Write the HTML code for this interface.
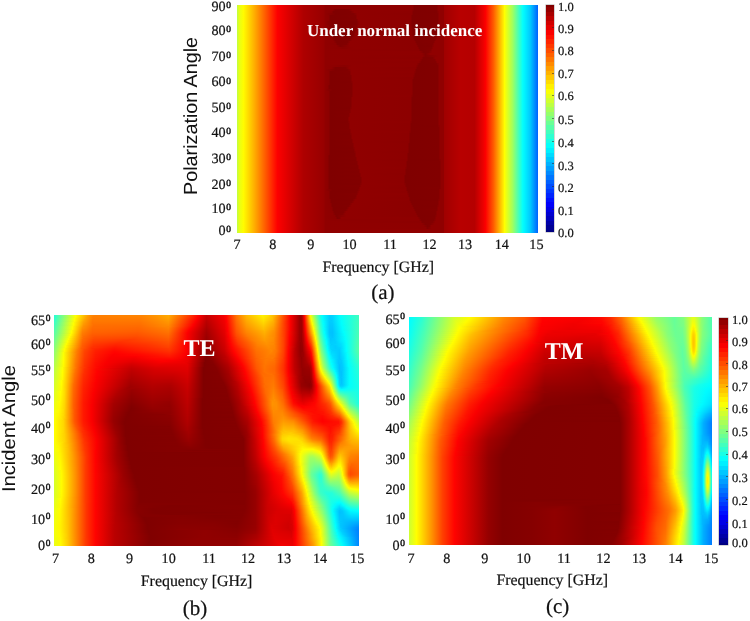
<!DOCTYPE html>
<html><head><meta charset="utf-8"><title>Absorption maps</title>
<style>
html,body{margin:0;padding:0;background:#fff;}
#wrap{position:relative;width:750px;height:621px;overflow:hidden;background:#fff;}
.hm{position:absolute;}
.hm i{position:absolute;left:0;width:100%;display:block;}
.cb{position:absolute;box-shadow:0 0 0 0.5px rgba(90,90,90,.5);}
.tk{position:absolute;width:2px;height:1px;background:rgba(40,40,40,.55);}
.ov{position:absolute;left:0;top:0;text-rendering:geometricPrecision;}
.ov .k{stroke:#111;stroke-width:0.2;}
.ov .s{stroke-width:0.45;}
</style></head><body>
<div id="wrap">
<div class="hm" style="left:237px;top:5px;width:301px;height:228px">
<i style="top:0px;height:2px;background:linear-gradient(90deg,#c8ff37 0.5px,#e9ff16 2.5px,#fffc00 6.5px,#ffad00 17.5px,#ff1500 37.5px,#fd0000 40.5px,#ae0000 66.5px,#980000 86.5px,#900000 88.5px,#8d0000 175.5px,#800000 177.5px,#820000 199.5px,#900000 201.5px,#900000 206.5px,#a00000 207.5px,#b80000 223.5px,#b50000 237.5px,#e00 246.5px,#fd0000 248.5px,#ff5c00 256.5px,#ffed00 266.5px,#ff0 267.5px,#a2ff5d 275.5px,#08fff7 285.5px,#00f4ff 287.5px,#00c7ff 293.5px,#0068ff 300.5px)"></i>
<i style="top:2px;height:2px;background:linear-gradient(90deg,#c8ff37 0.5px,#e9ff16 2.5px,#fffc00 6.5px,#ffad00 17.5px,#ff1500 37.5px,#fd0000 40.5px,#ae0000 66.5px,#980000 86.5px,#900000 88.5px,#8d0000 175.5px,#800000 177.5px,#820000 199.5px,#900000 201.5px,#900000 206.5px,#a00000 207.5px,#b80000 223.5px,#b50000 237.5px,#e00 246.5px,#fd0000 248.5px,#ff5c00 256.5px,#ffed00 266.5px,#ff0 267.5px,#a2ff5d 275.5px,#08fff7 285.5px,#00f4ff 287.5px,#00c7ff 293.5px,#0068ff 300.5px)"></i>
<i style="top:4px;height:2px;background:linear-gradient(90deg,#c8ff37 0.5px,#e9ff16 2.5px,#fffc00 6.5px,#ffad00 17.5px,#ff1500 37.5px,#fd0000 40.5px,#ae0000 66.5px,#980000 86.5px,#900000 88.5px,#8e0000 95.5px,#810000 98.5px,#820000 111.5px,#900000 115.5px,#8e0000 174.5px,#800000 177.5px,#820000 199.5px,#900000 201.5px,#900000 206.5px,#a00000 207.5px,#b80000 223.5px,#b50000 237.5px,#e00 246.5px,#fd0000 248.5px,#ff5c00 256.5px,#ffed00 266.5px,#ff0 267.5px,#a2ff5d 275.5px,#08fff7 285.5px,#00f4ff 287.5px,#00c7ff 293.5px,#0068ff 300.5px)"></i>
<i style="top:6px;height:2px;background:linear-gradient(90deg,#c8ff37 0.5px,#e9ff16 2.5px,#fffc00 6.5px,#ffad00 17.5px,#ff1500 37.5px,#fd0000 40.5px,#ae0000 66.5px,#980000 86.5px,#900000 88.5px,#8c0000 94.5px,#800000 96.5px,#820000 113.5px,#900000 117.5px,#8d0000 174.5px,#800000 176.5px,#810000 199.5px,#900000 202.5px,#900000 206.5px,#a00000 207.5px,#b80000 223.5px,#b50000 237.5px,#e00 246.5px,#fd0000 248.5px,#ff5c00 256.5px,#ffed00 266.5px,#ff0 267.5px,#a2ff5d 275.5px,#08fff7 285.5px,#00f4ff 287.5px,#00c7ff 293.5px,#0068ff 300.5px)"></i>
<i style="top:8px;height:2px;background:linear-gradient(90deg,#c8ff37 0.5px,#e9ff16 2.5px,#fffc00 6.5px,#ffad00 17.5px,#ff1500 37.5px,#fd0000 40.5px,#ae0000 66.5px,#980000 86.5px,#900000 88.5px,#800 93.5px,#800000 98.5px,#820000 116.5px,#900000 120.5px,#8c0000 174.5px,#800000 176.5px,#820000 200.5px,#900000 202.5px,#900000 206.5px,#a00000 207.5px,#b80000 223.5px,#b50000 237.5px,#e00 246.5px,#fd0000 248.5px,#ff5c00 256.5px,#ffed00 266.5px,#ff0 267.5px,#a2ff5d 275.5px,#08fff7 285.5px,#00f4ff 287.5px,#00c7ff 293.5px,#0068ff 300.5px)"></i>
<i style="top:10px;height:2px;background:linear-gradient(90deg,#c8ff37 0.5px,#e9ff16 2.5px,#fffc00 6.5px,#ffad00 17.5px,#ff1500 37.5px,#fd0000 40.5px,#ae0000 66.5px,#980000 86.5px,#900000 88.5px,#8d0000 91.5px,#800000 93.5px,#830000 118.5px,#900000 120.5px,#8d0000 173.5px,#800000 175.5px,#820000 200.5px,#900000 202.5px,#900000 206.5px,#a00000 207.5px,#b80000 223.5px,#b50000 237.5px,#e00 246.5px,#fd0000 248.5px,#ff5c00 256.5px,#ffed00 266.5px,#ff0 267.5px,#a2ff5d 275.5px,#08fff7 285.5px,#00f4ff 287.5px,#00c7ff 293.5px,#0068ff 300.5px)"></i>
<i style="top:12px;height:2px;background:linear-gradient(90deg,#c8ff37 0.5px,#e9ff16 2.5px,#fffc00 6.5px,#ffad00 17.5px,#ff1500 37.5px,#fd0000 40.5px,#ae0000 66.5px,#980000 86.5px,#900000 88.5px,#8d0000 91.5px,#800000 93.5px,#820000 118.5px,#900000 120.5px,#8d0000 173.5px,#800000 175.5px,#820000 200.5px,#900000 202.5px,#900000 206.5px,#a00000 207.5px,#b80000 223.5px,#b50000 237.5px,#e00 246.5px,#fd0000 248.5px,#ff5c00 256.5px,#ffed00 266.5px,#ff0 267.5px,#a2ff5d 275.5px,#08fff7 285.5px,#00f4ff 287.5px,#00c7ff 293.5px,#0068ff 300.5px)"></i>
<i style="top:14px;height:2px;background:linear-gradient(90deg,#c8ff37 0.5px,#e9ff16 2.5px,#fffc00 6.5px,#ffad00 17.5px,#ff1500 37.5px,#fd0000 40.5px,#ae0000 66.5px,#980000 86.5px,#900000 88.5px,#8d0000 91.5px,#800000 93.5px,#830000 119.5px,#900000 121.5px,#8d0000 173.5px,#800000 175.5px,#820000 200.5px,#900000 202.5px,#900000 206.5px,#a00000 207.5px,#b80000 223.5px,#b50000 237.5px,#e00 246.5px,#fd0000 248.5px,#ff5c00 256.5px,#ffed00 266.5px,#ff0 267.5px,#a2ff5d 275.5px,#08fff7 285.5px,#00f4ff 287.5px,#00c7ff 293.5px,#0068ff 300.5px)"></i>
<i style="top:16px;height:2px;background:linear-gradient(90deg,#c8ff37 0.5px,#e9ff16 2.5px,#fffc00 6.5px,#ffad00 17.5px,#ff1500 37.5px,#fd0000 40.5px,#ae0000 66.5px,#980000 86.5px,#900000 88.5px,#800 91.5px,#800000 95.5px,#810000 119.5px,#900000 122.5px,#8d0000 173.5px,#800000 175.5px,#820000 200.5px,#900000 202.5px,#900000 206.5px,#a00000 207.5px,#b80000 223.5px,#b50000 237.5px,#e00 246.5px,#fd0000 248.5px,#ff5c00 256.5px,#ffed00 266.5px,#ff0 267.5px,#a2ff5d 275.5px,#08fff7 285.5px,#00f4ff 287.5px,#00c7ff 293.5px,#0068ff 300.5px)"></i>
<i style="top:18px;height:2px;background:linear-gradient(90deg,#c8ff37 0.5px,#e9ff16 2.5px,#fffc00 6.5px,#ffad00 17.5px,#ff1500 37.5px,#fd0000 40.5px,#ae0000 66.5px,#980000 86.5px,#900000 88.5px,#800 91.5px,#800000 95.5px,#810000 119.5px,#900000 122.5px,#8d0000 173.5px,#800000 175.5px,#830000 200.5px,#900000 202.5px,#900000 206.5px,#a00000 207.5px,#b80000 223.5px,#b50000 237.5px,#e00 246.5px,#fd0000 248.5px,#ff5c00 256.5px,#ffed00 266.5px,#ff0 267.5px,#a2ff5d 275.5px,#08fff7 285.5px,#00f4ff 287.5px,#00c7ff 293.5px,#0068ff 300.5px)"></i>
<i style="top:20px;height:2px;background:linear-gradient(90deg,#c8ff37 0.5px,#e9ff16 2.5px,#fffc00 6.5px,#ffad00 17.5px,#ff1500 37.5px,#fd0000 40.5px,#ae0000 66.5px,#980000 86.5px,#900000 88.5px,#8d0000 91.5px,#800000 93.5px,#830000 119.5px,#900000 121.5px,#8d0000 173.5px,#800000 175.5px,#820000 199.5px,#900000 201.5px,#900000 206.5px,#a00000 207.5px,#b80000 223.5px,#b50000 237.5px,#e00 246.5px,#fd0000 248.5px,#ff5c00 256.5px,#ffed00 266.5px,#ff0 267.5px,#a2ff5d 275.5px,#08fff7 285.5px,#00f4ff 287.5px,#00c7ff 293.5px,#0068ff 300.5px)"></i>
<i style="top:22px;height:2px;background:linear-gradient(90deg,#c8ff37 0.5px,#e9ff16 2.5px,#fffc00 6.5px,#ffad00 17.5px,#ff1500 37.5px,#fd0000 40.5px,#ae0000 66.5px,#980000 86.5px,#900000 88.5px,#800 92.5px,#800000 96.5px,#820000 118.5px,#900000 120.5px,#8e0000 173.5px,#800000 176.5px,#820000 199.5px,#900000 201.5px,#900000 206.5px,#a00000 207.5px,#b80000 223.5px,#b50000 237.5px,#e00 246.5px,#fd0000 248.5px,#ff5c00 256.5px,#ffed00 266.5px,#ff0 267.5px,#a2ff5d 275.5px,#08fff7 285.5px,#00f4ff 287.5px,#00c7ff 293.5px,#0068ff 300.5px)"></i>
<i style="top:24px;height:2px;background:linear-gradient(90deg,#c8ff37 0.5px,#e9ff16 2.5px,#fffc00 6.5px,#ffad00 17.5px,#ff1500 37.5px,#fd0000 40.5px,#ae0000 66.5px,#980000 86.5px,#900000 88.5px,#8d0000 92.5px,#800000 94.5px,#810000 117.5px,#900000 120.5px,#8d0000 174.5px,#800000 176.5px,#820000 199.5px,#900000 201.5px,#900000 206.5px,#a00000 207.5px,#b80000 223.5px,#b50000 237.5px,#e00 246.5px,#fd0000 248.5px,#ff5c00 256.5px,#ffed00 266.5px,#ff0 267.5px,#a2ff5d 275.5px,#08fff7 285.5px,#00f4ff 287.5px,#00c7ff 293.5px,#0068ff 300.5px)"></i>
<i style="top:26px;height:2px;background:linear-gradient(90deg,#c8ff37 0.5px,#e9ff16 2.5px,#fffc00 6.5px,#ffad00 17.5px,#ff1500 37.5px,#fd0000 40.5px,#ae0000 66.5px,#980000 86.5px,#900000 88.5px,#8d0000 92.5px,#800000 94.5px,#830000 117.5px,#900000 119.5px,#8d0000 174.5px,#800000 176.5px,#820000 199.5px,#900000 201.5px,#900000 206.5px,#a00000 207.5px,#b80000 223.5px,#b50000 237.5px,#e00 246.5px,#fd0000 248.5px,#ff5c00 256.5px,#ffed00 266.5px,#ff0 267.5px,#a2ff5d 275.5px,#08fff7 285.5px,#00f4ff 287.5px,#00c7ff 293.5px,#0068ff 300.5px)"></i>
<i style="top:28px;height:2px;background:linear-gradient(90deg,#c8ff37 0.5px,#e9ff16 2.5px,#fffc00 6.5px,#ffad00 17.5px,#ff1500 37.5px,#fd0000 40.5px,#ae0000 66.5px,#980000 86.5px,#900000 88.5px,#8c0000 93.5px,#800000 95.5px,#820000 116.5px,#900000 118.5px,#8d0000 174.5px,#800000 176.5px,#830000 199.5px,#900000 201.5px,#900000 206.5px,#a00000 207.5px,#b80000 223.5px,#b50000 237.5px,#e00 246.5px,#fd0000 248.5px,#ff5c00 256.5px,#ffed00 266.5px,#ff0 267.5px,#a2ff5d 275.5px,#08fff7 285.5px,#00f4ff 287.5px,#00c7ff 293.5px,#0068ff 300.5px)"></i>
<i style="top:30px;height:2px;background:linear-gradient(90deg,#c8ff37 0.5px,#e9ff16 2.5px,#fffc00 6.5px,#ffad00 17.5px,#ff1500 37.5px,#fd0000 40.5px,#ae0000 66.5px,#980000 86.5px,#900000 88.5px,#8e0000 93.5px,#800000 96.5px,#820000 115.5px,#900000 118.5px,#8e0000 174.5px,#800000 177.5px,#820000 198.5px,#900000 200.5px,#900000 206.5px,#a00000 207.5px,#b80000 223.5px,#b50000 237.5px,#e00 246.5px,#fd0000 248.5px,#ff5c00 256.5px,#ffed00 266.5px,#ff0 267.5px,#a2ff5d 275.5px,#08fff7 285.5px,#00f4ff 287.5px,#00c7ff 293.5px,#0068ff 300.5px)"></i>
<i style="top:32px;height:2px;background:linear-gradient(90deg,#c8ff37 0.5px,#e9ff16 2.5px,#fffc00 6.5px,#ffad00 17.5px,#ff1500 37.5px,#fd0000 40.5px,#ae0000 66.5px,#980000 86.5px,#900000 88.5px,#8e0000 94.5px,#800000 97.5px,#810000 113.5px,#900000 116.5px,#8d0000 175.5px,#800000 177.5px,#810000 197.5px,#900000 200.5px,#900000 206.5px,#a00000 207.5px,#b80000 223.5px,#b50000 237.5px,#e00 246.5px,#fd0000 248.5px,#ff5c00 256.5px,#ffed00 266.5px,#ff0 267.5px,#a2ff5d 275.5px,#08fff7 285.5px,#00f4ff 287.5px,#00c7ff 293.5px,#0068ff 300.5px)"></i>
<i style="top:34px;height:2px;background:linear-gradient(90deg,#c8ff37 0.5px,#e9ff16 2.5px,#fffc00 6.5px,#ffad00 17.5px,#ff1500 37.5px,#fd0000 40.5px,#ae0000 66.5px,#980000 86.5px,#900000 88.5px,#8e0000 95.5px,#800000 98.5px,#820000 112.5px,#900000 115.5px,#8c0000 176.5px,#800000 178.5px,#830000 197.5px,#900000 199.5px,#900000 206.5px,#a00000 207.5px,#b80000 223.5px,#b50000 237.5px,#e00 246.5px,#fd0000 248.5px,#ff5c00 256.5px,#ffed00 266.5px,#ff0 267.5px,#a2ff5d 275.5px,#08fff7 285.5px,#00f4ff 287.5px,#00c7ff 293.5px,#0068ff 300.5px)"></i>
<i style="top:36px;height:2px;background:linear-gradient(90deg,#c8ff37 0.5px,#e9ff16 2.5px,#fffc00 6.5px,#ffad00 17.5px,#ff1500 37.5px,#fd0000 40.5px,#ae0000 66.5px,#980000 86.5px,#900000 88.5px,#8e0000 96.5px,#800000 99.5px,#810000 110.5px,#900000 113.5px,#8c0000 177.5px,#800000 179.5px,#830000 196.5px,#900000 198.5px,#900000 206.5px,#a00000 207.5px,#b80000 223.5px,#b50000 237.5px,#e00 246.5px,#fd0000 248.5px,#ff5c00 256.5px,#ffed00 266.5px,#ff0 267.5px,#a2ff5d 275.5px,#08fff7 285.5px,#00f4ff 287.5px,#00c7ff 293.5px,#0068ff 300.5px)"></i>
<i style="top:38px;height:2px;background:linear-gradient(90deg,#c8ff37 0.5px,#e9ff16 2.5px,#fffc00 6.5px,#ffad00 17.5px,#ff1500 37.5px,#fd0000 40.5px,#ae0000 66.5px,#980000 86.5px,#900000 88.5px,#8c0000 98.5px,#800000 100.5px,#820000 109.5px,#900000 112.5px,#8c0000 178.5px,#800000 180.5px,#820000 195.5px,#900000 197.5px,#900000 206.5px,#a00000 207.5px,#b80000 223.5px,#b50000 237.5px,#e00 246.5px,#fd0000 248.5px,#ff5c00 256.5px,#ffed00 266.5px,#ff0 267.5px,#a2ff5d 275.5px,#08fff7 285.5px,#00f4ff 287.5px,#00c7ff 293.5px,#0068ff 300.5px)"></i>
<i style="top:40px;height:2px;background:linear-gradient(90deg,#c8ff37 0.5px,#e9ff16 2.5px,#fffc00 6.5px,#ffad00 17.5px,#ff1500 37.5px,#fd0000 40.5px,#ae0000 66.5px,#980000 86.5px,#900000 88.5px,#8e0000 99.5px,#800000 103.5px,#800 108.5px,#900000 113.5px,#8c0000 179.5px,#800000 181.5px,#810000 194.5px,#900000 197.5px,#900000 206.5px,#a00000 207.5px,#b80000 223.5px,#b50000 237.5px,#e00 246.5px,#fd0000 248.5px,#ff5c00 256.5px,#ffed00 266.5px,#ff0 267.5px,#a2ff5d 275.5px,#08fff7 285.5px,#00f4ff 287.5px,#00c7ff 293.5px,#0068ff 300.5px)"></i>
<i style="top:42px;height:2px;background:linear-gradient(90deg,#c8ff37 0.5px,#e9ff16 2.5px,#fffc00 6.5px,#ffad00 17.5px,#ff1500 37.5px,#fd0000 40.5px,#ae0000 66.5px,#980000 86.5px,#900000 88.5px,#8d0000 102.5px,#890000 105.5px,#900000 116.5px,#8c0000 180.5px,#800000 182.5px,#830000 194.5px,#900000 196.5px,#900000 206.5px,#a00000 207.5px,#b80000 223.5px,#b50000 237.5px,#e00 246.5px,#fd0000 248.5px,#ff5c00 256.5px,#ffed00 266.5px,#ff0 267.5px,#a2ff5d 275.5px,#08fff7 285.5px,#00f4ff 287.5px,#00c7ff 293.5px,#0068ff 300.5px)"></i>
<i style="top:44px;height:2px;background:linear-gradient(90deg,#c8ff37 0.5px,#e9ff16 2.5px,#fffc00 6.5px,#ffad00 17.5px,#ff1500 37.5px,#fd0000 40.5px,#ae0000 66.5px,#980000 86.5px,#900000 88.5px,#8c0000 181.5px,#800000 183.5px,#830000 193.5px,#900000 195.5px,#900000 206.5px,#a00000 207.5px,#b80000 223.5px,#b50000 237.5px,#e00 246.5px,#fd0000 248.5px,#ff5c00 256.5px,#ffed00 266.5px,#ff0 267.5px,#a2ff5d 275.5px,#08fff7 285.5px,#00f4ff 287.5px,#00c7ff 293.5px,#0068ff 300.5px)"></i>
<i style="top:46px;height:2px;background:linear-gradient(90deg,#c8ff37 0.5px,#e9ff16 2.5px,#fffc00 6.5px,#ffad00 17.5px,#ff1500 37.5px,#fd0000 40.5px,#ae0000 66.5px,#980000 86.5px,#900000 88.5px,#8e0000 182.5px,#800000 186.5px,#820000 191.5px,#900000 195.5px,#900000 206.5px,#a00000 207.5px,#b80000 223.5px,#b50000 237.5px,#e00 246.5px,#fd0000 248.5px,#ff5c00 256.5px,#ffed00 266.5px,#ff0 267.5px,#a2ff5d 275.5px,#08fff7 285.5px,#00f4ff 287.5px,#00c7ff 293.5px,#0068ff 300.5px)"></i>
<i style="top:48px;height:2px;background:linear-gradient(90deg,#c8ff37 0.5px,#e9ff16 2.5px,#fffc00 6.5px,#ffad00 17.5px,#ff1500 37.5px,#fd0000 40.5px,#ae0000 66.5px,#980000 86.5px,#900000 88.5px,#8e0000 184.5px,#800000 188.5px,#900000 193.5px,#900000 206.5px,#a00000 207.5px,#b80000 223.5px,#b50000 237.5px,#e00 246.5px,#fd0000 248.5px,#ff5c00 256.5px,#ffed00 266.5px,#ff0 267.5px,#a2ff5d 275.5px,#08fff7 285.5px,#00f4ff 287.5px,#00c7ff 293.5px,#0068ff 300.5px)"></i>
<i style="top:50px;height:2px;background:linear-gradient(90deg,#c8ff37 0.5px,#e9ff16 2.5px,#fffc00 6.5px,#ffad00 17.5px,#ff1500 37.5px,#fd0000 40.5px,#ae0000 66.5px,#980000 86.5px,#900000 88.5px,#8d0000 185.5px,#810000 188.5px,#900000 201.5px,#900000 206.5px,#a00000 207.5px,#b80000 223.5px,#b50000 237.5px,#e00 246.5px,#fd0000 248.5px,#ff5c00 256.5px,#ffed00 266.5px,#ff0 267.5px,#a2ff5d 275.5px,#08fff7 285.5px,#00f4ff 287.5px,#00c7ff 293.5px,#0068ff 300.5px)"></i>
<i style="top:52px;height:2px;background:linear-gradient(90deg,#c8ff37 0.5px,#e9ff16 2.5px,#fffc00 6.5px,#ffad00 17.5px,#ff1500 37.5px,#fd0000 40.5px,#ae0000 66.5px,#980000 86.5px,#900000 88.5px,#8c0000 184.5px,#800000 186.5px,#810000 195.5px,#900000 198.5px,#900000 206.5px,#a00000 207.5px,#b80000 223.5px,#b50000 237.5px,#e00 246.5px,#fd0000 248.5px,#ff5c00 256.5px,#ffed00 266.5px,#ff0 267.5px,#a2ff5d 275.5px,#08fff7 285.5px,#00f4ff 287.5px,#00c7ff 293.5px,#0068ff 300.5px)"></i>
<i style="top:54px;height:2px;background:linear-gradient(90deg,#c8ff37 0.5px,#e9ff16 2.5px,#fffc00 6.5px,#ffad00 17.5px,#ff1500 37.5px,#fd0000 40.5px,#ae0000 66.5px,#980000 86.5px,#900000 88.5px,#8e0000 182.5px,#800000 185.5px,#830000 197.5px,#900000 199.5px,#900000 206.5px,#a00000 207.5px,#b80000 223.5px,#b50000 237.5px,#e00 246.5px,#fd0000 248.5px,#ff5c00 256.5px,#ffed00 266.5px,#ff0 267.5px,#a2ff5d 275.5px,#08fff7 285.5px,#00f4ff 287.5px,#00c7ff 293.5px,#0068ff 300.5px)"></i>
<i style="top:56px;height:2px;background:linear-gradient(90deg,#c8ff37 0.5px,#e9ff16 2.5px,#fffc00 6.5px,#ffad00 17.5px,#ff1500 37.5px,#fd0000 40.5px,#ae0000 66.5px,#980000 86.5px,#900000 88.5px,#8d0000 181.5px,#800000 184.5px,#830000 198.5px,#900000 200.5px,#900000 206.5px,#a00000 207.5px,#b80000 223.5px,#b50000 237.5px,#e00 246.5px,#fd0000 248.5px,#ff5c00 256.5px,#ffed00 266.5px,#ff0 267.5px,#a2ff5d 275.5px,#08fff7 285.5px,#00f4ff 287.5px,#00c7ff 293.5px,#0068ff 300.5px)"></i>
<i style="top:58px;height:2px;background:linear-gradient(90deg,#c8ff37 0.5px,#e9ff16 2.5px,#fffc00 6.5px,#ffad00 17.5px,#ff1500 37.5px,#fd0000 40.5px,#ae0000 66.5px,#980000 86.5px,#900000 88.5px,#8e0000 179.5px,#800000 182.5px,#820000 199.5px,#900000 202.5px,#900000 206.5px,#a00000 207.5px,#b80000 223.5px,#b50000 237.5px,#e00 246.5px,#fd0000 248.5px,#ff5c00 256.5px,#ffed00 266.5px,#ff0 267.5px,#a2ff5d 275.5px,#08fff7 285.5px,#00f4ff 287.5px,#00c7ff 293.5px,#0068ff 300.5px)"></i>
<i style="top:60px;height:2px;background:linear-gradient(90deg,#c8ff37 0.5px,#e9ff16 2.5px,#fffc00 6.5px,#ffad00 17.5px,#ff1500 37.5px,#fd0000 40.5px,#ae0000 66.5px,#980000 86.5px,#900000 88.5px,#8e0000 96.5px,#890000 107.5px,#900000 115.5px,#8e0000 178.5px,#800000 181.5px,#820000 200.5px,#900000 202.5px,#900000 206.5px,#a00000 207.5px,#b80000 223.5px,#b50000 237.5px,#e00 246.5px,#fd0000 248.5px,#ff5c00 256.5px,#ffed00 266.5px,#ff0 267.5px,#a2ff5d 275.5px,#08fff7 285.5px,#00f4ff 287.5px,#00c7ff 293.5px,#0068ff 300.5px)"></i>
<i style="top:62px;height:2px;background:linear-gradient(90deg,#c8ff37 0.5px,#e9ff16 2.5px,#fffc00 6.5px,#ffad00 17.5px,#ff1500 37.5px,#fd0000 40.5px,#ae0000 66.5px,#980000 86.5px,#900000 88.5px,#8e0000 94.5px,#800000 98.5px,#820000 108.5px,#900000 112.5px,#8c0000 178.5px,#800000 180.5px,#820000 200.5px,#900000 202.5px,#900000 206.5px,#a00000 207.5px,#b80000 223.5px,#b50000 237.5px,#e00 246.5px,#fd0000 248.5px,#ff5c00 256.5px,#ffed00 266.5px,#ff0 267.5px,#a2ff5d 275.5px,#08fff7 285.5px,#00f4ff 287.5px,#00c7ff 293.5px,#0068ff 300.5px)"></i>
<i style="top:64px;height:2px;background:linear-gradient(90deg,#c8ff37 0.5px,#e9ff16 2.5px,#fffc00 6.5px,#ffad00 17.5px,#ff1500 37.5px,#fd0000 40.5px,#ae0000 66.5px,#980000 86.5px,#900000 88.5px,#800 93.5px,#800000 98.5px,#820000 110.5px,#900000 114.5px,#8d0000 177.5px,#800000 179.5px,#820000 200.5px,#900000 202.5px,#900000 206.5px,#a00000 207.5px,#b80000 223.5px,#b50000 237.5px,#e00 246.5px,#fd0000 248.5px,#ff5c00 256.5px,#ffed00 266.5px,#ff0 267.5px,#a2ff5d 275.5px,#08fff7 285.5px,#00f4ff 287.5px,#00c7ff 293.5px,#0068ff 300.5px)"></i>
<i style="top:66px;height:2px;background:linear-gradient(90deg,#c8ff37 0.5px,#e9ff16 2.5px,#fffc00 6.5px,#ffad00 17.5px,#ff1500 37.5px,#fd0000 40.5px,#ae0000 66.5px,#980000 86.5px,#900000 88.5px,#8d0000 91.5px,#800000 93.5px,#830000 112.5px,#900000 114.5px,#8e0000 176.5px,#800000 179.5px,#820000 200.5px,#900000 202.5px,#900000 206.5px,#a00000 207.5px,#b80000 223.5px,#b50000 237.5px,#e00 246.5px,#fd0000 248.5px,#ff5c00 256.5px,#ffed00 266.5px,#ff0 267.5px,#a2ff5d 275.5px,#08fff7 285.5px,#00f4ff 287.5px,#00c7ff 293.5px,#0068ff 300.5px)"></i>
<i style="top:68px;height:2px;background:linear-gradient(90deg,#c8ff37 0.5px,#e9ff16 2.5px,#fffc00 6.5px,#ffad00 17.5px,#ff1500 37.5px,#fd0000 40.5px,#ae0000 66.5px,#980000 86.5px,#900000 88.5px,#8d0000 91.5px,#800000 93.5px,#820000 112.5px,#900000 114.5px,#8d0000 176.5px,#800000 178.5px,#820000 200.5px,#900000 202.5px,#900000 206.5px,#a00000 207.5px,#b80000 223.5px,#b50000 237.5px,#e00 246.5px,#fd0000 248.5px,#ff5c00 256.5px,#ffed00 266.5px,#ff0 267.5px,#a2ff5d 275.5px,#08fff7 285.5px,#00f4ff 287.5px,#00c7ff 293.5px,#0068ff 300.5px)"></i>
<i style="top:70px;height:2px;background:linear-gradient(90deg,#c8ff37 0.5px,#e9ff16 2.5px,#fffc00 6.5px,#ffad00 17.5px,#ff1500 37.5px,#fd0000 40.5px,#ae0000 66.5px,#980000 86.5px,#900000 88.5px,#8d0000 91.5px,#800000 93.5px,#830000 113.5px,#900000 115.5px,#8e0000 175.5px,#800000 178.5px,#820000 200.5px,#900000 202.5px,#900000 206.5px,#a00000 207.5px,#b80000 223.5px,#b50000 237.5px,#e00 246.5px,#fd0000 248.5px,#ff5c00 256.5px,#ffed00 266.5px,#ff0 267.5px,#a2ff5d 275.5px,#08fff7 285.5px,#00f4ff 287.5px,#00c7ff 293.5px,#0068ff 300.5px)"></i>
<i style="top:72px;height:2px;background:linear-gradient(90deg,#c8ff37 0.5px,#e9ff16 2.5px,#fffc00 6.5px,#ffad00 17.5px,#ff1500 37.5px,#fd0000 40.5px,#ae0000 66.5px,#980000 86.5px,#900000 88.5px,#8d0000 91.5px,#800000 93.5px,#820000 113.5px,#900000 115.5px,#8c0000 175.5px,#800000 177.5px,#820000 200.5px,#900000 202.5px,#900000 206.5px,#a00000 207.5px,#b80000 223.5px,#b50000 237.5px,#e00 246.5px,#fd0000 248.5px,#ff5c00 256.5px,#ffed00 266.5px,#ff0 267.5px,#a2ff5d 275.5px,#08fff7 285.5px,#00f4ff 287.5px,#00c7ff 293.5px,#0068ff 300.5px)"></i>
<i style="top:74px;height:2px;background:linear-gradient(90deg,#c8ff37 0.5px,#e9ff16 2.5px,#fffc00 6.5px,#ffad00 17.5px,#ff1500 37.5px,#fd0000 40.5px,#ae0000 66.5px,#980000 86.5px,#900000 88.5px,#8d0000 91.5px,#800000 93.5px,#820000 113.5px,#900000 115.5px,#8d0000 174.5px,#800000 176.5px,#820000 200.5px,#900000 202.5px,#900000 206.5px,#a00000 207.5px,#b80000 223.5px,#b50000 237.5px,#e00 246.5px,#fd0000 248.5px,#ff5c00 256.5px,#ffed00 266.5px,#ff0 267.5px,#a2ff5d 275.5px,#08fff7 285.5px,#00f4ff 287.5px,#00c7ff 293.5px,#0068ff 300.5px)"></i>
<i style="top:76px;height:2px;background:linear-gradient(90deg,#c8ff37 0.5px,#e9ff16 2.5px,#fffc00 6.5px,#ffad00 17.5px,#ff1500 37.5px,#fd0000 40.5px,#ae0000 66.5px,#980000 86.5px,#900000 88.5px,#8d0000 91.5px,#800000 93.5px,#810000 113.5px,#900000 116.5px,#8d0000 174.5px,#800000 176.5px,#820000 200.5px,#900000 202.5px,#900000 206.5px,#a00000 207.5px,#b80000 223.5px,#b50000 237.5px,#e00 246.5px,#fd0000 248.5px,#ff5c00 256.5px,#ffed00 266.5px,#ff0 267.5px,#a2ff5d 275.5px,#08fff7 285.5px,#00f4ff 287.5px,#00c7ff 293.5px,#0068ff 300.5px)"></i>
<i style="top:78px;height:2px;background:linear-gradient(90deg,#c8ff37 0.5px,#e9ff16 2.5px,#fffc00 6.5px,#ffad00 17.5px,#ff1500 37.5px,#fd0000 40.5px,#ae0000 66.5px,#980000 86.5px,#900000 88.5px,#8c0000 91.5px,#800000 93.5px,#820000 114.5px,#900000 116.5px,#8d0000 174.5px,#800000 176.5px,#820000 200.5px,#900000 202.5px,#900000 206.5px,#a00000 207.5px,#b80000 223.5px,#b50000 237.5px,#e00 246.5px,#fd0000 248.5px,#ff5c00 256.5px,#ffed00 266.5px,#ff0 267.5px,#a2ff5d 275.5px,#08fff7 285.5px,#00f4ff 287.5px,#00c7ff 293.5px,#0068ff 300.5px)"></i>
<i style="top:80px;height:2px;background:linear-gradient(90deg,#c8ff37 0.5px,#e9ff16 2.5px,#fffc00 6.5px,#ffad00 17.5px,#ff1500 37.5px,#fd0000 40.5px,#ae0000 66.5px,#980000 86.5px,#900000 88.5px,#8d0000 90.5px,#800000 92.5px,#820000 114.5px,#900000 116.5px,#8d0000 174.5px,#800000 176.5px,#820000 200.5px,#900000 202.5px,#900000 206.5px,#a00000 207.5px,#b80000 223.5px,#b50000 237.5px,#e00 246.5px,#fd0000 248.5px,#ff5c00 256.5px,#ffed00 266.5px,#ff0 267.5px,#a2ff5d 275.5px,#08fff7 285.5px,#00f4ff 287.5px,#00c7ff 293.5px,#0068ff 300.5px)"></i>
<i style="top:82px;height:2px;background:linear-gradient(90deg,#c8ff37 0.5px,#e9ff16 2.5px,#fffc00 6.5px,#ffad00 17.5px,#ff1500 37.5px,#fd0000 40.5px,#ae0000 66.5px,#980000 86.5px,#900000 88.5px,#8d0000 90.5px,#800000 92.5px,#820000 114.5px,#900000 116.5px,#8d0000 174.5px,#800000 176.5px,#820000 200.5px,#900000 202.5px,#900000 206.5px,#a00000 207.5px,#b80000 223.5px,#b50000 237.5px,#e00 246.5px,#fd0000 248.5px,#ff5c00 256.5px,#ffed00 266.5px,#ff0 267.5px,#a2ff5d 275.5px,#08fff7 285.5px,#00f4ff 287.5px,#00c7ff 293.5px,#0068ff 300.5px)"></i>
<i style="top:84px;height:2px;background:linear-gradient(90deg,#c8ff37 0.5px,#e9ff16 2.5px,#fffc00 6.5px,#ffad00 17.5px,#ff1500 37.5px,#fd0000 40.5px,#ae0000 66.5px,#980000 86.5px,#900000 88.5px,#800 91.5px,#800000 95.5px,#820000 114.5px,#900000 116.5px,#8d0000 174.5px,#800000 176.5px,#820000 200.5px,#900000 202.5px,#900000 206.5px,#a00000 207.5px,#b80000 223.5px,#b50000 237.5px,#e00 246.5px,#fd0000 248.5px,#ff5c00 256.5px,#ffed00 266.5px,#ff0 267.5px,#a2ff5d 275.5px,#08fff7 285.5px,#00f4ff 287.5px,#00c7ff 293.5px,#0068ff 300.5px)"></i>
<i style="top:86px;height:2px;background:linear-gradient(90deg,#c8ff37 0.5px,#e9ff16 2.5px,#fffc00 6.5px,#ffad00 17.5px,#ff1500 37.5px,#fd0000 40.5px,#ae0000 66.5px,#980000 86.5px,#900000 88.5px,#8d0000 91.5px,#800000 93.5px,#820000 114.5px,#900000 116.5px,#8d0000 174.5px,#800000 176.5px,#820000 200.5px,#900000 202.5px,#900000 206.5px,#a00000 207.5px,#b80000 223.5px,#b50000 237.5px,#e00 246.5px,#fd0000 248.5px,#ff5c00 256.5px,#ffed00 266.5px,#ff0 267.5px,#a2ff5d 275.5px,#08fff7 285.5px,#00f4ff 287.5px,#00c7ff 293.5px,#0068ff 300.5px)"></i>
<i style="top:88px;height:2px;background:linear-gradient(90deg,#c8ff37 0.5px,#e9ff16 2.5px,#fffc00 6.5px,#ffad00 17.5px,#ff1500 37.5px,#fd0000 40.5px,#ae0000 66.5px,#980000 86.5px,#900000 88.5px,#8d0000 91.5px,#800000 93.5px,#820000 114.5px,#900000 116.5px,#8d0000 174.5px,#800000 176.5px,#820000 200.5px,#900000 202.5px,#900000 206.5px,#a00000 207.5px,#b80000 223.5px,#b50000 237.5px,#e00 246.5px,#fd0000 248.5px,#ff5c00 256.5px,#ffed00 266.5px,#ff0 267.5px,#a2ff5d 275.5px,#08fff7 285.5px,#00f4ff 287.5px,#00c7ff 293.5px,#0068ff 300.5px)"></i>
<i style="top:90px;height:2px;background:linear-gradient(90deg,#c8ff37 0.5px,#e9ff16 2.5px,#fffc00 6.5px,#ffad00 17.5px,#ff1500 37.5px,#fd0000 40.5px,#ae0000 66.5px,#980000 86.5px,#900000 88.5px,#8d0000 91.5px,#800000 93.5px,#830000 114.5px,#900000 116.5px,#8e0000 173.5px,#800000 176.5px,#820000 200.5px,#900000 202.5px,#900000 206.5px,#a00000 207.5px,#b80000 223.5px,#b50000 237.5px,#e00 246.5px,#fd0000 248.5px,#ff5c00 256.5px,#ffed00 266.5px,#ff0 267.5px,#a2ff5d 275.5px,#08fff7 285.5px,#00f4ff 287.5px,#00c7ff 293.5px,#0068ff 300.5px)"></i>
<i style="top:92px;height:2px;background:linear-gradient(90deg,#c8ff37 0.5px,#e9ff16 2.5px,#fffc00 6.5px,#ffad00 17.5px,#ff1500 37.5px,#fd0000 40.5px,#ae0000 66.5px,#980000 86.5px,#900000 88.5px,#8d0000 91.5px,#800000 93.5px,#820000 113.5px,#900000 115.5px,#8d0000 173.5px,#800000 175.5px,#820000 200.5px,#900000 202.5px,#900000 206.5px,#a00000 207.5px,#b80000 223.5px,#b50000 237.5px,#e00 246.5px,#fd0000 248.5px,#ff5c00 256.5px,#ffed00 266.5px,#ff0 267.5px,#a2ff5d 275.5px,#08fff7 285.5px,#00f4ff 287.5px,#00c7ff 293.5px,#0068ff 300.5px)"></i>
<i style="top:94px;height:2px;background:linear-gradient(90deg,#c8ff37 0.5px,#e9ff16 2.5px,#fffc00 6.5px,#ffad00 17.5px,#ff1500 37.5px,#fd0000 40.5px,#ae0000 66.5px,#980000 86.5px,#900000 88.5px,#8d0000 91.5px,#800000 93.5px,#820000 113.5px,#900000 115.5px,#8d0000 173.5px,#800000 175.5px,#820000 200.5px,#900000 202.5px,#900000 206.5px,#a00000 207.5px,#b80000 223.5px,#b50000 237.5px,#e00 246.5px,#fd0000 248.5px,#ff5c00 256.5px,#ffed00 266.5px,#ff0 267.5px,#a2ff5d 275.5px,#08fff7 285.5px,#00f4ff 287.5px,#00c7ff 293.5px,#0068ff 300.5px)"></i>
<i style="top:96px;height:2px;background:linear-gradient(90deg,#c8ff37 0.5px,#e9ff16 2.5px,#fffc00 6.5px,#ffad00 17.5px,#ff1500 37.5px,#fd0000 40.5px,#ae0000 66.5px,#980000 86.5px,#900000 88.5px,#8d0000 91.5px,#800000 93.5px,#820000 113.5px,#900000 115.5px,#8d0000 173.5px,#800000 175.5px,#820000 200.5px,#900000 202.5px,#900000 206.5px,#a00000 207.5px,#b80000 223.5px,#b50000 237.5px,#e00 246.5px,#fd0000 248.5px,#ff5c00 256.5px,#ffed00 266.5px,#ff0 267.5px,#a2ff5d 275.5px,#08fff7 285.5px,#00f4ff 287.5px,#00c7ff 293.5px,#0068ff 300.5px)"></i>
<i style="top:98px;height:2px;background:linear-gradient(90deg,#c8ff37 0.5px,#e9ff16 2.5px,#fffc00 6.5px,#ffad00 17.5px,#ff1500 37.5px,#fd0000 40.5px,#ae0000 66.5px,#980000 86.5px,#900000 88.5px,#8d0000 91.5px,#800000 93.5px,#820000 113.5px,#900000 115.5px,#8d0000 173.5px,#800000 175.5px,#820000 200.5px,#900000 202.5px,#900000 206.5px,#a00000 207.5px,#b80000 223.5px,#b50000 237.5px,#e00 246.5px,#fd0000 248.5px,#ff5c00 256.5px,#ffed00 266.5px,#ff0 267.5px,#a2ff5d 275.5px,#08fff7 285.5px,#00f4ff 287.5px,#00c7ff 293.5px,#0068ff 300.5px)"></i>
<i style="top:100px;height:2px;background:linear-gradient(90deg,#c8ff37 0.5px,#e9ff16 2.5px,#fffc00 6.5px,#ffad00 17.5px,#ff1500 37.5px,#fd0000 40.5px,#ae0000 66.5px,#980000 86.5px,#900000 88.5px,#8d0000 91.5px,#800000 93.5px,#820000 113.5px,#900000 115.5px,#8d0000 173.5px,#800000 175.5px,#820000 200.5px,#900000 202.5px,#900000 206.5px,#a00000 207.5px,#b80000 223.5px,#b50000 237.5px,#e00 246.5px,#fd0000 248.5px,#ff5c00 256.5px,#ffed00 266.5px,#ff0 267.5px,#a2ff5d 275.5px,#08fff7 285.5px,#00f4ff 287.5px,#00c7ff 293.5px,#0068ff 300.5px)"></i>
<i style="top:102px;height:2px;background:linear-gradient(90deg,#c8ff37 0.5px,#e9ff16 2.5px,#fffc00 6.5px,#ffad00 17.5px,#ff1500 37.5px,#fd0000 40.5px,#ae0000 66.5px,#980000 86.5px,#900000 88.5px,#8d0000 91.5px,#800000 93.5px,#810000 112.5px,#900000 115.5px,#8d0000 173.5px,#800000 175.5px,#820000 200.5px,#900000 202.5px,#900000 206.5px,#a00000 207.5px,#b80000 223.5px,#b50000 237.5px,#e00 246.5px,#fd0000 248.5px,#ff5c00 256.5px,#ffed00 266.5px,#ff0 267.5px,#a2ff5d 275.5px,#08fff7 285.5px,#00f4ff 287.5px,#00c7ff 293.5px,#0068ff 300.5px)"></i>
<i style="top:104px;height:2px;background:linear-gradient(90deg,#c8ff37 0.5px,#e9ff16 2.5px,#fffc00 6.5px,#ffad00 17.5px,#ff1500 37.5px,#fd0000 40.5px,#ae0000 66.5px,#980000 86.5px,#900000 88.5px,#8d0000 91.5px,#800000 93.5px,#820000 112.5px,#900000 114.5px,#8d0000 173.5px,#800000 175.5px,#820000 200.5px,#900000 202.5px,#900000 206.5px,#a00000 207.5px,#b80000 223.5px,#b50000 237.5px,#e00 246.5px,#fd0000 248.5px,#ff5c00 256.5px,#ffed00 266.5px,#ff0 267.5px,#a2ff5d 275.5px,#08fff7 285.5px,#00f4ff 287.5px,#00c7ff 293.5px,#0068ff 300.5px)"></i>
<i style="top:106px;height:2px;background:linear-gradient(90deg,#c8ff37 0.5px,#e9ff16 2.5px,#fffc00 6.5px,#ffad00 17.5px,#ff1500 37.5px,#fd0000 40.5px,#ae0000 66.5px,#980000 86.5px,#900000 88.5px,#8d0000 91.5px,#800000 93.5px,#830000 112.5px,#900000 114.5px,#8d0000 173.5px,#800000 175.5px,#820000 200.5px,#900000 202.5px,#900000 206.5px,#a00000 207.5px,#b80000 223.5px,#b50000 237.5px,#e00 246.5px,#fd0000 248.5px,#ff5c00 256.5px,#ffed00 266.5px,#ff0 267.5px,#a2ff5d 275.5px,#08fff7 285.5px,#00f4ff 287.5px,#00c7ff 293.5px,#0068ff 300.5px)"></i>
<i style="top:108px;height:2px;background:linear-gradient(90deg,#c8ff37 0.5px,#e9ff16 2.5px,#fffc00 6.5px,#ffad00 17.5px,#ff1500 37.5px,#fd0000 40.5px,#ae0000 66.5px,#980000 86.5px,#900000 88.5px,#8d0000 91.5px,#800000 93.5px,#820000 111.5px,#900000 113.5px,#8d0000 173.5px,#800000 175.5px,#820000 200.5px,#900000 202.5px,#900000 206.5px,#a00000 207.5px,#b80000 223.5px,#b50000 237.5px,#e00 246.5px,#fd0000 248.5px,#ff5c00 256.5px,#ffed00 266.5px,#ff0 267.5px,#a2ff5d 275.5px,#08fff7 285.5px,#00f4ff 287.5px,#00c7ff 293.5px,#0068ff 300.5px)"></i>
<i style="top:110px;height:2px;background:linear-gradient(90deg,#c8ff37 0.5px,#e9ff16 2.5px,#fffc00 6.5px,#ffad00 17.5px,#ff1500 37.5px,#fd0000 40.5px,#ae0000 66.5px,#980000 86.5px,#900000 88.5px,#8d0000 91.5px,#800000 93.5px,#830000 111.5px,#900000 113.5px,#8d0000 173.5px,#800000 175.5px,#820000 200.5px,#900000 202.5px,#900000 206.5px,#a00000 207.5px,#b80000 223.5px,#b50000 237.5px,#e00 246.5px,#fd0000 248.5px,#ff5c00 256.5px,#ffed00 266.5px,#ff0 267.5px,#a2ff5d 275.5px,#08fff7 285.5px,#00f4ff 287.5px,#00c7ff 293.5px,#0068ff 300.5px)"></i>
<i style="top:112px;height:2px;background:linear-gradient(90deg,#c8ff37 0.5px,#e9ff16 2.5px,#fffc00 6.5px,#ffad00 17.5px,#ff1500 37.5px,#fd0000 40.5px,#ae0000 66.5px,#980000 86.5px,#900000 88.5px,#8d0000 91.5px,#800000 93.5px,#820000 110.5px,#900000 112.5px,#8d0000 173.5px,#800000 175.5px,#820000 200.5px,#900000 202.5px,#900000 206.5px,#a00000 207.5px,#b80000 223.5px,#b50000 237.5px,#e00 246.5px,#fd0000 248.5px,#ff5c00 256.5px,#ffed00 266.5px,#ff0 267.5px,#a2ff5d 275.5px,#08fff7 285.5px,#00f4ff 287.5px,#00c7ff 293.5px,#0068ff 300.5px)"></i>
<i style="top:114px;height:2px;background:linear-gradient(90deg,#c8ff37 0.5px,#e9ff16 2.5px,#fffc00 6.5px,#ffad00 17.5px,#ff1500 37.5px,#fd0000 40.5px,#ae0000 66.5px,#980000 86.5px,#900000 88.5px,#8d0000 91.5px,#800000 93.5px,#820000 110.5px,#900000 112.5px,#8d0000 173.5px,#800000 175.5px,#820000 200.5px,#900000 202.5px,#900000 206.5px,#a00000 207.5px,#b80000 223.5px,#b50000 237.5px,#e00 246.5px,#fd0000 248.5px,#ff5c00 256.5px,#ffed00 266.5px,#ff0 267.5px,#a2ff5d 275.5px,#08fff7 285.5px,#00f4ff 287.5px,#00c7ff 293.5px,#0068ff 300.5px)"></i>
<i style="top:116px;height:2px;background:linear-gradient(90deg,#c8ff37 0.5px,#e9ff16 2.5px,#fffc00 6.5px,#ffad00 17.5px,#ff1500 37.5px,#fd0000 40.5px,#ae0000 66.5px,#980000 86.5px,#900000 88.5px,#8d0000 91.5px,#800000 93.5px,#810000 110.5px,#900000 113.5px,#8e0000 172.5px,#800000 175.5px,#820000 200.5px,#900000 202.5px,#900000 206.5px,#a00000 207.5px,#b80000 223.5px,#b50000 237.5px,#e00 246.5px,#fd0000 248.5px,#ff5c00 256.5px,#ffed00 266.5px,#ff0 267.5px,#a2ff5d 275.5px,#08fff7 285.5px,#00f4ff 287.5px,#00c7ff 293.5px,#0068ff 300.5px)"></i>
<i style="top:118px;height:2px;background:linear-gradient(90deg,#c8ff37 0.5px,#e9ff16 2.5px,#fffc00 6.5px,#ffad00 17.5px,#ff1500 37.5px,#fd0000 40.5px,#ae0000 66.5px,#980000 86.5px,#900000 88.5px,#8d0000 91.5px,#800000 93.5px,#820000 111.5px,#900000 113.5px,#8d0000 172.5px,#800000 174.5px,#820000 200.5px,#900000 202.5px,#900000 206.5px,#a00000 207.5px,#b80000 223.5px,#b50000 237.5px,#e00 246.5px,#fd0000 248.5px,#ff5c00 256.5px,#ffed00 266.5px,#ff0 267.5px,#a2ff5d 275.5px,#08fff7 285.5px,#00f4ff 287.5px,#00c7ff 293.5px,#0068ff 300.5px)"></i>
<i style="top:120px;height:2px;background:linear-gradient(90deg,#c8ff37 0.5px,#e9ff16 2.5px,#fffc00 6.5px,#ffad00 17.5px,#ff1500 37.5px,#fd0000 40.5px,#ae0000 66.5px,#980000 86.5px,#900000 88.5px,#8d0000 91.5px,#800000 93.5px,#820000 111.5px,#900000 113.5px,#8d0000 172.5px,#800000 174.5px,#810000 200.5px,#900000 203.5px,#900000 206.5px,#a00000 207.5px,#b80000 223.5px,#b50000 237.5px,#e00 246.5px,#fd0000 248.5px,#ff5c00 256.5px,#ffed00 266.5px,#ff0 267.5px,#a2ff5d 275.5px,#08fff7 285.5px,#00f4ff 287.5px,#00c7ff 293.5px,#0068ff 300.5px)"></i>
<i style="top:122px;height:2px;background:linear-gradient(90deg,#c8ff37 0.5px,#e9ff16 2.5px,#fffc00 6.5px,#ffad00 17.5px,#ff1500 37.5px,#fd0000 40.5px,#ae0000 66.5px,#980000 86.5px,#900000 88.5px,#8d0000 91.5px,#800000 93.5px,#820000 111.5px,#900000 113.5px,#8d0000 172.5px,#800000 174.5px,#820000 201.5px,#900000 203.5px,#900000 206.5px,#a00000 207.5px,#b80000 223.5px,#b50000 237.5px,#e00 246.5px,#fd0000 248.5px,#ff5c00 256.5px,#ffed00 266.5px,#ff0 267.5px,#a2ff5d 275.5px,#08fff7 285.5px,#00f4ff 287.5px,#00c7ff 293.5px,#0068ff 300.5px)"></i>
<i style="top:124px;height:2px;background:linear-gradient(90deg,#c8ff37 0.5px,#e9ff16 2.5px,#fffc00 6.5px,#ffad00 17.5px,#ff1500 37.5px,#fd0000 40.5px,#ae0000 66.5px,#980000 86.5px,#900000 88.5px,#8d0000 91.5px,#800000 93.5px,#830000 112.5px,#900000 114.5px,#8d0000 172.5px,#800000 174.5px,#820000 201.5px,#900000 203.5px,#900000 206.5px,#a00000 207.5px,#b80000 223.5px,#b50000 237.5px,#e00 246.5px,#fd0000 248.5px,#ff5c00 256.5px,#ffed00 266.5px,#ff0 267.5px,#a2ff5d 275.5px,#08fff7 285.5px,#00f4ff 287.5px,#00c7ff 293.5px,#0068ff 300.5px)"></i>
<i style="top:126px;height:2px;background:linear-gradient(90deg,#c8ff37 0.5px,#e9ff16 2.5px,#fffc00 6.5px,#ffad00 17.5px,#ff1500 37.5px,#fd0000 40.5px,#ae0000 66.5px,#980000 86.5px,#900000 88.5px,#8d0000 91.5px,#800000 93.5px,#820000 112.5px,#900000 114.5px,#8e0000 171.5px,#800000 174.5px,#820000 201.5px,#900000 203.5px,#900000 206.5px,#a00000 207.5px,#b80000 223.5px,#b50000 237.5px,#e00 246.5px,#fd0000 248.5px,#ff5c00 256.5px,#ffed00 266.5px,#ff0 267.5px,#a2ff5d 275.5px,#08fff7 285.5px,#00f4ff 287.5px,#00c7ff 293.5px,#0068ff 300.5px)"></i>
<i style="top:128px;height:2px;background:linear-gradient(90deg,#c8ff37 0.5px,#e9ff16 2.5px,#fffc00 6.5px,#ffad00 17.5px,#ff1500 37.5px,#fd0000 40.5px,#ae0000 66.5px,#980000 86.5px,#900000 88.5px,#8d0000 91.5px,#800000 93.5px,#810000 112.5px,#900000 115.5px,#8d0000 171.5px,#800000 173.5px,#820000 201.5px,#900000 203.5px,#900000 206.5px,#a00000 207.5px,#b80000 223.5px,#b50000 237.5px,#e00 246.5px,#fd0000 248.5px,#ff5c00 256.5px,#ffed00 266.5px,#ff0 267.5px,#a2ff5d 275.5px,#08fff7 285.5px,#00f4ff 287.5px,#00c7ff 293.5px,#0068ff 300.5px)"></i>
<i style="top:130px;height:2px;background:linear-gradient(90deg,#c8ff37 0.5px,#e9ff16 2.5px,#fffc00 6.5px,#ffad00 17.5px,#ff1500 37.5px,#fd0000 40.5px,#ae0000 66.5px,#980000 86.5px,#900000 88.5px,#8d0000 91.5px,#800000 93.5px,#820000 113.5px,#900000 115.5px,#8d0000 171.5px,#800000 173.5px,#820000 201.5px,#900000 203.5px,#900000 206.5px,#a00000 207.5px,#b80000 223.5px,#b50000 237.5px,#e00 246.5px,#fd0000 248.5px,#ff5c00 256.5px,#ffed00 266.5px,#ff0 267.5px,#a2ff5d 275.5px,#08fff7 285.5px,#00f4ff 287.5px,#00c7ff 293.5px,#0068ff 300.5px)"></i>
<i style="top:132px;height:2px;background:linear-gradient(90deg,#c8ff37 0.5px,#e9ff16 2.5px,#fffc00 6.5px,#ffad00 17.5px,#ff1500 37.5px,#fd0000 40.5px,#ae0000 66.5px,#980000 86.5px,#900000 88.5px,#8d0000 91.5px,#800000 93.5px,#820000 113.5px,#900000 115.5px,#8d0000 171.5px,#800000 173.5px,#820000 201.5px,#900000 203.5px,#900000 206.5px,#a00000 207.5px,#b80000 223.5px,#b50000 237.5px,#e00 246.5px,#fd0000 248.5px,#ff5c00 256.5px,#ffed00 266.5px,#ff0 267.5px,#a2ff5d 275.5px,#08fff7 285.5px,#00f4ff 287.5px,#00c7ff 293.5px,#0068ff 300.5px)"></i>
<i style="top:134px;height:2px;background:linear-gradient(90deg,#c8ff37 0.5px,#e9ff16 2.5px,#fffc00 6.5px,#ffad00 17.5px,#ff1500 37.5px,#fd0000 40.5px,#ae0000 66.5px,#980000 86.5px,#900000 88.5px,#8d0000 91.5px,#800000 93.5px,#830000 114.5px,#900000 116.5px,#8d0000 171.5px,#800000 173.5px,#820000 201.5px,#900000 203.5px,#900000 206.5px,#a00000 207.5px,#b80000 223.5px,#b50000 237.5px,#e00 246.5px,#fd0000 248.5px,#ff5c00 256.5px,#ffed00 266.5px,#ff0 267.5px,#a2ff5d 275.5px,#08fff7 285.5px,#00f4ff 287.5px,#00c7ff 293.5px,#0068ff 300.5px)"></i>
<i style="top:136px;height:2px;background:linear-gradient(90deg,#c8ff37 0.5px,#e9ff16 2.5px,#fffc00 6.5px,#ffad00 17.5px,#ff1500 37.5px,#fd0000 40.5px,#ae0000 66.5px,#980000 86.5px,#900000 88.5px,#8d0000 91.5px,#800000 93.5px,#820000 114.5px,#900000 116.5px,#8c0000 171.5px,#800000 173.5px,#820000 201.5px,#900000 203.5px,#900000 206.5px,#a00000 207.5px,#b80000 223.5px,#b50000 237.5px,#e00 246.5px,#fd0000 248.5px,#ff5c00 256.5px,#ffed00 266.5px,#ff0 267.5px,#a2ff5d 275.5px,#08fff7 285.5px,#00f4ff 287.5px,#00c7ff 293.5px,#0068ff 300.5px)"></i>
<i style="top:138px;height:2px;background:linear-gradient(90deg,#c8ff37 0.5px,#e9ff16 2.5px,#fffc00 6.5px,#ffad00 17.5px,#ff1500 37.5px,#fd0000 40.5px,#ae0000 66.5px,#980000 86.5px,#900000 88.5px,#8d0000 91.5px,#800000 93.5px,#830000 115.5px,#900000 117.5px,#8d0000 170.5px,#800000 172.5px,#820000 201.5px,#900000 203.5px,#900000 206.5px,#a00000 207.5px,#b80000 223.5px,#b50000 237.5px,#e00 246.5px,#fd0000 248.5px,#ff5c00 256.5px,#ffed00 266.5px,#ff0 267.5px,#a2ff5d 275.5px,#08fff7 285.5px,#00f4ff 287.5px,#00c7ff 293.5px,#0068ff 300.5px)"></i>
<i style="top:140px;height:2px;background:linear-gradient(90deg,#c8ff37 0.5px,#e9ff16 2.5px,#fffc00 6.5px,#ffad00 17.5px,#ff1500 37.5px,#fd0000 40.5px,#ae0000 66.5px,#980000 86.5px,#900000 88.5px,#8d0000 91.5px,#800000 93.5px,#820000 115.5px,#900000 117.5px,#8d0000 170.5px,#800000 172.5px,#820000 201.5px,#900000 203.5px,#900000 206.5px,#a00000 207.5px,#b80000 223.5px,#b50000 237.5px,#e00 246.5px,#fd0000 248.5px,#ff5c00 256.5px,#ffed00 266.5px,#ff0 267.5px,#a2ff5d 275.5px,#08fff7 285.5px,#00f4ff 287.5px,#00c7ff 293.5px,#0068ff 300.5px)"></i>
<i style="top:142px;height:2px;background:linear-gradient(90deg,#c8ff37 0.5px,#e9ff16 2.5px,#fffc00 6.5px,#ffad00 17.5px,#ff1500 37.5px,#fd0000 40.5px,#ae0000 66.5px,#980000 86.5px,#900000 88.5px,#8d0000 91.5px,#800000 93.5px,#810000 115.5px,#900000 118.5px,#8d0000 170.5px,#800000 172.5px,#820000 201.5px,#900000 203.5px,#900000 206.5px,#a00000 207.5px,#b80000 223.5px,#b50000 237.5px,#e00 246.5px,#fd0000 248.5px,#ff5c00 256.5px,#ffed00 266.5px,#ff0 267.5px,#a2ff5d 275.5px,#08fff7 285.5px,#00f4ff 287.5px,#00c7ff 293.5px,#0068ff 300.5px)"></i>
<i style="top:144px;height:2px;background:linear-gradient(90deg,#c8ff37 0.5px,#e9ff16 2.5px,#fffc00 6.5px,#ffad00 17.5px,#ff1500 37.5px,#fd0000 40.5px,#ae0000 66.5px,#980000 86.5px,#900000 88.5px,#8d0000 91.5px,#800000 93.5px,#820000 116.5px,#900000 118.5px,#8d0000 170.5px,#800000 172.5px,#820000 201.5px,#900000 203.5px,#900000 206.5px,#a00000 207.5px,#b80000 223.5px,#b50000 237.5px,#e00 246.5px,#fd0000 248.5px,#ff5c00 256.5px,#ffed00 266.5px,#ff0 267.5px,#a2ff5d 275.5px,#08fff7 285.5px,#00f4ff 287.5px,#00c7ff 293.5px,#0068ff 300.5px)"></i>
<i style="top:146px;height:2px;background:linear-gradient(90deg,#c8ff37 0.5px,#e9ff16 2.5px,#fffc00 6.5px,#ffad00 17.5px,#ff1500 37.5px,#fd0000 40.5px,#ae0000 66.5px,#980000 86.5px,#900000 88.5px,#8d0000 91.5px,#800000 93.5px,#810000 116.5px,#900000 119.5px,#8c0000 170.5px,#800000 172.5px,#820000 201.5px,#900000 203.5px,#900000 206.5px,#a00000 207.5px,#b80000 223.5px,#b50000 237.5px,#e00 246.5px,#fd0000 248.5px,#ff5c00 256.5px,#ffed00 266.5px,#ff0 267.5px,#a2ff5d 275.5px,#08fff7 285.5px,#00f4ff 287.5px,#00c7ff 293.5px,#0068ff 300.5px)"></i>
<i style="top:148px;height:2px;background:linear-gradient(90deg,#c8ff37 0.5px,#e9ff16 2.5px,#fffc00 6.5px,#ffad00 17.5px,#ff1500 37.5px,#fd0000 40.5px,#ae0000 66.5px,#980000 86.5px,#900000 88.5px,#8c0000 91.5px,#800000 93.5px,#820000 117.5px,#900000 119.5px,#8d0000 169.5px,#800000 171.5px,#820000 201.5px,#900000 203.5px,#900000 206.5px,#a00000 207.5px,#b80000 223.5px,#b50000 237.5px,#e00 246.5px,#fd0000 248.5px,#ff5c00 256.5px,#ffed00 266.5px,#ff0 267.5px,#a2ff5d 275.5px,#08fff7 285.5px,#00f4ff 287.5px,#00c7ff 293.5px,#0068ff 300.5px)"></i>
<i style="top:150px;height:2px;background:linear-gradient(90deg,#c8ff37 0.5px,#e9ff16 2.5px,#fffc00 6.5px,#ffad00 17.5px,#ff1500 37.5px,#fd0000 40.5px,#ae0000 66.5px,#980000 86.5px,#900000 88.5px,#8d0000 90.5px,#800000 92.5px,#820000 117.5px,#900000 119.5px,#8d0000 169.5px,#800000 171.5px,#820000 201.5px,#900000 203.5px,#900000 206.5px,#a00000 207.5px,#b80000 223.5px,#b50000 237.5px,#e00 246.5px,#fd0000 248.5px,#ff5c00 256.5px,#ffed00 266.5px,#ff0 267.5px,#a2ff5d 275.5px,#08fff7 285.5px,#00f4ff 287.5px,#00c7ff 293.5px,#0068ff 300.5px)"></i>
<i style="top:152px;height:2px;background:linear-gradient(90deg,#c8ff37 0.5px,#e9ff16 2.5px,#fffc00 6.5px,#ffad00 17.5px,#ff1500 37.5px,#fd0000 40.5px,#ae0000 66.5px,#980000 86.5px,#900000 88.5px,#8d0000 90.5px,#800000 92.5px,#830000 118.5px,#900000 120.5px,#8d0000 169.5px,#800000 171.5px,#820000 201.5px,#900000 203.5px,#900000 206.5px,#a00000 207.5px,#b80000 223.5px,#b50000 237.5px,#e00 246.5px,#fd0000 248.5px,#ff5c00 256.5px,#ffed00 266.5px,#ff0 267.5px,#a2ff5d 275.5px,#08fff7 285.5px,#00f4ff 287.5px,#00c7ff 293.5px,#0068ff 300.5px)"></i>
<i style="top:154px;height:2px;background:linear-gradient(90deg,#c8ff37 0.5px,#e9ff16 2.5px,#fffc00 6.5px,#ffad00 17.5px,#ff1500 37.5px,#fd0000 40.5px,#ae0000 66.5px,#980000 86.5px,#900000 88.5px,#8d0000 90.5px,#800000 92.5px,#820000 118.5px,#900000 120.5px,#8c0000 169.5px,#800000 171.5px,#810000 201.5px,#900000 204.5px,#900000 206.5px,#a00000 207.5px,#b80000 223.5px,#b50000 237.5px,#e00 246.5px,#fd0000 248.5px,#ff5c00 256.5px,#ffed00 266.5px,#ff0 267.5px,#a2ff5d 275.5px,#08fff7 285.5px,#00f4ff 287.5px,#00c7ff 293.5px,#0068ff 300.5px)"></i>
<i style="top:156px;height:2px;background:linear-gradient(90deg,#c8ff37 0.5px,#e9ff16 2.5px,#fffc00 6.5px,#ffad00 17.5px,#ff1500 37.5px,#fd0000 40.5px,#ae0000 66.5px,#980000 86.5px,#900000 88.5px,#8d0000 90.5px,#800000 92.5px,#830000 119.5px,#900000 121.5px,#8d0000 168.5px,#800000 170.5px,#820000 202.5px,#900000 204.5px,#900000 206.5px,#a00000 207.5px,#b80000 223.5px,#b50000 237.5px,#e00 246.5px,#fd0000 248.5px,#ff5c00 256.5px,#ffed00 266.5px,#ff0 267.5px,#a2ff5d 275.5px,#08fff7 285.5px,#00f4ff 287.5px,#00c7ff 293.5px,#0068ff 300.5px)"></i>
<i style="top:158px;height:2px;background:linear-gradient(90deg,#c8ff37 0.5px,#e9ff16 2.5px,#fffc00 6.5px,#ffad00 17.5px,#ff1500 37.5px,#fd0000 40.5px,#ae0000 66.5px,#980000 86.5px,#900000 88.5px,#8d0000 90.5px,#800000 92.5px,#820000 119.5px,#900000 121.5px,#8d0000 168.5px,#800000 170.5px,#820000 202.5px,#900000 204.5px,#900000 206.5px,#a00000 207.5px,#b80000 223.5px,#b50000 237.5px,#e00 246.5px,#fd0000 248.5px,#ff5c00 256.5px,#ffed00 266.5px,#ff0 267.5px,#a2ff5d 275.5px,#08fff7 285.5px,#00f4ff 287.5px,#00c7ff 293.5px,#0068ff 300.5px)"></i>
<i style="top:160px;height:2px;background:linear-gradient(90deg,#c8ff37 0.5px,#e9ff16 2.5px,#fffc00 6.5px,#ffad00 17.5px,#ff1500 37.5px,#fd0000 40.5px,#ae0000 66.5px,#980000 86.5px,#900000 88.5px,#8d0000 90.5px,#800000 92.5px,#830000 120.5px,#900000 122.5px,#8d0000 168.5px,#800000 170.5px,#820000 202.5px,#900000 204.5px,#900000 206.5px,#a00000 207.5px,#b80000 223.5px,#b50000 237.5px,#e00 246.5px,#fd0000 248.5px,#ff5c00 256.5px,#ffed00 266.5px,#ff0 267.5px,#a2ff5d 275.5px,#08fff7 285.5px,#00f4ff 287.5px,#00c7ff 293.5px,#0068ff 300.5px)"></i>
<i style="top:162px;height:2px;background:linear-gradient(90deg,#c8ff37 0.5px,#e9ff16 2.5px,#fffc00 6.5px,#ffad00 17.5px,#ff1500 37.5px,#fd0000 40.5px,#ae0000 66.5px,#980000 86.5px,#900000 88.5px,#8d0000 90.5px,#800000 92.5px,#820000 120.5px,#900000 122.5px,#8e0000 167.5px,#800000 170.5px,#820000 202.5px,#900000 204.5px,#900000 206.5px,#a00000 207.5px,#b80000 223.5px,#b50000 237.5px,#e00 246.5px,#fd0000 248.5px,#ff5c00 256.5px,#ffed00 266.5px,#ff0 267.5px,#a2ff5d 275.5px,#08fff7 285.5px,#00f4ff 287.5px,#00c7ff 293.5px,#0068ff 300.5px)"></i>
<i style="top:164px;height:2px;background:linear-gradient(90deg,#c8ff37 0.5px,#e9ff16 2.5px,#fffc00 6.5px,#ffad00 17.5px,#ff1500 37.5px,#fd0000 40.5px,#ae0000 66.5px,#980000 86.5px,#900000 88.5px,#8d0000 90.5px,#800000 92.5px,#830000 121.5px,#900000 123.5px,#8d0000 167.5px,#800000 169.5px,#820000 202.5px,#900000 204.5px,#900000 206.5px,#a00000 207.5px,#b80000 223.5px,#b50000 237.5px,#e00 246.5px,#fd0000 248.5px,#ff5c00 256.5px,#ffed00 266.5px,#ff0 267.5px,#a2ff5d 275.5px,#08fff7 285.5px,#00f4ff 287.5px,#00c7ff 293.5px,#0068ff 300.5px)"></i>
<i style="top:166px;height:2px;background:linear-gradient(90deg,#c8ff37 0.5px,#e9ff16 2.5px,#fffc00 6.5px,#ffad00 17.5px,#ff1500 37.5px,#fd0000 40.5px,#ae0000 66.5px,#980000 86.5px,#900000 88.5px,#8d0000 90.5px,#800000 92.5px,#820000 121.5px,#900000 123.5px,#8d0000 167.5px,#800000 169.5px,#820000 202.5px,#900000 204.5px,#900000 206.5px,#a00000 207.5px,#b80000 223.5px,#b50000 237.5px,#e00 246.5px,#fd0000 248.5px,#ff5c00 256.5px,#ffed00 266.5px,#ff0 267.5px,#a2ff5d 275.5px,#08fff7 285.5px,#00f4ff 287.5px,#00c7ff 293.5px,#0068ff 300.5px)"></i>
<i style="top:168px;height:2px;background:linear-gradient(90deg,#c8ff37 0.5px,#e9ff16 2.5px,#fffc00 6.5px,#ffad00 17.5px,#ff1500 37.5px,#fd0000 40.5px,#ae0000 66.5px,#980000 86.5px,#900000 88.5px,#8d0000 90.5px,#800000 92.5px,#830000 122.5px,#900000 124.5px,#8c0000 167.5px,#800000 169.5px,#820000 202.5px,#900000 204.5px,#900000 206.5px,#a00000 207.5px,#b80000 223.5px,#b50000 237.5px,#e00 246.5px,#fd0000 248.5px,#ff5c00 256.5px,#ffed00 266.5px,#ff0 267.5px,#a2ff5d 275.5px,#08fff7 285.5px,#00f4ff 287.5px,#00c7ff 293.5px,#0068ff 300.5px)"></i>
<i style="top:170px;height:2px;background:linear-gradient(90deg,#c8ff37 0.5px,#e9ff16 2.5px,#fffc00 6.5px,#ffad00 17.5px,#ff1500 37.5px,#fd0000 40.5px,#ae0000 66.5px,#980000 86.5px,#900000 88.5px,#8d0000 90.5px,#800000 92.5px,#820000 122.5px,#900000 124.5px,#8d0000 166.5px,#800000 168.5px,#820000 202.5px,#900000 204.5px,#900000 206.5px,#a00000 207.5px,#b80000 223.5px,#b50000 237.5px,#e00 246.5px,#fd0000 248.5px,#ff5c00 256.5px,#ffed00 266.5px,#ff0 267.5px,#a2ff5d 275.5px,#08fff7 285.5px,#00f4ff 287.5px,#00c7ff 293.5px,#0068ff 300.5px)"></i>
<i style="top:172px;height:2px;background:linear-gradient(90deg,#c8ff37 0.5px,#e9ff16 2.5px,#fffc00 6.5px,#ffad00 17.5px,#ff1500 37.5px,#fd0000 40.5px,#ae0000 66.5px,#980000 86.5px,#900000 88.5px,#8d0000 90.5px,#800000 92.5px,#830000 123.5px,#900000 125.5px,#8d0000 166.5px,#800000 168.5px,#820000 202.5px,#900000 204.5px,#900000 206.5px,#a00000 207.5px,#b80000 223.5px,#b50000 237.5px,#e00 246.5px,#fd0000 248.5px,#ff5c00 256.5px,#ffed00 266.5px,#ff0 267.5px,#a2ff5d 275.5px,#08fff7 285.5px,#00f4ff 287.5px,#00c7ff 293.5px,#0068ff 300.5px)"></i>
<i style="top:174px;height:2px;background:linear-gradient(90deg,#c8ff37 0.5px,#e9ff16 2.5px,#fffc00 6.5px,#ffad00 17.5px,#ff1500 37.5px,#fd0000 40.5px,#ae0000 66.5px,#980000 86.5px,#900000 88.5px,#8d0000 90.5px,#800000 92.5px,#820000 123.5px,#900000 125.5px,#8d0000 166.5px,#800000 168.5px,#820000 202.5px,#900000 204.5px,#900000 206.5px,#a00000 207.5px,#b80000 223.5px,#b50000 237.5px,#e00 246.5px,#fd0000 248.5px,#ff5c00 256.5px,#ffed00 266.5px,#ff0 267.5px,#a2ff5d 275.5px,#08fff7 285.5px,#00f4ff 287.5px,#00c7ff 293.5px,#0068ff 300.5px)"></i>
<i style="top:176px;height:2px;background:linear-gradient(90deg,#c8ff37 0.5px,#e9ff16 2.5px,#fffc00 6.5px,#ffad00 17.5px,#ff1500 37.5px,#fd0000 40.5px,#ae0000 66.5px,#980000 86.5px,#900000 88.5px,#8d0000 90.5px,#800000 92.5px,#820000 123.5px,#900000 125.5px,#8d0000 166.5px,#800000 168.5px,#820000 202.5px,#900000 204.5px,#900000 206.5px,#a00000 207.5px,#b80000 223.5px,#b50000 237.5px,#e00 246.5px,#fd0000 248.5px,#ff5c00 256.5px,#ffed00 266.5px,#ff0 267.5px,#a2ff5d 275.5px,#08fff7 285.5px,#00f4ff 287.5px,#00c7ff 293.5px,#0068ff 300.5px)"></i>
<i style="top:178px;height:2px;background:linear-gradient(90deg,#c8ff37 0.5px,#e9ff16 2.5px,#fffc00 6.5px,#ffad00 17.5px,#ff1500 37.5px,#fd0000 40.5px,#ae0000 66.5px,#980000 86.5px,#900000 88.5px,#8d0000 90.5px,#800000 92.5px,#810000 122.5px,#900000 125.5px,#8e0000 166.5px,#800000 169.5px,#820000 202.5px,#900000 204.5px,#900000 206.5px,#a00000 207.5px,#b80000 223.5px,#b50000 237.5px,#e00 246.5px,#fd0000 248.5px,#ff5c00 256.5px,#ffed00 266.5px,#ff0 267.5px,#a2ff5d 275.5px,#08fff7 285.5px,#00f4ff 287.5px,#00c7ff 293.5px,#0068ff 300.5px)"></i>
<i style="top:180px;height:2px;background:linear-gradient(90deg,#c8ff37 0.5px,#e9ff16 2.5px,#fffc00 6.5px,#ffad00 17.5px,#ff1500 37.5px,#fd0000 40.5px,#ae0000 66.5px,#980000 86.5px,#900000 88.5px,#8d0000 90.5px,#800000 92.5px,#830000 122.5px,#900000 124.5px,#8d0000 167.5px,#800000 169.5px,#820000 202.5px,#900000 204.5px,#900000 206.5px,#a00000 207.5px,#b80000 223.5px,#b50000 237.5px,#e00 246.5px,#fd0000 248.5px,#ff5c00 256.5px,#ffed00 266.5px,#ff0 267.5px,#a2ff5d 275.5px,#08fff7 285.5px,#00f4ff 287.5px,#00c7ff 293.5px,#0068ff 300.5px)"></i>
<i style="top:182px;height:2px;background:linear-gradient(90deg,#c8ff37 0.5px,#e9ff16 2.5px,#fffc00 6.5px,#ffad00 17.5px,#ff1500 37.5px,#fd0000 40.5px,#ae0000 66.5px,#980000 86.5px,#900000 88.5px,#8d0000 90.5px,#800000 92.5px,#820000 121.5px,#900000 123.5px,#8c0000 168.5px,#800000 170.5px,#830000 202.5px,#900000 204.5px,#900000 206.5px,#a00000 207.5px,#b80000 223.5px,#b50000 237.5px,#e00 246.5px,#fd0000 248.5px,#ff5c00 256.5px,#ffed00 266.5px,#ff0 267.5px,#a2ff5d 275.5px,#08fff7 285.5px,#00f4ff 287.5px,#00c7ff 293.5px,#0068ff 300.5px)"></i>
<i style="top:184px;height:2px;background:linear-gradient(90deg,#c8ff37 0.5px,#e9ff16 2.5px,#fffc00 6.5px,#ffad00 17.5px,#ff1500 37.5px,#fd0000 40.5px,#ae0000 66.5px,#980000 86.5px,#900000 88.5px,#800 91.5px,#800000 95.5px,#810000 120.5px,#900000 123.5px,#8d0000 168.5px,#800000 170.5px,#820000 201.5px,#900000 203.5px,#900000 206.5px,#a00000 207.5px,#b80000 223.5px,#b50000 237.5px,#e00 246.5px,#fd0000 248.5px,#ff5c00 256.5px,#ffed00 266.5px,#ff0 267.5px,#a2ff5d 275.5px,#08fff7 285.5px,#00f4ff 287.5px,#00c7ff 293.5px,#0068ff 300.5px)"></i>
<i style="top:186px;height:2px;background:linear-gradient(90deg,#c8ff37 0.5px,#e9ff16 2.5px,#fffc00 6.5px,#ffad00 17.5px,#ff1500 37.5px,#fd0000 40.5px,#ae0000 66.5px,#980000 86.5px,#900000 88.5px,#8d0000 91.5px,#800000 93.5px,#810000 119.5px,#900000 122.5px,#8c0000 169.5px,#800000 171.5px,#820000 201.5px,#900000 203.5px,#900000 206.5px,#a00000 207.5px,#b80000 223.5px,#b50000 237.5px,#e00 246.5px,#fd0000 248.5px,#ff5c00 256.5px,#ffed00 266.5px,#ff0 267.5px,#a2ff5d 275.5px,#08fff7 285.5px,#00f4ff 287.5px,#00c7ff 293.5px,#0068ff 300.5px)"></i>
<i style="top:188px;height:2px;background:linear-gradient(90deg,#c8ff37 0.5px,#e9ff16 2.5px,#fffc00 6.5px,#ffad00 17.5px,#ff1500 37.5px,#fd0000 40.5px,#ae0000 66.5px,#980000 86.5px,#900000 88.5px,#8d0000 91.5px,#800000 93.5px,#830000 119.5px,#900000 121.5px,#8e0000 169.5px,#800000 172.5px,#820000 201.5px,#900000 203.5px,#900000 206.5px,#a00000 207.5px,#b80000 223.5px,#b50000 237.5px,#e00 246.5px,#fd0000 248.5px,#ff5c00 256.5px,#ffed00 266.5px,#ff0 267.5px,#a2ff5d 275.5px,#08fff7 285.5px,#00f4ff 287.5px,#00c7ff 293.5px,#0068ff 300.5px)"></i>
<i style="top:190px;height:2px;background:linear-gradient(90deg,#c8ff37 0.5px,#e9ff16 2.5px,#fffc00 6.5px,#ffad00 17.5px,#ff1500 37.5px,#fd0000 40.5px,#ae0000 66.5px,#980000 86.5px,#900000 88.5px,#8d0000 91.5px,#800000 93.5px,#820000 118.5px,#900000 120.5px,#8d0000 170.5px,#800000 172.5px,#820000 201.5px,#900000 203.5px,#900000 206.5px,#a00000 207.5px,#b80000 223.5px,#b50000 237.5px,#e00 246.5px,#fd0000 248.5px,#ff5c00 256.5px,#ffed00 266.5px,#ff0 267.5px,#a2ff5d 275.5px,#08fff7 285.5px,#00f4ff 287.5px,#00c7ff 293.5px,#0068ff 300.5px)"></i>
<i style="top:192px;height:2px;background:linear-gradient(90deg,#c8ff37 0.5px,#e9ff16 2.5px,#fffc00 6.5px,#ffad00 17.5px,#ff1500 37.5px,#fd0000 40.5px,#ae0000 66.5px,#980000 86.5px,#900000 88.5px,#8d0000 91.5px,#800000 93.5px,#820000 117.5px,#900000 120.5px,#8c0000 171.5px,#800000 173.5px,#820000 201.5px,#900000 203.5px,#900000 206.5px,#a00000 207.5px,#b80000 223.5px,#b50000 237.5px,#e00 246.5px,#fd0000 248.5px,#ff5c00 256.5px,#ffed00 266.5px,#ff0 267.5px,#a2ff5d 275.5px,#08fff7 285.5px,#00f4ff 287.5px,#00c7ff 293.5px,#0068ff 300.5px)"></i>
<i style="top:194px;height:2px;background:linear-gradient(90deg,#c8ff37 0.5px,#e9ff16 2.5px,#fffc00 6.5px,#ffad00 17.5px,#ff1500 37.5px,#fd0000 40.5px,#ae0000 66.5px,#980000 86.5px,#900000 88.5px,#8c0000 92.5px,#800000 94.5px,#810000 115.5px,#900000 118.5px,#8d0000 171.5px,#800000 173.5px,#810000 200.5px,#900000 203.5px,#900000 206.5px,#a00000 207.5px,#b80000 223.5px,#b50000 237.5px,#e00 246.5px,#fd0000 248.5px,#ff5c00 256.5px,#ffed00 266.5px,#ff0 267.5px,#a2ff5d 275.5px,#08fff7 285.5px,#00f4ff 287.5px,#00c7ff 293.5px,#0068ff 300.5px)"></i>
<i style="top:196px;height:2px;background:linear-gradient(90deg,#c8ff37 0.5px,#e9ff16 2.5px,#fffc00 6.5px,#ffad00 17.5px,#ff1500 37.5px,#fd0000 40.5px,#ae0000 66.5px,#980000 86.5px,#900000 88.5px,#8d0000 92.5px,#800000 94.5px,#820000 114.5px,#900000 117.5px,#8c0000 172.5px,#800000 174.5px,#820000 200.5px,#900000 202.5px,#900000 206.5px,#a00000 207.5px,#b80000 223.5px,#b50000 237.5px,#e00 246.5px,#fd0000 248.5px,#ff5c00 256.5px,#ffed00 266.5px,#ff0 267.5px,#a2ff5d 275.5px,#08fff7 285.5px,#00f4ff 287.5px,#00c7ff 293.5px,#0068ff 300.5px)"></i>
<i style="top:198px;height:2px;background:linear-gradient(90deg,#c8ff37 0.5px,#e9ff16 2.5px,#fffc00 6.5px,#ffad00 17.5px,#ff1500 37.5px,#fd0000 40.5px,#ae0000 66.5px,#980000 86.5px,#900000 88.5px,#8c0000 93.5px,#800000 95.5px,#810000 112.5px,#900000 115.5px,#8c0000 173.5px,#800000 175.5px,#820000 200.5px,#900000 202.5px,#900000 206.5px,#a00000 207.5px,#b80000 223.5px,#b50000 237.5px,#e00 246.5px,#fd0000 248.5px,#ff5c00 256.5px,#ffed00 266.5px,#ff0 267.5px,#a2ff5d 275.5px,#08fff7 285.5px,#00f4ff 287.5px,#00c7ff 293.5px,#0068ff 300.5px)"></i>
<i style="top:200px;height:2px;background:linear-gradient(90deg,#c8ff37 0.5px,#e9ff16 2.5px,#fffc00 6.5px,#ffad00 17.5px,#ff1500 37.5px,#fd0000 40.5px,#ae0000 66.5px,#980000 86.5px,#900000 88.5px,#8d0000 93.5px,#800000 95.5px,#820000 111.5px,#900000 114.5px,#8c0000 174.5px,#800000 176.5px,#810000 199.5px,#900000 202.5px,#900000 206.5px,#a00000 207.5px,#b80000 223.5px,#b50000 237.5px,#e00 246.5px,#fd0000 248.5px,#ff5c00 256.5px,#ffed00 266.5px,#ff0 267.5px,#a2ff5d 275.5px,#08fff7 285.5px,#00f4ff 287.5px,#00c7ff 293.5px,#0068ff 300.5px)"></i>
<i style="top:202px;height:2px;background:linear-gradient(90deg,#c8ff37 0.5px,#e9ff16 2.5px,#fffc00 6.5px,#ffad00 17.5px,#ff1500 37.5px,#fd0000 40.5px,#ae0000 66.5px,#980000 86.5px,#900000 88.5px,#8c0000 94.5px,#800000 96.5px,#810000 109.5px,#900000 112.5px,#8c0000 175.5px,#800000 177.5px,#820000 199.5px,#900000 201.5px,#900000 206.5px,#a00000 207.5px,#b80000 223.5px,#b50000 237.5px,#e00 246.5px,#fd0000 248.5px,#ff5c00 256.5px,#ffed00 266.5px,#ff0 267.5px,#a2ff5d 275.5px,#08fff7 285.5px,#00f4ff 287.5px,#00c7ff 293.5px,#0068ff 300.5px)"></i>
<i style="top:204px;height:2px;background:linear-gradient(90deg,#c8ff37 0.5px,#e9ff16 2.5px,#fffc00 6.5px,#ffad00 17.5px,#ff1500 37.5px,#fd0000 40.5px,#ae0000 66.5px,#980000 86.5px,#900000 88.5px,#8d0000 94.5px,#800000 96.5px,#820000 108.5px,#900000 111.5px,#8c0000 176.5px,#800000 178.5px,#830000 199.5px,#900000 201.5px,#900000 206.5px,#a00000 207.5px,#b80000 223.5px,#b50000 237.5px,#e00 246.5px,#fd0000 248.5px,#ff5c00 256.5px,#ffed00 266.5px,#ff0 267.5px,#a2ff5d 275.5px,#08fff7 285.5px,#00f4ff 287.5px,#00c7ff 293.5px,#0068ff 300.5px)"></i>
<i style="top:206px;height:2px;background:linear-gradient(90deg,#c8ff37 0.5px,#e9ff16 2.5px,#fffc00 6.5px,#ffad00 17.5px,#ff1500 37.5px,#fd0000 40.5px,#ae0000 66.5px,#980000 86.5px,#900000 88.5px,#8c0000 95.5px,#800000 97.5px,#810000 106.5px,#900000 109.5px,#8c0000 177.5px,#800000 179.5px,#820000 198.5px,#900000 200.5px,#900000 206.5px,#a00000 207.5px,#b80000 223.5px,#b50000 237.5px,#e00 246.5px,#fd0000 248.5px,#ff5c00 256.5px,#ffed00 266.5px,#ff0 267.5px,#a2ff5d 275.5px,#08fff7 285.5px,#00f4ff 287.5px,#00c7ff 293.5px,#0068ff 300.5px)"></i>
<i style="top:208px;height:2px;background:linear-gradient(90deg,#c8ff37 0.5px,#e9ff16 2.5px,#fffc00 6.5px,#ffad00 17.5px,#ff1500 37.5px,#fd0000 40.5px,#ae0000 66.5px,#980000 86.5px,#900000 88.5px,#8e0000 95.5px,#800000 98.5px,#820000 105.5px,#900000 108.5px,#8c0000 178.5px,#800000 180.5px,#820000 198.5px,#900000 200.5px,#900000 206.5px,#a00000 207.5px,#b80000 223.5px,#b50000 237.5px,#e00 246.5px,#fd0000 248.5px,#ff5c00 256.5px,#ffed00 266.5px,#ff0 267.5px,#a2ff5d 275.5px,#08fff7 285.5px,#00f4ff 287.5px,#00c7ff 293.5px,#0068ff 300.5px)"></i>
<i style="top:210px;height:2px;background:linear-gradient(90deg,#c8ff37 0.5px,#e9ff16 2.5px,#fffc00 6.5px,#ffad00 17.5px,#ff1500 37.5px,#fd0000 40.5px,#ae0000 66.5px,#980000 86.5px,#900000 88.5px,#8c0000 97.5px,#800000 99.5px,#800 104.5px,#900000 109.5px,#8c0000 179.5px,#800000 181.5px,#810000 197.5px,#900000 200.5px,#900000 206.5px,#a00000 207.5px,#b80000 223.5px,#b50000 237.5px,#e00 246.5px,#fd0000 248.5px,#ff5c00 256.5px,#ffed00 266.5px,#ff0 267.5px,#a2ff5d 275.5px,#08fff7 285.5px,#00f4ff 287.5px,#00c7ff 293.5px,#0068ff 300.5px)"></i>
<i style="top:212px;height:2px;background:linear-gradient(90deg,#c8ff37 0.5px,#e9ff16 2.5px,#fffc00 6.5px,#ffad00 17.5px,#ff1500 37.5px,#fd0000 40.5px,#ae0000 66.5px,#980000 86.5px,#900000 88.5px,#8c0000 98.5px,#800000 100.5px,#830000 102.5px,#900000 104.5px,#8e0000 180.5px,#800000 183.5px,#820000 197.5px,#900000 199.5px,#900000 206.5px,#a00000 207.5px,#b80000 223.5px,#b50000 237.5px,#e00 246.5px,#fd0000 248.5px,#ff5c00 256.5px,#ffed00 266.5px,#ff0 267.5px,#a2ff5d 275.5px,#08fff7 285.5px,#00f4ff 287.5px,#00c7ff 293.5px,#0068ff 300.5px)"></i>
<i style="top:214px;height:2px;background:linear-gradient(90deg,#c8ff37 0.5px,#e9ff16 2.5px,#fffc00 6.5px,#ffad00 17.5px,#ff1500 37.5px,#fd0000 40.5px,#ae0000 66.5px,#980000 86.5px,#900000 88.5px,#8e0000 99.5px,#8e0000 102.5px,#8e0000 181.5px,#800000 184.5px,#810000 196.5px,#900000 199.5px,#900000 206.5px,#a00000 207.5px,#b80000 223.5px,#b50000 237.5px,#e00 246.5px,#fd0000 248.5px,#ff5c00 256.5px,#ffed00 266.5px,#ff0 267.5px,#a2ff5d 275.5px,#08fff7 285.5px,#00f4ff 287.5px,#00c7ff 293.5px,#0068ff 300.5px)"></i>
<i style="top:216px;height:2px;background:linear-gradient(90deg,#c8ff37 0.5px,#e9ff16 2.5px,#fffc00 6.5px,#ffad00 17.5px,#ff1500 37.5px,#fd0000 40.5px,#ae0000 66.5px,#980000 86.5px,#900000 88.5px,#8c0000 183.5px,#800000 185.5px,#820000 195.5px,#900000 198.5px,#900000 206.5px,#a00000 207.5px,#b80000 223.5px,#b50000 237.5px,#e00 246.5px,#fd0000 248.5px,#ff5c00 256.5px,#ffed00 266.5px,#ff0 267.5px,#a2ff5d 275.5px,#08fff7 285.5px,#00f4ff 287.5px,#00c7ff 293.5px,#0068ff 300.5px)"></i>
<i style="top:218px;height:2px;background:linear-gradient(90deg,#c8ff37 0.5px,#e9ff16 2.5px,#fffc00 6.5px,#ffad00 17.5px,#ff1500 37.5px,#fd0000 40.5px,#ae0000 66.5px,#980000 86.5px,#900000 88.5px,#8e0000 184.5px,#800000 188.5px,#820000 193.5px,#900000 197.5px,#900000 206.5px,#a00000 207.5px,#b80000 223.5px,#b50000 237.5px,#e00 246.5px,#fd0000 248.5px,#ff5c00 256.5px,#ffed00 266.5px,#ff0 267.5px,#a2ff5d 275.5px,#08fff7 285.5px,#00f4ff 287.5px,#00c7ff 293.5px,#0068ff 300.5px)"></i>
<i style="top:220px;height:2px;background:linear-gradient(90deg,#c8ff37 0.5px,#e9ff16 2.5px,#fffc00 6.5px,#ffad00 17.5px,#ff1500 37.5px,#fd0000 40.5px,#ae0000 66.5px,#980000 86.5px,#900000 88.5px,#8e0000 186.5px,#800000 190.5px,#830000 192.5px,#900000 194.5px,#900000 206.5px,#a00000 207.5px,#b80000 223.5px,#b50000 237.5px,#e00 246.5px,#fd0000 248.5px,#ff5c00 256.5px,#ffed00 266.5px,#ff0 267.5px,#a2ff5d 275.5px,#08fff7 285.5px,#00f4ff 287.5px,#00c7ff 293.5px,#0068ff 300.5px)"></i>
<i style="top:222px;height:2px;background:linear-gradient(90deg,#c8ff37 0.5px,#e9ff16 2.5px,#fffc00 6.5px,#ffad00 17.5px,#ff1500 37.5px,#fd0000 40.5px,#ae0000 66.5px,#980000 86.5px,#900000 88.5px,#8e0000 188.5px,#830000 190.5px,#900000 194.5px,#900000 206.5px,#a00000 207.5px,#b80000 223.5px,#b50000 237.5px,#e00 246.5px,#fd0000 248.5px,#ff5c00 256.5px,#ffed00 266.5px,#ff0 267.5px,#a2ff5d 275.5px,#08fff7 285.5px,#00f4ff 287.5px,#00c7ff 293.5px,#0068ff 300.5px)"></i>
<i style="top:224px;height:2px;background:linear-gradient(90deg,#c8ff37 0.5px,#e9ff16 2.5px,#fffc00 6.5px,#ffad00 17.5px,#ff1500 37.5px,#fd0000 40.5px,#ae0000 66.5px,#980000 86.5px,#900000 88.5px,#900000 206.5px,#a00000 207.5px,#b80000 223.5px,#b50000 237.5px,#e00 246.5px,#fd0000 248.5px,#ff5c00 256.5px,#ffed00 266.5px,#ff0 267.5px,#a2ff5d 275.5px,#08fff7 285.5px,#00f4ff 287.5px,#00c7ff 293.5px,#0068ff 300.5px)"></i>
<i style="top:226px;height:2px;background:linear-gradient(90deg,#c8ff37 0.5px,#e9ff16 2.5px,#fffc00 6.5px,#ffad00 17.5px,#ff1500 37.5px,#fd0000 40.5px,#ae0000 66.5px,#980000 86.5px,#900000 88.5px,#900000 206.5px,#a00000 207.5px,#b80000 223.5px,#b50000 237.5px,#e00 246.5px,#fd0000 248.5px,#ff5c00 256.5px,#ffed00 266.5px,#ff0 267.5px,#a2ff5d 275.5px,#08fff7 285.5px,#00f4ff 287.5px,#00c7ff 293.5px,#0068ff 300.5px)"></i>
</div>
<div class="hm" style="left:54px;top:315px;width:305px;height:231px">
<i style="top:0px;height:1px;background:linear-gradient(90deg,#28ffd7 0.5px,#fdff02 21.5px,#ff8a00 36.5px,#ff7e00 41.5px,#ff8400 88.5px,#ff9800 103.5px,#fa0 114.5px,#f30 136.5px,#fb0000 144.5px,#c50000 152.5px,#f40000 169.5px,#ff0700 172.5px,#ff7300 182.5px,#ffb700 192.5px,#fff000 208.5px,#ffe200 213.5px,#ffb400 220.5px,#fb0000 236.5px,#9e0000 245.5px,#9b0000 246.5px,#a30000 247.5px,#ba0000 248.5px,#ff0700 250.5px,#fffc00 256.5px,#abff54 259.5px,#17ffe8 266.5px,#00fdff 268.5px,#00cfff 275.5px,#00d4ff 278.5px,#04fffb 286.5px,#2fffd0 300.5px,#3effc1 304.5px)"></i>
<i style="top:1px;height:1px;background:linear-gradient(90deg,#2affd5 0.5px,#ff0 21.5px,#ff9d00 33.5px,#ff7e00 39.5px,#ff8200 87.5px,#ff9400 102.5px,#ffa800 114.5px,#ff2900 137.5px,#fa0000 144.5px,#c40000 152.5px,#f30000 169.5px,#ff0600 172.5px,#ff7200 182.5px,#ffb500 192.5px,#fe0 208.5px,#ffdf00 213.5px,#ffb200 220.5px,#fb0000 236.5px,#9e0000 245.5px,#9b0000 246.5px,#a20000 247.5px,#b90000 248.5px,#ff0500 250.5px,#fff700 256.5px,#c8ff37 258.5px,#2affd5 265.5px,#00feff 268.5px,#00cfff 275.5px,#00d3ff 278.5px,#03fffc 286.5px,#30ffcf 300.5px,#3fffc0 304.5px)"></i>
<i style="top:2px;height:1px;background:linear-gradient(90deg,#2cffd3 0.5px,#fffc00 21.5px,#ffa100 32.5px,#ff7e00 38.5px,#ff7f00 85.5px,#ff9000 101.5px,#ffa500 114.5px,#ff2000 138.5px,#fe0000 143.5px,#c20000 152.5px,#f20000 169.5px,#ff0500 172.5px,#ff7000 182.5px,#ffb200 192.5px,#ffeb00 209.5px,#ffc100 218.5px,#ff3500 231.5px,#fa0000 236.5px,#9e0000 245.5px,#9b0000 246.5px,#a20000 247.5px,#b80000 248.5px,#ff0300 250.5px,#fff100 256.5px,#ebff14 257.5px,#6fff90 262.5px,#1affe5 266.5px,#01fffe 268.5px,#00ceff 275.5px,#00d2ff 278.5px,#02fffd 286.5px,#30ffcf 300.5px,#3fffc0 304.5px)"></i>
<i style="top:3px;height:1px;background:linear-gradient(90deg,#2fffd0 0.5px,#fbff04 20.5px,#ff9e00 32.5px,#ff7a00 39.5px,#ff7d00 87.5px,#ff9100 103.5px,#ffa200 114.5px,#ff1500 139.5px,#fb0000 143.5px,#c00000 152.5px,#f10000 169.5px,#ff0400 172.5px,#ff6e00 182.5px,#ffaf00 192.5px,#ffe700 209.5px,#ffbe00 218.5px,#ff3500 231.5px,#fa0000 236.5px,#9e0000 245.5px,#9a0000 246.5px,#a20000 247.5px,#b70000 248.5px,#ff0100 250.5px,#ffeb00 256.5px,#f2ff0d 257.5px,#5dffa2 263.5px,#1dffe2 266.5px,#02fffd 268.5px,#00cdff 275.5px,#00d1ff 278.5px,#01fffe 286.5px,#30ffcf 300.5px,#3fffc0 304.5px)"></i>
<i style="top:4px;height:1px;background:linear-gradient(90deg,#32ffcd 0.5px,#feff01 20.5px,#ffa700 30.5px,#ff7a00 38.5px,#ff7a00 85.5px,#ff8d00 102.5px,#ff9e00 114.5px,#fe0000 142.5px,#be0000 152.5px,#ef0000 169.5px,#ff0300 172.5px,#ff6c00 182.5px,#ffac00 192.5px,#ffe300 209.5px,#ffbc00 218.5px,#ff3400 231.5px,#fa0000 236.5px,#9e0000 245.5px,#9a0000 246.5px,#a10000 247.5px,#b60000 248.5px,#fe0000 250.5px,#ffe400 256.5px,#f9ff06 257.5px,#49ffb6 264.5px,#10ffef 267.5px,#00faff 269.5px,#00cdff 275.5px,#00d0ff 278.5px,#0ff 286.5px,#30ffcf 300.5px,#40ffbf 304.5px)"></i>
<i style="top:5px;height:1px;background:linear-gradient(90deg,#35ffca 0.5px,#fffe00 20.5px,#ffa300 30.5px,#ff7900 38.5px,#ff7800 85.5px,#ff8c00 103.5px,#ff9b00 114.5px,#fb0000 142.5px,#bc0000 152.5px,#f20000 170.5px,#ff0100 172.5px,#ff6b00 182.5px,#ffa900 192.5px,#ffdf00 209.5px,#ffb900 218.5px,#ff3400 231.5px,#fa0000 236.5px,#9e0000 245.5px,#9a0000 246.5px,#a10000 247.5px,#b50000 248.5px,#fc0000 250.5px,#fffe00 257.5px,#36ffc9 265.5px,#06fff9 268.5px,#00d2ff 274.5px,#00caff 277.5px,#03fffc 287.5px,#35ffca 301.5px,#40ffbf 304.5px)"></i>
<i style="top:6px;height:1px;background:linear-gradient(90deg,#38ffc7 0.5px,#fffb00 20.5px,#ffa500 29.5px,#f70 38.5px,#ff7600 85.5px,#ff8900 103.5px,#ff9700 114.5px,#fd0000 141.5px,#b90000 152.5px,#f10000 170.5px,#f00 172.5px,#ff6900 182.5px,#ffa600 192.5px,#ffdb00 209.5px,#ffaf00 219.5px,#ff1200 234.5px,#fa0000 236.5px,#9e0000 245.5px,#a00000 247.5px,#b40000 248.5px,#f90000 250.5px,#ff8e00 254.5px,#fff600 257.5px,#cfff30 259.5px,#25ffda 266.5px,#00fcff 269.5px,#00cbff 275.5px,#00ceff 278.5px,#02fffd 287.5px,#36ffc9 301.5px,#41ffbe 304.5px)"></i>
<i style="top:7px;height:1px;background:linear-gradient(90deg,#3bffc4 0.5px,#fbff04 19.5px,#ffa100 29.5px,#ff7500 38.5px,#ff7300 85.5px,#f80 104.5px,#ff9400 114.5px,#fa0000 141.5px,#b70000 152.5px,#f00000 170.5px,#fe0000 172.5px,#ff6700 182.5px,#ffa300 192.5px,#ffd700 209.5px,#ffac00 219.5px,#ff1d00 233.5px,#fa0000 236.5px,#9e0000 245.5px,#a00000 247.5px,#b30000 248.5px,#f70000 250.5px,#ff4000 252.5px,#ffef00 257.5px,#f1ff0e 258.5px,#3cffc3 265.5px,#09fff6 268.5px,#00f4ff 270.5px,#00caff 275.5px,#00cdff 278.5px,#01fffe 287.5px,#3bffc4 302.5px,#42ffbd 304.5px)"></i>
<i style="top:8px;height:1px;background:linear-gradient(90deg,#3dffc2 0.5px,#feff01 19.5px,#ff9d00 29.5px,#ff7300 38.5px,#ff7100 85.5px,#ff8700 105.5px,#ff9100 114.5px,#fc0000 140.5px,#b50000 152.5px,#ef0000 170.5px,#ff0700 173.5px,#ff6500 182.5px,#ffa000 192.5px,#ffd300 209.5px,#ffa900 219.5px,#ff1c00 233.5px,#fa0000 236.5px,#9d0000 245.5px,#9f0000 247.5px,#b20000 248.5px,#f50000 250.5px,#ff1800 251.5px,#ffe800 257.5px,#f8ff07 258.5px,#40ffbf 265.5px,#0bfff4 268.5px,#0ff 269.5px,#00caff 275.5px,#00cbff 278.5px,#0ff 287.5px,#42ffbd 304.5px)"></i>
<i style="top:9px;height:1px;background:linear-gradient(90deg,#40ffbf 0.5px,#fffe00 19.5px,#f90 29.5px,#ff7000 39.5px,#ff6f00 85.5px,#ff8500 106.5px,#ff8d00 114.5px,#fe0000 139.5px,#b30000 152.5px,#ed0000 170.5px,#ff0600 173.5px,#ff6300 182.5px,#ff9d00 192.5px,#ffcf00 209.5px,#ffa600 219.5px,#ff2700 232.5px,#fa0000 236.5px,#9d0000 245.5px,#9f0000 247.5px,#b10000 248.5px,#f20000 250.5px,#ff1500 251.5px,#ffe100 257.5px,#ff0 258.5px,#43ffbc 265.5px,#0dfff2 268.5px,#00f6ff 270.5px,#00c9ff 275.5px,#00caff 278.5px,#00feff 287.5px,#37ffc8 301.5px,#43ffbc 304.5px)"></i>
<i style="top:10px;height:1px;background:linear-gradient(90deg,#43ffbc 0.5px,#fffb00 19.5px,#ff9400 29.5px,#ff6e00 39.5px,#ff6c00 85.5px,#ff8500 108.5px,#ff8a00 114.5px,#fb0000 139.5px,#b10000 152.5px,#ec0000 170.5px,#ff0500 173.5px,#ff6100 182.5px,#ff9a00 192.5px,#ffcb00 209.5px,#ffa400 219.5px,#ff2700 232.5px,#fa0000 236.5px,#9d0000 245.5px,#9e0000 247.5px,#b00000 248.5px,#f00000 250.5px,#ff1200 251.5px,#fff700 258.5px,#ceff31 260.5px,#2fffd0 266.5px,#03fffc 269.5px,#00c8ff 275.5px,#00c9ff 278.5px,#00fdff 287.5px,#32ffcd 300.5px,#43ffbc 304.5px)"></i>
<i style="top:11px;height:1px;background:linear-gradient(90deg,#46ffb9 0.5px,#fbff04 18.5px,#ff9000 29.5px,#ff6c00 39.5px,#ff6a00 85.5px,#ff8500 110.5px,#ff8300 115.5px,#fc0000 138.5px,#af0000 152.5px,#eb0000 170.5px,#ff0400 173.5px,#ff5f00 182.5px,#ff9700 192.5px,#ffc700 209.5px,#ffa100 219.5px,#ff3200 231.5px,#f90000 236.5px,#9d0000 245.5px,#9e0000 247.5px,#af0000 248.5px,#e00 250.5px,#ff0f00 251.5px,#fff000 258.5px,#f1ff0e 259.5px,#32ffcd 266.5px,#04fffb 269.5px,#00c7ff 275.5px,#00c8ff 278.5px,#01fffe 288.5px,#4fb 304.5px)"></i>
<i style="top:12px;height:1px;background:linear-gradient(90deg,#49ffb6 0.5px,#fdff02 18.5px,#ff9300 28.5px,#ff6c00 38.5px,#ff6700 84.5px,#ff8300 114.5px,#fd0000 137.5px,#ad0000 152.5px,#ea0000 170.5px,#ff0200 173.5px,#ff5d00 182.5px,#ff9400 192.5px,#ffc300 209.5px,#ff9e00 219.5px,#ff3100 231.5px,#f90000 236.5px,#9d0000 245.5px,#9d0000 247.5px,#ae0000 248.5px,#ec0000 250.5px,#ff0c00 251.5px,#ffe900 258.5px,#f7ff08 259.5px,#35ffca 266.5px,#06fff9 269.5px,#00c7ff 275.5px,#00c7ff 278.5px,#0ff 288.5px,#4fb 304.5px)"></i>
<i style="top:13px;height:1px;background:linear-gradient(90deg,#4cffb3 0.5px,#fffe00 18.5px,#ff8f00 28.5px,#ff6a00 38.5px,#ff6500 84.5px,#ff7f00 114.5px,#fe0000 136.5px,#a00 152.5px,#e90000 170.5px,#ff0100 173.5px,#ff5b00 182.5px,#ff9000 192.5px,#ffc000 209.5px,#ff9b00 219.5px,#ff3100 231.5px,#f90000 236.5px,#9d0000 245.5px,#9d0000 247.5px,#ad0000 248.5px,#e90000 250.5px,#ff0900 251.5px,#feff01 259.5px,#4fffb0 265.5px,#14ffeb 268.5px,#00faff 270.5px,#00c6ff 275.5px,#00c6ff 278.5px,#00feff 288.5px,#45ffba 304.5px)"></i>
<i style="top:14px;height:1px;background:linear-gradient(90deg,#4fffb0 0.5px,#fffc00 18.5px,#ff8a00 28.5px,#ff6800 38.5px,#ff6300 84.5px,#ff7c00 114.5px,#f00 135.5px,#a80000 152.5px,#e70000 170.5px,#f00 173.5px,#ff5900 182.5px,#ff8d00 192.5px,#ffbc00 209.5px,#f90 219.5px,#ff3b00 230.5px,#f90000 236.5px,#9d0000 245.5px,#9c0000 247.5px,#ac0000 248.5px,#ff0600 251.5px,#fff900 259.5px,#3affc5 266.5px,#08fff7 269.5px,#00efff 271.5px,#00c5ff 275.5px,#00c5ff 278.5px,#00fdff 288.5px,#45ffba 304.5px)"></i>
<i style="top:15px;height:1px;background:linear-gradient(90deg,#52ffad 0.5px,#faff05 17.5px,#ffcb00 22.5px,#ff8600 28.5px,#f60 38.5px,#ff6000 84.5px,#ff7800 114.5px,#ff0100 134.5px,#a60000 152.5px,#e60000 170.5px,#fe0000 173.5px,#ff5700 182.5px,#ff8a00 192.5px,#ffb700 210.5px,#ff8f00 220.5px,#ff3000 231.5px,#f90000 236.5px,#9d0000 245.5px,#9c0000 247.5px,#ab0000 248.5px,#ff0300 251.5px,#fff300 259.5px,#edff12 260.5px,#3dffc2 266.5px,#0afff5 269.5px,#00f0ff 271.5px,#00c5ff 275.5px,#00c4ff 278.5px,#00fcff 288.5px,#46ffb9 304.5px)"></i>
<i style="top:16px;height:1px;background:linear-gradient(90deg,#54ffab 0.5px,#fdff02 17.5px,#ff8200 28.5px,#ff6400 38.5px,#ff5e00 84.5px,#ff7500 114.5px,#fc0000 134.5px,#a40000 152.5px,#e50000 170.5px,#fc0000 173.5px,#f50 182.5px,#ff8700 192.5px,#ffb300 210.5px,#ff8d00 220.5px,#ff3a00 230.5px,#ff0400 235.5px,#9d0000 245.5px,#9b0000 247.5px,#a00 248.5px,#f00 251.5px,#ffec00 259.5px,#f3ff0c 260.5px,#3fffc0 266.5px,#0bfff4 269.5px,#00feff 270.5px,#00c4ff 275.5px,#00c3ff 278.5px,#01fffe 289.5px,#46ffb9 304.5px)"></i>
<i style="top:17px;height:1px;background:linear-gradient(90deg,#57ffa8 0.5px,#fffe00 17.5px,#ff7e00 28.5px,#ff6200 38.5px,#ff5a00 83.5px,#ff7200 114.5px,#fe0000 133.5px,#a20000 152.5px,#e40000 170.5px,#ff0600 174.5px,#ff5300 182.5px,#ff8400 192.5px,#ffb000 210.5px,#ff8b00 220.5px,#ff3a00 230.5px,#ff0400 235.5px,#9d0000 245.5px,#9b0000 247.5px,#a90000 248.5px,#fb0000 251.5px,#ffc600 258.5px,#f9ff06 260.5px,#43ffbc 266.5px,#0efff1 269.5px,#0ff 270.5px,#00c4ff 275.5px,#00c2ff 278.5px,#0ff 289.5px,#47ffb8 304.5px)"></i>
<i style="top:18px;height:1px;background:linear-gradient(90deg,#5affa5 0.5px,#fffa00 17.5px,#ff7b00 28.5px,#ff5f00 38.5px,#ff5700 83.5px,#ff6e00 114.5px,#fc0000 133.5px,#a10000 152.5px,#e20000 170.5px,#ff0500 174.5px,#ff5000 182.5px,#ff8000 192.5px,#ffad00 210.5px,#ff8a00 220.5px,#ff3900 230.5px,#ff0400 235.5px,#9d0000 245.5px,#9a0000 247.5px,#bf0000 249.5px,#f80000 251.5px,#ff4b00 254.5px,#fffe00 260.5px,#47ffb8 266.5px,#10ffef 269.5px,#03fffc 270.5px,#00c5ff 275.5px,#00c2ff 278.5px,#03fffc 290.5px,#48ffb7 304.5px)"></i>
<i style="top:19px;height:1px;background:linear-gradient(90deg,#5dffa2 0.5px,#feff01 16.5px,#ff7800 28.5px,#ff5c00 38.5px,#ff5300 82.5px,#ff6b00 114.5px,#fb0000 133.5px,#9f0000 152.5px,#e10000 170.5px,#ff0300 174.5px,#ff4d00 182.5px,#ff8000 193.5px,#fa0 210.5px,#ff8900 220.5px,#ff3900 230.5px,#ff0300 235.5px,#9c0000 245.5px,#9a0000 247.5px,#bd0000 249.5px,#f50000 251.5px,#ff1000 252.5px,#ffb600 258.5px,#fff700 260.5px,#c6ff39 262.5px,#4bffb4 266.5px,#14ffeb 269.5px,#00f7ff 271.5px,#00c6ff 275.5px,#00c3ff 278.5px,#02fffd 290.5px,#49ffb6 304.5px)"></i>
<i style="top:20px;height:1px;background:linear-gradient(90deg,#60ff9f 0.5px,#fffc00 16.5px,#ff7500 28.5px,#ff5800 38.5px,#ff5000 82.5px,#ff6700 114.5px,#fb0000 133.5px,#9e0000 152.5px,#df0000 170.5px,#ff0100 174.5px,#ff4a00 182.5px,#ff7c00 193.5px,#ffa700 210.5px,#f80 220.5px,#ff3900 230.5px,#ff0200 235.5px,#9c0000 245.5px,#900 247.5px,#b00 249.5px,#f20000 251.5px,#ff0c00 252.5px,#ffae00 258.5px,#fff000 260.5px,#edff12 261.5px,#50ffaf 266.5px,#17ffe8 269.5px,#00faff 271.5px,#00c8ff 275.5px,#00c3ff 278.5px,#01fffe 290.5px,#4affb5 304.5px)"></i>
<i style="top:21px;height:1px;background:linear-gradient(90deg,#63ff9c 0.5px,#fcff03 15.5px,#ff9e00 24.5px,#ff6d00 29.5px,#ff5300 40.5px,#ff4c00 82.5px,#ff6400 114.5px,#fa0000 133.5px,#9c0000 152.5px,#de0000 170.5px,#fe0000 174.5px,#ff4600 182.5px,#ff7900 193.5px,#ffa400 210.5px,#f80 220.5px,#ff3900 230.5px,#ff0100 235.5px,#9c0000 245.5px,#900 247.5px,#b90000 249.5px,#e00 251.5px,#ff0800 252.5px,#f80 257.5px,#ffe800 260.5px,#f4ff0b 261.5px,#54ffab 266.5px,#1bffe4 269.5px,#00fdff 271.5px,#00caff 275.5px,#00c4ff 278.5px,#05fffa 291.5px,#4bffb4 304.5px)"></i>
<i style="top:22px;height:1px;background:linear-gradient(90deg,#6f9 0.5px,#fffd00 15.5px,#ff7000 28.5px,#ff5000 39.5px,#ff4700 81.5px,#ff6100 114.5px,#fa0000 133.5px,#9b0000 152.5px,#dc0000 170.5px,#fc0000 174.5px,#ff4800 183.5px,#ff7b00 195.5px,#ffa200 210.5px,#ff8d00 219.5px,#ff4300 229.5px,#f00 235.5px,#9b0000 245.5px,#980000 247.5px,#b70000 249.5px,#ff0300 252.5px,#ff8000 257.5px,#fbff04 261.5px,#59ffa6 266.5px,#1fffe0 269.5px,#02fffd 271.5px,#0cf 275.5px,#00c5ff 278.5px,#04fffb 291.5px,#4cffb3 304.5px)"></i>
<i style="top:23px;height:1px;background:linear-gradient(90deg,#69ff96 0.5px,#fbff04 14.5px,#ffa300 23.5px,#ff6800 29.5px,#ff4c00 40.5px,#ff4300 80.5px,#ff5d00 114.5px,#fa0000 133.5px,#9a0000 152.5px,#db0000 170.5px,#ff0500 175.5px,#ff3f00 182.5px,#ff7800 195.5px,#ff9f00 210.5px,#ff8c00 219.5px,#ff4300 229.5px,#f00 235.5px,#9b0000 245.5px,#970000 247.5px,#b50000 249.5px,#fe0000 252.5px,#ff7800 257.5px,#fffc00 261.5px,#5effa1 266.5px,#23ffdc 269.5px,#05fffa 271.5px,#00c7ff 276.5px,#00cdff 280.5px,#03fffc 291.5px,#4dffb2 304.5px)"></i>
<i style="top:24px;height:1px;background:linear-gradient(90deg,#6cff93 0.5px,#ff0 14.5px,#ff6b00 28.5px,#ff4900 39.5px,#ff3c00 76.5px,#ff5a00 114.5px,#fa0000 133.5px,#980000 152.5px,#da0000 170.5px,#ff0300 175.5px,#ff4100 183.5px,#ff7c00 197.5px,#ff9d00 210.5px,#ff8b00 219.5px,#ff4300 229.5px,#fe0000 235.5px,#9b0000 245.5px,#970000 247.5px,#b30000 249.5px,#fa0000 252.5px,#f50 256.5px,#ffd300 260.5px,#fff500 261.5px,#c3ff3c 263.5px,#63ff9c 266.5px,#26ffd9 269.5px,#00f8ff 272.5px,#00c8ff 276.5px,#00cdff 280.5px,#02fffd 291.5px,#4effb1 304.5px)"></i>
<i style="top:25px;height:1px;background:linear-gradient(90deg,#6fff90 0.5px,#faff05 13.5px,#ffb100 21.5px,#ff6900 28.5px,#ff4600 39.5px,#ff3800 72.5px,#ff5700 114.5px,#fa0000 133.5px,#970000 152.5px,#d80000 170.5px,#f00 175.5px,#ff3d00 183.5px,#ff8000 199.5px,#ff9a00 210.5px,#ff8b00 219.5px,#ff4200 229.5px,#fd0000 235.5px,#9a0000 245.5px,#960000 247.5px,#b10000 249.5px,#f60000 252.5px,#ff2100 254.5px,#ff6900 257.5px,#ffef00 261.5px,#ecff13 262.5px,#68ff97 266.5px,#2affd5 269.5px,#00fbff 272.5px,#00caff 276.5px,#00cdff 280.5px,#00f4ff 289.5px,#07fff8 292.5px,#4fffb0 304.5px)"></i>
<i style="top:26px;height:1px;background:linear-gradient(90deg,#72ff8d 0.5px,#feff01 13.5px,#f60 28.5px,#ff4200 39.5px,#ff3400 67.5px,#ff4600 98.5px,#ff5300 114.5px,#fa0000 133.5px,#960000 152.5px,#d70000 170.5px,#fd0000 175.5px,#ff3a00 183.5px,#ff8300 201.5px,#ff9700 211.5px,#ff8a00 219.5px,#ff4200 229.5px,#fc0000 235.5px,#a20000 244.5px,#960000 247.5px,#af0000 249.5px,#f10000 252.5px,#ff0600 253.5px,#ff6100 257.5px,#ffe800 261.5px,#f3ff0c 262.5px,#6cff93 266.5px,#2effd1 269.5px,#00feff 272.5px,#0cf 276.5px,#00cfff 281.5px,#00f2ff 289.5px,#07fff8 292.5px,#50ffaf 304.5px)"></i>
<i style="top:27px;height:1px;background:linear-gradient(90deg,#75ff8a 0.5px,#fffc00 13.5px,#ff6400 28.5px,#ff3f00 39.5px,#ff2f00 65.5px,#ff4000 95.5px,#ff5000 114.5px,#f90000 133.5px,#940000 152.5px,#d50000 170.5px,#ff0500 176.5px,#ff3b00 184.5px,#ff8600 203.5px,#ff9400 212.5px,#ff8400 220.5px,#ff4200 229.5px,#fb0000 235.5px,#a00 243.5px,#940000 246.5px,#9e0000 248.5px,#ff0100 253.5px,#ff5900 257.5px,#f9ff06 262.5px,#71ff8e 266.5px,#32ffcd 269.5px,#02fffd 272.5px,#00cdff 276.5px,#00cfff 281.5px,#00eaff 288.5px,#06fff9 292.5px,#51ffae 304.5px)"></i>
<i style="top:28px;height:1px;background:linear-gradient(90deg,#78ff87 0.5px,#fcff03 12.5px,#ff6100 28.5px,#ff3b00 39.5px,#ff2a00 63.5px,#ff3a00 92.5px,#ff4d00 114.5px,#fe0000 132.5px,#930000 152.5px,#d40000 170.5px,#ff0200 176.5px,#ff3800 184.5px,#ff8400 203.5px,#ff9200 212.5px,#ff8900 219.5px,#ff4200 229.5px,#fb0000 235.5px,#a90000 243.5px,#940000 246.5px,#9c0000 248.5px,#fb0000 253.5px,#ff3700 256.5px,#ff9200 259.5px,#ff0 262.5px,#76ff89 266.5px,#36ffc9 269.5px,#05fffa 272.5px,#00cfff 276.5px,#00cfff 281.5px,#00e2ff 287.5px,#05fffa 292.5px,#52ffad 304.5px)"></i>
<i style="top:29px;height:1px;background:linear-gradient(90deg,#7bff84 0.5px,#fffe00 12.5px,#ff5f00 28.5px,#ff3700 39.5px,#ff2500 62.5px,#ff3600 92.5px,#ff4a00 114.5px,#fe0000 132.5px,#920000 152.5px,#d20000 170.5px,#f00 176.5px,#ff3400 184.5px,#ff8100 203.5px,#ff9000 212.5px,#f80 219.5px,#ff4200 229.5px,#fa0000 235.5px,#b10000 242.5px,#940000 246.5px,#9b0000 248.5px,#f60000 253.5px,#ff0800 254.5px,#ff4900 257.5px,#ffd300 261.5px,#fff800 262.5px,#9aff65 265.5px,#4bffb4 268.5px,#08fff7 272.5px,#00e7ff 274.5px,#0cf 277.5px,#00dbff 286.5px,#04fffb 292.5px,#53ffac 304.5px)"></i>
<i style="top:30px;height:1px;background:linear-gradient(90deg,#7eff81 0.5px,#faff05 11.5px,#ff5c00 28.5px,#ff3400 39.5px,#ff2000 61.5px,#ff3200 92.5px,#ff4600 114.5px,#fe0000 132.5px,#900000 152.5px,#d10000 170.5px,#ff0500 177.5px,#ff3900 186.5px,#ff7f00 203.5px,#ff8d00 213.5px,#ff8300 220.5px,#ff4200 229.5px,#f90000 235.5px,#b00000 242.5px,#930000 246.5px,#9a0000 248.5px,#ff0200 254.5px,#ff4100 257.5px,#fc0 261.5px,#fff200 262.5px,#e7ff18 263.5px,#80ff7f 266.5px,#3dffc2 269.5px,#00f9ff 273.5px,#00d2ff 276.5px,#00ceff 281.5px,#00dfff 287.5px,#04fffb 292.5px,#54ffab 304.5px)"></i>
<i style="top:31px;height:1px;background:linear-gradient(90deg,#81ff7e 0.5px,#feff01 11.5px,#ff5a00 28.5px,#ff3000 39.5px,#ff1b00 61.5px,#ff3100 94.5px,#ff4300 114.5px,#fd0000 132.5px,#8f0000 152.5px,#cf0000 170.5px,#ff0300 177.5px,#ff3a00 187.5px,#ff7c00 203.5px,#ff8c00 214.5px,#ff8200 220.5px,#ff4200 229.5px,#ff0500 234.5px,#a70000 243.5px,#930000 246.5px,#900 248.5px,#fb0000 254.5px,#ff2100 256.5px,#ff5800 258.5px,#ffeb00 262.5px,#edff12 263.5px,#84ff7b 266.5px,#41ffbe 269.5px,#00fcff 273.5px,#00d4ff 276.5px,#00cdff 281.5px,#0df 287.5px,#03fffc 292.5px,#5fa 304.5px)"></i>
<i style="top:32px;height:1px;background:linear-gradient(90deg,#84ff7b 0.5px,#fffc00 11.5px,#ff5f00 27.5px,#ff3200 37.5px,#ff1600 60.5px,#ff2d00 94.5px,#ff4000 114.5px,#fd0000 132.5px,#8e0000 152.5px,#ce0000 170.5px,#f00 177.5px,#ff3600 187.5px,#f70 202.5px,#ff8a00 214.5px,#ff8200 220.5px,#ff4100 229.5px,#ff0500 234.5px,#af0000 242.5px,#920000 246.5px,#980000 248.5px,#f50000 254.5px,#ff0600 255.5px,#ff3200 257.5px,#ff9800 260.5px,#ffe500 262.5px,#f3ff0c 263.5px,#89ff76 266.5px,#45ffba 269.5px,#00feff 273.5px,#00d5ff 276.5px,#00cdff 281.5px,#00d5ff 286.5px,#02fffd 292.5px,#56ffa9 304.5px)"></i>
<i style="top:33px;height:1px;background:linear-gradient(90deg,#87ff78 0.5px,#fbff04 10.5px,#ff5c00 27.5px,#ff2b00 38.5px,#f10 60.5px,#ff2b00 95.5px,#ff3a00 115.5px,#fd0000 132.5px,#8c0000 152.5px,#cd0000 170.5px,#ff0400 178.5px,#ff7200 201.5px,#f80 214.5px,#ff8100 220.5px,#ff4100 229.5px,#ff0400 234.5px,#b60000 241.5px,#920000 246.5px,#970000 248.5px,#f00 255.5px,#ff2a00 257.5px,#ff9100 260.5px,#f9ff06 263.5px,#8eff71 266.5px,#49ffb6 269.5px,#02fffd 273.5px,#00d7ff 276.5px,#00cdff 281.5px,#00d3ff 286.5px,#02fffd 292.5px,#57ffa8 304.5px)"></i>
<i style="top:34px;height:1px;background:linear-gradient(90deg,#8aff75 0.5px,#ff0 10.5px,#ff7c00 23.5px,#ff4800 30.5px,#ff2300 41.5px,#ff0d00 60.5px,#ff2800 96.5px,#ff3700 115.5px,#fc0000 132.5px,#9e0000 148.5px,#8b0000 152.5px,#cb0000 170.5px,#ff0100 178.5px,#ff7300 202.5px,#f80 216.5px,#ff7b00 221.5px,#ff4100 229.5px,#ff0300 234.5px,#b50000 241.5px,#920000 246.5px,#960000 248.5px,#f80000 255.5px,#ff0b00 256.5px,#ff4100 258.5px,#ff0 263.5px,#93ff6c 266.5px,#4dffb2 269.5px,#05fffa 273.5px,#00d2ff 277.5px,#00ceff 285.5px,#01fffe 292.5px,#57ffa8 304.5px)"></i>
<i style="top:35px;height:1px;background:linear-gradient(90deg,#8dff72 0.5px,#fffc00 10.5px,#ff7a00 23.5px,#ff4600 30.5px,#ff2000 41.5px,#ff0900 60.5px,#ff2300 94.5px,#f30 115.5px,#fc0000 132.5px,#a40000 147.5px,#890000 152.5px,#c90000 170.5px,#ff0500 179.5px,#ff7100 202.5px,#ff8700 217.5px,#ff7400 222.5px,#ff4000 229.5px,#ff0300 234.5px,#b50000 241.5px,#920000 246.5px,#950000 248.5px,#ff0500 256.5px,#ff3a00 258.5px,#fff900 263.5px,#7cff83 267.5px,#08fff7 273.5px,#00e7ff 275.5px,#00d1ff 278.5px,#0cf 285.5px,#0ff 292.5px,#57ffa8 304.5px)"></i>
<i style="top:36px;height:1px;background:linear-gradient(90deg,#90ff6f 0.5px,#fffa00 10.5px,#ff8000 22.5px,#f40 30.5px,#ff1e00 41.5px,#ff0500 60.5px,#ff1c00 91.5px,#ff2f00 115.5px,#fb0000 132.5px,#a90000 146.5px,#800 152.5px,#c70000 170.5px,#ff0200 179.5px,#ff6f00 202.5px,#ff8600 217.5px,#ff7300 222.5px,#ff4000 229.5px,#ff0200 234.5px,#bd0000 240.5px,#920000 246.5px,#950000 248.5px,#ed0000 255.5px,#fe0000 256.5px,#ff3400 258.5px,#fff400 263.5px,#e4ff1b 264.5px,#81ff7e 267.5px,#0cfff3 273.5px,#00faff 274.5px,#00d7ff 277.5px,#00cbff 285.5px,#00feff 292.5px,#5fa 304.5px)"></i>
<i style="top:37px;height:1px;background:linear-gradient(90deg,#92ff6d 0.5px,#faff05 9.5px,#ff8700 21.5px,#ff4200 30.5px,#ff1c00 41.5px,#ff0300 60.5px,#ff1500 88.5px,#ff2a00 115.5px,#fa0000 132.5px,#ae0000 145.5px,#870000 152.5px,#c40000 170.5px,#ff0400 180.5px,#ff6d00 202.5px,#ff8400 216.5px,#ff7800 221.5px,#ff3f00 229.5px,#ff0200 234.5px,#bd0000 240.5px,#920000 246.5px,#9d0000 249.5px,#f90000 256.5px,#ff1000 257.5px,#ff7800 260.5px,#fe0 263.5px,#e9ff16 264.5px,#86ff79 267.5px,#10ffef 273.5px,#00feff 274.5px,#00daff 277.5px,#00caff 285.5px,#00f4ff 291.5px,#0ffff0 294.5px,#53ffac 304.5px)"></i>
<i style="top:38px;height:1px;background:linear-gradient(90deg,#95ff6a 0.5px,#faff05 9.5px,#ff7500 23.5px,#ff4100 30.5px,#ff1b00 41.5px,#ff0100 60.5px,#ff0d00 85.5px,#ff2500 115.5px,#fb0000 131.5px,#cd0000 140.5px,#850000 152.5px,#c20000 170.5px,#ff0100 180.5px,#ff6c00 202.5px,#ff8200 215.5px,#ff7b00 220.5px,#ff3e00 229.5px,#ff0100 234.5px,#bd0000 240.5px,#930000 246.5px,#9c0000 249.5px,#f40000 256.5px,#ff0b00 257.5px,#ff7200 260.5px,#ffe800 263.5px,#efff10 264.5px,#8cff73 267.5px,#03fffc 274.5px,#0df 277.5px,#00c9ff 285.5px,#00ebff 290.5px,#05fffa 293.5px,#51ffae 304.5px)"></i>
<i style="top:39px;height:1px;background:linear-gradient(90deg,#98ff67 0.5px,#fbff04 9.5px,#ff7400 23.5px,#ff4000 30.5px,#ff1900 41.5px,#fd0000 59.5px,#ff0700 83.5px,#ff2000 115.5px,#fa0000 131.5px,#d20000 139.5px,#840000 152.5px,#bf0000 170.5px,#ff0300 181.5px,#ff6a00 202.5px,#ff8000 214.5px,#ff7a00 220.5px,#ff3d00 229.5px,#ff0100 234.5px,#bd0000 240.5px,#930000 246.5px,#9b0000 249.5px,#e00000 255.5px,#ff0600 257.5px,#ff6d00 260.5px,#ffe300 263.5px,#f4ff0b 264.5px,#92ff6d 267.5px,#07fff8 274.5px,#00e1ff 277.5px,#00c9ff 285.5px,#00e9ff 290.5px,#04fffb 293.5px,#4effb1 304.5px)"></i>
<i style="top:40px;height:1px;background:linear-gradient(90deg,#9aff65 0.5px,#fcff03 9.5px,#ff7b00 22.5px,#ff3f00 30.5px,#ff1800 41.5px,#fc0000 58.5px,#ff0600 86.5px,#ff1b00 115.5px,#fb0000 130.5px,#d00 137.5px,#820000 152.5px,#bc0000 170.5px,#f00 181.5px,#ff6900 202.5px,#ff7e00 213.5px,#ff7800 220.5px,#ff3c00 229.5px,#f00 234.5px,#bd0000 240.5px,#940000 246.5px,#9b0000 249.5px,#db0000 255.5px,#ff0100 257.5px,#ff6800 260.5px,#faff05 264.5px,#97ff68 267.5px,#0bfff4 274.5px,#00faff 275.5px,#00deff 278.5px,#00c8ff 285.5px,#00e8ff 290.5px,#03fffc 293.5px,#4cffb3 304.5px)"></i>
<i style="top:41px;height:1px;background:linear-gradient(90deg,#9dff62 0.5px,#fdff02 9.5px,#ff7a00 22.5px,#ff3e00 30.5px,#ff1700 41.5px,#fb0000 57.5px,#fc0000 81.5px,#ff1700 115.5px,#f90000 130.5px,#dc0000 137.5px,#810000 152.5px,#be0000 171.5px,#ff0100 182.5px,#ff6700 202.5px,#ff7d00 213.5px,#f70 220.5px,#ff3b00 229.5px,#f00 234.5px,#bd0000 240.5px,#940000 246.5px,#9a0000 249.5px,#d60000 255.5px,#fc0000 257.5px,#ff3c00 259.5px,#fffe00 264.5px,#9dff62 267.5px,#10ffef 274.5px,#00feff 275.5px,#00e1ff 278.5px,#00c7ff 285.5px,#00dfff 289.5px,#02fffd 293.5px,#49ffb6 304.5px)"></i>
<i style="top:42px;height:1px;background:linear-gradient(90deg,#9fff60 0.5px,#feff01 9.5px,#ff7900 22.5px,#ff3d00 30.5px,#ff1600 41.5px,#fa0000 56.5px,#f70000 80.5px,#ff0b00 100.5px,#ff1000 116.5px,#f90000 129.5px,#e10000 136.5px,#800000 152.5px,#b00 171.5px,#ff0300 183.5px,#f60 202.5px,#ff7c00 212.5px,#ff7900 219.5px,#ff4300 228.5px,#f00 234.5px,#bd0000 240.5px,#920000 247.5px,#a00 251.5px,#d10000 255.5px,#f70000 257.5px,#ff1400 258.5px,#fff900 264.5px,#a2ff5d 267.5px,#14ffeb 274.5px,#03fffc 275.5px,#00deff 279.5px,#00c7ff 285.5px,#0df 289.5px,#01fffe 293.5px,#46ffb9 304.5px)"></i>
<i style="top:43px;height:1px;background:linear-gradient(90deg,#a2ff5d 0.5px,#feff01 9.5px,#ff8000 21.5px,#ff3b00 30.5px,#ff1400 41.5px,#fa0000 55.5px,#f20000 79.5px,#ff0600 99.5px,#ff0a00 117.5px,#f50000 130.5px,#df0000 136.5px,#810000 151.5px,#860000 156.5px,#c40000 173.5px,#fe0000 183.5px,#ff4d00 197.5px,#ff7400 207.5px,#ff7a00 218.5px,#ff4200 228.5px,#fe0000 234.5px,#be0000 240.5px,#920000 247.5px,#a80000 251.5px,#c00 255.5px,#f20000 257.5px,#ff0f00 258.5px,#fff300 264.5px,#e6ff19 265.5px,#8fff70 268.5px,#07fff8 275.5px,#00e7ff 278.5px,#00c6ff 285.5px,#00dcff 289.5px,#00feff 293.5px,#4fb 304.5px)"></i>
<i style="top:44px;height:1px;background:linear-gradient(90deg,#a5ff5a 0.5px,#ff0 9.5px,#ff7f00 21.5px,#ff3a00 30.5px,#ff1300 41.5px,#fa0000 54.5px,#e00 79.5px,#ff0400 102.5px,#ff0400 118.5px,#e90000 134.5px,#800000 151.5px,#8a0000 158.5px,#c10000 173.5px,#ff0100 184.5px,#ff6300 202.5px,#ff7a00 212.5px,#ff7200 220.5px,#ff3800 229.5px,#fe0000 234.5px,#be0000 240.5px,#930000 247.5px,#a60000 251.5px,#c80000 255.5px,#ed0000 257.5px,#ff0a00 258.5px,#fe0 264.5px,#ecff13 265.5px,#95ff6a 268.5px,#0bfff4 275.5px,#00fcff 276.5px,#0cf 283.5px,#00c7ff 286.5px,#00fdff 293.5px,#41ffbe 304.5px)"></i>
<i style="top:45px;height:1px;background:linear-gradient(90deg,#a7ff58 0.5px,#fffe00 9.5px,#ff7e00 21.5px,#ff3900 30.5px,#ff1200 41.5px,#f80000 54.5px,#e90000 78.5px,#ff0100 107.5px,#f70000 125.5px,#e80000 134.5px,#800000 151.5px,#860000 157.5px,#be0000 173.5px,#ff0200 185.5px,#ff6200 202.5px,#ff7900 211.5px,#ff7400 219.5px,#ff3700 229.5px,#fd0000 234.5px,#be0000 240.5px,#930000 247.5px,#a40000 251.5px,#c30000 255.5px,#e80000 257.5px,#ff0500 258.5px,#ffe800 264.5px,#f1ff0e 265.5px,#9aff65 268.5px,#10ffef 275.5px,#01fffe 276.5px,#00c7ff 284.5px,#00cbff 287.5px,#05fffa 294.5px,#3effc1 304.5px)"></i>
<i style="top:46px;height:1px;background:linear-gradient(90deg,#af5 0.5px,#fffd00 9.5px,#ff7d00 21.5px,#ff3800 30.5px,#f10 41.5px,#f80000 53.5px,#e50000 78.5px,#fd0000 110.5px,#eb0000 133.5px,#800000 151.5px,#870000 158.5px,#b00 173.5px,#fe0000 185.5px,#ff6000 202.5px,#ff7800 211.5px,#ff6f00 220.5px,#ff3600 229.5px,#fd0000 234.5px,#be0000 240.5px,#930000 247.5px,#a80000 252.5px,#c00 256.5px,#f00 258.5px,#ffe200 264.5px,#f7ff08 265.5px,#a0ff5f 268.5px,#14ffeb 275.5px,#05fffa 276.5px,#00c7ff 284.5px,#00caff 287.5px,#04fffb 294.5px,#3cffc3 304.5px)"></i>
<i style="top:47px;height:1px;background:linear-gradient(90deg,#adff52 0.5px,#fffd00 9.5px,#ff7c00 21.5px,#ff3700 30.5px,#ff0f00 41.5px,#f90000 52.5px,#e00000 78.5px,#f70000 106.5px,#e00 130.5px,#e00000 135.5px,#800000 150.5px,#850000 158.5px,#b80000 173.5px,#ff0100 186.5px,#ff5f00 202.5px,#ff7800 211.5px,#ff6d00 220.5px,#ff3500 229.5px,#fc0000 234.5px,#be0000 240.5px,#940000 247.5px,#a60000 252.5px,#c60000 256.5px,#fa0000 258.5px,#ff4200 260.5px,#fcff03 265.5px,#a5ff5a 268.5px,#18ffe7 275.5px,#00fbff 277.5px,#00c6ff 284.5px,#00c9ff 287.5px,#03fffc 294.5px,#39ffc6 304.5px)"></i>
<i style="top:48px;height:1px;background:linear-gradient(90deg,#afff50 0.5px,#fffc00 9.5px,#ff7a00 21.5px,#ff3600 30.5px,#ff0e00 41.5px,#f90000 51.5px,#da0000 77.5px,#f10000 104.5px,#ea0000 132.5px,#b80000 141.5px,#800000 150.5px,#860000 159.5px,#b50000 173.5px,#ff0300 187.5px,#ff5d00 202.5px,#f70 211.5px,#ff6b00 220.5px,#f30 229.5px,#fc0000 234.5px,#be0000 240.5px,#940000 247.5px,#a80000 253.5px,#c10000 256.5px,#f40000 258.5px,#ff1700 259.5px,#fffc00 265.5px,#abff54 268.5px,#1cffe3 275.5px,#0ff 277.5px,#00c6ff 284.5px,#00c7ff 287.5px,#02fffd 294.5px,#36ffc9 304.5px)"></i>
<i style="top:49px;height:1px;background:linear-gradient(90deg,#b2ff4d 0.5px,#fffb00 9.5px,#ff7900 21.5px,#ff3500 30.5px,#ff0d00 41.5px,#f80000 51.5px,#d50000 77.5px,#ec0000 102.5px,#e70000 133.5px,#800000 150.5px,#840000 159.5px,#b20000 173.5px,#f00 187.5px,#ff5c00 202.5px,#ff7600 211.5px,#ff6a00 220.5px,#ff3200 229.5px,#fb0000 234.5px,#be0000 240.5px,#940000 247.5px,#a40000 253.5px,#bc0000 256.5px,#ef0000 258.5px,#ff1200 259.5px,#fff600 265.5px,#c9ff36 267.5px,#20ffdf 275.5px,#03fffc 277.5px,#00c2ff 285.5px,#00cdff 288.5px,#0ff 294.5px,#3fc 304.5px)"></i>
<i style="top:50px;height:1px;background:linear-gradient(90deg,#b4ff4b 0.5px,#fffa00 9.5px,#ff7800 21.5px,#f30 30.5px,#ff0c00 41.5px,#f60000 51.5px,#d00000 77.5px,#e80000 101.5px,#e50000 133.5px,#800000 150.5px,#850000 160.5px,#af0000 173.5px,#ff0200 188.5px,#ff5a00 202.5px,#ff7500 210.5px,#ff6800 220.5px,#ff3100 229.5px,#fb0000 234.5px,#bf0000 240.5px,#950000 247.5px,#a50000 254.5px,#b60000 256.5px,#cb0000 257.5px,#ea0000 258.5px,#ff0d00 259.5px,#fff100 265.5px,#ecff13 266.5px,#9fff60 269.5px,#14ffeb 276.5px,#00fbff 278.5px,#00c1ff 285.5px,#0cf 288.5px,#00feff 294.5px,#31ffce 304.5px)"></i>
<i style="top:51px;height:1px;background:linear-gradient(90deg,#b7ff48 0.5px,#fffa00 9.5px,#f70 21.5px,#ff3200 30.5px,#ff0800 42.5px,#f20000 52.5px,#c00 77.5px,#e30000 101.5px,#e40000 133.5px,#800000 150.5px,#860000 161.5px,#b10000 174.5px,#ff0500 189.5px,#ff5900 202.5px,#ff7400 210.5px,#ff6700 220.5px,#ff3100 229.5px,#fb0000 234.5px,#bf0000 240.5px,#950000 247.5px,#a10000 254.5px,#b10000 256.5px,#c60000 257.5px,#ff0800 259.5px,#ffeb00 265.5px,#f2ff0d 266.5px,#a5ff5a 269.5px,#18ffe7 276.5px,#00feff 278.5px,#00c1ff 285.5px,#00cbff 288.5px,#00fdff 294.5px,#2effd1 304.5px)"></i>
<i style="top:52px;height:1px;background:linear-gradient(90deg,#b9ff46 0.5px,#fbff04 8.5px,#ffa900 16.5px,#ff4b00 26.5px,#ff2000 34.5px,#fe0000 46.5px,#c80000 77.5px,#de0000 101.5px,#e20000 133.5px,#800000 149.5px,#840000 161.5px,#ae0000 174.5px,#ff0200 189.5px,#ff5700 202.5px,#ff7400 210.5px,#f60 220.5px,#ff3000 229.5px,#fa0000 234.5px,#bf0000 240.5px,#950000 247.5px,#9d0000 254.5px,#ac0000 256.5px,#c00000 257.5px,#ff0300 259.5px,#ffe400 265.5px,#f8ff07 266.5px,#abff54 269.5px,#1effe1 276.5px,#04fffb 278.5px,#00c0ff 285.5px,#00caff 288.5px,#04fffb 295.5px,#2cffd3 304.5px)"></i>
<i style="top:53px;height:1px;background:linear-gradient(90deg,#bcff43 0.5px,#fcff03 8.5px,#ff6c00 22.5px,#ff3000 30.5px,#ff0600 42.5px,#e30000 58.5px,#c40000 77.5px,#da0000 100.5px,#e10000 133.5px,#800000 149.5px,#850000 162.5px,#ac0000 174.5px,#f00 189.5px,#ff5600 202.5px,#ff7300 210.5px,#ff6500 220.5px,#ff3000 229.5px,#fb0000 234.5px,#c00000 240.5px,#930000 248.5px,#9f0000 255.5px,#bc0000 257.5px,#fd0000 259.5px,#fffe00 266.5px,#9eff61 270.5px,#26ffd9 276.5px,#00fdff 279.5px,#00c0ff 285.5px,#00caff 288.5px,#03fffc 295.5px,#2affd5 304.5px)"></i>
<i style="top:54px;height:1px;background:linear-gradient(90deg,#bdff42 0.5px,#fdff02 8.5px,#ff7300 21.5px,#ff2f00 30.5px,#ff0500 42.5px,#c10000 77.5px,#d70000 100.5px,#e00000 133.5px,#800000 149.5px,#840000 162.5px,#a00 174.5px,#ff0400 190.5px,#ff5800 203.5px,#ff7200 210.5px,#ff6500 220.5px,#ff3000 229.5px,#fb0000 234.5px,#c00000 240.5px,#930000 248.5px,#9c0000 255.5px,#b90000 257.5px,#f90000 259.5px,#ff6800 262.5px,#fff500 266.5px,#edff12 267.5px,#41ffbe 275.5px,#05fffa 279.5px,#00c1ff 285.5px,#00c9ff 288.5px,#03fffc 295.5px,#28ffd7 304.5px)"></i>
<i style="top:55px;height:1px;background:linear-gradient(90deg,#bfff40 0.5px,#feff01 8.5px,#ff7100 21.5px,#ff2e00 30.5px,#ff0400 42.5px,#bf0000 77.5px,#d40000 100.5px,#dc0000 125.5px,#de0000 133.5px,#800000 149.5px,#860000 163.5px,#a80000 174.5px,#ff0200 190.5px,#ff5600 203.5px,#ff7200 210.5px,#f60 220.5px,#ff3100 229.5px,#fc0000 234.5px,#ba0000 241.5px,#930000 248.5px,#9b0000 255.5px,#b60000 257.5px,#f50000 259.5px,#ff1900 260.5px,#ffeb00 266.5px,#f7ff08 267.5px,#3cffc3 276.5px,#0ff 280.5px,#00c2ff 285.5px,#00c9ff 288.5px,#03fffc 295.5px,#27ffd8 304.5px)"></i>
<i style="top:56px;height:1px;background:linear-gradient(90deg,#c1ff3e 0.5px,#feff01 8.5px,#ff7000 21.5px,#ff2d00 30.5px,#ff0100 43.5px,#bc0000 77.5px,#d20000 100.5px,#d80000 123.5px,#d00 133.5px,#800000 149.5px,#850000 163.5px,#a60000 174.5px,#f00 190.5px,#ff5900 204.5px,#ff7200 210.5px,#ff6700 220.5px,#ff3200 229.5px,#fd0000 234.5px,#b00 241.5px,#930000 248.5px,#900 255.5px,#b40000 257.5px,#f20000 259.5px,#ff1500 260.5px,#ffe000 266.5px,#fffc00 267.5px,#37ffc8 277.5px,#08fff7 280.5px,#00e8ff 282.5px,#00c3ff 285.5px,#00c3ff 287.5px,#03fffc 295.5px,#26ffd9 304.5px)"></i>
<i style="top:57px;height:1px;background:linear-gradient(90deg,#c2ff3d 0.5px,#ff0 8.5px,#ff6e00 21.5px,#ff2c00 30.5px,#ff0100 43.5px,#ba0000 77.5px,#d00000 100.5px,#d50000 122.5px,#db0000 133.5px,#800000 149.5px,#840000 163.5px,#a50000 174.5px,#ff0400 191.5px,#ff6200 206.5px,#ff7200 211.5px,#ff6800 220.5px,#f30 229.5px,#fe0000 234.5px,#bc0000 241.5px,#930000 248.5px,#980000 255.5px,#b10000 257.5px,#e00 259.5px,#ff1000 260.5px,#ffd600 266.5px,#fff000 267.5px,#f6ff09 268.5px,#32ffcd 278.5px,#00feff 281.5px,#00c5ff 285.5px,#00c3ff 287.5px,#03fffc 295.5px,#25ffda 304.5px)"></i>
<i style="top:58px;height:1px;background:linear-gradient(90deg,#c4ff3b 0.5px,#fffe00 8.5px,#ff7500 20.5px,#ff3000 29.5px,#ff0200 42.5px,#b80000 77.5px,#ce0000 99.5px,#d10000 120.5px,#da0000 133.5px,#800000 149.5px,#850000 164.5px,#a30000 174.5px,#ff0300 191.5px,#f60 207.5px,#ff7200 213.5px,#ff6900 220.5px,#ff3400 229.5px,#ff0100 234.5px,#bd0000 241.5px,#930000 248.5px,#970000 255.5px,#af0000 257.5px,#eb0000 259.5px,#ff0b00 260.5px,#ffcb00 266.5px,#fffc00 268.5px,#06fff9 281.5px,#00c6ff 285.5px,#00c3ff 287.5px,#02fffd 295.5px,#24ffdb 304.5px)"></i>
<i style="top:59px;height:1px;background:linear-gradient(90deg,#c6ff39 0.5px,#fffd00 8.5px,#ff7400 20.5px,#ff2e00 29.5px,#ff0200 42.5px,#b60000 77.5px,#c00 99.5px,#ce0000 119.5px,#d90000 133.5px,#800000 149.5px,#850000 164.5px,#a10000 174.5px,#ff0100 191.5px,#ff6a00 208.5px,#ff7200 217.5px,#ff5600 224.5px,#ff2c00 230.5px,#ff0200 234.5px,#b70000 242.5px,#930000 248.5px,#960000 255.5px,#ad0000 257.5px,#ff0700 260.5px,#ffc000 266.5px,#fff000 268.5px,#faff05 269.5px,#0cfff3 281.5px,#00f8ff 282.5px,#00c7ff 285.5px,#00c3ff 287.5px,#02fffd 295.5px,#23ffdc 304.5px)"></i>
<i style="top:60px;height:1px;background:linear-gradient(90deg,#c7ff38 0.5px,#fffd00 8.5px,#ff7200 20.5px,#ff2d00 29.5px,#ff0100 42.5px,#b40000 77.5px,#c90000 99.5px,#cb0000 119.5px,#d70000 133.5px,#800000 149.5px,#860000 165.5px,#a40000 175.5px,#ff0500 192.5px,#ff6d00 209.5px,#ff6f00 219.5px,#ff3700 229.5px,#ff0300 234.5px,#b00000 243.5px,#920000 248.5px,#950000 255.5px,#ab0000 257.5px,#ff0200 260.5px,#ffb500 266.5px,#fff800 269.5px,#cf3 272.5px,#00fdff 282.5px,#00c8ff 285.5px,#00c4ff 287.5px,#02fffd 295.5px,#2fd 304.5px)"></i>
<i style="top:61px;height:1px;background:linear-gradient(90deg,#c9ff36 0.5px,#fffc00 8.5px,#ff7100 20.5px,#ff2c00 29.5px,#f00 42.5px,#b20000 77.5px,#c70000 99.5px,#c80000 118.5px,#d60000 133.5px,#800000 149.5px,#850000 165.5px,#a30000 175.5px,#ff0300 192.5px,#ff6c00 209.5px,#ff7000 219.5px,#ff3800 229.5px,#ff0400 234.5px,#a20000 245.5px,#900000 250.5px,#930000 255.5px,#a90000 257.5px,#fd0000 260.5px,#ffab00 266.5px,#ff0 270.5px,#5fffa0 278.5px,#03fffc 282.5px,#00caff 285.5px,#00c4ff 287.5px,#02fffd 295.5px,#21ffde 304.5px)"></i>
<i style="top:62px;height:1px;background:linear-gradient(90deg,#caff35 0.5px,#fffb00 8.5px,#ff6f00 20.5px,#ff2b00 29.5px,#fe0000 42.5px,#b00000 77.5px,#c50000 99.5px,#c50000 118.5px,#d50000 133.5px,#800000 149.5px,#860000 166.5px,#a50000 176.5px,#ff0100 192.5px,#ff6f00 210.5px,#ff7100 219.5px,#ff3900 229.5px,#fa0000 235.5px,#a00 244.5px,#910000 249.5px,#920000 255.5px,#a70000 257.5px,#f80000 260.5px,#ff4f00 263.5px,#ffb700 267.5px,#fff200 270.5px,#f9ff06 271.5px,#81ff7e 277.5px,#08fff7 282.5px,#00daff 284.5px,#00c4ff 286.5px,#00d1ff 289.5px,#02fffd 295.5px,#20ffdf 304.5px)"></i>
<i style="top:63px;height:1px;background:linear-gradient(90deg,#cf3 0.5px,#fffa00 8.5px,#ff6d00 20.5px,#ff2a00 29.5px,#fe0000 42.5px,#ae0000 77.5px,#c30000 99.5px,#c30000 118.5px,#d30000 133.5px,#800000 149.5px,#850000 166.5px,#a40000 176.5px,#fe0000 192.5px,#ff6e00 210.5px,#ff7200 219.5px,#ff3a00 229.5px,#fb0000 235.5px,#a00 244.5px,#900000 249.5px,#910000 255.5px,#a40000 257.5px,#f40000 260.5px,#ff1000 261.5px,#ffac00 267.5px,#fff800 271.5px,#ceff31 274.5px,#5bffa4 279.5px,#0dfff2 282.5px,#00f3ff 283.5px,#0cf 285.5px,#00c4ff 287.5px,#02fffd 295.5px,#1fffe0 304.5px)"></i>
<i style="top:64px;height:1px;background:linear-gradient(90deg,#ceff31 0.5px,#fffa00 8.5px,#ff6c00 20.5px,#ff2900 29.5px,#fd0000 42.5px,#ac0000 76.5px,#c00000 99.5px,#bf0000 117.5px,#d20000 133.5px,#800000 149.5px,#850000 167.5px,#a60000 177.5px,#ff0300 193.5px,#ff6e00 210.5px,#ff7300 219.5px,#ff3b00 229.5px,#fc0000 235.5px,#a30000 245.5px,#8f0000 250.5px,#900000 255.5px,#a20000 257.5px,#ef0000 260.5px,#ff0a00 261.5px,#ffa000 267.5px,#fffd00 272.5px,#b2ff4d 276.5px,#12ffed 282.5px,#00f7ff 283.5px,#00ceff 285.5px,#00c4ff 287.5px,#02fffd 295.5px,#1effe1 304.5px)"></i>
<i style="top:65px;height:1px;background:linear-gradient(90deg,#cfff30 0.5px,#fdff02 7.5px,#ffd800 11.5px,#ff6a00 20.5px,#ff2800 29.5px,#fc0000 42.5px,#a00 76.5px,#be0000 99.5px,#bc0000 117.5px,#d00000 133.5px,#800000 149.5px,#840000 167.5px,#a50000 177.5px,#ff0100 193.5px,#ff6e00 210.5px,#ff7500 219.5px,#ff3c00 229.5px,#fd0000 235.5px,#9c0000 246.5px,#8e0000 251.5px,#940000 256.5px,#b40000 258.5px,#ff0500 261.5px,#ff9500 267.5px,#fcff03 273.5px,#a6ff59 277.5px,#00fbff 283.5px,#00cfff 285.5px,#00c4ff 287.5px,#02fffd 295.5px,#1dffe2 304.5px)"></i>
<i style="top:66px;height:1px;background:linear-gradient(90deg,#d1ff2e 0.5px,#feff01 7.5px,#ffcb00 12.5px,#ff6900 20.5px,#ff2700 29.5px,#fc0000 42.5px,#a80000 76.5px,#bc0000 99.5px,#ba0000 117.5px,#cf0000 133.5px,#800000 149.5px,#850000 168.5px,#b00000 180.5px,#ff0500 194.5px,#ff6d00 210.5px,#ff7600 219.5px,#ff3e00 229.5px,#fe0000 235.5px,#9c0000 246.5px,#8e0000 251.5px,#920000 256.5px,#b10000 258.5px,#fe0000 261.5px,#ff8a00 267.5px,#fff500 273.5px,#f7ff08 274.5px,#b3ff4c 277.5px,#00feff 283.5px,#00d0ff 285.5px,#00c5ff 287.5px,#02fffd 295.5px,#1cffe3 304.5px)"></i>
<i style="top:67px;height:1px;background:linear-gradient(90deg,#d2ff2d 0.5px,#ff0 7.5px,#ffca00 12.5px,#ff6700 20.5px,#ff2600 29.5px,#fd0000 41.5px,#a60000 76.5px,#ba0000 99.5px,#b70000 117.5px,#ce0000 133.5px,#800000 149.5px,#850000 169.5px,#b90000 182.5px,#ff0300 194.5px,#ff6d00 210.5px,#f70 219.5px,#ff3f00 229.5px,#f00 235.5px,#9c0000 246.5px,#8d0000 251.5px,#910000 256.5px,#ae0000 258.5px,#f80000 261.5px,#ff3e00 264.5px,#ffa200 269.5px,#fff900 274.5px,#daff25 276.5px,#03fffc 283.5px,#00d1ff 285.5px,#00c5ff 287.5px,#02fffd 295.5px,#1bffe4 304.5px)"></i>
<i style="top:68px;height:1px;background:linear-gradient(90deg,#d4ff2b 0.5px,#fffe00 7.5px,#ffc900 12.5px,#ff6f00 19.5px,#ff2500 29.5px,#fd0000 41.5px,#a40000 76.5px,#b80000 98.5px,#b30000 116.5px,#c00 133.5px,#800000 149.5px,#840000 169.5px,#b70000 182.5px,#ff0100 194.5px,#ff4b00 205.5px,#ff6f00 211.5px,#ff7800 219.5px,#ff4000 229.5px,#ff0100 235.5px,#960000 247.5px,#8b0000 255.5px,#9a0000 257.5px,#f30000 261.5px,#ff0a00 262.5px,#ff8500 268.5px,#ff0 275.5px,#acff53 278.5px,#07fff8 283.5px,#00d3ff 285.5px,#00c5ff 287.5px,#02fffd 295.5px,#1affe5 304.5px)"></i>
<i style="top:69px;height:1px;background:linear-gradient(90deg,#d5ff2a 0.5px,#fffe00 7.5px,#ffc800 12.5px,#ff6d00 19.5px,#ff2400 29.5px,#fc0000 41.5px,#a20000 76.5px,#b60000 98.5px,#b10000 116.5px,#cb0000 133.5px,#800000 149.5px,#850000 170.5px,#b00 183.5px,#ff0400 195.5px,#ff4a00 205.5px,#ff6f00 211.5px,#ff7900 219.5px,#ff4100 229.5px,#ff0300 235.5px,#970000 247.5px,#8b0000 255.5px,#980000 257.5px,#ff0400 262.5px,#ff8b00 269.5px,#fff200 275.5px,#f4ff0b 276.5px,#73ff8c 280.5px,#0cfff3 283.5px,#00edff 284.5px,#00d6ff 285.5px,#00c9ff 286.5px,#00cbff 288.5px,#02fffd 295.5px,#19ffe6 304.5px)"></i>
<i style="top:70px;height:1px;background:linear-gradient(90deg,#d7ff28 0.5px,#fffd00 7.5px,#ffc700 12.5px,#ff6c00 19.5px,#ff2300 29.5px,#fb0000 41.5px,#a00000 76.5px,#b40000 98.5px,#ae0000 116.5px,#ca0000 133.5px,#800000 149.5px,#840000 170.5px,#b90000 183.5px,#ff0200 195.5px,#ff4000 204.5px,#ff6b00 210.5px,#ff7a00 219.5px,#ff4300 229.5px,#ff0400 235.5px,#980000 247.5px,#8b0000 255.5px,#980000 257.5px,#fe0000 262.5px,#ff9100 270.5px,#ffe600 275.5px,#fffe00 276.5px,#a0ff5f 279.5px,#13ffec 283.5px,#00f3ff 284.5px,#00dbff 285.5px,#00ceff 286.5px,#00cfff 288.5px,#03fffc 295.5px,#18ffe7 304.5px)"></i>
<i style="top:71px;height:1px;background:linear-gradient(90deg,#d8ff27 0.5px,#fffc00 7.5px,#ffc600 12.5px,#ff6b00 19.5px,#f20 29.5px,#fb0000 41.5px,#9e0000 76.5px,#b20000 98.5px,#ad0000 116.5px,#c90000 133.5px,#800000 149.5px,#850000 171.5px,#b70000 183.5px,#f00 195.5px,#ff3e00 204.5px,#ff6a00 210.5px,#ff7b00 219.5px,#f40 229.5px,#fa0000 236.5px,#9a0000 247.5px,#8e0000 255.5px,#9a0000 257.5px,#fb0000 262.5px,#ffdb00 275.5px,#fff300 276.5px,#efff10 277.5px,#1dffe2 283.5px,#00fcff 284.5px,#00e4ff 285.5px,#00d6ff 286.5px,#00d6ff 288.5px,#0ff 294.5px,#18ffe7 304.5px)"></i>
<i style="top:72px;height:1px;background:linear-gradient(90deg,#d9ff26 0.5px,#fffb00 7.5px,#ffc600 12.5px,#ff6a00 19.5px,#ff2100 29.5px,#fa0000 41.5px,#9d0000 75.5px,#b10000 98.5px,#ab0000 116.5px,#c80000 133.5px,#800000 149.5px,#840000 171.5px,#b60000 183.5px,#ff0400 196.5px,#ff3c00 204.5px,#ff6900 210.5px,#ff7d00 219.5px,#ff4600 229.5px,#fc0000 236.5px,#9e0000 247.5px,#920000 255.5px,#9e0000 257.5px,#fa0000 262.5px,#ffd100 275.5px,#f9ff06 277.5px,#0afff5 284.5px,#00f1ff 285.5px,#00dfff 287.5px,#04fffb 294.5px,#18ffe7 304.5px)"></i>
<i style="top:73px;height:1px;background:linear-gradient(90deg,#dbff24 0.5px,#fffb00 7.5px,#ffd200 11.5px,#ff6900 19.5px,#ff2000 29.5px,#fc0000 40.5px,#a00000 73.5px,#9f0000 81.5px,#af0000 98.5px,#a90000 116.5px,#c70000 133.5px,#800000 149.5px,#830000 171.5px,#b40000 183.5px,#ff0200 196.5px,#ff3b00 204.5px,#ff6c00 211.5px,#ff7e00 219.5px,#ff4800 229.5px,#fe0000 236.5px,#a20000 247.5px,#980000 255.5px,#a30000 257.5px,#fa0000 262.5px,#ffc900 275.5px,#fffb00 277.5px,#9fff60 280.5px,#1affe5 284.5px,#02fffd 285.5px,#00edff 287.5px,#05fffa 293.5px,#18ffe7 304.5px)"></i>
<i style="top:74px;height:1px;background:linear-gradient(90deg,#dcff23 0.5px,#fffa00 7.5px,#ffd200 11.5px,#ff6900 19.5px,#ff2000 29.5px,#fb0000 40.5px,#a50000 70.5px,#9a0000 78.5px,#ae0000 98.5px,#a80000 116.5px,#c60000 133.5px,#800000 149.5px,#850000 172.5px,#b30000 183.5px,#f00 196.5px,#ff3900 204.5px,#ff6b00 211.5px,#ff8000 219.5px,#ff5300 228.5px,#ff0200 236.5px,#a60000 247.5px,#9e0000 255.5px,#b50000 258.5px,#fb0000 262.5px,#ffc000 275.5px,#fff100 277.5px,#ef1 278.5px,#2affd5 284.5px,#04fffb 286.5px,#03fffc 290.5px,#16ffe9 300.5px,#19ffe6 304.5px)"></i>
<i style="top:75px;height:1px;background:linear-gradient(90deg,#df2 0.5px,#fff900 7.5px,#ffd100 11.5px,#ff6800 19.5px,#ff1f00 29.5px,#fb0000 40.5px,#ab0000 67.5px,#980000 77.5px,#ac0000 98.5px,#a70000 116.5px,#c60000 133.5px,#800000 149.5px,#840000 172.5px,#b10000 183.5px,#ff0400 197.5px,#ff6a00 211.5px,#ff8200 219.5px,#f50 228.5px,#ff0400 236.5px,#ab0000 247.5px,#a40000 255.5px,#b00 258.5px,#fc0000 262.5px,#ffb800 275.5px,#f9ff06 278.5px,#3bffc4 284.5px,#15ffea 286.5px,#0dfff2 289.5px,#19ffe6 304.5px)"></i>
<i style="top:76px;height:1px;background:linear-gradient(90deg,#deff21 0.5px,#ff0 6.5px,#fd0 10.5px,#ff6700 19.5px,#ff1f00 29.5px,#fa0000 40.5px,#ae0000 65.5px,#970000 77.5px,#ab0000 98.5px,#a50000 116.5px,#c50000 133.5px,#800000 149.5px,#840000 172.5px,#af0000 183.5px,#ff0200 197.5px,#ff6900 211.5px,#ff8300 219.5px,#ff5700 228.5px,#fc0000 237.5px,#b00000 247.5px,#ab0000 255.5px,#c00000 258.5px,#fd0000 262.5px,#ffb000 275.5px,#fffa00 278.5px,#4cffb3 284.5px,#26ffd9 286.5px,#1bffe4 290.5px,#1affe5 304.5px)"></i>
<i style="top:77px;height:1px;background:linear-gradient(90deg,#dfff20 0.5px,#fffe00 6.5px,#fd0 10.5px,#ff6700 19.5px,#ff1e00 29.5px,#fc0000 39.5px,#af0000 64.5px,#950000 77.5px,#a00 98.5px,#a40000 116.5px,#c40000 133.5px,#800000 149.5px,#830000 172.5px,#ae0000 183.5px,#f00 197.5px,#ff6800 211.5px,#ff8500 219.5px,#ff5a00 228.5px,#fe0000 237.5px,#b50000 247.5px,#b10000 255.5px,#c50000 258.5px,#fe0000 262.5px,#ffa800 275.5px,#ffef00 278.5px,#f1ff0e 279.5px,#5dffa2 284.5px,#37ffc8 286.5px,#26ffd9 290.5px,#1affe5 304.5px)"></i>
<i style="top:78px;height:1px;background:linear-gradient(90deg,#e0ff1f 0.5px,#fffd00 6.5px,#ffdc00 10.5px,#f60 19.5px,#ff1e00 29.5px,#fc0000 39.5px,#af0000 63.5px,#940000 77.5px,#a80000 98.5px,#a30000 116.5px,#c40000 133.5px,#800000 149.5px,#850000 173.5px,#b20000 184.5px,#ff0400 198.5px,#ff6700 211.5px,#ff8600 219.5px,#ff5c00 228.5px,#ff0100 237.5px,#b90000 247.5px,#b70000 255.5px,#cb0000 258.5px,#f00 262.5px,#ff9f00 275.5px,#ffe400 278.5px,#fdff02 279.5px,#6eff91 284.5px,#48ffb7 286.5px,#32ffcd 290.5px,#1cffe3 302.5px,#1bffe4 304.5px)"></i>
<i style="top:79px;height:1px;background:linear-gradient(90deg,#e1ff1e 0.5px,#fffd00 6.5px,#ffdc00 10.5px,#f60 19.5px,#ff1d00 29.5px,#fb0000 39.5px,#b00000 62.5px,#930000 77.5px,#a70000 98.5px,#a20000 116.5px,#c30000 133.5px,#800000 149.5px,#840000 173.5px,#b10000 184.5px,#ff0200 198.5px,#ff6b00 212.5px,#f80 219.5px,#ff5e00 228.5px,#ff0400 237.5px,#b00 248.5px,#c10000 256.5px,#e90000 260.5px,#ff0100 262.5px,#ff9700 275.5px,#ffd900 278.5px,#fff500 279.5px,#edff12 280.5px,#7fff80 284.5px,#59ffa6 286.5px,#39ffc6 291.5px,#21ffde 299.5px,#1bffe4 304.5px)"></i>
<i style="top:80px;height:1px;background:linear-gradient(90deg,#e2ff1d 0.5px,#fffc00 6.5px,#ffdb00 10.5px,#ff6500 19.5px,#ff1c00 29.5px,#fa0000 39.5px,#ae0000 62.5px,#910000 77.5px,#a50000 98.5px,#a00000 116.5px,#c20000 133.5px,#800000 149.5px,#830000 173.5px,#af0000 184.5px,#ff0100 198.5px,#ff6a00 212.5px,#ff8a00 219.5px,#ff6000 228.5px,#fc0000 238.5px,#c00000 248.5px,#c70000 256.5px,#ff0200 262.5px,#ff8f00 275.5px,#ffce00 278.5px,#faff05 280.5px,#7bff84 285.5px,#57ffa8 288.5px,#2affd5 296.5px,#1bffe4 304.5px)"></i>
<i style="top:81px;height:1px;background:linear-gradient(90deg,#e3ff1c 0.5px,#fffb00 6.5px,#ffda00 10.5px,#ff6500 19.5px,#ff1c00 29.5px,#fa0000 39.5px,#ae0000 61.5px,#900000 77.5px,#a40000 98.5px,#9f0000 116.5px,#c20000 133.5px,#800000 149.5px,#830000 173.5px,#ad0000 184.5px,#ff0500 199.5px,#ff7000 213.5px,#ff8b00 219.5px,#ff6300 228.5px,#f00 238.5px,#c50000 248.5px,#cd0000 256.5px,#ff0400 262.5px,#ff8700 275.5px,#ffc300 278.5px,#fff700 280.5px,#d3ff2c 282.5px,#8cff73 285.5px,#6f9 288.5px,#2effd1 296.5px,#1cffe3 304.5px)"></i>
<i style="top:82px;height:1px;background:linear-gradient(90deg,#e4ff1b 0.5px,#fffa00 6.5px,#ffda00 10.5px,#ff6400 19.5px,#ff1b00 29.5px,#f90000 39.5px,#ac0000 61.5px,#8f0000 77.5px,#a30000 98.5px,#9e0000 116.5px,#c10000 133.5px,#800000 149.5px,#850000 174.5px,#ac0000 184.5px,#ff0300 199.5px,#ff6f00 213.5px,#ff8d00 219.5px,#ff6500 228.5px,#ff0200 238.5px,#ca0000 248.5px,#d90000 257.5px,#ff0500 262.5px,#ff7f00 275.5px,#ffb800 278.5px,#fbff04 281.5px,#9dff62 285.5px,#6bff94 289.5px,#32ffcd 296.5px,#1cffe3 304.5px)"></i>
<i style="top:83px;height:1px;background:linear-gradient(90deg,#e5ff1a 0.5px,#fffa00 6.5px,#ffd900 10.5px,#ff6300 19.5px,#ff1b00 29.5px,#fc0000 38.5px,#ac0000 60.5px,#8d0000 77.5px,#a10000 98.5px,#9c0000 116.5px,#c00000 133.5px,#800000 148.5px,#840000 174.5px,#a00 184.5px,#ff0200 199.5px,#ff7c00 215.5px,#ff8e00 219.5px,#ff6700 228.5px,#ff0500 238.5px,#cf0000 248.5px,#df0000 257.5px,#ff0600 262.5px,#f70 275.5px,#ffae00 278.5px,#fff500 281.5px,#f1ff0e 282.5px,#9eff61 286.5px,#3bffc4 295.5px,#1dffe2 304.5px)"></i>
<i style="top:84px;height:1px;background:linear-gradient(90deg,#e7ff18 0.5px,#fff900 6.5px,#ffd900 10.5px,#ff6300 19.5px,#ff1a00 29.5px,#fb0000 38.5px,#a00 60.5px,#8c0000 77.5px,#a00000 98.5px,#9b0000 116.5px,#c00000 133.5px,#800000 148.5px,#830000 174.5px,#a80000 184.5px,#f00 199.5px,#ff8300 216.5px,#ff8f00 220.5px,#ff6100 229.5px,#f00 239.5px,#d40000 248.5px,#e50000 257.5px,#f00 261.5px,#ff6e00 275.5px,#ffa300 278.5px,#fffd00 282.5px,#afff50 286.5px,#40ffbf 295.5px,#1dffe2 304.5px)"></i>
<i style="top:85px;height:1px;background:linear-gradient(90deg,#e8ff17 0.5px,#fff800 6.5px,#ffd800 10.5px,#ff6200 19.5px,#ff1a00 29.5px,#fa0000 38.5px,#a80000 60.5px,#8a0000 77.5px,#9f0000 98.5px,#9a0000 116.5px,#bf0000 133.5px,#800000 148.5px,#850000 175.5px,#ac0000 185.5px,#ff0500 200.5px,#ff8b00 217.5px,#ff9100 220.5px,#ff6400 229.5px,#ff0300 239.5px,#d90000 248.5px,#ef0000 258.5px,#ff0800 262.5px,#f60 275.5px,#ff9800 278.5px,#faff05 283.5px,#b0ff4f 287.5px,#45ffba 295.5px,#1effe1 304.5px)"></i>
<i style="top:86px;height:1px;background:linear-gradient(90deg,#e9ff16 0.5px,#fffd00 5.5px,#ffd800 10.5px,#ff6200 19.5px,#ff1900 29.5px,#fa0000 38.5px,#a70000 60.5px,#890000 77.5px,#9d0000 98.5px,#960000 115.5px,#be0000 133.5px,#800000 148.5px,#840000 175.5px,#a00 185.5px,#ff0300 200.5px,#ff9100 218.5px,#ff8b00 222.5px,#f60 229.5px,#ff0500 239.5px,#de0000 248.5px,#f30000 258.5px,#ff0900 262.5px,#ff5e00 275.5px,#ff8d00 278.5px,#fff400 283.5px,#f6ff09 284.5px,#72ff8d 292.5px,#41ffbe 296.5px,#1fffe0 304.5px)"></i>
<i style="top:87px;height:1px;background:linear-gradient(90deg,#eaff15 0.5px,#fffc00 5.5px,#ffd700 10.5px,#ff6100 19.5px,#ff1800 29.5px,#f90000 38.5px,#a50000 60.5px,#800 77.5px,#9c0000 98.5px,#950000 115.5px,#be0000 133.5px,#800000 148.5px,#830000 175.5px,#a90000 185.5px,#ff0200 200.5px,#ff9200 218.5px,#ff8d00 222.5px,#ff6800 229.5px,#ff0900 239.5px,#f40000 243.5px,#e40000 249.5px,#ff0500 261.5px,#ff4e00 274.5px,#ff7100 277.5px,#fff800 284.5px,#d0ff2f 287.5px,#4fffb0 295.5px,#23ffdc 303.5px,#20ffdf 304.5px)"></i>
<i style="top:88px;height:1px;background:linear-gradient(90deg,#ebff14 0.5px,#fffb00 5.5px,#ffd600 10.5px,#ff6100 19.5px,#ff1800 29.5px,#f90000 38.5px,#a50000 59.5px,#860000 77.5px,#9b0000 98.5px,#940000 115.5px,#bd0000 133.5px,#800000 148.5px,#850000 176.5px,#ac0000 186.5px,#f00 200.5px,#ff9200 218.5px,#ff8e00 222.5px,#ff6b00 229.5px,#ff0c00 239.5px,#f40000 244.5px,#e90000 249.5px,#ff0300 260.5px,#ff3b00 272.5px,#ff5a00 276.5px,#fffa00 285.5px,#56ffa9 295.5px,#2bffd4 302.5px,#23ffdc 304.5px)"></i>
<i style="top:89px;height:1px;background:linear-gradient(90deg,#ecff13 0.5px,#fffb00 5.5px,#ffd600 10.5px,#ff6000 19.5px,#ff1800 29.5px,#fc0000 37.5px,#a40000 59.5px,#850000 77.5px,#900 98.5px,#930000 115.5px,#bc0000 133.5px,#800000 148.5px,#840000 176.5px,#ab0000 186.5px,#ff0500 201.5px,#ff9200 218.5px,#ff8f00 222.5px,#ff6d00 229.5px,#ff1200 239.5px,#fa0000 244.5px,#e00 249.5px,#ff0500 260.5px,#ff3100 271.5px,#ff5400 276.5px,#fffe00 286.5px,#5fffa0 295.5px,#31ffce 302.5px,#28ffd7 304.5px)"></i>
<i style="top:90px;height:1px;background:linear-gradient(90deg,#edff12 0.5px,#fffa00 5.5px,#ffd500 10.5px,#ff6000 19.5px,#ff1800 29.5px,#fc0000 37.5px,#a30000 59.5px,#830000 77.5px,#980000 98.5px,#920000 115.5px,#b00 133.5px,#800000 148.5px,#830000 176.5px,#ae0000 187.5px,#ff0300 201.5px,#ff9100 218.5px,#ff8f00 222.5px,#ff7000 229.5px,#ff1800 239.5px,#fc0000 245.5px,#f60000 251.5px,#ff0600 260.5px,#ff2e00 271.5px,#ff4e00 276.5px,#ffde00 285.5px,#fcff03 287.5px,#6aff95 295.5px,#38ffc7 302.5px,#2fffd0 304.5px)"></i>
<i style="top:91px;height:1px;background:linear-gradient(90deg,#ef1 0.5px,#fff900 5.5px,#ffd500 10.5px,#ff6000 19.5px,#ff1800 29.5px,#fc0000 37.5px,#a20000 59.5px,#820000 77.5px,#970000 98.5px,#910000 115.5px,#b00 133.5px,#800000 148.5px,#850000 177.5px,#b00 190.5px,#f00 201.5px,#ff8f00 218.5px,#ff8f00 222.5px,#ff7300 229.5px,#ff1f00 239.5px,#fc0000 247.5px,#ff0700 260.5px,#ff2600 270.5px,#ff4900 276.5px,#ffd000 285.5px,#fff400 287.5px,#f7ff08 288.5px,#7f8 295.5px,#42ffbd 302.5px,#38ffc7 304.5px)"></i>
<i style="top:92px;height:1px;background:linear-gradient(90deg,#efff10 0.5px,#fff800 5.5px,#ffd400 10.5px,#ff6000 19.5px,#ff1800 29.5px,#fc0000 37.5px,#a10000 59.5px,#810000 77.5px,#950000 98.5px,#930000 116.5px,#ba0000 133.5px,#800000 148.5px,#840000 177.5px,#b90000 190.5px,#fd0000 201.5px,#ff8d00 218.5px,#ff8f00 222.5px,#ff7500 229.5px,#ff2600 239.5px,#ff0100 248.5px,#ff0900 261.5px,#ff2800 271.5px,#ff4500 276.5px,#ffc300 285.5px,#fffa00 288.5px,#84ff7b 295.5px,#45ffba 303.5px,#41ffbe 304.5px)"></i>
<i style="top:93px;height:1px;background:linear-gradient(90deg,#f0ff0f 0.5px,#fff700 5.5px,#ffd400 10.5px,#ff6000 19.5px,#ff1800 29.5px,#fc0000 37.5px,#a00000 59.5px,#800000 77.5px,#940000 98.5px,#920000 116.5px,#b90000 133.5px,#800000 148.5px,#830000 177.5px,#bd0000 191.5px,#ff0300 202.5px,#ff8c00 218.5px,#ff8e00 222.5px,#ff7800 229.5px,#ff2800 240.5px,#ff0600 249.5px,#ff0b00 262.5px,#ff2900 272.5px,#ff4a00 277.5px,#ffc700 286.5px,#ff0 289.5px,#90ff6f 295.5px,#4fffb0 303.5px,#4affb5 304.5px)"></i>
<i style="top:94px;height:1px;background:linear-gradient(90deg,#f1ff0e 0.5px,#fffb00 4.5px,#ffde00 9.5px,#ff5700 20.5px,#ff1800 29.5px,#fc0000 37.5px,#a00000 59.5px,#800000 76.5px,#920000 99.5px,#920000 116.5px,#b90000 133.5px,#800000 148.5px,#830000 177.5px,#b00 191.5px,#ff0100 202.5px,#ff8a00 218.5px,#ff8e00 222.5px,#ff7b00 229.5px,#ff2f00 240.5px,#ff0c00 249.5px,#ff0900 261.5px,#ff1e00 270.5px,#ff3c00 276.5px,#fa0 285.5px,#fff200 289.5px,#f9ff06 290.5px,#9dff62 295.5px,#58ffa7 303.5px,#53ffac 304.5px)"></i>
<i style="top:95px;height:1px;background:linear-gradient(90deg,#f2ff0d 0.5px,#fffb00 4.5px,#fd0 9.5px,#ff5700 20.5px,#ff1800 29.5px,#fc0000 37.5px,#9f0000 59.5px,#800000 76.5px,#910000 100.5px,#910000 116.5px,#b80000 133.5px,#800000 148.5px,#850000 178.5px,#c40000 193.5px,#fd0000 202.5px,#ff5b00 213.5px,#ff8d00 219.5px,#ff8200 228.5px,#ff2d00 242.5px,#ff1000 250.5px,#ff0a00 261.5px,#ff1c00 270.5px,#ff3700 276.5px,#ff9d00 285.5px,#fff800 290.5px,#cf3 293.5px,#9eff61 296.5px,#5cffa3 304.5px)"></i>
<i style="top:96px;height:1px;background:linear-gradient(90deg,#f4ff0b 0.5px,#fffa00 4.5px,#ffdc00 9.5px,#ff5700 20.5px,#ff1800 29.5px,#fc0000 37.5px,#9e0000 59.5px,#800000 75.5px,#900000 100.5px,#900000 116.5px,#b70000 133.5px,#800000 148.5px,#840000 178.5px,#c20000 193.5px,#ff0300 203.5px,#ff6200 214.5px,#ff8b00 219.5px,#ff8400 228.5px,#ff2600 245.5px,#ff0900 257.5px,#ff1200 268.5px,#ff3200 276.5px,#ff9000 285.5px,#fffe00 291.5px,#b7ff48 295.5px,#6bff94 303.5px,#65ff9a 304.5px)"></i>
<i style="top:97px;height:1px;background:linear-gradient(90deg,#f5ff0a 0.5px,#fff900 4.5px,#ffdc00 9.5px,#ff5700 20.5px,#ff1800 29.5px,#fc0000 37.5px,#9d0000 59.5px,#800000 74.5px,#890000 89.5px,#8d0000 104.5px,#8f0000 116.5px,#b70000 133.5px,#800000 148.5px,#830000 178.5px,#c00000 193.5px,#f00 203.5px,#f50 213.5px,#ff8a00 219.5px,#ff8700 228.5px,#ff2100 248.5px,#ff0a00 259.5px,#ff1300 269.5px,#ff3500 277.5px,#ff8300 285.5px,#faff05 292.5px,#b7ff48 296.5px,#6eff91 304.5px)"></i>
<i style="top:98px;height:1px;background:linear-gradient(90deg,#f6ff09 0.5px,#fff300 5.5px,#ffd100 10.5px,#ff6000 19.5px,#ff1800 29.5px,#fc0000 37.5px,#9c0000 59.5px,#800000 74.5px,#870000 89.5px,#8c0000 105.5px,#8f0000 116.5px,#b60000 133.5px,#800000 148.5px,#830000 178.5px,#bd0000 193.5px,#ff0500 204.5px,#ff5300 213.5px,#f80 219.5px,#ff8900 228.5px,#ff2100 250.5px,#ff0b00 260.5px,#f10 269.5px,#ff3000 277.5px,#ff7600 285.5px,#ffcf00 290.5px,#fff700 292.5px,#e1ff1e 294.5px,#aeff51 298.5px,#7f8 304.5px)"></i>
<i style="top:99px;height:1px;background:linear-gradient(90deg,#f7ff08 0.5px,#fff700 4.5px,#ffdb00 9.5px,#ff5700 20.5px,#ff1800 29.5px,#fc0000 37.5px,#9c0000 59.5px,#800000 73.5px,#870000 90.5px,#890000 110.5px,#960000 119.5px,#b50000 133.5px,#800000 148.5px,#850000 179.5px,#b00 193.5px,#ff0200 204.5px,#ff4500 212.5px,#ff8700 219.5px,#ff8b00 228.5px,#ff1800 254.5px,#ff0900 264.5px,#ff1d00 274.5px,#ff4e00 282.5px,#f70 286.5px,#fffd00 293.5px,#c4ff3b 297.5px,#81ff7e 304.5px)"></i>
<i style="top:100px;height:1px;background:linear-gradient(90deg,#f8ff07 0.5px,#fff600 4.5px,#ffda00 9.5px,#ff5700 20.5px,#ff1800 29.5px,#fc0000 37.5px,#9b0000 59.5px,#800000 73.5px,#860000 90.5px,#8d0000 116.5px,#b50000 133.5px,#800000 148.5px,#840000 179.5px,#b90000 193.5px,#fe0000 204.5px,#ff4200 212.5px,#ff8500 219.5px,#ff8d00 228.5px,#ff0e00 258.5px,#ff0a00 268.5px,#ff2b00 278.5px,#ff5c00 285.5px,#ffa100 289.5px,#fcff03 294.5px,#baff45 299.5px,#8aff75 304.5px)"></i>
<i style="top:101px;height:1px;background:linear-gradient(90deg,#f9ff06 0.5px,#fff100 5.5px,#ffd000 10.5px,#ff5700 20.5px,#ff1800 29.5px,#fc0000 37.5px,#9a0000 59.5px,#800000 72.5px,#860000 91.5px,#8d0000 116.5px,#b40000 133.5px,#800000 148.5px,#830000 179.5px,#b60000 193.5px,#ff0300 205.5px,#ff3f00 212.5px,#ff8400 219.5px,#ff8e00 229.5px,#ff4900 245.5px,#ff1000 258.5px,#ff0800 268.5px,#ff2500 278.5px,#ff4f00 285.5px,#ff9300 289.5px,#fff500 294.5px,#eaff15 296.5px,#93ff6c 304.5px)"></i>
<i style="top:102px;height:1px;background:linear-gradient(90deg,#faff05 0.5px,#ffeb00 6.5px,#ffcf00 10.5px,#ff5700 20.5px,#ff1800 29.5px,#fc0000 37.5px,#900 59.5px,#800000 72.5px,#860000 92.5px,#8c0000 116.5px,#b30000 133.5px,#800000 148.5px,#820000 179.5px,#b40000 193.5px,#ff0100 205.5px,#ff3d00 212.5px,#ff8200 219.5px,#ff9100 229.5px,#ff6000 242.5px,#f10 258.5px,#ff0600 268.5px,#ff2700 280.5px,#ff4300 285.5px,#ff8500 289.5px,#fff900 295.5px,#b9ff46 301.5px,#9cff63 304.5px)"></i>
<i style="top:103px;height:1px;background:linear-gradient(90deg,#fbff04 0.5px,#ffe600 7.5px,#ffc300 11.5px,#ff5700 20.5px,#ff1800 29.5px,#fc0000 37.5px,#900 59.5px,#800000 71.5px,#850000 93.5px,#8b0000 116.5px,#b30000 133.5px,#800000 148.5px,#840000 180.5px,#b20000 193.5px,#ff0400 206.5px,#ff4500 213.5px,#ff8100 219.5px,#ff9300 229.5px,#ff6c00 241.5px,#ff1200 258.5px,#ff0400 268.5px,#ff2900 283.5px,#ff4200 286.5px,#fffb00 296.5px,#a5ff5a 304.5px)"></i>
<i style="top:104px;height:1px;background:linear-gradient(90deg,#fcff03 0.5px,#ffdf00 8.5px,#ffa900 13.5px,#ff5700 20.5px,#ff1800 29.5px,#fc0000 37.5px,#980000 59.5px,#800000 71.5px,#8b0000 116.5px,#b20000 133.5px,#800000 148.5px,#840000 180.5px,#b00000 193.5px,#ff0100 206.5px,#ff3700 212.5px,#ff8000 219.5px,#ff9600 229.5px,#ff7800 240.5px,#f10 259.5px,#ff0200 268.5px,#f20 284.5px,#ff4500 287.5px,#ffef00 296.5px,#fffd00 297.5px,#aeff51 304.5px)"></i>
<i style="top:105px;height:1px;background:linear-gradient(90deg,#fdff02 0.5px,#ffd700 9.5px,#ff5700 20.5px,#ff1800 29.5px,#fc0000 37.5px,#970000 59.5px,#800000 71.5px,#8a0000 116.5px,#b10000 133.5px,#800000 148.5px,#830000 180.5px,#ae0000 193.5px,#fe0000 206.5px,#ff2900 211.5px,#ff7e00 219.5px,#f90 229.5px,#ff8400 239.5px,#f30 253.5px,#ff1000 260.5px,#ff0100 268.5px,#ff1900 284.5px,#ff3a00 287.5px,#ffe400 296.5px,#feff01 298.5px,#b7ff48 304.5px)"></i>
<i style="top:106px;height:1px;background:linear-gradient(90deg,#feff01 0.5px,#ffd700 9.5px,#ff5800 20.5px,#ff1900 29.5px,#fc0000 37.5px,#970000 59.5px,#800000 70.5px,#890000 116.5px,#b00000 133.5px,#800000 148.5px,#850000 181.5px,#ac0000 193.5px,#ff0300 207.5px,#ff3d00 213.5px,#ff7d00 219.5px,#ff9c00 229.5px,#ff8b00 239.5px,#ff4600 251.5px,#ff1500 259.5px,#ff0100 268.5px,#ff1200 284.5px,#ff3200 287.5px,#ffdb00 296.5px,#faff05 299.5px,#bfff40 304.5px)"></i>
<i style="top:107px;height:1px;background:linear-gradient(90deg,#feff01 0.5px,#ffd700 9.5px,#ff5a00 20.5px,#ff1a00 29.5px,#f90000 38.5px,#980000 59.5px,#800000 70.5px,#800 116.5px,#af0000 133.5px,#800000 148.5px,#840000 181.5px,#a00 193.5px,#ff0200 207.5px,#ff3c00 213.5px,#ff7b00 219.5px,#ffa000 229.5px,#ff9100 239.5px,#ff5300 250.5px,#ff1d00 258.5px,#ff0400 268.5px,#ff1000 284.5px,#ff2f00 287.5px,#ffd500 296.5px,#fffd00 299.5px,#c7ff38 304.5px)"></i>
<i style="top:108px;height:1px;background:linear-gradient(90deg,#feff01 0.5px,#ffd700 9.5px,#ff5c00 20.5px,#ff1b00 29.5px,#fa0000 38.5px,#960000 60.5px,#800000 70.5px,#800 116.5px,#ae0000 133.5px,#800000 148.5px,#830000 181.5px,#a90000 193.5px,#ff0100 207.5px,#ff3a00 213.5px,#ff7a00 219.5px,#ffa400 229.5px,#ff9700 239.5px,#ff5900 250.5px,#f20 258.5px,#ff0700 269.5px,#f10 284.5px,#ff3000 287.5px,#ffd100 296.5px,#f9ff06 300.5px,#ceff31 304.5px)"></i>
<i style="top:109px;height:1px;background:linear-gradient(90deg,#feff01 0.5px,#ffd700 9.5px,#ff5600 21.5px,#ff1d00 29.5px,#fb0000 38.5px,#970000 60.5px,#800000 70.5px,#870000 116.5px,#ad0000 133.5px,#800000 148.5px,#850000 182.5px,#a80000 193.5px,#f00 207.5px,#ff3900 213.5px,#ff8000 220.5px,#ffa700 229.5px,#ff9c00 239.5px,#ff6000 250.5px,#ff2800 258.5px,#ff0c00 269.5px,#ff0e00 281.5px,#ff1b00 285.5px,#f40 288.5px,#ffcf00 296.5px,#feff01 300.5px,#d5ff2a 304.5px)"></i>
<i style="top:110px;height:1px;background:linear-gradient(90deg,#ff0 0.5px,#ffd700 9.5px,#ff5900 21.5px,#ff1e00 29.5px,#fc0000 38.5px,#980000 60.5px,#800000 71.5px,#860000 116.5px,#ac0000 133.5px,#800000 148.5px,#840000 182.5px,#a10000 192.5px,#f80000 206.5px,#ff0e00 209.5px,#ff7f00 220.5px,#ffab00 229.5px,#ffa200 239.5px,#ff6e00 249.5px,#ff2d00 258.5px,#ff0e00 271.5px,#ff0d00 279.5px,#ff1f00 285.5px,#ff5900 289.5px,#ffcd00 296.5px,#fffb00 300.5px,#dcff23 304.5px)"></i>
<i style="top:111px;height:1px;background:linear-gradient(90deg,#ff0 0.5px,#ffd700 9.5px,#ff5b00 21.5px,#ff2000 29.5px,#fa0000 39.5px,#900 60.5px,#800000 71.5px,#830000 115.5px,#a00 133.5px,#800000 148.5px,#830000 182.5px,#a00000 192.5px,#fe0000 207.5px,#ff3700 213.5px,#ff7e00 220.5px,#ffaf00 229.5px,#ffa700 239.5px,#ff7500 249.5px,#f30 258.5px,#ff0b00 275.5px,#ff1d00 284.5px,#ff3b00 287.5px,#ffcb00 296.5px,#fcff03 301.5px,#e2ff1d 304.5px)"></i>
<i style="top:112px;height:1px;background:linear-gradient(90deg,#ff0 0.5px,#ffd800 9.5px,#ff5600 22.5px,#ff1d00 30.5px,#fb0000 39.5px,#9a0000 60.5px,#800000 71.5px,#850000 116.5px,#a90000 133.5px,#800000 148.5px,#850000 183.5px,#9f0000 192.5px,#ff0500 208.5px,#ff8500 221.5px,#ffb300 229.5px,#ffac00 239.5px,#ff7b00 249.5px,#ff3900 258.5px,#ff0c00 276.5px,#ff2800 285.5px,#ff5e00 289.5px,#ffc900 296.5px,#fffc00 301.5px,#e9ff16 304.5px)"></i>
<i style="top:113px;height:1px;background:linear-gradient(90deg,#ff0 0.5px,#ffd800 9.5px,#ff5000 23.5px,#ff1f00 30.5px,#fc0000 39.5px,#9b0000 60.5px,#800000 71.5px,#840000 116.5px,#a80000 133.5px,#800000 148.5px,#840000 183.5px,#9d0000 192.5px,#ff0500 208.5px,#ff8400 221.5px,#ffb700 229.5px,#ffb200 239.5px,#ff8200 249.5px,#ff3f00 258.5px,#ff0d00 276.5px,#ff2c00 285.5px,#ff7100 290.5px,#ffc700 296.5px,#feff01 302.5px,#f0ff0f 304.5px)"></i>
<i style="top:114px;height:1px;background:linear-gradient(90deg,#ff0 0.5px,#ffd800 9.5px,#ff4a00 24.5px,#ff2000 30.5px,#f90000 40.5px,#900 61.5px,#800000 71.5px,#830000 116.5px,#a70000 133.5px,#800000 149.5px,#850000 184.5px,#9c0000 192.5px,#ff0400 208.5px,#ff8c00 222.5px,#fb0 229.5px,#ffb700 239.5px,#ff9000 248.5px,#ff4500 258.5px,#ff0e00 276.5px,#ff3100 285.5px,#ff7300 290.5px,#ffc500 296.5px,#fcff03 303.5px,#f7ff08 304.5px)"></i>
<i style="top:115px;height:1px;background:linear-gradient(90deg,#ff0 0.5px,#ffd800 9.5px,#ff3b00 26.5px,#ff1600 33.5px,#fa0000 40.5px,#9a0000 61.5px,#800000 71.5px,#840000 117.5px,#a50000 133.5px,#800000 149.5px,#840000 184.5px,#9b0000 192.5px,#ff0300 208.5px,#ff9d00 224.5px,#ffbf00 229.5px,#ffbd00 239.5px,#ff9700 248.5px,#ff4a00 258.5px,#ff0f00 276.5px,#ff3500 285.5px,#ff9200 292.5px,#ffcd00 297.5px,#fdff02 304.5px)"></i>
<i style="top:116px;height:1px;background:linear-gradient(90deg,#ff0 0.5px,#ffd800 9.5px,#ff2e00 28.5px,#fb0000 40.5px,#9c0000 61.5px,#800000 71.5px,#840000 117.5px,#a30000 134.5px,#800000 149.5px,#850000 185.5px,#9a0000 192.5px,#ff0300 208.5px,#ffb900 227.5px,#ffc600 231.5px,#ffbf00 240.5px,#ff9d00 248.5px,#ff5000 258.5px,#ff2800 270.5px,#ff1000 276.5px,#ff3a00 285.5px,#ffc200 296.5px,#fffa00 304.5px)"></i>
<i style="top:117px;height:1px;background:linear-gradient(90deg,#ff0 0.5px,#ffd800 9.5px,#ff3000 28.5px,#fc0000 40.5px,#9d0000 61.5px,#800000 71.5px,#830000 117.5px,#a20000 134.5px,#800000 149.5px,#840000 185.5px,#980000 192.5px,#ff0200 208.5px,#ffc300 228.5px,#ffcb00 237.5px,#ffa400 248.5px,#ff5600 258.5px,#ff3100 269.5px,#ff1200 276.5px,#ff3e00 285.5px,#ffc000 296.5px,#fff300 304.5px)"></i>
<i style="top:118px;height:1px;background:linear-gradient(90deg,#ff0 0.5px,#ffd100 10.5px,#ff2c00 29.5px,#f90000 41.5px,#9a0000 62.5px,#800000 71.5px,#840000 118.5px,#a10000 134.5px,#800000 149.5px,#850000 186.5px,#9d0000 193.5px,#ff0200 208.5px,#ffc600 228.5px,#ffd000 236.5px,#ffb600 246.5px,#ff5c00 258.5px,#ff3c00 268.5px,#ff1300 276.5px,#ff3b00 284.5px,#ff7b00 290.5px,#ffbe00 296.5px,#ffec00 304.5px)"></i>
<i style="top:119px;height:1px;background:linear-gradient(90deg,#ff0 0.5px,#ffd200 10.5px,#ff2d00 29.5px,#fa0000 41.5px,#9b0000 62.5px,#800000 71.5px,#830000 118.5px,#9f0000 134.5px,#800000 149.5px,#840000 186.5px,#9c0000 193.5px,#ff0100 208.5px,#ffa300 224.5px,#ffcf00 229.5px,#ffd200 239.5px,#ffb100 248.5px,#ff6700 257.5px,#ff4100 268.5px,#ff1600 275.5px,#ff2000 279.5px,#ff5000 286.5px,#ffbc00 296.5px,#ffe600 304.5px)"></i>
<i style="top:120px;height:1px;background:linear-gradient(90deg,#ff0 0.5px,#ffd200 10.5px,#ff2f00 29.5px,#fb0000 41.5px,#900 63.5px,#800000 71.5px,#850000 119.5px,#9e0000 134.5px,#800000 150.5px,#840000 187.5px,#9b0000 193.5px,#f00 208.5px,#ff8e00 222.5px,#ffce00 228.5px,#ffda00 235.5px,#ffca00 244.5px,#ffb000 249.5px,#ff6c00 257.5px,#ff4600 268.5px,#ff1700 275.5px,#ff1c00 278.5px,#ff5f00 287.5px,#fb0 296.5px,#ffdf00 304.5px)"></i>
<i style="top:121px;height:1px;background:linear-gradient(90deg,#feff01 0.5px,#ffd200 10.5px,#ff3100 29.5px,#fd0000 41.5px,#9a0000 63.5px,#800000 71.5px,#840000 119.5px,#9d0000 134.5px,#800000 150.5px,#850000 188.5px,#a60000 195.5px,#f00 208.5px,#ff7600 220.5px,#ffd100 228.5px,#ffdf00 235.5px,#ffd000 244.5px,#ffb700 249.5px,#ff7200 257.5px,#ff5200 267.5px,#ff1800 275.5px,#ff1d00 278.5px,#ff6d00 288.5px,#ffb900 296.5px,#ffd800 304.5px)"></i>
<i style="top:122px;height:1px;background:linear-gradient(90deg,#feff01 0.5px,#ffd300 10.5px,#ff3200 29.5px,#f90000 42.5px,#970000 64.5px,#800000 72.5px,#830000 119.5px,#9c0000 134.5px,#800000 150.5px,#830000 188.5px,#a50000 195.5px,#fe0000 208.5px,#ff7500 220.5px,#ffd400 228.5px,#ffe200 234.5px,#ffdb00 242.5px,#ffc500 248.5px,#ff7900 257.5px,#ff5800 267.5px,#ff1a00 275.5px,#ff1f00 278.5px,#ff7a00 289.5px,#ffb700 296.5px,#ffd100 304.5px)"></i>
<i style="top:123px;height:1px;background:linear-gradient(90deg,#feff01 0.5px,#ffd300 10.5px,#ff5d00 24.5px,#ff2f00 30.5px,#fa0000 42.5px,#940000 65.5px,#800000 72.5px,#840000 120.5px,#9a0000 134.5px,#800000 150.5px,#850000 189.5px,#c50000 200.5px,#fe0000 208.5px,#ff6700 219.5px,#ffd600 228.5px,#ffe500 234.5px,#ffe000 242.5px,#fc0 248.5px,#ff8000 257.5px,#ff5f00 267.5px,#ff1c00 275.5px,#ff2100 278.5px,#ffb500 296.5px,#ffcb00 304.5px)"></i>
<i style="top:124px;height:1px;background:linear-gradient(90deg,#feff01 0.5px,#ffd400 10.5px,#ff6800 23.5px,#ff3000 30.5px,#fb0000 42.5px,#940000 65.5px,#800000 72.5px,#830000 120.5px,#900 134.5px,#800000 151.5px,#840000 189.5px,#c40000 200.5px,#ff0500 209.5px,#ff7100 220.5px,#ffd500 228.5px,#ffe500 234.5px,#ffe100 243.5px,#ffd100 248.5px,#ff8400 258.5px,#f60 267.5px,#ff1e00 275.5px,#ff2300 278.5px,#ffae00 295.5px,#ffc500 304.5px)"></i>
<i style="top:125px;height:1px;background:linear-gradient(90deg,#fdff02 0.5px,#ffd400 10.5px,#ff6a00 23.5px,#ff3100 30.5px,#fb0000 42.5px,#950000 65.5px,#800000 72.5px,#840000 121.5px,#970000 134.5px,#800000 151.5px,#830000 189.5px,#c30000 200.5px,#ff0500 209.5px,#ff6e00 220.5px,#ffd200 228.5px,#ffe300 234.5px,#ffe100 245.5px,#ffc800 250.5px,#ff8e00 258.5px,#ff6f00 267.5px,#ff2100 275.5px,#ff2600 278.5px,#f90 292.5px,#ffb500 298.5px,#ffc000 304.5px)"></i>
<i style="top:126px;height:1px;background:linear-gradient(90deg,#fcff03 0.5px,#ffd500 10.5px,#ff6b00 23.5px,#ff3200 30.5px,#fc0000 42.5px,#950000 65.5px,#800000 72.5px,#840000 121.5px,#960000 134.5px,#800000 151.5px,#830000 189.5px,#c30000 200.5px,#ff0400 209.5px,#ff6b00 220.5px,#fc0 228.5px,#ffe100 235.5px,#ffdf00 247.5px,#ff9a00 258.5px,#ff8100 266.5px,#ff2400 275.5px,#ff2300 277.5px,#ff8600 289.5px,#ffb000 297.5px,#fb0 304.5px)"></i>
<i style="top:127px;height:1px;background:linear-gradient(90deg,#fbff04 0.5px,#ffe100 8.5px,#ff7f00 21.5px,#ff3900 29.5px,#fc0000 42.5px,#950000 65.5px,#800000 72.5px,#850000 122.5px,#930000 135.5px,#800000 151.5px,#830000 189.5px,#c20000 200.5px,#ff0300 209.5px,#ff6700 220.5px,#ffc600 228.5px,#ffde00 236.5px,#ffe300 247.5px,#ffa300 259.5px,#ff8c00 266.5px,#ff2700 275.5px,#ff2600 277.5px,#ff7e00 287.5px,#ffad00 297.5px,#ffb700 304.5px)"></i>
<i style="top:128px;height:1px;background:linear-gradient(90deg,#faff05 0.5px,#ffeb00 6.5px,#ffa900 16.5px,#ff3a00 29.5px,#fc0000 42.5px,#900 64.5px,#800000 72.5px,#840000 122.5px,#920000 135.5px,#800000 151.5px,#830000 189.5px,#c10000 200.5px,#ff0300 209.5px,#ff6300 220.5px,#ffbf00 228.5px,#ffdb00 237.5px,#ffe400 248.5px,#fa0 261.5px,#ff9700 266.5px,#ff2b00 275.5px,#ff2900 277.5px,#ff7d00 286.5px,#ffa900 297.5px,#ffb300 304.5px)"></i>
<i style="top:129px;height:1px;background:linear-gradient(90deg,#f9ff06 0.5px,#fff100 5.5px,#ffb900 14.5px,#ff3500 30.5px,#fc0000 42.5px,#9a0000 64.5px,#800000 72.5px,#850000 123.5px,#900000 135.5px,#800000 151.5px,#830000 189.5px,#c80000 201.5px,#ff0200 209.5px,#ff5f00 220.5px,#ffb800 228.5px,#ffdb00 239.5px,#ffe800 248.5px,#ffa200 266.5px,#ff5400 272.5px,#ff2e00 275.5px,#ff2c00 277.5px,#ff8300 286.5px,#ffa700 298.5px,#ffae00 304.5px)"></i>
<i style="top:130px;height:1px;background:linear-gradient(90deg,#f8ff07 0.5px,#fff600 4.5px,#ffc100 13.5px,#ff3600 30.5px,#fc0000 42.5px,#9a0000 64.5px,#800000 73.5px,#840000 123.5px,#8f0000 135.5px,#800000 151.5px,#830000 189.5px,#c70000 201.5px,#ff0100 209.5px,#ff5b00 220.5px,#ffb100 228.5px,#ffe900 245.5px,#ffe700 250.5px,#ffad00 266.5px,#ff6a00 271.5px,#ff3200 275.5px,#ff2f00 277.5px,#ff8900 286.5px,#ffa600 300.5px,#fa0 304.5px)"></i>
<i style="top:131px;height:1px;background:linear-gradient(90deg,#f7ff08 0.5px,#fff700 4.5px,#ffc200 13.5px,#ff3700 30.5px,#fc0000 42.5px,#9e0000 63.5px,#800000 73.5px,#840000 124.5px,#8c0000 136.5px,#800000 152.5px,#830000 189.5px,#c70000 201.5px,#f00 209.5px,#ff5700 220.5px,#ffb000 229.5px,#fff000 248.5px,#ffc400 264.5px,#ffae00 267.5px,#ff3600 275.5px,#ff3200 277.5px,#f80 285.5px,#f90 291.5px,#ffa500 304.5px)"></i>
<i style="top:132px;height:1px;background:linear-gradient(90deg,#f6ff09 0.5px,#fff300 5.5px,#ffb300 15.5px,#ff3800 30.5px,#fc0000 42.5px,#9e0000 63.5px,#800000 73.5px,#850000 125.5px,#8a0000 136.5px,#800000 153.5px,#830000 189.5px,#c60000 201.5px,#f00 209.5px,#ff5300 220.5px,#ffa900 229.5px,#fff400 248.5px,#ffdf00 260.5px,#ffc400 266.5px,#ff8900 270.5px,#ff3900 275.5px,#ff3500 277.5px,#ff8e00 285.5px,#ff9a00 290.5px,#ffa100 304.5px)"></i>
<i style="top:133px;height:1px;background:linear-gradient(90deg,#f5ff0a 0.5px,#fff900 4.5px,#ffc300 13.5px,#ff3900 30.5px,#fc0000 42.5px,#9e0000 63.5px,#800000 73.5px,#850000 126.5px,#800 137.5px,#800000 156.5px,#830000 189.5px,#c50000 201.5px,#fe0000 209.5px,#ff4f00 220.5px,#ffa200 229.5px,#fff900 248.5px,#fff300 258.5px,#ffcf00 266.5px,#ff9100 270.5px,#ff3d00 275.5px,#ff3800 277.5px,#ff9400 285.5px,#ff9d00 289.5px,#ff9d00 304.5px)"></i>
<i style="top:134px;height:1px;background:linear-gradient(90deg,#f4ff0b 0.5px,#fffa00 4.5px,#ffbc00 14.5px,#ff3900 30.5px,#fc0000 42.5px,#9f0000 63.5px,#800000 73.5px,#850000 127.5px,#850000 139.5px,#830000 189.5px,#c40000 201.5px,#ff0500 210.5px,#ff5400 221.5px,#ff9b00 229.5px,#ffdc00 242.5px,#ff0 249.5px,#fffc00 259.5px,#ffda00 266.5px,#f90 270.5px,#ff4000 275.5px,#ff3c00 277.5px,#ff9a00 285.5px,#ffa000 289.5px,#ff9700 300.5px,#ff9800 304.5px)"></i>
<i style="top:135px;height:1px;background:linear-gradient(90deg,#f2ff0d 0.5px,#fffb00 4.5px,#ffbc00 14.5px,#ff3a00 30.5px,#ff0100 41.5px,#9f0000 63.5px,#800000 73.5px,#840000 128.5px,#810000 142.5px,#830000 189.5px,#c40000 201.5px,#ff0400 210.5px,#ff5000 221.5px,#ff9400 229.5px,#ffd400 241.5px,#fdff02 248.5px,#efff10 257.5px,#fff900 263.5px,#ffe500 266.5px,#ffa100 270.5px,#f40 275.5px,#ff3f00 277.5px,#ffa000 285.5px,#ffa600 288.5px,#ff9300 298.5px,#ff9400 304.5px)"></i>
<i style="top:136px;height:1px;background:linear-gradient(90deg,#f1ff0e 0.5px,#fffb00 4.5px,#ffbd00 14.5px,#ff3500 31.5px,#ff0100 41.5px,#9f0000 63.5px,#800000 74.5px,#850000 130.5px,#830000 189.5px,#c30000 201.5px,#ff0300 210.5px,#ff4b00 221.5px,#ff9300 230.5px,#ffca00 240.5px,#feff01 247.5px,#e3ff1c 257.5px,#fffa00 265.5px,#ffd200 268.5px,#ff5600 274.5px,#ff4000 276.5px,#ff4b00 278.5px,#ffa600 285.5px,#fa0 288.5px,#ff9000 297.5px,#ff8f00 304.5px)"></i>
<i style="top:137px;height:1px;background:linear-gradient(90deg,#f0ff0f 0.5px,#fff700 5.5px,#ffaf00 16.5px,#ff3600 31.5px,#ff0100 41.5px,#a30000 62.5px,#800000 74.5px,#800000 140.5px,#830000 189.5px,#c20000 201.5px,#ff0200 210.5px,#ff4700 221.5px,#ff9100 231.5px,#ffc700 240.5px,#fbff04 247.5px,#d6ff29 257.5px,#fffc00 266.5px,#ffc700 269.5px,#ff5a00 274.5px,#ff4300 276.5px,#ff4e00 278.5px,#ffad00 285.5px,#ffae00 288.5px,#ff8e00 296.5px,#ff8b00 304.5px)"></i>
<i style="top:138px;height:1px;background:linear-gradient(90deg,#efff10 0.5px,#fff800 5.5px,#ffaf00 16.5px,#ff3700 31.5px,#ff0100 41.5px,#a30000 62.5px,#800000 74.5px,#830000 189.5px,#c20000 201.5px,#ff0100 210.5px,#ff4a00 222.5px,#ff9000 232.5px,#ffc500 240.5px,#fffe00 246.5px,#cbff34 256.5px,#d8ff27 261.5px,#f7ff08 266.5px,#fff800 267.5px,#ff4e00 275.5px,#ff4600 276.5px,#ff5200 278.5px,#ffb300 285.5px,#ffb200 288.5px,#ff8b00 296.5px,#ff8700 304.5px)"></i>
<i style="top:139px;height:1px;background:linear-gradient(90deg,#ef1 0.5px,#fff900 5.5px,#ffa800 17.5px,#ff3800 31.5px,#ff0100 41.5px,#a30000 62.5px,#800000 74.5px,#830000 189.5px,#c10000 201.5px,#f00 210.5px,#ff4600 222.5px,#ff9500 234.5px,#ffc200 240.5px,#fdff02 246.5px,#c3ff3c 255.5px,#c2ff3d 259.5px,#e2ff1d 265.5px,#fbff04 267.5px,#ffc100 270.5px,#ff6300 274.5px,#ff4900 276.5px,#f50 278.5px,#ffaf00 284.5px,#ffbd00 286.5px,#ff9c00 292.5px,#ff8600 297.5px,#ff8200 304.5px)"></i>
<i style="top:140px;height:1px;background:linear-gradient(90deg,#edff12 0.5px,#fffa00 5.5px,#ffa900 17.5px,#ff3800 31.5px,#ff0100 41.5px,#a30000 62.5px,#800000 74.5px,#830000 189.5px,#c00000 201.5px,#fe0000 210.5px,#ff4100 222.5px,#ffb500 239.5px,#fbff04 246.5px,#b8ff47 255.5px,#b3ff4c 258.5px,#d6ff29 265.5px,#fff900 268.5px,#ff6800 274.5px,#ff4d00 276.5px,#ff5900 278.5px,#ffb500 284.5px,#ffc200 286.5px,#ffa400 291.5px,#ff8500 296.5px,#ff7e00 304.5px)"></i>
<i style="top:141px;height:1px;background:linear-gradient(90deg,#ecff13 0.5px,#fffb00 5.5px,#ffa900 17.5px,#f30 32.5px,#ff0100 41.5px,#a40000 62.5px,#800000 74.5px,#830000 189.5px,#bf0000 201.5px,#fd0000 210.5px,#ff3d00 222.5px,#ffa700 238.5px,#faff05 246.5px,#afff50 255.5px,#a8ff57 258.5px,#cbff34 265.5px,#e6ff19 267.5px,#fbff04 268.5px,#ff5c00 275.5px,#ff5200 276.5px,#ff5f00 278.5px,#fb0 284.5px,#ffc800 286.5px,#ffa500 291.5px,#ff8200 296.5px,#ff7a00 304.5px)"></i>
<i style="top:142px;height:1px;background:linear-gradient(90deg,#ebff14 0.5px,#fffb00 5.5px,#ffa200 18.5px,#f30 32.5px,#ff0100 41.5px,#a40000 62.5px,#800000 75.5px,#830000 189.5px,#be0000 201.5px,#fb0000 210.5px,#ff3800 222.5px,#ffa400 238.5px,#faff05 246.5px,#a2ff5d 256.5px,#a6ff59 260.5px,#c1ff3e 265.5px,#dcff23 267.5px,#f1ff0e 268.5px,#fff500 269.5px,#ff7600 274.5px,#ff5a00 276.5px,#f60 278.5px,#ffc200 284.5px,#ffce00 286.5px,#ffaf00 290.5px,#ff8300 295.5px,#f70 304.5px)"></i>
<i style="top:143px;height:1px;background:linear-gradient(90deg,#eaff15 0.5px,#fffc00 5.5px,#ffa300 18.5px,#f30 32.5px,#ff0100 41.5px,#a40000 62.5px,#800000 75.5px,#830000 189.5px,#bd0000 201.5px,#fe0000 211.5px,#ff4100 224.5px,#ffa000 238.5px,#faff05 246.5px,#9dff62 256.5px,#9bff64 259.5px,#b8ff47 265.5px,#d2ff2d 267.5px,#ff0 269.5px,#ff7f00 274.5px,#ff6300 276.5px,#ff6e00 278.5px,#ffc900 284.5px,#ffd300 286.5px,#ffb100 290.5px,#ff8000 295.5px,#ff7500 304.5px)"></i>
<i style="top:144px;height:1px;background:linear-gradient(90deg,#e9ff16 0.5px,#fffd00 5.5px,#ffa300 18.5px,#f30 32.5px,#ff0100 41.5px,#a50000 62.5px,#800000 75.5px,#830000 189.5px,#bc0000 201.5px,#fc0000 211.5px,#ff3700 223.5px,#ff9d00 238.5px,#fbff04 246.5px,#9f6 256.5px,#9f6 260.5px,#aeff51 265.5px,#c8ff37 267.5px,#f5ff0a 269.5px,#fff000 270.5px,#ff8b00 274.5px,#ff6e00 276.5px,#ff7900 278.5px,#ffd000 284.5px,#ffd900 286.5px,#ffb300 290.5px,#ff7d00 295.5px,#ff7300 304.5px)"></i>
<i style="top:145px;height:1px;background:linear-gradient(90deg,#e8ff17 0.5px,#fff800 6.5px,#ff8b00 21.5px,#f30 32.5px,#ff0100 41.5px,#a60000 62.5px,#800000 75.5px,#830000 189.5px,#ba0000 201.5px,#fa0000 211.5px,#ff2e00 222.5px,#ff8900 236.5px,#fc0 242.5px,#fdff02 246.5px,#96ff69 256.5px,#94ff6b 260.5px,#a6ff59 265.5px,#beff41 267.5px,#fffa00 270.5px,#ff9600 274.5px,#ff7a00 276.5px,#ff8400 278.5px,#ffd700 284.5px,#ffdf00 286.5px,#ffb400 290.5px,#ff7900 295.5px,#ff7200 303.5px,#ff7200 304.5px)"></i>
<i style="top:146px;height:1px;background:linear-gradient(90deg,#e7ff18 0.5px,#fff900 6.5px,#ff8b00 21.5px,#f30 32.5px,#ff0100 41.5px,#a30000 63.5px,#800000 76.5px,#830000 189.5px,#b80000 201.5px,#f80000 211.5px,#ff1200 217.5px,#ff6800 232.5px,#ffa300 239.5px,#ff0 246.5px,#94ff6b 256.5px,#8fff70 260.5px,#9dff62 265.5px,#b4ff4b 267.5px,#f9ff06 270.5px,#ff9000 275.5px,#ff8600 276.5px,#ff8f00 278.5px,#ffde00 284.5px,#ffe400 286.5px,#ffb500 290.5px,#ff7600 295.5px,#ff6f00 301.5px,#ff7000 304.5px)"></i>
<i style="top:147px;height:1px;background:linear-gradient(90deg,#e5ff1a 0.5px,#fffa00 6.5px,#ff8b00 21.5px,#f30 32.5px,#ff0100 41.5px,#a40000 63.5px,#800000 76.5px,#830000 189.5px,#b70000 201.5px,#f50000 211.5px,#ff0c00 216.5px,#ff5d00 231.5px,#ffa000 239.5px,#fffd00 246.5px,#91ff6e 256.5px,#89ff76 260.5px,#94ff6b 265.5px,#abff54 267.5px,#ef1 270.5px,#fff700 271.5px,#ff9c00 275.5px,#ff9200 276.5px,#ff9a00 278.5px,#ffe500 284.5px,#ffea00 286.5px,#ffb700 290.5px,#ff7300 295.5px,#ff6d00 300.5px,#ff6f00 304.5px)"></i>
<i style="top:148px;height:1px;background:linear-gradient(90deg,#e4ff1b 0.5px,#fffb00 6.5px,#ff8c00 21.5px,#f30 32.5px,#ff0200 41.5px,#a50000 63.5px,#800000 76.5px,#830000 189.5px,#b50000 201.5px,#f70000 212.5px,#ff0e00 217.5px,#ff5100 230.5px,#ff9200 238.5px,#fffb00 246.5px,#8fff70 256.5px,#84ff7b 260.5px,#8cff73 265.5px,#a1ff5e 267.5px,#fcff03 271.5px,#ffa800 275.5px,#ff9e00 277.5px,#ffed00 284.5px,#ffef00 286.5px,#ffb800 290.5px,#ff7a00 294.5px,#ff6900 297.5px,#ff6d00 304.5px)"></i>
<i style="top:149px;height:1px;background:linear-gradient(90deg,#e3ff1c 0.5px,#fffb00 6.5px,#ff8c00 21.5px,#ff3a00 31.5px,#ff0200 41.5px,#a50000 63.5px,#800000 76.5px,#830000 189.5px,#b40000 201.5px,#f50000 212.5px,#ff0c00 217.5px,#ff4d00 230.5px,#ff8f00 238.5px,#fffa00 246.5px,#8cff73 256.5px,#7fff80 260.5px,#83ff7c 265.5px,#97ff68 267.5px,#f1ff0e 271.5px,#fff500 272.5px,#ffb400 275.5px,#ffa900 277.5px,#fff400 284.5px,#fff500 286.5px,#ffb900 290.5px,#f70 294.5px,#ff6500 297.5px,#ff6c00 304.5px)"></i>
<i style="top:150px;height:1px;background:linear-gradient(90deg,#e2ff1d 0.5px,#fffc00 6.5px,#ff8d00 21.5px,#ff3a00 31.5px,#ff0200 41.5px,#a30000 64.5px,#800000 77.5px,#830000 189.5px,#b20000 201.5px,#f70000 213.5px,#ff0e00 218.5px,#ff4900 230.5px,#ff8c00 238.5px,#fff800 246.5px,#dfff20 249.5px,#8aff75 256.5px,#7aff85 260.5px,#7aff85 265.5px,#8dff72 267.5px,#feff01 272.5px,#ffc000 275.5px,#ffb500 277.5px,#fffb00 284.5px,#fffa00 286.5px,#fb0 290.5px,#ff7400 294.5px,#ff6200 297.5px,#ff6a00 304.5px)"></i>
<i style="top:151px;height:1px;background:linear-gradient(90deg,#e1ff1e 0.5px,#fffd00 6.5px,#ff8d00 21.5px,#ff3a00 31.5px,#ff0200 41.5px,#a40000 64.5px,#800000 77.5px,#830000 189.5px,#b70000 202.5px,#f50000 213.5px,#ff0b00 218.5px,#ff4500 230.5px,#ff8900 238.5px,#faff05 247.5px,#87ff78 256.5px,#75ff8a 260.5px,#71ff8e 265.5px,#83ff7c 267.5px,#f2ff0d 272.5px,#fff400 273.5px,#fc0 275.5px,#ffc100 277.5px,#fcff03 284.5px,#feff01 286.5px,#ffd000 289.5px,#ff7200 294.5px,#ff6000 296.5px,#ff6900 304.5px)"></i>
<i style="top:152px;height:1px;background:linear-gradient(90deg,#e0ff1f 0.5px,#fffe00 6.5px,#ff8e00 21.5px,#ff3a00 31.5px,#ff0200 41.5px,#a10000 65.5px,#800000 77.5px,#850000 190.5px,#b50000 202.5px,#f70000 214.5px,#ff0d00 219.5px,#ff3900 229.5px,#ff8600 238.5px,#fcff03 247.5px,#85ff7a 256.5px,#70ff8f 260.5px,#69ff96 265.5px,#7aff85 267.5px,#e7ff18 272.5px,#feff01 273.5px,#ffd800 275.5px,#ffcd00 277.5px,#fbff04 283.5px,#f3ff0c 285.5px,#fff800 287.5px,#ff6f00 294.5px,#ff5d00 296.5px,#ff6700 304.5px)"></i>
<i style="top:153px;height:1px;background:linear-gradient(90deg,#dfff20 0.5px,#fffe00 6.5px,#ff8e00 21.5px,#ff3a00 31.5px,#ff0200 41.5px,#a20000 65.5px,#800000 77.5px,#850000 190.5px,#b30000 202.5px,#f90000 215.5px,#ff1d00 224.5px,#ff3c00 230.5px,#ff9000 239.5px,#feff01 247.5px,#82ff7d 256.5px,#6aff95 260.5px,#60ff9f 265.5px,#70ff8f 267.5px,#dbff24 272.5px,#f2ff0d 273.5px,#fff600 274.5px,#ffda00 276.5px,#fd0 278.5px,#fcff03 282.5px,#ecff13 285.5px,#fffd00 287.5px,#ff6c00 294.5px,#ff5900 296.5px,#f60 304.5px)"></i>
<i style="top:154px;height:1px;background:linear-gradient(90deg,#deff21 0.5px,#ff0 6.5px,#ff8e00 21.5px,#ff3a00 31.5px,#ff0200 41.5px,#9f0000 66.5px,#800000 78.5px,#850000 190.5px,#b20000 202.5px,#fb0000 216.5px,#ff3000 229.5px,#ff8100 238.5px,#ff0 247.5px,#76ff89 257.5px,#57ffa8 265.5px,#6f9 267.5px,#d0ff2f 272.5px,#fcff03 274.5px,#ffe600 276.5px,#ffe800 278.5px,#fcff03 281.5px,#e6ff19 284.5px,#edff12 286.5px,#fdff02 287.5px,#ff6a00 294.5px,#ff5600 296.5px,#ff6400 304.5px)"></i>
<i style="top:155px;height:1px;background:linear-gradient(90deg,#df2 0.5px,#fffa00 7.5px,#ff8f00 21.5px,#ff3a00 31.5px,#ff0200 41.5px,#a00000 66.5px,#800000 78.5px,#840000 190.5px,#b00000 202.5px,#fd0000 217.5px,#ff2c00 229.5px,#ff7e00 238.5px,#fffd00 247.5px,#72ff8d 257.5px,#4fffb0 265.5px,#5cffa3 267.5px,#c4ff3b 272.5px,#fffd00 275.5px,#fff000 277.5px,#fbff04 280.5px,#dfff20 284.5px,#e8ff17 286.5px,#f8ff07 287.5px,#ffda00 289.5px,#ff6700 294.5px,#ff5200 296.5px,#ff6300 304.5px)"></i>
<i style="top:156px;height:1px;background:linear-gradient(90deg,#dcff23 0.5px,#fffa00 7.5px,#ff8f00 21.5px,#ff3a00 31.5px,#ff0200 41.5px,#9d0000 67.5px,#800000 78.5px,#840000 190.5px,#ae0000 202.5px,#fe0000 218.5px,#ff2800 229.5px,#ff7b00 238.5px,#fffc00 247.5px,#6fff90 257.5px,#46ffb9 265.5px,#52ffad 267.5px,#b9ff46 272.5px,#f5ff0a 275.5px,#fffb00 277.5px,#f2ff0d 280.5px,#d8ff27 284.5px,#e2ff1d 286.5px,#f3ff0c 287.5px,#fff400 288.5px,#ff6500 294.5px,#ff4f00 296.5px,#ff6100 304.5px)"></i>
<i style="top:157px;height:1px;background:linear-gradient(90deg,#dbff24 0.5px,#fffb00 7.5px,#ff9000 21.5px,#ff3a00 31.5px,#ff0200 41.5px,#9b0000 68.5px,#800000 79.5px,#840000 190.5px,#ac0000 202.5px,#fc0000 218.5px,#ff1d00 228.5px,#ff7800 238.5px,#fffa00 247.5px,#6dff92 257.5px,#3effc1 265.5px,#49ffb6 267.5px,#98ff67 271.5px,#e9ff16 275.5px,#f7ff08 277.5px,#d1ff2e 284.5px,#df2 286.5px,#fff800 288.5px,#ff6200 294.5px,#ff4c00 296.5px,#ff6000 304.5px)"></i>
<i style="top:158px;height:1px;background:linear-gradient(90deg,#daff25 0.5px,#fffc00 7.5px,#ff9000 21.5px,#ff3a00 31.5px,#ff0300 41.5px,#980000 69.5px,#800000 79.5px,#840000 190.5px,#ab0000 202.5px,#fd0000 219.5px,#ff1f00 229.5px,#ff7500 238.5px,#fff800 247.5px,#e6ff19 249.5px,#6aff95 257.5px,#36ffc9 265.5px,#40ffbf 267.5px,#8dff72 271.5px,#df2 275.5px,#ebff14 277.5px,#c9ff36 284.5px,#d7ff28 286.5px,#fffc00 288.5px,#ff6100 294.5px,#ff4b00 296.5px,#ff6000 304.5px)"></i>
<i style="top:159px;height:1px;background:linear-gradient(90deg,#d9ff26 0.5px,#fffc00 7.5px,#ff9000 21.5px,#ff3a00 31.5px,#ff0300 41.5px,#900 69.5px,#800000 80.5px,#840000 190.5px,#a90000 202.5px,#fb0000 219.5px,#ff1600 228.5px,#ff7200 238.5px,#fff500 247.5px,#e8ff17 249.5px,#69ff96 257.5px,#30ffcf 265.5px,#39ffc6 267.5px,#84ff7b 271.5px,#d2ff2d 275.5px,#e0ff1f 277.5px,#c2ff3d 284.5px,#d1ff2e 286.5px,#fdff02 288.5px,#ff6300 294.5px,#ff4c00 296.5px,#ff6200 304.5px)"></i>
<i style="top:160px;height:1px;background:linear-gradient(90deg,#d8ff27 0.5px,#fffc00 7.5px,#ff9100 21.5px,#ff3a00 31.5px,#ff0300 41.5px,#900 69.5px,#800000 80.5px,#840000 190.5px,#a80000 202.5px,#f90000 219.5px,#ff1300 228.5px,#ff6f00 238.5px,#fcff03 248.5px,#6aff95 257.5px,#2dffd2 265.5px,#34ffcb 267.5px,#7cff83 271.5px,#c7ff38 275.5px,#d5ff2a 277.5px,#bf4 284.5px,#cbff34 286.5px,#f7ff08 288.5px,#ffd000 290.5px,#ff6900 294.5px,#ff5100 296.5px,#ff6700 304.5px)"></i>
<i style="top:161px;height:1px;background:linear-gradient(90deg,#d8ff27 0.5px,#fffd00 7.5px,#ff9100 21.5px,#ff3a00 31.5px,#ff0300 41.5px,#9a0000 69.5px,#800000 80.5px,#840000 190.5px,#a70000 202.5px,#f80000 219.5px,#ff0d00 227.5px,#ff4300 234.5px,#ff8600 240.5px,#fffe00 248.5px,#6dff92 257.5px,#2cffd3 265.5px,#32ffcd 267.5px,#89ff76 272.5px,#bcff43 275.5px,#caff35 277.5px,#b4ff4b 284.5px,#c5ff3a 286.5px,#f0ff0f 288.5px,#fff300 289.5px,#ff7200 294.5px,#ff5b00 296.5px,#ff6f00 304.5px)"></i>
<i style="top:162px;height:1px;background:linear-gradient(90deg,#d8ff27 0.5px,#fffd00 7.5px,#ff9100 21.5px,#ff3a00 31.5px,#ff0300 41.5px,#9e0000 68.5px,#800000 80.5px,#840000 190.5px,#a60000 202.5px,#f70000 219.5px,#ff0c00 227.5px,#ff4100 234.5px,#ff8300 240.5px,#fff900 248.5px,#c1ff3e 252.5px,#70ff8f 257.5px,#2cffd3 265.5px,#31ffce 267.5px,#82ff7d 272.5px,#b2ff4d 275.5px,#c0ff3f 277.5px,#adff52 284.5px,#beff41 286.5px,#fffc00 289.5px,#ff7e00 294.5px,#ff6700 296.5px,#ff7800 304.5px)"></i>
<i style="top:163px;height:1px;background:linear-gradient(90deg,#d8ff27 0.5px,#fffd00 7.5px,#ff9100 21.5px,#ff3a00 31.5px,#ff0300 41.5px,#a10000 67.5px,#800000 80.5px,#840000 190.5px,#a60000 202.5px,#f60000 219.5px,#ff0b00 227.5px,#ff4700 235.5px,#ff7f00 240.5px,#fff400 248.5px,#f9ff06 249.5px,#74ff8b 257.5px,#2effd1 265.5px,#31ffce 267.5px,#7bff84 272.5px,#b1ff4e 276.5px,#afff50 280.5px,#a7ff58 284.5px,#b7ff48 286.5px,#faff05 289.5px,#ff8b00 294.5px,#ff7400 296.5px,#ff8300 304.5px)"></i>
<i style="top:164px;height:1px;background:linear-gradient(90deg,#d8ff27 0.5px,#fffd00 7.5px,#ff9100 21.5px,#ff3a00 31.5px,#ff0300 41.5px,#a10000 67.5px,#800000 81.5px,#840000 190.5px,#a50000 202.5px,#f50000 219.5px,#ff0700 226.5px,#ff2c00 232.5px,#ff6e00 239.5px,#feff01 249.5px,#79ff86 257.5px,#2fffd0 265.5px,#31ffce 267.5px,#84ff7b 273.5px,#a7ff58 276.5px,#a4ff5b 281.5px,#a5ff5a 285.5px,#c2ff3d 287.5px,#f1ff0e 289.5px,#fff500 290.5px,#ff9800 294.5px,#ff8200 296.5px,#ff8e00 304.5px)"></i>
<i style="top:165px;height:1px;background:linear-gradient(90deg,#d8ff27 0.5px,#fffd00 7.5px,#ff9100 21.5px,#ff3a00 31.5px,#ff0300 41.5px,#a50000 66.5px,#800000 81.5px,#840000 190.5px,#a40000 202.5px,#f40000 219.5px,#ff0a00 227.5px,#ff4a00 236.5px,#ff9300 242.5px,#fffb00 249.5px,#7dff82 257.5px,#31ffce 265.5px,#31ffce 267.5px,#9dff62 276.5px,#9f6 282.5px,#9eff61 285.5px,#bf4 287.5px,#ff0 290.5px,#ffa500 294.5px,#ff8f00 296.5px,#ff9800 304.5px)"></i>
<i style="top:166px;height:1px;background:linear-gradient(90deg,#d8ff27 0.5px,#fffd00 7.5px,#ff9100 21.5px,#ff3a00 31.5px,#ff0300 41.5px,#a50000 66.5px,#800000 81.5px,#840000 190.5px,#a40000 202.5px,#f50000 220.5px,#ff0900 227.5px,#ff4700 236.5px,#ff8f00 242.5px,#fff600 249.5px,#e5ff1a 251.5px,#82ff7d 257.5px,#32ffcd 265.5px,#31ffce 267.5px,#92ff6d 276.5px,#92ff6d 284.5px,#a3ff5c 286.5px,#f5ff0a 290.5px,#ffdb00 292.5px,#ffa400 295.5px,#ff9b00 298.5px,#ffa300 304.5px)"></i>
<i style="top:167px;height:1px;background:linear-gradient(90deg,#d8ff27 0.5px,#fffd00 7.5px,#ff9100 21.5px,#ff3a00 31.5px,#ff0300 41.5px,#a80000 65.5px,#800000 82.5px,#840000 190.5px,#a30000 202.5px,#f40000 220.5px,#ff0900 227.5px,#ff4d00 237.5px,#ffd000 247.5px,#fcff03 250.5px,#86ff79 257.5px,#34ffcb 265.5px,#31ffce 267.5px,#8f7 276.5px,#8bff74 284.5px,#9cff63 286.5px,#fffc00 291.5px,#ffbf00 294.5px,#ffab00 296.5px,#ffae00 304.5px)"></i>
<i style="top:168px;height:1px;background:linear-gradient(90deg,#d8ff27 0.5px,#fffd00 7.5px,#ff9100 21.5px,#ff3a00 31.5px,#ff0300 41.5px,#a90000 65.5px,#800000 82.5px,#840000 190.5px,#a20000 202.5px,#f30000 220.5px,#ff0800 227.5px,#ff4a00 237.5px,#ffbd00 246.5px,#fffd00 250.5px,#7dff82 258.5px,#35ffca 265.5px,#36ffc9 268.5px,#7dff82 276.5px,#8aff75 285.5px,#b8ff47 288.5px,#f7ff08 291.5px,#ffde00 293.5px,#ffc000 295.5px,#ffb500 298.5px,#ffb900 304.5px)"></i>
<i style="top:169px;height:1px;background:linear-gradient(90deg,#d8ff27 0.5px,#fffd00 7.5px,#ff9100 21.5px,#ff3a00 31.5px,#ff0300 41.5px,#ac0000 64.5px,#800000 82.5px,#840000 190.5px,#a20000 202.5px,#f20000 220.5px,#ff0700 227.5px,#ff4700 237.5px,#ffb800 246.5px,#fff800 250.5px,#d1ff2e 253.5px,#81ff7e 258.5px,#37ffc8 265.5px,#35ffca 268.5px,#73ff8c 276.5px,#84ff7b 285.5px,#b0ff4f 288.5px,#fffe00 292.5px,#ffcd00 295.5px,#ffc300 299.5px,#ffc400 304.5px)"></i>
<i style="top:170px;height:1px;background:linear-gradient(90deg,#d8ff27 0.5px,#fffd00 7.5px,#ff9100 21.5px,#ff3a00 31.5px,#ff0300 41.5px,#ac0000 64.5px,#800000 83.5px,#840000 190.5px,#9c0000 201.5px,#f10000 220.5px,#ff0600 227.5px,#ff4d00 238.5px,#ffd100 248.5px,#f9ff06 251.5px,#86ff79 258.5px,#38ffc7 265.5px,#34ffcb 268.5px,#6cff93 277.5px,#7dff82 285.5px,#a8ff57 288.5px,#f4ff0b 292.5px,#fff700 293.5px,#ffd400 296.5px,#ffce00 304.5px)"></i>
<i style="top:171px;height:1px;background:linear-gradient(90deg,#d8ff27 0.5px,#fffd00 7.5px,#ff9100 21.5px,#ff3a00 31.5px,#ff0300 41.5px,#ac0000 64.5px,#800000 83.5px,#840000 190.5px,#9c0000 201.5px,#f00000 220.5px,#ff0600 227.5px,#ff4900 238.5px,#fc0 248.5px,#feff01 251.5px,#8aff75 258.5px,#3affc5 265.5px,#3fc 268.5px,#64ff9b 278.5px,#76ff89 285.5px,#a0ff5f 288.5px,#faff05 293.5px,#ffe100 296.5px,#ffd900 304.5px)"></i>
<i style="top:172px;height:1px;background:linear-gradient(90deg,#d8ff27 0.5px,#fffd00 7.5px,#ff9100 21.5px,#ff3a00 31.5px,#ff0300 41.5px,#ad0000 64.5px,#800000 83.5px,#840000 190.5px,#9b0000 201.5px,#ef0000 220.5px,#ff0500 227.5px,#ff4600 238.5px,#ffc700 248.5px,#fffb00 251.5px,#81ff7e 259.5px,#34ffcb 266.5px,#39ffc6 270.5px,#5effa1 280.5px,#70ff8f 285.5px,#a9ff56 289.5px,#fdff02 294.5px,#ffeb00 297.5px,#ffe400 304.5px)"></i>
<i style="top:173px;height:1px;background:linear-gradient(90deg,#d8ff27 0.5px,#fffd00 7.5px,#ff9100 21.5px,#ff3a00 31.5px,#ff0300 41.5px,#b00000 63.5px,#800000 84.5px,#840000 190.5px,#9a0000 201.5px,#e00 220.5px,#ff0400 227.5px,#ff4300 238.5px,#ffc200 248.5px,#fff600 251.5px,#e4ff1b 253.5px,#85ff7a 259.5px,#35ffca 266.5px,#36ffc9 270.5px,#69ff96 285.5px,#a0ff5f 289.5px,#f0ff0f 294.5px,#fffd00 296.5px,#ffef00 304.5px)"></i>
<i style="top:174px;height:1px;background:linear-gradient(90deg,#d8ff27 0.5px,#fffd00 7.5px,#ff9100 21.5px,#ff3a00 31.5px,#ff0300 41.5px,#b00000 63.5px,#800000 84.5px,#840000 190.5px,#900 201.5px,#ed0000 220.5px,#ff0400 227.5px,#ff3f00 238.5px,#ffbd00 248.5px,#fbff04 252.5px,#96ff69 258.5px,#36ffc9 266.5px,#32ffcd 270.5px,#5cffa3 284.5px,#79ff86 287.5px,#edff12 295.5px,#fffe00 301.5px,#fffa00 304.5px)"></i>
<i style="top:175px;height:1px;background:linear-gradient(90deg,#d8ff27 0.5px,#fffd00 7.5px,#ff9100 21.5px,#ff3a00 31.5px,#ff0300 41.5px,#b00000 63.5px,#800000 84.5px,#840000 190.5px,#900 201.5px,#e90000 219.5px,#ff0600 228.5px,#ff3c00 238.5px,#ffb800 248.5px,#fffe00 252.5px,#8cff73 259.5px,#37ffc8 266.5px,#2fffd0 270.5px,#3fffc0 279.5px,#5cffa3 285.5px,#acff53 291.5px,#dfff20 295.5px,#f8ff07 303.5px,#faff05 304.5px)"></i>
<i style="top:176px;height:1px;background:linear-gradient(90deg,#d8ff27 0.5px,#fffd00 7.5px,#ff9100 21.5px,#ff3a00 31.5px,#ff0300 41.5px,#b00000 63.5px,#800000 85.5px,#830000 190.5px,#980000 201.5px,#e80000 219.5px,#ff0500 228.5px,#ff3800 238.5px,#ffa400 247.5px,#fff900 252.5px,#83ff7c 260.5px,#38ffc7 266.5px,#2bffd4 271.5px,#3fc 278.5px,#5fa 285.5px,#d2ff2d 295.5px,#efff10 304.5px)"></i>
<i style="top:177px;height:1px;background:linear-gradient(90deg,#d9ff26 0.5px,#fffc00 7.5px,#ff9100 21.5px,#ff3a00 31.5px,#ff0300 41.5px,#b00000 63.5px,#800000 85.5px,#830000 190.5px,#980000 201.5px,#e70000 219.5px,#ff0400 228.5px,#ff3400 238.5px,#ffa000 247.5px,#fff500 252.5px,#e5ff1a 254.5px,#79ff86 261.5px,#3bffc4 266.5px,#29ffd6 271.5px,#28ffd7 277.5px,#4effb1 285.5px,#c5ff3a 295.5px,#e3ff1c 304.5px)"></i>
<i style="top:178px;height:1px;background:linear-gradient(90deg,#d9ff26 0.5px,#fffc00 7.5px,#ff9000 21.5px,#ff3a00 31.5px,#ff0300 41.5px,#b30000 62.5px,#800000 85.5px,#850000 191.5px,#980000 201.5px,#e60000 219.5px,#ff0600 229.5px,#ff3000 238.5px,#ff9c00 247.5px,#fbff04 253.5px,#8bff74 260.5px,#3effc1 266.5px,#26ffd9 272.5px,#23ffdc 277.5px,#46ffb9 285.5px,#b9ff46 295.5px,#d7ff28 304.5px)"></i>
<i style="top:179px;height:1px;background:linear-gradient(90deg,#daff25 0.5px,#fffb00 7.5px,#ff9000 21.5px,#ff3a00 31.5px,#ff0300 41.5px,#b30000 62.5px,#800000 85.5px,#850000 191.5px,#970000 201.5px,#e20000 218.5px,#ff0400 229.5px,#ff2c00 238.5px,#ffa800 248.5px,#ff0 253.5px,#90ff6f 260.5px,#43ffbc 266.5px,#24ffdb 273.5px,#2fd 278.5px,#47ffb8 286.5px,#adff52 295.5px,#cbff34 304.5px)"></i>
<i style="top:180px;height:1px;background:linear-gradient(90deg,#dbff24 0.5px,#fffb00 7.5px,#ff9000 21.5px,#ff3a00 31.5px,#ff0300 41.5px,#b30000 62.5px,#800000 85.5px,#850000 191.5px,#970000 201.5px,#d00 217.5px,#ff0500 230.5px,#ff2800 238.5px,#ffa500 248.5px,#fffb00 253.5px,#7aff85 262.5px,#40ffbf 267.5px,#1effe1 276.5px,#37ffc8 285.5px,#a2ff5d 295.5px,#bfff40 304.5px)"></i>
<i style="top:181px;height:1px;background:linear-gradient(90deg,#dcff23 0.5px,#fffa00 7.5px,#ff8f00 21.5px,#ff3a00 31.5px,#ff0300 41.5px,#b30000 62.5px,#800000 85.5px,#850000 191.5px,#970000 201.5px,#d90000 216.5px,#ff0600 231.5px,#ff2400 238.5px,#ffa300 248.5px,#fff800 253.5px,#d4ff2b 256.5px,#4fffb0 266.5px,#1fffe0 275.5px,#27ffd8 283.5px,#3fffc0 287.5px,#96ff69 295.5px,#b2ff4d 304.5px)"></i>
<i style="top:182px;height:1px;background:linear-gradient(90deg,#df2 0.5px,#fff900 7.5px,#ff8500 22.5px,#ff3a00 31.5px,#ff0300 41.5px,#b30000 62.5px,#800000 85.5px,#850000 191.5px,#970000 201.5px,#d90000 216.5px,#ff0300 231.5px,#ff2000 238.5px,#ffa000 248.5px,#f9ff06 254.5px,#92ff6d 261.5px,#4cffb3 267.5px,#1dffe2 276.5px,#27ffd8 285.5px,#62ff9d 291.5px,#91ff6e 296.5px,#a6ff59 304.5px)"></i>
<i style="top:183px;height:1px;background:linear-gradient(90deg,#deff21 0.5px,#ff0 6.5px,#ff8e00 21.5px,#ff3a00 31.5px,#ff0300 41.5px,#b30000 62.5px,#800000 85.5px,#850000 191.5px,#970000 201.5px,#d50000 215.5px,#ff0500 233.5px,#ff1b00 238.5px,#ff9d00 248.5px,#fdff02 254.5px,#8bff74 262.5px,#4affb5 268.5px,#1dffe2 276.5px,#1fffe0 285.5px,#58ffa7 291.5px,#85ff7a 296.5px,#9f6 304.5px)"></i>
<i style="top:184px;height:1px;background:linear-gradient(90deg,#dfff20 0.5px,#fffe00 6.5px,#ff8e00 21.5px,#ff3a00 31.5px,#ff0300 41.5px,#b30000 62.5px,#800000 85.5px,#850000 191.5px,#970000 201.5px,#d40000 215.5px,#ff0500 234.5px,#ff1700 238.5px,#ff9b00 248.5px,#fffd00 254.5px,#7f8 264.5px,#48ffb7 269.5px,#1affe5 277.5px,#17ffe8 285.5px,#43ffbc 290.5px,#74ff8b 295.5px,#8dff72 304.5px)"></i>
<i style="top:185px;height:1px;background:linear-gradient(90deg,#e0ff1f 0.5px,#fffd00 6.5px,#ff8d00 21.5px,#ff3a00 31.5px,#ff0300 41.5px,#b30000 62.5px,#810000 85.5px,#830000 190.5px,#970000 201.5px,#d40000 215.5px,#ff0400 235.5px,#ff1d00 239.5px,#ffb800 250.5px,#fff900 254.5px,#a2ff5d 261.5px,#54ffab 268.5px,#19ffe6 277.5px,#0ffff0 285.5px,#39ffc6 290.5px,#6eff91 296.5px,#80ff7f 304.5px)"></i>
<i style="top:186px;height:1px;background:linear-gradient(90deg,#e2ff1d 0.5px,#fffc00 6.5px,#ff8d00 21.5px,#ff3a00 31.5px,#ff0300 41.5px,#b30000 62.5px,#810000 85.5px,#830000 190.5px,#970000 201.5px,#d00000 214.5px,#ff0300 236.5px,#ff1800 239.5px,#ffb500 250.5px,#fff500 254.5px,#eaff15 256.5px,#62ff9d 267.5px,#18ffe7 277.5px,#07fff8 285.5px,#2fffd0 290.5px,#62ff9d 296.5px,#74ff8b 304.5px)"></i>
<i style="top:187px;height:1px;background:linear-gradient(90deg,#e3ff1c 0.5px,#fffc00 6.5px,#ff8d00 21.5px,#ff3a00 31.5px,#ff0300 41.5px,#b30000 62.5px,#810000 85.5px,#830000 190.5px,#970000 201.5px,#d00000 214.5px,#ff0300 237.5px,#ff2e00 241.5px,#fdff02 255.5px,#72ff8d 266.5px,#1cffe3 276.5px,#00feff 284.5px,#09fff6 287.5px,#52ffad 295.5px,#67ff98 304.5px)"></i>
<i style="top:188px;height:1px;background:linear-gradient(90deg,#e4ff1b 0.5px,#fffb00 6.5px,#ff8c00 21.5px,#f30 32.5px,#ff0300 41.5px,#b30000 62.5px,#830000 84.5px,#830000 190.5px,#970000 201.5px,#d00000 214.5px,#fe0000 237.5px,#ff1d00 240.5px,#fffd00 255.5px,#63ff9c 268.5px,#16ffe9 277.5px,#00faff 283.5px,#00f9ff 286.5px,#08fff7 288.5px,#47ffb8 295.5px,#5bffa4 304.5px)"></i>
<i style="top:189px;height:1px;background:linear-gradient(90deg,#e5ff1a 0.5px,#fffa00 6.5px,#ff8c00 21.5px,#f30 32.5px,#ff0300 41.5px,#b30000 62.5px,#830000 84.5px,#830000 190.5px,#970000 201.5px,#c00 213.5px,#e80000 227.5px,#f90000 237.5px,#ff0c00 239.5px,#fff900 255.5px,#cfff30 259.5px,#40ffbf 272.5px,#0ffff0 278.5px,#00f8ff 282.5px,#00f0ff 286.5px,#00feff 288.5px,#40ffbf 296.5px,#4effb1 304.5px)"></i>
<i style="top:190px;height:1px;background:linear-gradient(90deg,#e6ff19 0.5px,#fff900 6.5px,#ff8b00 21.5px,#f30 32.5px,#ff0300 41.5px,#b30000 62.5px,#850000 83.5px,#800000 115.5px,#850000 191.5px,#970000 201.5px,#c00 213.5px,#e50000 226.5px,#f50000 237.5px,#ff0800 239.5px,#fbff04 256.5px,#43ffbc 272.5px,#0dfff2 278.5px,#00f9ff 281.5px,#00e6ff 285.5px,#00fdff 289.5px,#34ffcb 296.5px,#42ffbd 304.5px)"></i>
<i style="top:191px;height:1px;background:linear-gradient(90deg,#e7ff18 0.5px,#fff900 6.5px,#ff8b00 21.5px,#f30 32.5px,#ff0300 41.5px,#b30000 62.5px,#850000 83.5px,#800000 113.5px,#850000 191.5px,#970000 201.5px,#c00 213.5px,#e10000 225.5px,#f10000 237.5px,#ff0300 239.5px,#ff0 256.5px,#1bffe4 276.5px,#00fbff 280.5px,#00deff 285.5px,#00f4ff 289.5px,#0ffff0 292.5px,#2bffd4 297.5px,#35ffca 304.5px)"></i>
<i style="top:192px;height:1px;background:linear-gradient(90deg,#e8ff17 0.5px,#fff800 6.5px,#ff8a00 21.5px,#f30 32.5px,#ff0300 41.5px,#b30000 62.5px,#860000 83.5px,#800000 108.5px,#850000 191.5px,#970000 201.5px,#cb0000 213.5px,#df0000 224.5px,#ed0000 237.5px,#fe0000 239.5px,#fffa00 256.5px,#12ffed 277.5px,#01fffe 279.5px,#00d6ff 285.5px,#00e2ff 288.5px,#04fffb 292.5px,#1fffe0 297.5px,#29ffd6 304.5px)"></i>
<i style="top:193px;height:1px;background:linear-gradient(90deg,#e9ff16 0.5px,#fffd00 5.5px,#ffa300 18.5px,#f30 32.5px,#ff0300 41.5px,#b30000 62.5px,#870000 82.5px,#800000 98.5px,#850000 191.5px,#970000 201.5px,#cb0000 213.5px,#d00 224.5px,#e90000 237.5px,#fa0000 239.5px,#ff3700 243.5px,#fff600 256.5px,#efff10 258.5px,#07fff8 278.5px,#00ebff 281.5px,#00cfff 285.5px,#00d9ff 288.5px,#02fffd 293.5px,#16ffe9 298.5px,#1dffe2 304.5px)"></i>
<i style="top:194px;height:1px;background:linear-gradient(90deg,#eaff15 0.5px,#fffc00 5.5px,#ffa300 18.5px,#f30 32.5px,#ff0300 41.5px,#b30000 62.5px,#800 82.5px,#800000 98.5px,#840000 190.5px,#970000 201.5px,#cb0000 213.5px,#db0000 223.5px,#e50000 237.5px,#ff0500 240.5px,#ffe400 255.5px,#fffe00 257.5px,#68ff97 270.5px,#06fff9 278.5px,#00d5ff 283.5px,#00c8ff 286.5px,#04fffb 295.5px,#1fe 304.5px)"></i>
<i style="top:195px;height:1px;background:linear-gradient(90deg,#ebff14 0.5px,#fffb00 5.5px,#fa0 17.5px,#f30 32.5px,#ff0300 41.5px,#b30000 62.5px,#800 82.5px,#800000 99.5px,#840000 190.5px,#970000 201.5px,#cb0000 213.5px,#da0000 223.5px,#e10000 237.5px,#ff0200 240.5px,#ffc400 253.5px,#fffa00 257.5px,#87ff78 268.5px,#06fff9 278.5px,#00c4ff 285.5px,#00cbff 288.5px,#00fdff 296.5px,#07fff8 304.5px)"></i>
<i style="top:196px;height:1px;background:linear-gradient(90deg,#ecff13 0.5px,#fffb00 5.5px,#fa0 17.5px,#f30 32.5px,#ff0300 41.5px,#b30000 62.5px,#870000 83.5px,#800000 101.5px,#840000 190.5px,#970000 201.5px,#cb0000 213.5px,#da0000 222.5px,#df0000 237.5px,#f00 240.5px,#ffc100 253.5px,#fcff03 258.5px,#8cff73 268.5px,#07fff8 278.5px,#00e5ff 281.5px,#00c2ff 285.5px,#00c7ff 288.5px,#00f5ff 296.5px,#00fdff 304.5px)"></i>
<i style="top:197px;height:1px;background:linear-gradient(90deg,#ecff13 0.5px,#fffb00 5.5px,#fa0 17.5px,#f30 32.5px,#ff0300 41.5px,#b40000 62.5px,#870000 83.5px,#800000 99.5px,#800000 159.5px,#850000 190.5px,#970000 201.5px,#cb0000 213.5px,#da0000 222.5px,#de0000 237.5px,#fe0000 240.5px,#ffbe00 253.5px,#fffd00 258.5px,#91ff6e 268.5px,#09fff6 278.5px,#00f1ff 280.5px,#00c1ff 285.5px,#00c6ff 288.5px,#00efff 296.5px,#00f5ff 304.5px)"></i>
<i style="top:198px;height:1px;background:linear-gradient(90deg,#edff12 0.5px,#fffa00 5.5px,#ffb100 16.5px,#f30 32.5px,#ff0300 41.5px,#b40000 62.5px,#860000 84.5px,#800000 102.5px,#820000 158.5px,#840000 189.5px,#970000 201.5px,#cb0000 213.5px,#da0000 222.5px,#d00 237.5px,#fd0000 240.5px,#ffc800 254.5px,#fff900 258.5px,#c6ff39 264.5px,#5bffa4 272.5px,#00feff 279.5px,#00c2ff 285.5px,#00c5ff 288.5px,#00eaff 296.5px,#00edff 304.5px)"></i>
<i style="top:199px;height:1px;background:linear-gradient(90deg,#edff12 0.5px,#fffa00 5.5px,#ffb100 16.5px,#f30 32.5px,#ff0300 41.5px,#b40000 62.5px,#850000 85.5px,#800000 117.5px,#840000 156.5px,#840000 188.5px,#970000 201.5px,#c00 213.5px,#db0000 221.5px,#d80000 236.5px,#e00 239.5px,#fc0000 240.5px,#ffd100 255.5px,#feff01 259.5px,#9aff65 268.5px,#0dfff2 278.5px,#00f5ff 280.5px,#00c3ff 285.5px,#00c8ff 289.5px,#00e4ff 296.5px,#00e6ff 304.5px)"></i>
<i style="top:200px;height:1px;background:linear-gradient(90deg,#ef1 0.5px,#fffa00 5.5px,#ffb100 16.5px,#f30 32.5px,#ff0300 41.5px,#b40000 62.5px,#840000 86.5px,#850000 129.5px,#810000 162.5px,#840000 188.5px,#970000 201.5px,#c00 213.5px,#db0000 221.5px,#d70000 236.5px,#e00 239.5px,#fb0000 240.5px,#ffcd00 255.5px,#fffb00 259.5px,#adff52 267.5px,#10ffef 278.5px,#00f7ff 280.5px,#00c4ff 285.5px,#00c7ff 289.5px,#00dfff 297.5px,#00dfff 304.5px)"></i>
<i style="top:201px;height:1px;background:linear-gradient(90deg,#ef1 0.5px,#fffa00 5.5px,#ffb100 16.5px,#f30 32.5px,#ff0300 41.5px,#b70000 61.5px,#830000 87.5px,#850000 128.5px,#820000 161.5px,#850000 188.5px,#970000 201.5px,#cf0000 214.5px,#db0000 221.5px,#d70000 236.5px,#ed0000 239.5px,#ff0900 241.5px,#ffa400 252.5px,#fff700 259.5px,#f3ff0c 261.5px,#a4ff5b 268.5px,#12ffed 278.5px,#00faff 280.5px,#00c5ff 285.5px,#00c6ff 289.5px,#00daff 297.5px,#00d7ff 304.5px)"></i>
<i style="top:202px;height:1px;background:linear-gradient(90deg,#efff10 0.5px,#fff900 5.5px,#ffb900 15.5px,#f30 32.5px,#ff0300 41.5px,#b70000 61.5px,#800000 89.5px,#860000 129.5px,#820000 162.5px,#840000 187.5px,#970000 201.5px,#d00000 214.5px,#dc0000 221.5px,#d60000 236.5px,#ec0000 239.5px,#ff0800 241.5px,#ffa000 252.5px,#fffd00 260.5px,#b7ff48 267.5px,#15ffea 278.5px,#00fcff 280.5px,#00c6ff 285.5px,#00c5ff 289.5px,#00d4ff 297.5px,#00d0ff 304.5px)"></i>
<i style="top:203px;height:1px;background:linear-gradient(90deg,#efff10 0.5px,#fff900 5.5px,#ffb900 15.5px,#f30 32.5px,#ff0300 41.5px,#b70000 61.5px,#800000 90.5px,#860000 128.5px,#830000 161.5px,#840000 186.5px,#970000 201.5px,#d00000 214.5px,#dc0000 221.5px,#d50000 236.5px,#eb0000 239.5px,#ff0700 241.5px,#ff9d00 252.5px,#fff800 260.5px,#e8ff17 263.5px,#adff52 268.5px,#17ffe8 278.5px,#00feff 280.5px,#00c7ff 285.5px,#00c4ff 289.5px,#00ceff 298.5px,#00c9ff 304.5px)"></i>
<i style="top:204px;height:1px;background:linear-gradient(90deg,#f0ff0f 0.5px,#fff900 5.5px,#ffb900 15.5px,#f30 32.5px,#ff0300 41.5px,#b70000 61.5px,#800000 90.5px,#870000 128.5px,#840000 161.5px,#850000 186.5px,#970000 201.5px,#d00000 214.5px,#dc0000 221.5px,#d50000 236.5px,#ea0000 239.5px,#ff0600 241.5px,#ff9a00 252.5px,#fffe00 261.5px,#c0ff3f 267.5px,#1affe5 278.5px,#01fffe 280.5px,#00c8ff 285.5px,#00c2ff 289.5px,#00c7ff 299.5px,#00c2ff 304.5px)"></i>
<i style="top:205px;height:1px;background:linear-gradient(90deg,#f0ff0f 0.5px,#fff900 5.5px,#ffc000 14.5px,#f30 32.5px,#ff0300 41.5px,#b70000 61.5px,#800000 91.5px,#870000 127.5px,#850000 160.5px,#830000 184.5px,#970000 201.5px,#d40000 215.5px,#d00 221.5px,#d30000 235.5px,#df0000 238.5px,#ff0400 241.5px,#ff9700 252.5px,#fff900 261.5px,#deff21 265.5px,#86ff79 271.5px,#10ffef 279.5px,#00f6ff 281.5px,#00c9ff 285.5px,#00c1ff 289.5px,#00bfff 300.5px,#0bf 304.5px)"></i>
<i style="top:206px;height:1px;background:linear-gradient(90deg,#f1ff0e 0.5px,#fff800 5.5px,#ffc000 14.5px,#f30 32.5px,#ff0300 41.5px,#b70000 61.5px,#800000 91.5px,#870000 126.5px,#860000 160.5px,#820000 183.5px,#970000 201.5px,#d40000 215.5px,#d00 221.5px,#d20000 235.5px,#de0000 238.5px,#ff0300 241.5px,#ff9400 252.5px,#fffe00 262.5px,#caff35 267.5px,#1fffe0 278.5px,#05fffa 280.5px,#00c4ff 286.5px,#00b3ff 304.5px)"></i>
<i style="top:207px;height:1px;background:linear-gradient(90deg,#f1ff0e 0.5px,#fff800 5.5px,#ffc000 14.5px,#f30 32.5px,#ff0300 41.5px,#b80000 61.5px,#800000 92.5px,#870000 126.5px,#870000 160.5px,#830000 183.5px,#970000 201.5px,#d50000 215.5px,#d00 221.5px,#d10000 234.5px,#d00 238.5px,#ff0200 241.5px,#ff9100 252.5px,#fff900 262.5px,#e8ff17 265.5px,#9fff60 270.5px,#21ffde 278.5px,#00f9ff 281.5px,#00cbff 285.5px,#00beff 290.5px,#00acff 304.5px)"></i>
<i style="top:208px;height:1px;background:linear-gradient(90deg,#f2ff0d 0.5px,#fff800 5.5px,#ffc000 14.5px,#f30 32.5px,#ff0300 41.5px,#b80000 61.5px,#800000 92.5px,#870000 125.5px,#800 159.5px,#820000 182.5px,#970000 201.5px,#d90000 216.5px,#dc0000 222.5px,#d00000 234.5px,#dc0000 238.5px,#ff0100 241.5px,#ff8e00 252.5px,#fff500 262.5px,#f7ff08 264.5px,#c5ff3a 268.5px,#24ffdb 278.5px,#00fbff 281.5px,#00c5ff 286.5px,#00a5ff 304.5px)"></i>
<i style="top:209px;height:1px;background:linear-gradient(90deg,#f2ff0d 0.5px,#fff800 5.5px,#ffc000 14.5px,#f30 32.5px,#ff0300 41.5px,#ba0000 60.5px,#800000 93.5px,#800 125.5px,#890000 159.5px,#830000 182.5px,#970000 201.5px,#d90000 216.5px,#de0000 221.5px,#d00000 233.5px,#d40000 237.5px,#f00 241.5px,#ff9600 253.5px,#fff900 263.5px,#e6ff19 266.5px,#26ffd9 278.5px,#00fdff 281.5px,#00c6ff 286.5px,#009eff 304.5px)"></i>
<i style="top:210px;height:1px;background:linear-gradient(90deg,#f3ff0c 0.5px,#fff700 5.5px,#ffc800 13.5px,#f30 32.5px,#ff0300 41.5px,#ba0000 60.5px,#800000 93.5px,#890000 125.5px,#890000 159.5px,#840000 182.5px,#980000 201.5px,#d00 217.5px,#da0000 223.5px,#cf0000 234.5px,#da0000 238.5px,#fe0000 241.5px,#ff9e00 254.5px,#fffd00 264.5px,#ceff31 268.5px,#29ffd6 278.5px,#0ff 281.5px,#00c6ff 286.5px,#0097ff 304.5px)"></i>
<i style="top:211px;height:1px;background:linear-gradient(90deg,#f3ff0c 0.5px,#fff700 5.5px,#ffc800 13.5px,#f30 32.5px,#ff0300 41.5px,#ba0000 60.5px,#800000 93.5px,#890000 125.5px,#8a0000 159.5px,#840000 182.5px,#980000 201.5px,#d00 217.5px,#da0000 223.5px,#cf0000 234.5px,#da0000 238.5px,#fd0000 241.5px,#ffa500 255.5px,#fbff04 265.5px,#c2ff3d 269.5px,#2bffd4 278.5px,#02fffd 281.5px,#00c7ff 286.5px,#0090ff 304.5px)"></i>
<i style="top:212px;height:1px;background:linear-gradient(90deg,#f4ff0b 0.5px,#fff700 5.5px,#ffc800 13.5px,#f30 32.5px,#ff0300 41.5px,#ba0000 60.5px,#800000 93.5px,#8a0000 125.5px,#8b0000 159.5px,#850000 182.5px,#980000 201.5px,#de0000 217.5px,#db0000 223.5px,#ce0000 234.5px,#d90000 238.5px,#fc0000 241.5px,#ffac00 256.5px,#fffe00 265.5px,#c6ff39 269.5px,#3cffc3 277.5px,#05fffa 281.5px,#00c9ff 286.5px,#008cff 303.5px,#008bff 304.5px)"></i>
<i style="top:213px;height:1px;background:linear-gradient(90deg,#f4ff0b 0.5px,#fff700 5.5px,#ffc800 13.5px,#f30 32.5px,#ff0300 41.5px,#ba0000 60.5px,#800000 93.5px,#8b0000 126.5px,#8b0000 160.5px,#870000 183.5px,#900 201.5px,#de0000 217.5px,#db0000 223.5px,#cf0000 234.5px,#d90000 238.5px,#fb0000 241.5px,#ffa900 256.5px,#fffb00 265.5px,#daff25 268.5px,#3effc1 277.5px,#07fff8 281.5px,#00dfff 284.5px,#00c0ff 288.5px,#0087ff 304.5px)"></i>
<i style="top:214px;height:1px;background:linear-gradient(90deg,#f3ff0c 0.5px,#fff800 5.5px,#ffc800 13.5px,#f30 32.5px,#ff0300 41.5px,#ba0000 60.5px,#800000 93.5px,#8d0000 128.5px,#8a0000 162.5px,#800 183.5px,#9a0000 201.5px,#e10000 218.5px,#d00000 235.5px,#da0000 238.5px,#fb0000 241.5px,#ffb000 257.5px,#faff05 266.5px,#3fc 278.5px,#00fcff 282.5px,#00ceff 286.5px,#008aff 302.5px,#0085ff 304.5px)"></i>
<i style="top:215px;height:1px;background:linear-gradient(90deg,#f3ff0c 0.5px,#fff800 5.5px,#ffc900 13.5px,#f30 32.5px,#ff0300 41.5px,#ba0000 60.5px,#800000 94.5px,#900000 151.5px,#870000 182.5px,#9c0000 201.5px,#e10000 218.5px,#d20000 236.5px,#e50000 239.5px,#fb0000 241.5px,#ffad00 257.5px,#fcff03 266.5px,#35ffca 278.5px,#0ff 282.5px,#00d2ff 286.5px,#0086ff 303.5px,#0084ff 304.5px)"></i>
<i style="top:216px;height:1px;background:linear-gradient(90deg,#f2ff0d 0.5px,#fff900 5.5px,#ffc900 13.5px,#f30 32.5px,#ff0300 41.5px,#ba0000 60.5px,#800000 94.5px,#900000 151.5px,#800 182.5px,#9e0000 201.5px,#e10000 218.5px,#d60000 237.5px,#fc0000 241.5px,#fa0 257.5px,#fdff02 266.5px,#45ffba 277.5px,#03fffc 282.5px,#00cfff 287.5px,#0084ff 304.5px)"></i>
<i style="top:217px;height:1px;background:linear-gradient(90deg,#f2ff0d 0.5px,#fff900 5.5px,#ffc900 13.5px,#f30 32.5px,#ff0300 41.5px,#ba0000 60.5px,#800000 94.5px,#900000 151.5px,#890000 182.5px,#9f0000 201.5px,#e10000 218.5px,#d80000 237.5px,#fc0000 241.5px,#ffb100 258.5px,#ff0 266.5px,#47ffb8 277.5px,#00faff 283.5px,#00ceff 288.5px,#0084ff 304.5px)"></i>
<i style="top:218px;height:1px;background:linear-gradient(90deg,#f1ff0e 0.5px,#fffa00 5.5px,#ffd100 12.5px,#f30 32.5px,#ff0300 41.5px,#ba0000 60.5px,#800000 95.5px,#900000 150.5px,#8a0000 182.5px,#a10000 201.5px,#e30000 219.5px,#d90000 237.5px,#fc0000 241.5px,#ffae00 258.5px,#fffe00 266.5px,#49ffb6 277.5px,#00fdff 283.5px,#00d2ff 288.5px,#0085ff 304.5px)"></i>
<i style="top:219px;height:1px;background:linear-gradient(90deg,#f1ff0e 0.5px,#fffa00 5.5px,#ffd200 12.5px,#f30 32.5px,#ff0300 41.5px,#ba0000 60.5px,#800000 95.5px,#900000 150.5px,#8b0000 182.5px,#a70000 202.5px,#e30000 219.5px,#db0000 237.5px,#fd0000 241.5px,#ffbf00 260.5px,#fffd00 266.5px,#9dff62 272.5px,#3effc1 278.5px,#02fffd 283.5px,#00d0ff 289.5px,#0085ff 304.5px)"></i>
<i style="top:220px;height:1px;background:linear-gradient(90deg,#f0ff0f 0.5px,#fffb00 5.5px,#ffd200 12.5px,#f30 32.5px,#ff0300 41.5px,#ba0000 60.5px,#800000 96.5px,#900000 149.5px,#8b0000 182.5px,#a90000 202.5px,#e40000 219.5px,#dc0000 237.5px,#fd0000 241.5px,#fffc00 266.5px,#c2ff3d 270.5px,#4dffb2 277.5px,#00faff 284.5px,#00c9ff 291.5px,#0085ff 304.5px)"></i>
<i style="top:221px;height:1px;background:linear-gradient(90deg,#f0ff0f 0.5px,#fffb00 5.5px,#ffd200 12.5px,#f30 32.5px,#ff0300 41.5px,#ba0000 60.5px,#800000 96.5px,#900000 149.5px,#8c0000 182.5px,#a00 202.5px,#e50000 220.5px,#d00 237.5px,#fe0000 241.5px,#fffa00 266.5px,#d5ff2a 269.5px,#4fffb0 277.5px,#00feff 284.5px,#00c7ff 292.5px,#0086ff 304.5px)"></i>
<i style="top:222px;height:1px;background:linear-gradient(90deg,#efff10 0.5px,#fff800 6.5px,#ffc300 14.5px,#f30 32.5px,#ff0300 41.5px,#ba0000 60.5px,#800000 96.5px,#900000 149.5px,#8d0000 182.5px,#ac0000 202.5px,#e50000 220.5px,#df0000 237.5px,#fe0000 241.5px,#ffed00 265.5px,#f7ff08 267.5px,#52ffad 277.5px,#03fffc 284.5px,#0086ff 304.5px)"></i>
<i style="top:223px;height:1px;background:linear-gradient(90deg,#ef1 0.5px,#fff800 6.5px,#ffc300 14.5px,#ff3a00 31.5px,#ff0300 41.5px,#ba0000 60.5px,#800000 96.5px,#900000 144.5px,#900000 183.5px,#ae0000 202.5px,#e60000 220.5px,#e10000 234.5px,#e50000 238.5px,#fe0000 241.5px,#ffe000 264.5px,#f8ff07 267.5px,#54ffab 277.5px,#00fdff 285.5px,#0086ff 304.5px)"></i>
<i style="top:224px;height:1px;background:linear-gradient(90deg,#ef1 0.5px,#fff900 6.5px,#fc0 13.5px,#ff3a00 31.5px,#ff0300 41.5px,#ba0000 60.5px,#800000 96.5px,#900000 143.5px,#8f0000 182.5px,#b30000 203.5px,#e70000 221.5px,#e40000 233.5px,#e60000 238.5px,#f00 241.5px,#ffd300 263.5px,#f9ff06 267.5px,#63ff9c 276.5px,#02fffd 285.5px,#0087ff 304.5px)"></i>
<i style="top:225px;height:1px;background:linear-gradient(90deg,#edff12 0.5px,#fff900 6.5px,#fc0 13.5px,#ff3a00 31.5px,#ff0300 41.5px,#ba0000 60.5px,#810000 96.5px,#900000 141.5px,#8f0000 182.5px,#b40000 203.5px,#e70000 221.5px,#e80000 232.5px,#e70000 238.5px,#f00 241.5px,#ffbc00 261.5px,#fbff04 267.5px,#65ff9a 276.5px,#00fdff 286.5px,#0087ff 304.5px)"></i>
<i style="top:226px;height:1px;background:linear-gradient(90deg,#edff12 0.5px,#fffa00 6.5px,#fc0 13.5px,#ff3a00 31.5px,#ff0300 41.5px,#ba0000 60.5px,#820000 95.5px,#900000 141.5px,#900000 182.5px,#b90000 204.5px,#e90000 222.5px,#ea0000 232.5px,#e80000 238.5px,#f00 241.5px,#ffaf00 260.5px,#fcff03 267.5px,#6f9 276.5px,#02fffd 286.5px,#0087ff 304.5px)"></i>
<i style="top:227px;height:1px;background:linear-gradient(90deg,#ecff13 0.5px,#fffb00 6.5px,#ffcd00 13.5px,#ff3a00 31.5px,#ff0300 41.5px,#ba0000 60.5px,#820000 95.5px,#900000 139.5px,#910000 182.5px,#be0000 205.5px,#eb0000 223.5px,#eb0000 232.5px,#e90000 238.5px,#ff0100 241.5px,#ffa200 259.5px,#fdff02 267.5px,#68ff97 276.5px,#07fff8 286.5px,#00e9ff 290.5px,#08f 304.5px)"></i>
<i style="top:228px;height:1px;background:linear-gradient(90deg,#ecff13 0.5px,#fffb00 6.5px,#ffcd00 13.5px,#ff3a00 31.5px,#ff0300 41.5px,#ba0000 60.5px,#830000 94.5px,#900000 140.5px,#920000 182.5px,#c20000 206.5px,#ef0000 225.5px,#eb0000 233.5px,#ea0000 238.5px,#ff0100 241.5px,#ff9f00 259.5px,#ff0 267.5px,#6aff95 276.5px,#03fffc 287.5px,#08f 304.5px)"></i>
<i style="top:229px;height:1px;background:linear-gradient(90deg,#ebff14 0.5px,#fffc00 6.5px,#ffcd00 13.5px,#ff3a00 31.5px,#ff0300 41.5px,#ba0000 60.5px,#840000 94.5px,#900000 138.5px,#920000 182.5px,#c60000 207.5px,#f30000 227.5px,#eb0000 238.5px,#ff0200 241.5px,#ff9d00 259.5px,#fffe00 267.5px,#6cff93 276.5px,#07fff8 287.5px,#00e9ff 291.5px,#08f 304.5px)"></i>
<i style="top:230px;height:1px;background:linear-gradient(90deg,#ebff14 0.5px,#fffc00 6.5px,#ffcd00 13.5px,#ff3a00 31.5px,#ff0300 41.5px,#ba0000 60.5px,#850000 93.5px,#900000 142.5px,#930000 182.5px,#c00 209.5px,#f50000 228.5px,#ec0000 238.5px,#ff0200 241.5px,#ff9c00 259.5px,#fffe00 267.5px,#6dff92 276.5px,#02fffd 288.5px,#08f 304.5px)"></i>
</div>
<div class="hm" style="left:409px;top:317px;width:303px;height:228px">
<i style="top:0px;height:1px;background:linear-gradient(90deg,#00feff 0.5px,#2bffd4 12.5px,#d1ff2e 44.5px,#fffd00 60.5px,#ff8600 95.5px,#f50 115.5px,#ff0400 133.5px,#fc0000 176.5px,#ff0a00 192.5px,#ff2600 201.5px,#ff6900 212.5px,#fff900 229.5px,#c9ff36 238.5px,#95ff6a 247.5px,#65ff9a 265.5px,#82ff7d 274.5px,#d0ff2f 281.5px,#e4ff1b 283.5px,#e0ff1f 285.5px,#83ff7c 293.5px,#52ffad 302.5px)"></i>
<i style="top:1px;height:1px;background:linear-gradient(90deg,#00feff 0.5px,#2cffd3 12.5px,#d2ff2d 44.5px,#fffb00 60.5px,#ff8400 95.5px,#ff5400 115.5px,#ff0400 133.5px,#fa0000 175.5px,#ff0900 192.5px,#ff2400 201.5px,#ff6700 212.5px,#fffd00 230.5px,#97ff68 247.5px,#6f9 265.5px,#82ff7d 274.5px,#c3ff3c 280.5px,#e5ff1a 283.5px,#e2ff1d 285.5px,#83ff7c 293.5px,#52ffad 302.5px)"></i>
<i style="top:2px;height:1px;background:linear-gradient(90deg,#0ff 0.5px,#2dffd2 12.5px,#d8ff27 45.5px,#fffb00 59.5px,#ff8200 95.5px,#ff5200 115.5px,#ff0300 133.5px,#f80000 173.5px,#ff0500 191.5px,#ff2300 201.5px,#ff6500 212.5px,#fffa00 230.5px,#9aff65 247.5px,#6f9 265.5px,#81ff7e 274.5px,#c4ff3b 280.5px,#e8ff17 283.5px,#e5ff1a 285.5px,#83ff7c 293.5px,#52ffad 302.5px)"></i>
<i style="top:3px;height:1px;background:linear-gradient(90deg,#01fffe 0.5px,#2effd1 12.5px,#deff21 46.5px,#fffc00 58.5px,#ff8300 94.5px,#ff5000 115.5px,#ff0100 133.5px,#f60000 171.5px,#ff0600 192.5px,#ff2600 202.5px,#ff6200 212.5px,#fffd00 231.5px,#9dff62 247.5px,#67ff98 265.5px,#80ff7f 274.5px,#c5ff3a 280.5px,#eaff15 283.5px,#e8ff17 285.5px,#8dff72 292.5px,#5affa5 300.5px,#52ffad 302.5px)"></i>
<i style="top:4px;height:1px;background:linear-gradient(90deg,#01fffe 0.5px,#2fffd0 12.5px,#e0ff1f 46.5px,#fffc00 57.5px,#ff8000 94.5px,#ff4e00 115.5px,#f00 133.5px,#f50000 169.5px,#ff0400 192.5px,#ff2300 202.5px,#ff5f00 212.5px,#feff01 232.5px,#a0ff5f 247.5px,#67ff98 265.5px,#7fff80 274.5px,#b8ff47 279.5px,#ef1 283.5px,#ebff14 285.5px,#8dff72 292.5px,#5affa5 300.5px,#52ffad 302.5px)"></i>
<i style="top:5px;height:1px;background:linear-gradient(90deg,#02fffd 0.5px,#36ffc9 13.5px,#e6ff19 47.5px,#fffc00 56.5px,#ff7e00 94.5px,#ff4b00 115.5px,#fe0000 133.5px,#f40000 168.5px,#ff0400 193.5px,#ff2600 203.5px,#ff5c00 212.5px,#fffc00 232.5px,#9fff60 248.5px,#67ff98 265.5px,#7eff81 274.5px,#b8ff47 279.5px,#f1ff0e 283.5px,#ef1 285.5px,#8dff72 292.5px,#5affa5 300.5px,#52ffad 302.5px)"></i>
<i style="top:6px;height:1px;background:linear-gradient(90deg,#03fffc 0.5px,#37ffc8 13.5px,#ecff13 48.5px,#fff800 56.5px,#ff7c00 94.5px,#ff4500 116.5px,#f00 132.5px,#f20000 164.5px,#ff0500 194.5px,#ff2d00 205.5px,#f70 216.5px,#ff0 233.5px,#a6ff59 247.5px,#68ff97 265.5px,#7dff82 274.5px,#b8ff47 279.5px,#f4ff0b 283.5px,#f2ff0d 285.5px,#8dff72 292.5px,#5affa5 300.5px,#52ffad 302.5px)"></i>
<i style="top:7px;height:1px;background:linear-gradient(90deg,#03fffc 0.5px,#38ffc7 13.5px,#ef1 48.5px,#fff800 55.5px,#ff7900 94.5px,#ff4300 116.5px,#fe0000 132.5px,#f10000 164.5px,#fe0000 192.5px,#ff1d00 202.5px,#ff4f00 211.5px,#fcff03 234.5px,#a5ff5a 248.5px,#68ff97 265.5px,#7cff83 274.5px,#b9ff46 279.5px,#f8ff07 283.5px,#f6ff09 285.5px,#9f6 291.5px,#70ff8f 296.5px,#52ffad 302.5px)"></i>
<i style="top:8px;height:1px;background:linear-gradient(90deg,#04fffb 0.5px,#39ffc6 13.5px,#f4ff0b 49.5px,#fff500 55.5px,#ff7a00 93.5px,#ff4100 116.5px,#fd0000 132.5px,#f00000 164.5px,#fc0000 192.5px,#ff1600 201.5px,#f40 210.5px,#ff0 234.5px,#a8ff57 248.5px,#69ff96 265.5px,#7cff83 274.5px,#af5 278.5px,#fcff03 283.5px,#faff05 285.5px,#9f6 291.5px,#75ff8a 295.5px,#52ffad 302.5px)"></i>
<i style="top:9px;height:1px;background:linear-gradient(90deg,#05fffa 0.5px,#3affc5 13.5px,#faff05 50.5px,#ff7000 96.5px,#ff3f00 116.5px,#fb0000 132.5px,#ef0000 164.5px,#f80000 191.5px,#ff0c00 199.5px,#ff4200 210.5px,#fcff03 235.5px,#a6ff59 249.5px,#69ff96 265.5px,#7bff84 274.5px,#af5 278.5px,#fffe00 283.5px,#fff900 284.5px,#ff0 285.5px,#9aff65 291.5px,#75ff8a 295.5px,#52ffad 302.5px)"></i>
<i style="top:10px;height:1px;background:linear-gradient(90deg,#05fffa 0.5px,#41ffbe 14.5px,#fdff02 50.5px,#ff7800 92.5px,#ff3c00 116.5px,#fd0000 131.5px,#e00 160.5px,#f60000 191.5px,#ff0700 198.5px,#ff3800 209.5px,#ff0 235.5px,#a4ff5b 250.5px,#6aff95 265.5px,#74ff8b 273.5px,#8eff71 276.5px,#cdff32 280.5px,#f5ff0a 282.5px,#fff500 284.5px,#fffb00 285.5px,#e1ff1e 287.5px,#9aff65 291.5px,#75ff8a 295.5px,#52ffad 302.5px)"></i>
<i style="top:11px;height:1px;background:linear-gradient(90deg,#06fff9 0.5px,#42ffbd 14.5px,#ff0 50.5px,#ff8700 86.5px,#ff3a00 116.5px,#fc0000 131.5px,#ed0000 160.5px,#f50000 191.5px,#ff0900 199.5px,#ff3c00 210.5px,#fcff03 236.5px,#a2ff5d 251.5px,#6aff95 265.5px,#73ff8c 273.5px,#8dff72 276.5px,#cfff30 280.5px,#f9ff06 282.5px,#fff000 284.5px,#f8ff07 286.5px,#a9ff56 290.5px,#7cff83 294.5px,#52ffad 302.5px)"></i>
<i style="top:12px;height:1px;background:linear-gradient(90deg,#06fff9 0.5px,#43ffbc 14.5px,#fdff02 49.5px,#ff8400 86.5px,#ff3400 117.5px,#fb0000 131.5px,#eb0000 161.5px,#f30000 191.5px,#ff0700 199.5px,#ff3200 209.5px,#ff0 236.5px,#9f6 253.5px,#6bff94 265.5px,#72ff8d 273.5px,#8dff72 276.5px,#d0ff2f 280.5px,#fcff03 282.5px,#ffeb00 284.5px,#fdff02 286.5px,#af5 290.5px,#7cff83 294.5px,#52ffad 302.5px)"></i>
<i style="top:13px;height:1px;background:linear-gradient(90deg,#07fff8 0.5px,#4fb 14.5px,#fffe00 49.5px,#ff9800 78.5px,#ff4800 110.5px,#fd0000 130.5px,#ef0000 143.5px,#ef0000 190.5px,#ff0500 199.5px,#ff2f00 209.5px,#fcff03 237.5px,#91ff6e 255.5px,#6bff94 265.5px,#72ff8d 273.5px,#8cff73 276.5px,#d2ff2d 280.5px,#fffe00 282.5px,#ffec00 283.5px,#ffe600 284.5px,#ffec00 285.5px,#fffd00 286.5px,#abff54 290.5px,#7cff83 294.5px,#52ffad 302.5px)"></i>
<i style="top:14px;height:1px;background:linear-gradient(90deg,#08fff7 0.5px,#4bffb4 15.5px,#fffc00 49.5px,#ffa100 74.5px,#ff4c00 107.5px,#ff2400 120.5px,#fc0000 130.5px,#ed0000 144.5px,#e00 190.5px,#ff0600 200.5px,#ff2c00 209.5px,#ff0 237.5px,#89ff76 257.5px,#6bff94 266.5px,#71ff8e 273.5px,#8bff74 276.5px,#d3ff2c 280.5px,#fffa00 282.5px,#ffe800 283.5px,#ffe000 284.5px,#ffe700 285.5px,#fff900 286.5px,#acff53 290.5px,#84ff7b 293.5px,#52ffad 302.5px)"></i>
<i style="top:15px;height:1px;background:linear-gradient(90deg,#08fff7 0.5px,#4cffb3 15.5px,#fffe00 48.5px,#ffb800 66.5px,#f50 102.5px,#ff2a00 118.5px,#fa0000 130.5px,#eb0000 145.5px,#e00 191.5px,#ff0400 200.5px,#ff2900 209.5px,#ffdc00 233.5px,#fcff03 238.5px,#86ff79 258.5px,#6bff94 266.5px,#70ff8f 273.5px,#8bff74 276.5px,#beff41 279.5px,#ef1 281.5px,#fff600 282.5px,#ffe300 283.5px,#ffdb00 284.5px,#ffe200 285.5px,#fff400 286.5px,#f1ff0e 287.5px,#adff52 290.5px,#84ff7b 293.5px,#52ffad 302.5px)"></i>
<i style="top:16px;height:1px;background:linear-gradient(90deg,#09fff6 0.5px,#4dffb2 15.5px,#fffc00 48.5px,#ffbc00 64.5px,#ff5900 99.5px,#ff2c00 117.5px,#fd0000 129.5px,#e00 138.5px,#e70000 185.5px,#fc0000 198.5px,#ff2000 208.5px,#ffc700 231.5px,#ff0 238.5px,#87ff78 258.5px,#6cff93 266.5px,#6fff90 273.5px,#8aff75 276.5px,#beff41 279.5px,#f0ff0f 281.5px,#fff300 282.5px,#ffdf00 283.5px,#ffd600 284.5px,#fd0 285.5px,#fff000 286.5px,#f4ff0b 287.5px,#adff52 290.5px,#84ff7b 293.5px,#52ffad 302.5px)"></i>
<i style="top:17px;height:1px;background:linear-gradient(90deg,#0afff5 0.5px,#4fffb0 15.5px,#ff0 47.5px,#ffbf00 62.5px,#ff5800 98.5px,#ff2900 117.5px,#fb0000 129.5px,#ec0000 138.5px,#e60000 186.5px,#ff0400 201.5px,#ff2400 209.5px,#ffc300 231.5px,#fcff03 239.5px,#8f7 258.5px,#6cff93 266.5px,#6eff91 273.5px,#89ff76 276.5px,#beff41 279.5px,#f2ff0d 281.5px,#fff000 282.5px,#ffdb00 283.5px,#ffd200 284.5px,#ffd900 285.5px,#f7ff08 287.5px,#aeff51 290.5px,#84ff7b 293.5px,#51ffae 302.5px)"></i>
<i style="top:18px;height:1px;background:linear-gradient(90deg,#0bfff4 0.5px,#50ffaf 15.5px,#fffc00 47.5px,#ffbd00 62.5px,#ff5600 98.5px,#ff2700 117.5px,#f90000 129.5px,#eb0000 138.5px,#e30000 183.5px,#ef0000 194.5px,#ff0500 202.5px,#ff2800 210.5px,#ffc000 231.5px,#fffe00 239.5px,#8aff75 258.5px,#6dff92 266.5px,#6dff92 273.5px,#8f7 276.5px,#beff41 279.5px,#f3ff0c 281.5px,#ffef00 282.5px,#ffd800 283.5px,#ffcf00 284.5px,#ffd600 285.5px,#f8ff07 287.5px,#adff52 290.5px,#83ff7c 293.5px,#50ffaf 302.5px)"></i>
<i style="top:19px;height:1px;background:linear-gradient(90deg,#0cfff3 0.5px,#51ffae 15.5px,#ff0 46.5px,#ffbd00 61.5px,#ff5300 98.5px,#ff2100 118.5px,#fb0000 128.5px,#ea0000 136.5px,#e10000 174.5px,#e70000 191.5px,#ff0300 202.5px,#ff2600 210.5px,#ffbd00 231.5px,#fcff03 240.5px,#8cff73 258.5px,#6dff92 266.5px,#6cff93 273.5px,#87ff78 276.5px,#bdff42 279.5px,#f3ff0c 281.5px,#ffed00 282.5px,#ffd600 283.5px,#ffcd00 284.5px,#ffd400 285.5px,#f9ff06 287.5px,#acff53 290.5px,#82ff7d 293.5px,#4fffb0 302.5px)"></i>
<i style="top:20px;height:1px;background:linear-gradient(90deg,#0dfff2 0.5px,#53ffac 15.5px,#fffc00 46.5px,#fb0 61.5px,#ff4e00 99.5px,#ff1e00 118.5px,#f90000 128.5px,#e80000 136.5px,#df0000 172.5px,#e50000 191.5px,#ff0500 203.5px,#ff2b00 211.5px,#ffb900 231.5px,#fffe00 240.5px,#8eff71 258.5px,#6dff92 267.5px,#6bff94 273.5px,#86ff79 276.5px,#bcff43 279.5px,#f3ff0c 281.5px,#ffed00 282.5px,#ffd500 283.5px,#ffcb00 284.5px,#ffd200 285.5px,#faff05 287.5px,#abff54 290.5px,#81ff7e 293.5px,#4dffb2 302.5px)"></i>
<i style="top:21px;height:1px;background:linear-gradient(90deg,#0efff1 0.5px,#4fffb0 14.5px,#ff0 45.5px,#ffb900 61.5px,#ff4b00 99.5px,#ff1800 119.5px,#fb0000 127.5px,#e70000 136.5px,#d00 170.5px,#e30000 191.5px,#ff0300 203.5px,#ff2800 211.5px,#ffb600 231.5px,#fcff03 241.5px,#8bff74 259.5px,#6eff91 267.5px,#6bff94 273.5px,#84ff7b 276.5px,#bf4 279.5px,#f3ff0c 281.5px,#ffec00 282.5px,#ffd400 283.5px,#ffc900 284.5px,#ffd000 285.5px,#faff05 287.5px,#af5 290.5px,#80ff7f 293.5px,#4cffb3 302.5px)"></i>
<i style="top:22px;height:1px;background:linear-gradient(90deg,#10ffef 0.5px,#50ffaf 14.5px,#fffc00 45.5px,#ffb600 61.5px,#ff4600 100.5px,#ff1500 119.5px,#f90000 127.5px,#e50000 136.5px,#db0000 169.5px,#e10000 191.5px,#ff0500 204.5px,#ff2d00 212.5px,#ffb300 231.5px,#ff0 241.5px,#8dff72 259.5px,#6eff91 267.5px,#6aff95 273.5px,#83ff7c 276.5px,#b9ff46 279.5px,#f3ff0c 281.5px,#ffec00 282.5px,#ffd300 283.5px,#ffc800 284.5px,#ffcf00 285.5px,#fbff04 287.5px,#a9ff56 290.5px,#7eff81 293.5px,#4affb5 302.5px)"></i>
<i style="top:23px;height:1px;background:linear-gradient(90deg,#1fe 0.5px,#52ffad 14.5px,#ff0 44.5px,#ffb400 61.5px,#ff4100 101.5px,#ff0f00 120.5px,#f70000 127.5px,#e30000 136.5px,#d90000 169.5px,#df0000 191.5px,#ff0300 204.5px,#ff2a00 212.5px,#ffb000 231.5px,#fcff03 242.5px,#8eff71 259.5px,#6fff90 267.5px,#69ff96 273.5px,#81ff7e 276.5px,#b8ff47 279.5px,#f2ff0d 281.5px,#ffec00 282.5px,#ffd200 283.5px,#ffc700 284.5px,#ffce00 285.5px,#fbff04 287.5px,#a8ff57 290.5px,#7dff82 293.5px,#48ffb7 302.5px)"></i>
<i style="top:24px;height:1px;background:linear-gradient(90deg,#12ffed 0.5px,#4dffb2 13.5px,#fffc00 44.5px,#ffb200 61.5px,#ff3e00 101.5px,#ff0a00 121.5px,#f40000 127.5px,#e00000 137.5px,#d70000 171.5px,#d00 191.5px,#ff0400 205.5px,#ff4100 216.5px,#ffbd00 233.5px,#ff0 242.5px,#90ff6f 259.5px,#6fff90 267.5px,#68ff97 273.5px,#80ff7f 276.5px,#b7ff48 279.5px,#f1ff0e 281.5px,#ffec00 282.5px,#ffd200 283.5px,#ffc700 284.5px,#ffce00 285.5px,#faff05 287.5px,#a7ff58 290.5px,#7cff83 293.5px,#47ffb8 302.5px)"></i>
<i style="top:25px;height:1px;background:linear-gradient(90deg,#13ffec 0.5px,#4fffb0 13.5px,#ff0 43.5px,#ffb300 60.5px,#ff3d00 100.5px,#ff0700 121.5px,#e90000 130.5px,#d50000 151.5px,#da0000 191.5px,#ff0300 205.5px,#f40 217.5px,#fffc00 242.5px,#8f7 261.5px,#6cff93 269.5px,#6bff94 274.5px,#8eff71 277.5px,#d1ff2e 280.5px,#f1ff0e 281.5px,#ffec00 282.5px,#ffd200 283.5px,#ffc600 284.5px,#ffce00 285.5px,#faff05 287.5px,#bdff42 289.5px,#86ff79 292.5px,#59ffa6 298.5px,#45ffba 302.5px)"></i>
<i style="top:26px;height:1px;background:linear-gradient(90deg,#14ffeb 0.5px,#50ffaf 13.5px,#fffc00 43.5px,#ffb000 60.5px,#ff3a00 100.5px,#ff0500 121.5px,#dc0000 136.5px,#d30000 169.5px,#d80000 191.5px,#ff0400 206.5px,#ff5c00 221.5px,#feff01 243.5px,#8fff70 260.5px,#6eff91 268.5px,#6f9 273.5px,#7dff82 276.5px,#b4ff4b 279.5px,#efff10 281.5px,#ffed00 282.5px,#ffd200 283.5px,#ffc700 284.5px,#ffce00 285.5px,#f9ff06 287.5px,#bf4 289.5px,#84ff7b 292.5px,#58ffa7 298.5px,#43ffbc 302.5px)"></i>
<i style="top:27px;height:1px;background:linear-gradient(90deg,#15ffea 0.5px,#52ffad 13.5px,#ff0 42.5px,#ffae00 60.5px,#ff3700 100.5px,#fb0000 123.5px,#db0000 135.5px,#d10000 168.5px,#d60000 191.5px,#ff0200 206.5px,#ff5800 221.5px,#fffd00 243.5px,#8bff74 261.5px,#6aff95 270.5px,#69ff96 274.5px,#8bff74 277.5px,#b2ff4d 279.5px,#ef1 281.5px,#fe0 282.5px,#ffd300 283.5px,#ffc700 284.5px,#ffcf00 285.5px,#f8ff07 287.5px,#baff45 289.5px,#83ff7c 292.5px,#50ffaf 299.5px,#42ffbd 302.5px)"></i>
<i style="top:28px;height:1px;background:linear-gradient(90deg,#16ffe9 0.5px,#53ffac 13.5px,#fdff02 41.5px,#ffa800 61.5px,#ff3500 100.5px,#fc0000 122.5px,#d90000 135.5px,#cf0000 168.5px,#d40000 191.5px,#ff0400 207.5px,#f50 221.5px,#fdff02 244.5px,#8cff73 261.5px,#69ff96 270.5px,#68ff97 274.5px,#89ff76 277.5px,#b1ff4e 279.5px,#edff12 281.5px,#fff000 282.5px,#ffd500 283.5px,#ffc900 284.5px,#ffd000 285.5px,#f7ff08 287.5px,#b9ff46 289.5px,#82ff7d 292.5px,#4fffb0 299.5px,#40ffbf 302.5px)"></i>
<i style="top:29px;height:1px;background:linear-gradient(90deg,#18ffe7 0.5px,#4effb1 12.5px,#fffe00 41.5px,#ffa900 60.5px,#ff3200 100.5px,#fc0000 121.5px,#d70000 135.5px,#c00 168.5px,#d20000 191.5px,#ff0300 207.5px,#ff5200 221.5px,#fffe00 244.5px,#8f7 262.5px,#64ff9b 272.5px,#6eff91 275.5px,#9f6 278.5px,#caff35 280.5px,#ebff14 281.5px,#fff200 282.5px,#ffd700 283.5px,#ffca00 284.5px,#ffd200 285.5px,#f5ff0a 287.5px,#b7ff48 289.5px,#80ff7f 292.5px,#4dffb2 299.5px,#3effc1 302.5px)"></i>
<i style="top:30px;height:1px;background:linear-gradient(90deg,#19ffe6 0.5px,#50ffaf 12.5px,#feff01 40.5px,#ffa400 61.5px,#ff2f00 100.5px,#fa0000 121.5px,#d50000 135.5px,#ca0000 168.5px,#d00000 191.5px,#ff0500 208.5px,#ff4f00 221.5px,#fcff03 245.5px,#8aff75 262.5px,#64ff9b 272.5px,#6dff92 275.5px,#98ff67 278.5px,#c8ff37 280.5px,#e9ff16 281.5px,#fff400 282.5px,#ffd900 283.5px,#ffcd00 284.5px,#ffd400 285.5px,#ffeb00 286.5px,#f3ff0c 287.5px,#b5ff4a 289.5px,#7fff80 292.5px,#46ffb9 300.5px,#3dffc2 302.5px)"></i>
<i style="top:31px;height:1px;background:linear-gradient(90deg,#1affe5 0.5px,#51ffae 12.5px,#fffd00 40.5px,#ffa500 60.5px,#ff2c00 100.5px,#fa0000 120.5px,#d30000 135.5px,#c80000 168.5px,#ce0000 191.5px,#ff0300 208.5px,#f40 220.5px,#ff0 245.5px,#8bff74 262.5px,#63ff9c 272.5px,#6bff94 275.5px,#96ff69 278.5px,#c6ff39 280.5px,#fff600 282.5px,#ffdc00 283.5px,#ffd000 284.5px,#ffd600 285.5px,#ffed00 286.5px,#f1ff0e 287.5px,#b3ff4c 289.5px,#7eff81 292.5px,#4fb 300.5px,#3bffc4 302.5px)"></i>
<i style="top:32px;height:1px;background:linear-gradient(90deg,#1bffe4 0.5px,#52ffad 12.5px,#ff0 39.5px,#ffa200 60.5px,#ff2900 100.5px,#fb0000 119.5px,#d10000 135.5px,#c60000 168.5px,#c00 191.5px,#ff0500 209.5px,#ff4100 220.5px,#faff05 246.5px,#87ff78 263.5px,#61ff9e 273.5px,#75ff8a 276.5px,#a9ff56 279.5px,#fff900 282.5px,#ffdf00 283.5px,#ffd300 284.5px,#ffda00 285.5px,#fff000 286.5px,#ef1 287.5px,#b2ff4d 289.5px,#7cff83 292.5px,#43ffbc 300.5px,#39ffc6 302.5px)"></i>
<i style="top:33px;height:1px;background:linear-gradient(90deg,#1cffe3 0.5px,#54ffab 12.5px,#fffc00 39.5px,#ffa000 60.5px,#ff2600 100.5px,#fb0000 118.5px,#cf0000 135.5px,#c40000 168.5px,#ca0000 191.5px,#ff0300 209.5px,#ff3e00 220.5px,#fdff02 246.5px,#82ff7d 264.5px,#60ff9f 273.5px,#74ff8b 276.5px,#a7ff58 279.5px,#fffd00 282.5px,#ffe300 283.5px,#ffd700 284.5px,#ffde00 285.5px,#fff400 286.5px,#ebff14 287.5px,#afff50 289.5px,#7bff84 292.5px,#41ffbe 300.5px,#38ffc7 302.5px)"></i>
<i style="top:34px;height:1px;background:linear-gradient(90deg,#1dffe2 0.5px,#5fa 12.5px,#ff0 38.5px,#ff9e00 60.5px,#ff2300 100.5px,#fc0000 117.5px,#cd0000 135.5px,#c20000 168.5px,#c80000 191.5px,#ff0600 210.5px,#ff3a00 220.5px,#fffe00 246.5px,#7eff81 265.5px,#60ff9f 273.5px,#72ff8d 276.5px,#a5ff5a 279.5px,#fdff02 282.5px,#ffe700 283.5px,#ffdc00 284.5px,#ffe200 285.5px,#fff800 286.5px,#97ff68 290.5px,#6fff90 293.5px,#36ffc9 302.5px)"></i>
<i style="top:35px;height:1px;background:linear-gradient(90deg,#1fffe0 0.5px,#57ffa8 12.5px,#fffc00 38.5px,#ff9b00 60.5px,#ff2300 99.5px,#f90000 117.5px,#cb0000 135.5px,#c00000 169.5px,#c50000 191.5px,#ff0300 210.5px,#ff3800 220.5px,#fcff03 247.5px,#80ff7f 265.5px,#5fffa0 273.5px,#71ff8e 276.5px,#a2ff5d 279.5px,#f8ff07 282.5px,#ffe200 284.5px,#ffe800 285.5px,#fffe00 286.5px,#af5 289.5px,#7f8 292.5px,#39ffc6 301.5px,#35ffca 302.5px)"></i>
<i style="top:36px;height:1px;background:linear-gradient(90deg,#20ffdf 0.5px,#59ffa6 12.5px,#feff01 37.5px,#ff9c00 59.5px,#ff2100 99.5px,#fa0000 116.5px,#c90000 135.5px,#be0000 171.5px,#c30000 191.5px,#ff0500 211.5px,#ff3500 220.5px,#ff0 247.5px,#7cff83 266.5px,#5fffa0 273.5px,#70ff8f 276.5px,#9fff60 279.5px,#f2ff0d 282.5px,#fff400 283.5px,#ffe900 284.5px,#faff05 286.5px,#a6ff59 289.5px,#75ff8a 292.5px,#37ffc8 301.5px,#3fc 302.5px)"></i>
<i style="top:37px;height:1px;background:linear-gradient(90deg,#21ffde 0.5px,#5bffa4 12.5px,#fffd00 37.5px,#ff9d00 58.5px,#ff1e00 99.5px,#fb0000 115.5px,#c80000 135.5px,#bc0000 173.5px,#c10000 191.5px,#fa0000 209.5px,#ff1e00 217.5px,#fbff04 248.5px,#79ff86 267.5px,#5fffa0 273.5px,#6eff91 276.5px,#9cff63 279.5px,#ebff14 282.5px,#fffb00 283.5px,#fff100 284.5px,#fff700 285.5px,#f3ff0c 286.5px,#a2ff5d 289.5px,#73ff8c 292.5px,#32ffcd 302.5px)"></i>
<i style="top:38px;height:1px;background:linear-gradient(90deg,#2fd 0.5px,#5dffa2 12.5px,#fffb00 37.5px,#ff9b00 58.5px,#ff1c00 99.5px,#f90000 115.5px,#c60000 135.5px,#ba0000 175.5px,#c10000 192.5px,#fb0000 210.5px,#ff2900 219.5px,#ff0 248.5px,#7aff85 267.5px,#5fffa0 273.5px,#6dff92 276.5px,#98ff67 279.5px,#faff05 283.5px,#fffa00 284.5px,#feff01 285.5px,#d1ff2e 287.5px,#8bff74 290.5px,#60ff9f 294.5px,#31ffce 302.5px)"></i>
<i style="top:39px;height:1px;background:linear-gradient(90deg,#24ffdb 0.5px,#5effa1 12.5px,#ff0 36.5px,#ff9c00 57.5px,#ff1c00 98.5px,#fa0000 114.5px,#c50000 135.5px,#b80000 177.5px,#bf0000 192.5px,#f50000 209.5px,#ff0b00 214.5px,#ff4a00 224.5px,#fbff04 249.5px,#7bff84 267.5px,#5fffa0 273.5px,#6cff93 276.5px,#95ff6a 279.5px,#f2ff0d 283.5px,#fbff04 284.5px,#f6ff09 285.5px,#87ff78 290.5px,#5effa1 294.5px,#2fffd0 302.5px)"></i>
<i style="top:40px;height:1px;background:linear-gradient(90deg,#25ffda 0.5px,#60ff9f 12.5px,#fffd00 36.5px,#ff9a00 57.5px,#ff1c00 97.5px,#fb0000 113.5px,#c40000 135.5px,#b50000 178.5px,#bc0000 192.5px,#eb0000 207.5px,#ff0500 213.5px,#ff3900 222.5px,#feff01 249.5px,#7cff83 267.5px,#5fffa0 273.5px,#6bff94 276.5px,#91ff6e 279.5px,#e9ff16 283.5px,#f2ff0d 284.5px,#edff12 285.5px,#84ff7b 290.5px,#5cffa3 294.5px,#2effd1 302.5px)"></i>
<i style="top:41px;height:1px;background:linear-gradient(90deg,#26ffd9 0.5px,#62ff9d 12.5px,#fdff02 35.5px,#ff9700 57.5px,#ff1c00 96.5px,#fb0000 112.5px,#c20000 135.5px,#b30000 180.5px,#bc0000 193.5px,#ec0000 208.5px,#ff0700 214.5px,#ff4500 224.5px,#faff05 250.5px,#78ff87 268.5px,#5fffa0 274.5px,#73ff8c 277.5px,#a0ff5f 280.5px,#e1ff1e 283.5px,#e9ff16 284.5px,#e4ff1b 285.5px,#80ff7f 290.5px,#54ffab 295.5px,#2dffd2 302.5px)"></i>
<i style="top:42px;height:1px;background:linear-gradient(90deg,#27ffd8 0.5px,#64ff9b 12.5px,#ff0 35.5px,#ff9d00 55.5px,#ff2000 93.5px,#fb0000 111.5px,#c10000 135.5px,#b10000 182.5px,#bc0000 194.5px,#f20000 210.5px,#ff0400 214.5px,#ff4900 225.5px,#fdff02 250.5px,#79ff86 268.5px,#5fffa0 274.5px,#71ff8e 277.5px,#9bff64 280.5px,#d8ff27 283.5px,#dfff20 284.5px,#dbff24 285.5px,#7dff82 290.5px,#52ffad 295.5px,#2cffd3 302.5px)"></i>
<i style="top:43px;height:1px;background:linear-gradient(90deg,#28ffd7 0.5px,#6f9 12.5px,#fffd00 35.5px,#ff9a00 55.5px,#ff2400 91.5px,#fb0000 110.5px,#bf0000 135.5px,#af0000 183.5px,#b00 195.5px,#f80000 212.5px,#ff1000 217.5px,#fffd00 250.5px,#7aff85 268.5px,#5fffa0 274.5px,#79ff86 278.5px,#af5 281.5px,#cfff30 283.5px,#d6ff29 284.5px,#d1ff2e 285.5px,#79ff86 290.5px,#4bffb4 296.5px,#2affd5 302.5px)"></i>
<i style="top:44px;height:1px;background:linear-gradient(90deg,#2affd5 0.5px,#68ff97 12.5px,#fdff02 34.5px,#ff9400 56.5px,#ff2100 91.5px,#fb0000 109.5px,#be0000 135.5px,#ad0000 184.5px,#bd0000 197.5px,#ff0400 215.5px,#ff9800 237.5px,#fdff02 251.5px,#7cff83 268.5px,#5effa1 274.5px,#7f8 278.5px,#a4ff5b 281.5px,#c6ff39 283.5px,#cf3 284.5px,#baff45 286.5px,#76ff89 290.5px,#3dffc2 298.5px,#29ffd6 302.5px)"></i>
<i style="top:45px;height:1px;background:linear-gradient(90deg,#2bffd4 0.5px,#6aff95 12.5px,#fffe00 34.5px,#ff9a00 54.5px,#ff2d00 86.5px,#f00 106.5px,#bd0000 135.5px,#ab0000 184.5px,#ba0000 197.5px,#ff0200 215.5px,#ff9c00 238.5px,#fffe00 251.5px,#76ff89 269.5px,#5effa1 274.5px,#74ff8b 278.5px,#bdff42 283.5px,#c3ff3c 284.5px,#b2ff4d 286.5px,#72ff8d 290.5px,#31ffce 300.5px,#28ffd7 302.5px)"></i>
<i style="top:46px;height:1px;background:linear-gradient(90deg,#2cffd3 0.5px,#6cff93 12.5px,#fcff03 33.5px,#ff8f00 56.5px,#ff2800 87.5px,#f00 105.5px,#c30000 130.5px,#a90000 171.5px,#ae0000 192.5px,#cb0000 203.5px,#ff0400 216.5px,#ffc500 244.5px,#fcff03 252.5px,#7f8 269.5px,#5effa1 274.5px,#71ff8e 278.5px,#b4ff4b 283.5px,#b6ff49 285.5px,#6fff90 290.5px,#2affd5 301.5px,#27ffd8 302.5px)"></i>
<i style="top:47px;height:1px;background:linear-gradient(90deg,#2dffd2 0.5px,#6eff91 12.5px,#ff0 33.5px,#ff9500 54.5px,#ff2e00 84.5px,#f00 104.5px,#ca0000 127.5px,#b70000 139.5px,#a70000 184.5px,#b70000 198.5px,#ff0200 216.5px,#ffba00 243.5px,#fffe00 252.5px,#78ff87 269.5px,#5effa1 274.5px,#6fff90 278.5px,#abff54 283.5px,#acff53 285.5px,#6bff94 290.5px,#26ffd9 302.5px)"></i>
<i style="top:48px;height:1px;background:linear-gradient(90deg,#2fffd0 0.5px,#70ff8f 12.5px,#fbff04 32.5px,#ff8b00 56.5px,#ff2b00 84.5px,#fe0000 103.5px,#cb0000 126.5px,#b70000 137.5px,#a50000 182.5px,#b00000 196.5px,#ed0000 212.5px,#ff0400 217.5px,#ffbe00 244.5px,#fcff03 253.5px,#79ff86 269.5px,#5effa1 274.5px,#6cff93 278.5px,#a2ff5d 283.5px,#a3ff5c 285.5px,#60ff9f 291.5px,#24ffdb 302.5px)"></i>
<i style="top:49px;height:1px;background:linear-gradient(90deg,#30ffcf 0.5px,#72ff8d 12.5px,#feff01 32.5px,#ff9100 54.5px,#ff2e00 82.5px,#ff0100 101.5px,#d10000 123.5px,#b60000 136.5px,#a30000 182.5px,#af0000 197.5px,#ff0200 217.5px,#ffb300 243.5px,#ff0 253.5px,#7aff85 269.5px,#5dffa2 274.5px,#69ff96 278.5px,#9eff61 284.5px,#92ff6d 286.5px,#5dffa2 291.5px,#23ffdc 302.5px)"></i>
<i style="top:50px;height:1px;background:linear-gradient(90deg,#31ffce 0.5px,#74ff8b 12.5px,#fbff04 31.5px,#ff8600 56.5px,#ff2900 83.5px,#fe0000 101.5px,#d00000 123.5px,#b50000 136.5px,#a10000 181.5px,#ab0000 196.5px,#de0000 210.5px,#ff0500 218.5px,#ffb700 244.5px,#fbff04 254.5px,#7bff84 269.5px,#5dffa2 274.5px,#67ff98 278.5px,#95ff6a 284.5px,#7eff81 287.5px,#5affa5 291.5px,#2fd 302.5px)"></i>
<i style="top:51px;height:1px;background:linear-gradient(90deg,#32ffcd 0.5px,#76ff89 12.5px,#fdff02 31.5px,#f80 55.5px,#ff2900 82.5px,#fd0000 100.5px,#d10000 122.5px,#b40000 136.5px,#9f0000 181.5px,#a00 197.5px,#e00 214.5px,#ff0300 218.5px,#ffac00 243.5px,#feff01 254.5px,#7cff83 269.5px,#5dffa2 274.5px,#69ff96 279.5px,#8cff73 284.5px,#78ff87 287.5px,#52ffad 292.5px,#21ffde 302.5px)"></i>
<i style="top:52px;height:1px;background:linear-gradient(90deg,#34ffcb 0.5px,#78ff87 12.5px,#faff05 30.5px,#ff7d00 57.5px,#ff2700 82.5px,#fd0000 99.5px,#cf0000 122.5px,#b20000 136.5px,#9d0000 181.5px,#a80000 197.5px,#e30000 212.5px,#f00 218.5px,#ffa100 242.5px,#fffd00 254.5px,#75ff8a 270.5px,#5bffa4 275.5px,#6cff93 280.5px,#84ff7b 284.5px,#68ff97 288.5px,#1fffe0 302.5px)"></i>
<i style="top:53px;height:1px;background:linear-gradient(90deg,#35ffca 0.5px,#79ff86 12.5px,#fcff03 30.5px,#ff8300 55.5px,#ff2800 81.5px,#fd0000 98.5px,#d00000 121.5px,#b00000 136.5px,#9b0000 181.5px,#a60000 197.5px,#e00000 212.5px,#ff0300 219.5px,#ff9e00 242.5px,#faff05 255.5px,#76ff89 270.5px,#5affa5 275.5px,#68ff97 280.5px,#7cff83 284.5px,#43ffbc 294.5px,#1dffe2 302.5px)"></i>
<i style="top:54px;height:1px;background:linear-gradient(90deg,#36ffc9 0.5px,#74ff8b 11.5px,#feff01 30.5px,#ff8500 54.5px,#ff2600 81.5px,#fc0000 98.5px,#ce0000 121.5px,#af0000 136.5px,#9a0000 181.5px,#a60000 198.5px,#e60000 214.5px,#ff0600 220.5px,#ff9a00 242.5px,#fbff04 255.5px,#76ff89 270.5px,#59ffa6 275.5px,#69ff96 281.5px,#75ff8a 284.5px,#36ffc9 296.5px,#1bffe4 302.5px)"></i>
<i style="top:55px;height:1px;background:linear-gradient(90deg,#37ffc8 0.5px,#76ff89 11.5px,#fffe00 30.5px,#ff8700 53.5px,#ff2400 81.5px,#fc0000 97.5px,#cf0000 120.5px,#ae0000 135.5px,#900 181.5px,#a50000 198.5px,#e20000 214.5px,#ff0200 220.5px,#ff8e00 241.5px,#fcff03 255.5px,#6eff91 271.5px,#58ffa7 275.5px,#64ff9b 281.5px,#6cff93 285.5px,#3cffc3 294.5px,#19ffe6 302.5px)"></i>
<i style="top:56px;height:1px;background:linear-gradient(90deg,#38ffc7 0.5px,#78ff87 11.5px,#fcff03 29.5px,#ff8000 54.5px,#ff2300 81.5px,#fb0000 97.5px,#ce0000 120.5px,#ac0000 135.5px,#980000 182.5px,#a60000 199.5px,#e30000 215.5px,#ff0400 221.5px,#ff8b00 241.5px,#fdff02 255.5px,#6f9 272.5px,#56ffa9 276.5px,#67ff98 284.5px,#17ffe8 302.5px)"></i>
<i style="top:57px;height:1px;background:linear-gradient(90deg,#3affc5 0.5px,#79ff86 11.5px,#feff01 29.5px,#ff8200 53.5px,#ff2300 80.5px,#fc0000 96.5px,#c00 120.5px,#a00 135.5px,#970000 182.5px,#a40000 199.5px,#df0000 215.5px,#ff0100 221.5px,#ff8700 241.5px,#feff01 255.5px,#5fffa0 273.5px,#5fa 278.5px,#5effa1 285.5px,#1cffe3 300.5px,#15ffea 302.5px)"></i>
<i style="top:58px;height:1px;background:linear-gradient(90deg,#3bffc4 0.5px,#7bff84 11.5px,#fffe00 29.5px,#ff8400 52.5px,#f20 80.5px,#fa0000 96.5px,#cb0000 120.5px,#a90000 135.5px,#960000 183.5px,#a50000 200.5px,#e00000 216.5px,#ff0300 222.5px,#ff8300 241.5px,#ff0 255.5px,#5effa1 273.5px,#53ffac 278.5px,#58ffa7 285.5px,#13ffec 302.5px)"></i>
<i style="top:59px;height:1px;background:linear-gradient(90deg,#3cffc3 0.5px,#7dff82 11.5px,#fcff03 28.5px,#ff7e00 53.5px,#ff2000 80.5px,#fb0000 95.5px,#c90000 120.5px,#a70000 135.5px,#950000 184.5px,#a60000 201.5px,#e10000 217.5px,#ff0500 223.5px,#f70 240.5px,#fffe00 255.5px,#58ffa7 274.5px,#52ffad 281.5px,#4dffb2 286.5px,#1fe 302.5px)"></i>
<i style="top:60px;height:1px;background:linear-gradient(90deg,#3dffc2 0.5px,#7fff80 11.5px,#fdff02 28.5px,#ff8000 52.5px,#ff1f00 80.5px,#fa0000 95.5px,#c80000 120.5px,#a50000 135.5px,#940000 184.5px,#a50000 201.5px,#d00 217.5px,#ff0200 223.5px,#ff7400 240.5px,#ffe000 252.5px,#fffe00 255.5px,#57ffa8 274.5px,#4effb1 281.5px,#48ffb7 286.5px,#0ffff0 302.5px)"></i>
<i style="top:61px;height:1px;background:linear-gradient(90deg,#3fffc0 0.5px,#81ff7e 11.5px,#ff0 28.5px,#ff8600 50.5px,#ff2000 79.5px,#fb0000 94.5px,#c60000 120.5px,#a40000 135.5px,#930000 185.5px,#a30000 201.5px,#d90000 217.5px,#ff0400 224.5px,#ff7000 240.5px,#ffd400 251.5px,#fffd00 255.5px,#56ffa9 274.5px,#4affb5 282.5px,#31ffce 290.5px,#0dfff2 302.5px)"></i>
<i style="top:62px;height:1px;background:linear-gradient(90deg,#40ffbf 0.5px,#83ff7c 11.5px,#faff05 27.5px,#ff7b00 52.5px,#ff1c00 80.5px,#f90000 94.5px,#c50000 120.5px,#a20000 135.5px,#920000 186.5px,#a30000 202.5px,#d50000 217.5px,#f00 224.5px,#ff6c00 240.5px,#ffc800 250.5px,#fffc00 255.5px,#56ffa9 274.5px,#34ffcb 288.5px,#0bfff4 302.5px)"></i>
<i style="top:63px;height:1px;background:linear-gradient(90deg,#41ffbe 0.5px,#85ff7a 11.5px,#fcff03 27.5px,#ff7d00 51.5px,#ff1a00 80.5px,#fa0000 93.5px,#c30000 120.5px,#a00000 135.5px,#910000 187.5px,#a40000 203.5px,#d60000 218.5px,#ff0200 225.5px,#ff6800 240.5px,#ffc600 250.5px,#fffb00 255.5px,#5fa 274.5px,#09fff6 302.5px)"></i>
<i style="top:64px;height:1px;background:linear-gradient(90deg,#42ffbd 0.5px,#87ff78 11.5px,#feff01 27.5px,#ff8300 49.5px,#f20 76.5px,#f90000 93.5px,#c20000 120.5px,#9f0000 135.5px,#900000 187.5px,#a40000 204.5px,#d20000 218.5px,#ff0400 226.5px,#ff6400 240.5px,#ffb800 249.5px,#fffa00 255.5px,#4fffb0 275.5px,#07fff8 302.5px)"></i>
<i style="top:65px;height:1px;background:linear-gradient(90deg,#4fb 0.5px,#8f7 11.5px,#f9ff06 26.5px,#ffd800 33.5px,#ff7400 52.5px,#ff1700 80.5px,#fa0000 92.5px,#c00000 120.5px,#9d0000 135.5px,#8f0000 188.5px,#a60000 206.5px,#ce0000 218.5px,#f00 226.5px,#ff6000 240.5px,#ffb600 249.5px,#fbff04 256.5px,#4effb1 275.5px,#07fff8 301.5px,#05fffa 302.5px)"></i>
<i style="top:66px;height:1px;background:linear-gradient(90deg,#45ffba 0.5px,#8aff75 11.5px,#f4ff0b 25.5px,#fff600 28.5px,#ff8300 48.5px,#ff2700 73.5px,#fb0000 91.5px,#bf0000 120.5px,#9b0000 135.5px,#8e0000 189.5px,#a80000 208.5px,#d00000 219.5px,#ff0200 227.5px,#ff5d00 240.5px,#ffa800 248.5px,#fbff04 256.5px,#4dffb2 275.5px,#0efff1 296.5px,#03fffc 302.5px)"></i>
<i style="top:67px;height:1px;background:linear-gradient(90deg,#46ffb9 0.5px,#8cff73 11.5px,#f0ff0f 24.5px,#fffa00 27.5px,#ff8600 47.5px,#ff3600 68.5px,#fe0000 89.5px,#bd0000 120.5px,#9a0000 135.5px,#8d0000 189.5px,#a50000 208.5px,#c00 219.5px,#ff0400 228.5px,#ff6100 241.5px,#ffb100 249.5px,#fcff03 256.5px,#4cffb3 275.5px,#15ffea 291.5px,#01fffe 302.5px)"></i>
<i style="top:68px;height:1px;background:linear-gradient(90deg,#47ffb8 0.5px,#8eff71 11.5px,#f2ff0d 24.5px,#fff800 27.5px,#ff8300 47.5px,#ff3400 68.5px,#f00 88.5px,#b00 120.5px,#980000 135.5px,#8c0000 190.5px,#a70000 210.5px,#c80000 219.5px,#f00 228.5px,#f50 240.5px,#ffa200 248.5px,#fdff02 256.5px,#6eff91 271.5px,#45ffba 276.5px,#16ffe9 289.5px,#00feff 302.5px)"></i>
<i style="top:69px;height:1px;background:linear-gradient(90deg,#49ffb6 0.5px,#90ff6f 11.5px,#ef1 23.5px,#fff600 27.5px,#ff8100 47.5px,#ff3500 67.5px,#ff0100 87.5px,#ba0000 120.5px,#960000 135.5px,#8b0000 190.5px,#a50000 210.5px,#c40000 219.5px,#ff0300 229.5px,#ff5a00 241.5px,#ffa000 248.5px,#feff01 256.5px,#79ff86 270.5px,#4fb 276.5px,#18ffe7 287.5px,#00fdff 302.5px)"></i>
<i style="top:70px;height:1px;background:linear-gradient(90deg,#4bffb4 0.5px,#93ff6c 11.5px,#f0ff0f 23.5px,#fffa00 26.5px,#ff8300 46.5px,#ff3d00 64.5px,#ff0400 85.5px,#b00 119.5px,#950000 134.5px,#8a0000 190.5px,#a20000 210.5px,#c10000 219.5px,#ff0100 229.5px,#ff5800 241.5px,#ff9d00 248.5px,#fffe00 256.5px,#85ff7a 269.5px,#4bffb4 275.5px,#18ffe7 286.5px,#00fdff 300.5px,#00fbff 302.5px)"></i>
<i style="top:71px;height:1px;background:linear-gradient(90deg,#4dffb2 0.5px,#9eff61 12.5px,#faff05 24.5px,#ffab00 38.5px,#ff5100 57.5px,#ff0800 82.5px,#f20000 92.5px,#b40000 121.5px,#940000 135.5px,#8a0000 191.5px,#a30000 211.5px,#c00000 219.5px,#ff0500 230.5px,#ff5600 241.5px,#ff9b00 248.5px,#fffc00 256.5px,#9dff62 267.5px,#4bffb4 275.5px,#19ffe6 285.5px,#00fdff 298.5px,#00f9ff 302.5px)"></i>
<i style="top:72px;height:1px;background:linear-gradient(90deg,#4fffb0 0.5px,#a1ff5e 12.5px,#fdff02 24.5px,#ff8200 45.5px,#ff3b00 63.5px,#ff0200 84.5px,#b20000 121.5px,#930000 135.5px,#800 191.5px,#a00000 210.5px,#bf0000 219.5px,#ff0400 230.5px,#ff5400 241.5px,#f90 248.5px,#fff900 256.5px,#c7ff38 263.5px,#4dffb2 275.5px,#18ffe7 285.5px,#00fcff 298.5px,#00f7ff 302.5px)"></i>
<i style="top:73px;height:1px;background:linear-gradient(90deg,#51ffae 0.5px,#a5ff5a 12.5px,#fffe00 24.5px,#ff8a00 43.5px,#ff3e00 61.5px,#ff0200 83.5px,#ad0000 122.5px,#920000 135.5px,#870000 191.5px,#9f0000 210.5px,#be0000 219.5px,#ff0300 230.5px,#ff5200 241.5px,#ff9700 248.5px,#feff01 257.5px,#96ff69 268.5px,#4effb1 275.5px,#17ffe8 285.5px,#00fcff 297.5px,#00f6ff 302.5px)"></i>
<i style="top:74px;height:1px;background:linear-gradient(90deg,#54ffab 0.5px,#b0ff4f 13.5px,#fcff03 23.5px,#ff8100 44.5px,#ff3800 62.5px,#f00 83.5px,#a10000 126.5px,#900000 137.5px,#870000 192.5px,#9e0000 210.5px,#bd0000 219.5px,#ff0200 230.5px,#ff5100 241.5px,#ff9500 248.5px,#fffd00 257.5px,#a4ff5b 267.5px,#50ffaf 275.5px,#17ffe8 285.5px,#00fbff 297.5px,#00f4ff 302.5px)"></i>
<i style="top:75px;height:1px;background:linear-gradient(90deg,#56ffa9 0.5px,#bcff43 14.5px,#fffe00 23.5px,#f80 42.5px,#ff3900 61.5px,#f00 82.5px,#9b0000 128.5px,#8d0000 141.5px,#860000 193.5px,#9f0000 211.5px,#bc0000 219.5px,#ff0200 230.5px,#ff4f00 241.5px,#ff9300 248.5px,#fffa00 257.5px,#b2ff4d 266.5px,#51ffae 275.5px,#17ffe8 285.5px,#00fcff 296.5px,#00f2ff 302.5px)"></i>
<i style="top:76px;height:1px;background:linear-gradient(90deg,#59ffa6 0.5px,#c7ff38 15.5px,#fffb00 23.5px,#ff8a00 41.5px,#ff3900 60.5px,#fe0000 81.5px,#8e0000 135.5px,#840000 192.5px,#900 209.5px,#bc0000 219.5px,#ff0100 230.5px,#ff4e00 241.5px,#ff9100 248.5px,#fff700 257.5px,#f5ff0a 259.5px,#9eff61 268.5px,#53ffac 275.5px,#17ffe8 285.5px,#00fbff 296.5px,#00f1ff 302.5px)"></i>
<i style="top:77px;height:1px;background:linear-gradient(90deg,#5bffa4 0.5px,#d3ff2c 16.5px,#ff0 22.5px,#ff8700 41.5px,#ff3600 60.5px,#fe0000 80.5px,#8d0000 135.5px,#830000 192.5px,#980000 209.5px,#b00 219.5px,#f00 230.5px,#ff4c00 241.5px,#ff8f00 248.5px,#fff400 257.5px,#f8ff07 259.5px,#a0ff5f 268.5px,#54ffab 275.5px,#17ffe8 285.5px,#00faff 296.5px,#00efff 302.5px)"></i>
<i style="top:78px;height:1px;background:linear-gradient(90deg,#5effa1 0.5px,#fffc00 22.5px,#ff8400 41.5px,#f30 60.5px,#fe0000 79.5px,#8c0000 135.5px,#820000 192.5px,#950000 208.5px,#ba0000 219.5px,#ff0500 231.5px,#ff5300 242.5px,#ff9800 249.5px,#fffa00 258.5px,#baff45 266.5px,#56ffa9 275.5px,#17ffe8 285.5px,#00fbff 295.5px,#0ef 302.5px)"></i>
<i style="top:79px;height:1px;background:linear-gradient(90deg,#60ff9f 0.5px,#feff01 21.5px,#ff8500 40.5px,#ff3100 60.5px,#fe0000 78.5px,#8b0000 135.5px,#810000 192.5px,#930000 208.5px,#b90000 219.5px,#ff0400 231.5px,#ff5200 242.5px,#ff9600 249.5px,#fff700 258.5px,#f6ff09 260.5px,#a5ff5a 268.5px,#50ffaf 276.5px,#16ffe9 285.5px,#00faff 295.5px,#00ecff 302.5px)"></i>
<i style="top:80px;height:1px;background:linear-gradient(90deg,#63ff9c 0.5px,#fffd00 21.5px,#ff8200 40.5px,#ff2e00 60.5px,#fb0000 78.5px,#8a0000 135.5px,#800000 193.5px,#950000 209.5px,#b90000 219.5px,#ff0300 231.5px,#ff5000 242.5px,#ff9400 249.5px,#fff400 258.5px,#f8ff07 260.5px,#a8ff57 268.5px,#51ffae 276.5px,#16ffe9 285.5px,#00f9ff 295.5px,#00eaff 302.5px)"></i>
<i style="top:81px;height:1px;background:linear-gradient(90deg,#65ff9a 0.5px,#fdff02 20.5px,#ff7f00 40.5px,#ff2b00 60.5px,#fb0000 77.5px,#890000 135.5px,#800000 196.5px,#9d0000 212.5px,#be0000 220.5px,#ff0300 231.5px,#ff4f00 242.5px,#ff9200 249.5px,#fff100 258.5px,#f3ff0c 261.5px,#9eff61 269.5px,#52ffad 276.5px,#16ffe9 285.5px,#00fbff 294.5px,#00e9ff 302.5px)"></i>
<i style="top:82px;height:1px;background:linear-gradient(90deg,#68ff97 0.5px,#fffe00 20.5px,#ff8000 39.5px,#ff2800 60.5px,#fb0000 76.5px,#800 135.5px,#800000 198.5px,#a20000 214.5px,#ca0000 222.5px,#ff0200 231.5px,#ff4d00 242.5px,#ff9b00 250.5px,#fff700 259.5px,#f6ff09 261.5px,#adff52 268.5px,#54ffab 276.5px,#16ffe9 285.5px,#00faff 294.5px,#00e7ff 302.5px)"></i>
<i style="top:83px;height:1px;background:linear-gradient(90deg,#6aff95 0.5px,#fffb00 20.5px,#ff7d00 39.5px,#ff2500 60.5px,#fb0000 75.5px,#870000 135.5px,#800000 199.5px,#a40000 215.5px,#ff0100 231.5px,#ff4b00 242.5px,#f90 250.5px,#fff400 259.5px,#f9ff06 261.5px,#afff50 268.5px,#5fa 276.5px,#16ffe9 285.5px,#00faff 294.5px,#00e6ff 302.5px)"></i>
<i style="top:84px;height:1px;background:linear-gradient(90deg,#6dff92 0.5px,#ff0 19.5px,#ff7e00 38.5px,#ff2300 60.5px,#fb0000 74.5px,#860000 134.5px,#800000 200.5px,#a40000 215.5px,#f00 231.5px,#ff4a00 242.5px,#ff9700 250.5px,#fffa00 260.5px,#d6ff29 265.5px,#5fffa0 275.5px,#1affe5 284.5px,#00fcff 293.5px,#00e4ff 302.5px)"></i>
<i style="top:85px;height:1px;background:linear-gradient(90deg,#6fff90 0.5px,#fffc00 19.5px,#ff7b00 38.5px,#ff2000 60.5px,#fb0000 73.5px,#860000 133.5px,#800000 201.5px,#a60000 216.5px,#ff0500 232.5px,#ff5800 244.5px,#fff700 260.5px,#f6ff09 262.5px,#9bff64 270.5px,#58ffa7 276.5px,#16ffe9 285.5px,#00f8ff 294.5px,#00e2ff 302.5px)"></i>
<i style="top:86px;height:1px;background:linear-gradient(90deg,#72ff8d 0.5px,#fdff02 18.5px,#ff7800 38.5px,#ff1d00 60.5px,#f90000 73.5px,#860000 132.5px,#800000 202.5px,#a00 217.5px,#fd0000 231.5px,#ff3f00 241.5px,#ff8700 249.5px,#fff400 260.5px,#f8ff07 262.5px,#af5 269.5px,#59ffa6 276.5px,#16ffe9 285.5px,#00faff 293.5px,#00e0ff 302.5px)"></i>
<i style="top:87px;height:1px;background:linear-gradient(90deg,#74ff8b 0.5px,#fffe00 18.5px,#ff7a00 37.5px,#ff1b00 60.5px,#f90000 72.5px,#870000 130.5px,#800000 174.5px,#850000 205.5px,#ae0000 218.5px,#ff0300 232.5px,#f50 244.5px,#fffa00 261.5px,#d2ff2d 266.5px,#5affa5 276.5px,#15ffea 285.5px,#00fcff 292.5px,#0df 302.5px)"></i>
<i style="top:88px;height:1px;background:linear-gradient(90deg,#7f8 0.5px,#fffc00 18.5px,#f70 37.5px,#ff1900 60.5px,#fa0000 71.5px,#8b0000 127.5px,#800000 147.5px,#840000 205.5px,#ad0000 218.5px,#ff0200 232.5px,#ff5400 244.5px,#fff800 261.5px,#eaff15 264.5px,#5cffa3 276.5px,#15ffea 285.5px,#00f9ff 292.5px,#00d9ff 302.5px)"></i>
<i style="top:89px;height:1px;background:linear-gradient(90deg,#7aff85 0.5px,#fdff02 17.5px,#ff7500 37.5px,#ff1700 60.5px,#fb0000 70.5px,#8c0000 125.5px,#800000 141.5px,#850000 206.5px,#b20000 219.5px,#ff0200 232.5px,#ff5300 244.5px,#ff0 262.5px,#a2ff5d 270.5px,#54ffab 277.5px,#14ffeb 285.5px,#00faff 291.5px,#00d4ff 302.5px)"></i>
<i style="top:90px;height:1px;background:linear-gradient(90deg,#7cff83 0.5px,#fffe00 17.5px,#ff7800 36.5px,#ff1800 59.5px,#f90000 70.5px,#8b0000 125.5px,#800000 139.5px,#840000 206.5px,#b20000 219.5px,#ff0100 232.5px,#ff5a00 245.5px,#fffe00 262.5px,#b0ff4f 269.5px,#5effa1 276.5px,#14ffeb 285.5px,#00fcff 290.5px,#00cfff 302.5px)"></i>
<i style="top:91px;height:1px;background:linear-gradient(90deg,#7fff80 0.5px,#fffc00 17.5px,#ff7600 36.5px,#ff1600 59.5px,#fa0000 69.5px,#8b0000 124.5px,#800000 138.5px,#850000 207.5px,#b10000 219.5px,#ff0100 232.5px,#ff5800 245.5px,#fffc00 262.5px,#beff41 268.5px,#5effa1 276.5px,#13ffec 285.5px,#00f9ff 290.5px,#00c9ff 302.5px)"></i>
<i style="top:92px;height:1px;background:linear-gradient(90deg,#82ff7d 0.5px,#fdff02 16.5px,#ff6d00 37.5px,#f10 60.5px,#f80000 69.5px,#8b0000 123.5px,#800000 136.5px,#840000 207.5px,#b00000 219.5px,#f00 232.5px,#ff5700 245.5px,#fffb00 262.5px,#cf3 267.5px,#5fffa0 276.5px,#12ffed 285.5px,#00fcff 289.5px,#00c4ff 302.5px)"></i>
<i style="top:93px;height:1px;background:linear-gradient(90deg,#85ff7a 0.5px,#ff0 16.5px,#ff7100 36.5px,#ff1500 58.5px,#f90000 68.5px,#8b0000 122.5px,#800000 136.5px,#830000 207.5px,#b00000 219.5px,#fe0000 232.5px,#ff5600 245.5px,#fbff04 263.5px,#60ff9f 276.5px,#12ffed 285.5px,#00f9ff 289.5px,#00beff 302.5px)"></i>
<i style="top:94px;height:1px;background:linear-gradient(90deg,#8f7 0.5px,#fffc00 16.5px,#ff6f00 36.5px,#ff1300 58.5px,#fa0000 67.5px,#910000 117.5px,#800000 133.5px,#840000 208.5px,#af0000 219.5px,#fe0000 232.5px,#ff4d00 244.5px,#fcff03 263.5px,#58ffa7 277.5px,#0bfff4 286.5px,#00f7ff 289.5px,#00b9ff 302.5px)"></i>
<i style="top:95px;height:1px;background:linear-gradient(90deg,#8bff74 0.5px,#fffa00 16.5px,#ff6c00 36.5px,#ff1500 57.5px,#f80000 67.5px,#930000 114.5px,#800000 132.5px,#830000 208.5px,#ae0000 219.5px,#fd0000 232.5px,#ff4c00 244.5px,#feff01 263.5px,#58ffa7 277.5px,#0afff5 286.5px,#0ef 290.5px,#00b3ff 302.5px)"></i>
<i style="top:96px;height:1px;background:linear-gradient(90deg,#8dff72 0.5px,#ff0 15.5px,#ff6a00 36.5px,#ff1300 57.5px,#f90000 66.5px,#a40000 104.5px,#800000 129.5px,#820000 208.5px,#ae0000 219.5px,#fd0000 232.5px,#f40 243.5px,#ffce00 258.5px,#ff0 263.5px,#59ffa6 277.5px,#01fffe 287.5px,#00b9ff 299.5px,#00adff 302.5px)"></i>
<i style="top:97px;height:1px;background:linear-gradient(90deg,#90ff6f 0.5px,#fffd00 15.5px,#ff6800 36.5px,#f10 57.5px,#fa0000 65.5px,#ac0000 99.5px,#800000 127.5px,#840000 209.5px,#b30000 220.5px,#ff0200 233.5px,#ff6200 247.5px,#fffd00 263.5px,#5affa5 277.5px,#0ff 287.5px,#00beff 297.5px,#00a8ff 302.5px)"></i>
<i style="top:98px;height:1px;background:linear-gradient(90deg,#93ff6c 0.5px,#fffb00 15.5px,#ff6500 36.5px,#ff1200 56.5px,#f80000 65.5px,#ac0000 98.5px,#800000 126.5px,#830000 209.5px,#b20000 220.5px,#ff0200 233.5px,#ff6100 247.5px,#fffc00 263.5px,#93ff6c 272.5px,#17ffe8 284.5px,#00fdff 287.5px,#00bfff 296.5px,#00a2ff 302.5px)"></i>
<i style="top:99px;height:1px;background:linear-gradient(90deg,#96ff69 0.5px,#feff01 14.5px,#ff6300 36.5px,#f10 56.5px,#f90000 64.5px,#ad0000 96.5px,#800000 125.5px,#820000 209.5px,#b20000 220.5px,#ff0100 233.5px,#ff6000 247.5px,#fffb00 263.5px,#bf4 269.5px,#52ffad 278.5px,#00fcff 287.5px,#00baff 296.5px,#009dff 302.5px)"></i>
<i style="top:100px;height:1px;background:linear-gradient(90deg,#9f6 0.5px,#fffe00 14.5px,#ff6700 35.5px,#ff1d00 52.5px,#fa0000 63.5px,#ae0000 94.5px,#800000 124.5px,#840000 210.5px,#b10000 220.5px,#ff0100 233.5px,#ff5e00 247.5px,#faff05 264.5px,#5cffa3 277.5px,#04fffb 286.5px,#00b0ff 297.5px,#0097ff 302.5px)"></i>
<i style="top:101px;height:1px;background:linear-gradient(90deg,#9cff63 0.5px,#fffb00 14.5px,#ff6500 35.5px,#ff1b00 52.5px,#fb0000 62.5px,#ae0000 93.5px,#800000 123.5px,#840000 210.5px,#b00000 220.5px,#f00 233.5px,#ff5d00 247.5px,#fbff04 264.5px,#5dffa2 277.5px,#03fffc 286.5px,#00b1ff 296.5px,#0092ff 302.5px)"></i>
<i style="top:102px;height:1px;background:linear-gradient(90deg,#9eff61 0.5px,#feff01 13.5px,#ff5c00 36.5px,#ff1200 54.5px,#fa0000 62.5px,#ac0000 93.5px,#800000 122.5px,#830000 210.5px,#b00000 220.5px,#f00 233.5px,#ff5c00 247.5px,#ffec00 262.5px,#fcff03 264.5px,#54ffab 278.5px,#02fffd 286.5px,#00b3ff 295.5px,#008cff 302.5px)"></i>
<i style="top:103px;height:1px;background:linear-gradient(90deg,#a1ff5e 0.5px,#fffe00 13.5px,#ff6000 35.5px,#ff1a00 51.5px,#fa0000 61.5px,#ab0000 92.5px,#800000 121.5px,#820000 210.5px,#af0000 220.5px,#fe0000 233.5px,#ff5b00 247.5px,#ffe000 261.5px,#feff01 264.5px,#54ffab 278.5px,#01fffe 286.5px,#00afff 295.5px,#0087ff 302.5px)"></i>
<i style="top:104px;height:1px;background:linear-gradient(90deg,#a4ff5b 0.5px,#fffc00 13.5px,#ff5e00 35.5px,#ff1800 51.5px,#fb0000 60.5px,#ab0000 91.5px,#800000 120.5px,#810000 210.5px,#ae0000 220.5px,#fd0000 233.5px,#ff5a00 247.5px,#ffd400 260.5px,#ff0 264.5px,#5fa 278.5px,#0ff 286.5px,#00abff 295.5px,#0083ff 302.5px)"></i>
<i style="top:105px;height:1px;background:linear-gradient(90deg,#a6ff59 0.5px,#fffa00 13.5px,#ff5c00 35.5px,#ff1600 51.5px,#fa0000 60.5px,#ac0000 90.5px,#800000 119.5px,#840000 211.5px,#b40000 221.5px,#fd0000 233.5px,#ff5900 247.5px,#ffc800 259.5px,#fffe00 264.5px,#4bffb4 279.5px,#0ff 286.5px,#00b0ff 294.5px,#0080ff 302.5px)"></i>
<i style="top:106px;height:1px;background:linear-gradient(90deg,#a8ff57 0.5px,#feff01 12.5px,#ff5a00 35.5px,#ff1400 51.5px,#fb0000 59.5px,#ae0000 88.5px,#800000 117.5px,#840000 211.5px,#b40000 221.5px,#fd0000 233.5px,#ff5000 246.5px,#ffbc00 258.5px,#fffd00 264.5px,#40ffbf 280.5px,#00feff 286.5px,#00aeff 294.5px,#007eff 302.5px)"></i>
<i style="top:107px;height:1px;background:linear-gradient(90deg,#af5 0.5px,#fffe00 12.5px,#ff5f00 34.5px,#ff1900 49.5px,#fc0000 58.5px,#af0000 87.5px,#800000 116.5px,#840000 211.5px,#b40000 221.5px,#ff0200 234.5px,#ff6900 249.5px,#ffd100 260.5px,#fffd00 264.5px,#2bffd4 282.5px,#00feff 286.5px,#00aeff 294.5px,#007eff 302.5px)"></i>
<i style="top:108px;height:1px;background:linear-gradient(90deg,#acff53 0.5px,#fffd00 12.5px,#ff5e00 34.5px,#ff1700 49.5px,#fa0000 58.5px,#b10000 85.5px,#800000 115.5px,#840000 211.5px,#b40000 221.5px,#ff0200 234.5px,#ff6800 249.5px,#ffc600 259.5px,#fffc00 264.5px,#15ffea 284.5px,#00feff 286.5px,#00aeff 294.5px,#007eff 302.5px)"></i>
<i style="top:109px;height:1px;background:linear-gradient(90deg,#aeff51 0.5px,#fffb00 12.5px,#ff6300 33.5px,#ff1900 48.5px,#fb0000 57.5px,#b20000 84.5px,#800000 115.5px,#840000 211.5px,#b40000 221.5px,#ff0200 234.5px,#ff6800 249.5px,#ffc500 259.5px,#fffc00 264.5px,#00feff 286.5px,#00aeff 294.5px,#007eff 302.5px)"></i>
<i style="top:110px;height:1px;background:linear-gradient(90deg,#afff50 0.5px,#fdff02 11.5px,#ff5b00 34.5px,#ff1000 50.5px,#f90000 57.5px,#b00000 84.5px,#800000 114.5px,#840000 211.5px,#b40000 221.5px,#ff0100 234.5px,#ff6800 249.5px,#ffc400 259.5px,#fffb00 264.5px,#00feff 286.5px,#00aeff 294.5px,#007eff 302.5px)"></i>
<i style="top:111px;height:1px;background:linear-gradient(90deg,#b1ff4e 0.5px,#ff0 11.5px,#ff6000 33.5px,#ff1200 49.5px,#fa0000 56.5px,#b00000 83.5px,#800000 113.5px,#840000 211.5px,#b40000 221.5px,#ff0100 234.5px,#ff6800 249.5px,#ffc400 259.5px,#fffa00 264.5px,#00feff 286.5px,#00aeff 294.5px,#007eff 302.5px)"></i>
<i style="top:112px;height:1px;background:linear-gradient(90deg,#b3ff4c 0.5px,#fffd00 11.5px,#ff6400 32.5px,#ff1400 48.5px,#f90000 56.5px,#b00000 82.5px,#800000 112.5px,#840000 211.5px,#b40000 221.5px,#f00 234.5px,#ff7000 250.5px,#ffce00 260.5px,#fffa00 264.5px,#c8ff37 269.5px,#00feff 286.5px,#00afff 294.5px,#007fff 302.5px)"></i>
<i style="top:113px;height:1px;background:linear-gradient(90deg,#b5ff4a 0.5px,#fffc00 11.5px,#ff6300 32.5px,#ff0e00 49.5px,#f70000 56.5px,#ae0000 82.5px,#800000 111.5px,#840000 211.5px,#b40000 221.5px,#f00 234.5px,#ff6f00 250.5px,#ffc300 259.5px,#f9ff06 265.5px,#00feff 286.5px,#00afff 294.5px,#007fff 302.5px)"></i>
<i style="top:114px;height:1px;background:linear-gradient(90deg,#b6ff49 0.5px,#fffa00 11.5px,#ff6100 32.5px,#ff0d00 49.5px,#f80000 55.5px,#af0000 81.5px,#800000 110.5px,#840000 211.5px,#b40000 221.5px,#fe0000 234.5px,#ff6700 249.5px,#ffc200 259.5px,#faff05 265.5px,#00feff 286.5px,#00afff 294.5px,#0080ff 302.5px)"></i>
<i style="top:115px;height:1px;background:linear-gradient(90deg,#b8ff47 0.5px,#feff01 10.5px,#ff6000 32.5px,#ff0b00 49.5px,#f70000 55.5px,#ad0000 81.5px,#800000 110.5px,#840000 211.5px,#b40000 221.5px,#fe0000 234.5px,#ff5f00 248.5px,#ffb700 258.5px,#fbff04 265.5px,#00feff 286.5px,#00b0ff 294.5px,#0080ff 302.5px)"></i>
<i style="top:116px;height:1px;background:linear-gradient(90deg,#baff45 0.5px,#fffe00 10.5px,#ff5e00 32.5px,#ff0900 49.5px,#f50000 55.5px,#ad0000 80.5px,#800000 109.5px,#840000 211.5px,#b40000 221.5px,#fd0000 234.5px,#ff4f00 246.5px,#ffac00 257.5px,#fbff04 265.5px,#00feff 286.5px,#00b0ff 294.5px,#0087ff 301.5px,#0081ff 302.5px)"></i>
<i style="top:117px;height:1px;background:linear-gradient(90deg,#bcff43 0.5px,#fffc00 10.5px,#ff8400 26.5px,#ff1d00 44.5px,#fd0000 52.5px,#ab0000 80.5px,#800000 108.5px,#840000 211.5px,#b40000 221.5px,#fd0000 234.5px,#ff4000 244.5px,#ffab00 257.5px,#fcff03 265.5px,#00feff 286.5px,#00b0ff 294.5px,#0091ff 300.5px,#0082ff 302.5px)"></i>
<i style="top:118px;height:1px;background:linear-gradient(90deg,#bdff42 0.5px,#fffb00 10.5px,#ff8b00 25.5px,#ff3f00 37.5px,#ff0200 50.5px,#a90000 80.5px,#800000 107.5px,#840000 211.5px,#b40000 221.5px,#fd0000 234.5px,#ff3900 243.5px,#fa0 257.5px,#fcff03 265.5px,#00feff 286.5px,#00b7ff 293.5px,#0092ff 300.5px,#0083ff 302.5px)"></i>
<i style="top:119px;height:1px;background:linear-gradient(90deg,#bfff40 0.5px,#feff01 9.5px,#ff9a00 23.5px,#ff5a00 32.5px,#ff0100 50.5px,#a90000 79.5px,#800000 106.5px,#840000 211.5px,#b40000 221.5px,#fc0000 234.5px,#ff3100 242.5px,#fa0 257.5px,#fdff02 265.5px,#00feff 286.5px,#00b7ff 293.5px,#009dff 299.5px,#0084ff 302.5px)"></i>
<i style="top:120px;height:1px;background:linear-gradient(90deg,#c1ff3e 0.5px,#fffe00 9.5px,#f90 23.5px,#ff5800 32.5px,#ff0200 49.5px,#a70000 79.5px,#800000 105.5px,#840000 211.5px,#b40000 221.5px,#f70000 233.5px,#ff0700 236.5px,#ff9f00 256.5px,#feff01 265.5px,#00feff 286.5px,#00b8ff 293.5px,#00a0ff 299.5px,#0085ff 302.5px)"></i>
<i style="top:121px;height:1px;background:linear-gradient(90deg,#c2ff3d 0.5px,#fffd00 9.5px,#ff9700 23.5px,#ff5700 32.5px,#ff0100 49.5px,#a50000 79.5px,#800000 105.5px,#840000 211.5px,#b40000 221.5px,#f70000 233.5px,#ff0600 236.5px,#ff9f00 256.5px,#feff01 265.5px,#00feff 286.5px,#00b8ff 293.5px,#00a2ff 299.5px,#0086ff 302.5px)"></i>
<i style="top:122px;height:1px;background:linear-gradient(90deg,#c4ff3b 0.5px,#fffb00 9.5px,#ff9600 23.5px,#ff5b00 31.5px,#fe0000 49.5px,#a30000 79.5px,#800000 104.5px,#840000 211.5px,#b40000 221.5px,#f70000 233.5px,#ff0600 236.5px,#ff9e00 256.5px,#ff0 265.5px,#00feff 286.5px,#00b8ff 293.5px,#00a6ff 299.5px,#08f 302.5px)"></i>
<i style="top:123px;height:1px;background:linear-gradient(90deg,#c5ff3a 0.5px,#fffa00 9.5px,#ff9e00 22.5px,#ff5a00 31.5px,#ff0200 48.5px,#a20000 79.5px,#800000 103.5px,#840000 211.5px,#b40000 221.5px,#f60000 233.5px,#ff0600 236.5px,#ff9e00 256.5px,#ff0 265.5px,#00feff 286.5px,#00b9ff 293.5px,#00a9ff 299.5px,#0089ff 302.5px)"></i>
<i style="top:124px;height:1px;background:linear-gradient(90deg,#c6ff39 0.5px,#fff900 9.5px,#ff9d00 22.5px,#ff5900 31.5px,#ff0100 48.5px,#a10000 79.5px,#800000 103.5px,#840000 211.5px,#b40000 221.5px,#f60000 233.5px,#ff0600 236.5px,#ff9e00 256.5px,#ff0 265.5px,#00feff 286.5px,#00b9ff 293.5px,#00b4ff 298.5px,#008bff 302.5px)"></i>
<i style="top:125px;height:1px;background:linear-gradient(90deg,#c6ff39 0.5px,#feff01 8.5px,#ff9c00 22.5px,#ff5800 31.5px,#f00 48.5px,#a00000 79.5px,#800000 102.5px,#840000 211.5px,#b40000 221.5px,#f60000 233.5px,#ff0600 236.5px,#ff9e00 256.5px,#ff0 265.5px,#00feff 286.5px,#00baff 293.5px,#00b9ff 298.5px,#008dff 302.5px)"></i>
<i style="top:126px;height:1px;background:linear-gradient(90deg,#c7ff38 0.5px,#ff0 8.5px,#ff9c00 22.5px,#ff5800 31.5px,#f00 48.5px,#9f0000 79.5px,#800000 102.5px,#840000 211.5px,#b40000 221.5px,#f60000 233.5px,#ff0600 236.5px,#ff9e00 256.5px,#ff0 265.5px,#00feff 286.5px,#00baff 293.5px,#00beff 298.5px,#008fff 302.5px)"></i>
<i style="top:127px;height:1px;background:linear-gradient(90deg,#c8ff37 0.5px,#ff0 8.5px,#ff9b00 22.5px,#ff5700 31.5px,#fe0000 48.5px,#9f0000 79.5px,#800000 101.5px,#840000 211.5px,#b40000 221.5px,#f60000 233.5px,#ff0600 236.5px,#ff9400 255.5px,#ff0 265.5px,#00feff 286.5px,#0bf 293.5px,#00c3ff 298.5px,#0091ff 302.5px)"></i>
<i style="top:128px;height:1px;background:linear-gradient(90deg,#c8ff37 0.5px,#fffe00 8.5px,#ff9b00 22.5px,#ff5600 31.5px,#fd0000 48.5px,#9e0000 79.5px,#800000 100.5px,#840000 211.5px,#b40000 221.5px,#f60000 233.5px,#ff0600 236.5px,#ff9400 255.5px,#ff0 265.5px,#00feff 286.5px,#00c1ff 292.5px,#00beff 295.5px,#00c9ff 298.5px,#00b3ff 300.5px,#0094ff 302.5px)"></i>
<i style="top:129px;height:1px;background:linear-gradient(90deg,#c9ff36 0.5px,#fffe00 8.5px,#ff9a00 22.5px,#f50 31.5px,#fd0000 48.5px,#9d0000 79.5px,#800000 100.5px,#840000 211.5px,#b40000 221.5px,#f60000 233.5px,#ff0600 236.5px,#ff8b00 254.5px,#ff0 265.5px,#00feff 286.5px,#00c1ff 292.5px,#00c0ff 295.5px,#00cfff 298.5px,#00b8ff 300.5px,#0097ff 302.5px)"></i>
<i style="top:130px;height:1px;background:linear-gradient(90deg,#c9ff36 0.5px,#fffd00 8.5px,#f90 22.5px,#ff5400 31.5px,#ff0100 47.5px,#9c0000 79.5px,#800000 99.5px,#840000 211.5px,#b40000 221.5px,#f60000 233.5px,#ff0600 236.5px,#ff8b00 254.5px,#ff0 265.5px,#00feff 286.5px,#00c2ff 292.5px,#00beff 294.5px,#00d6ff 298.5px,#00beff 300.5px,#009aff 302.5px)"></i>
<i style="top:131px;height:1px;background:linear-gradient(90deg,#caff35 0.5px,#fffc00 8.5px,#f90 22.5px,#ff4e00 32.5px,#f00 47.5px,#9c0000 79.5px,#800000 98.5px,#840000 211.5px,#b40000 221.5px,#f60000 233.5px,#ff0500 236.5px,#ff8300 253.5px,#ff0 265.5px,#00feff 286.5px,#00c2ff 292.5px,#00bfff 294.5px,#00dbff 297.5px,#0df 298.5px,#00c4ff 300.5px,#009dff 302.5px)"></i>
<i style="top:132px;height:1px;background:linear-gradient(90deg,#caff35 0.5px,#fffc00 8.5px,#ff9800 22.5px,#ff4d00 32.5px,#f00 47.5px,#9b0000 79.5px,#800000 97.5px,#840000 211.5px,#b40000 221.5px,#f60000 233.5px,#ff0500 236.5px,#ff7a00 252.5px,#fff400 264.5px,#ff0 265.5px,#00feff 286.5px,#00c2ff 292.5px,#00c1ff 294.5px,#00e2ff 297.5px,#00e5ff 298.5px,#0df 299.5px,#00a0ff 302.5px)"></i>
<i style="top:133px;height:1px;background:linear-gradient(90deg,#cbff34 0.5px,#fffb00 8.5px,#ff9800 22.5px,#ff4c00 32.5px,#fe0000 47.5px,#9a0000 79.5px,#800000 97.5px,#840000 211.5px,#b40000 221.5px,#f60000 233.5px,#ff0500 236.5px,#ff7200 251.5px,#ffd300 261.5px,#ff0 265.5px,#00feff 286.5px,#00c3ff 292.5px,#00c3ff 294.5px,#00e9ff 297.5px,#0ef 298.5px,#00e5ff 299.5px,#00a4ff 302.5px)"></i>
<i style="top:134px;height:1px;background:linear-gradient(90deg,#cf3 0.5px,#fffb00 8.5px,#ff9700 22.5px,#ff4b00 32.5px,#ff0300 46.5px,#900 79.5px,#800000 96.5px,#840000 211.5px,#b40000 221.5px,#f60000 233.5px,#ff0500 236.5px,#ff7200 251.5px,#ffd300 261.5px,#ff0 265.5px,#00feff 286.5px,#00c3ff 292.5px,#00c6ff 294.5px,#00f1ff 297.5px,#00f7ff 298.5px,#0ef 299.5px,#00a8ff 302.5px)"></i>
<i style="top:135px;height:1px;background:linear-gradient(90deg,#cf3 0.5px,#fffa00 8.5px,#ff9700 22.5px,#ff4a00 32.5px,#ff0200 46.5px,#980000 79.5px,#800000 96.5px,#840000 211.5px,#b40000 221.5px,#f60000 233.5px,#ff0500 236.5px,#ff6900 250.5px,#ffc800 260.5px,#ff0 265.5px,#00feff 286.5px,#00c4ff 292.5px,#00c8ff 294.5px,#00faff 297.5px,#01fffe 298.5px,#00f7ff 299.5px,#00acff 302.5px)"></i>
<i style="top:136px;height:1px;background:linear-gradient(90deg,#cdff32 0.5px,#fff900 8.5px,#ff9600 22.5px,#ff4a00 32.5px,#ff0100 46.5px,#980000 79.5px,#800000 95.5px,#840000 211.5px,#b40000 221.5px,#f60000 233.5px,#ff0500 236.5px,#ff6900 250.5px,#ffc800 260.5px,#ff0 265.5px,#00feff 286.5px,#00c4ff 292.5px,#00caff 294.5px,#04fffb 297.5px,#0bfff4 298.5px,#02fffd 299.5px,#00b1ff 302.5px)"></i>
<i style="top:137px;height:1px;background:linear-gradient(90deg,#cdff32 0.5px,#feff01 7.5px,#ff9500 22.5px,#ff4300 33.5px,#ff0100 46.5px,#970000 79.5px,#800000 94.5px,#840000 211.5px,#b40000 221.5px,#f60000 233.5px,#ff0500 236.5px,#ff6000 249.5px,#ffc800 260.5px,#ff0 265.5px,#00feff 286.5px,#00c5ff 292.5px,#00cdff 294.5px,#00f6ff 296.5px,#16ffe9 298.5px,#0cfff3 299.5px,#00f2ff 300.5px,#00b5ff 302.5px)"></i>
<i style="top:138px;height:1px;background:linear-gradient(90deg,#ceff31 0.5px,#feff01 7.5px,#ff9500 22.5px,#ff4200 33.5px,#f00 46.5px,#960000 79.5px,#800000 94.5px,#840000 211.5px,#b40000 221.5px,#f60000 233.5px,#ff0500 236.5px,#ff6000 249.5px,#ffc800 260.5px,#ff0 265.5px,#00feff 286.5px,#00c5ff 292.5px,#00d0ff 294.5px,#00feff 296.5px,#17ffe8 297.5px,#21ffde 298.5px,#17ffe8 299.5px,#00fbff 300.5px,#00baff 302.5px)"></i>
<i style="top:139px;height:1px;background:linear-gradient(90deg,#ceff31 0.5px,#ff0 7.5px,#ff9400 22.5px,#ff4100 33.5px,#ff0400 45.5px,#960000 79.5px,#800000 94.5px,#840000 211.5px,#b40000 221.5px,#f60000 233.5px,#ff0500 236.5px,#ff5f00 249.5px,#ffc800 260.5px,#ff0 265.5px,#00feff 286.5px,#00c6ff 292.5px,#00d2ff 294.5px,#06fff9 296.5px,#21ffde 297.5px,#2cffd3 298.5px,#2fd 299.5px,#05fffa 300.5px,#00bfff 302.5px)"></i>
<i style="top:140px;height:1px;background:linear-gradient(90deg,#cfff30 0.5px,#ff0 7.5px,#ff9400 22.5px,#ff4000 33.5px,#ff0300 45.5px,#950000 79.5px,#800000 93.5px,#840000 211.5px,#b40000 221.5px,#f60000 233.5px,#ff0500 236.5px,#ff5f00 249.5px,#ffc800 260.5px,#ff0 265.5px,#00feff 286.5px,#00c6ff 292.5px,#00c8ff 293.5px,#00d5ff 294.5px,#0ef 295.5px,#0efff1 296.5px,#2bffd4 297.5px,#38ffc7 298.5px,#2effd1 299.5px,#0ffff0 300.5px,#00e6ff 301.5px,#00c4ff 302.5px)"></i>
<i style="top:141px;height:1px;background:linear-gradient(90deg,#cfff30 0.5px,#ff0 7.5px,#ff9400 22.5px,#ff4000 33.5px,#ff0300 45.5px,#950000 79.5px,#800000 93.5px,#840000 211.5px,#b40000 221.5px,#f60000 233.5px,#ff0500 236.5px,#ff5e00 249.5px,#ffc800 260.5px,#ff0 265.5px,#00feff 286.5px,#0cf 291.5px,#00caff 293.5px,#00d8ff 294.5px,#00f3ff 295.5px,#16ffe9 296.5px,#36ffc9 297.5px,#45ffba 298.5px,#3affc5 299.5px,#19ffe6 300.5px,#0ef 301.5px,#00c9ff 302.5px)"></i>
<i style="top:142px;height:1px;background:linear-gradient(90deg,#cfff30 0.5px,#ff0 7.5px,#ff9400 22.5px,#ff4000 33.5px,#ff0300 45.5px,#950000 79.5px,#800000 93.5px,#840000 211.5px,#b40000 221.5px,#f60000 233.5px,#ff0500 236.5px,#ff5e00 249.5px,#ffbd00 259.5px,#feff01 265.5px,#00feff 286.5px,#0cf 291.5px,#00cbff 293.5px,#00dbff 294.5px,#00f8ff 295.5px,#41ffbe 297.5px,#51ffae 298.5px,#46ffb9 299.5px,#00f5ff 301.5px,#00cfff 302.5px)"></i>
<i style="top:143px;height:1px;background:linear-gradient(90deg,#cfff30 0.5px,#ff0 7.5px,#ff9400 22.5px,#ff4000 33.5px,#ff0300 45.5px,#950000 79.5px,#800000 93.5px,#840000 211.5px,#b40000 221.5px,#f60000 233.5px,#ff0500 236.5px,#ff5400 248.5px,#ffbd00 259.5px,#feff01 265.5px,#00feff 286.5px,#0cf 291.5px,#00cdff 293.5px,#00deff 294.5px,#00feff 295.5px,#4cffb3 297.5px,#5effa1 298.5px,#53ffac 299.5px,#00fdff 301.5px,#00d4ff 302.5px)"></i>
<i style="top:144px;height:1px;background:linear-gradient(90deg,#cfff30 0.5px,#ff0 7.5px,#ff9400 22.5px,#ff4000 33.5px,#ff0300 45.5px,#950000 79.5px,#800000 93.5px,#840000 211.5px,#b40000 221.5px,#f60000 233.5px,#ff0500 236.5px,#ff5400 248.5px,#ffb200 258.5px,#fdff02 265.5px,#00feff 286.5px,#0cf 291.5px,#00ceff 293.5px,#00e1ff 294.5px,#04fffb 295.5px,#57ffa8 297.5px,#6bff94 298.5px,#5fffa0 299.5px,#38ffc7 300.5px,#06fff9 301.5px,#00daff 302.5px)"></i>
<i style="top:145px;height:1px;background:linear-gradient(90deg,#cfff30 0.5px,#ff0 7.5px,#ff9400 22.5px,#ff4000 33.5px,#ff0300 45.5px,#950000 79.5px,#800000 93.5px,#840000 211.5px,#b40000 221.5px,#f60000 233.5px,#ff0500 236.5px,#ff5300 248.5px,#ffb100 258.5px,#fdff02 265.5px,#2effd1 282.5px,#00feff 286.5px,#0cf 291.5px,#00d0ff 293.5px,#00e5ff 294.5px,#0afff5 295.5px,#63ff9c 297.5px,#78ff87 298.5px,#6cff93 299.5px,#43ffbc 300.5px,#0efff1 301.5px,#00e0ff 302.5px)"></i>
<i style="top:146px;height:1px;background:linear-gradient(90deg,#cfff30 0.5px,#ff0 7.5px,#ff9400 22.5px,#ff4000 33.5px,#ff0300 45.5px,#950000 79.5px,#800000 93.5px,#840000 211.5px,#b40000 221.5px,#f60000 233.5px,#ff0500 236.5px,#ff5300 248.5px,#ffb100 258.5px,#fcff03 265.5px,#3bffc4 281.5px,#00feff 286.5px,#00cdff 291.5px,#00d1ff 293.5px,#00e8ff 294.5px,#10ffef 295.5px,#6eff91 297.5px,#84ff7b 298.5px,#78ff87 299.5px,#4effb1 300.5px,#16ffe9 301.5px,#00e5ff 302.5px)"></i>
<i style="top:147px;height:1px;background:linear-gradient(90deg,#cfff30 0.5px,#ff0 7.5px,#ff9400 22.5px,#ff4000 33.5px,#ff0300 45.5px,#950000 79.5px,#800000 93.5px,#840000 211.5px,#b40000 221.5px,#f60000 233.5px,#ff0500 236.5px,#ff5200 248.5px,#ffb100 258.5px,#fcff03 265.5px,#3bffc4 281.5px,#00feff 286.5px,#00cdff 291.5px,#00cbff 292.5px,#00d3ff 293.5px,#00ebff 294.5px,#15ffea 295.5px,#7aff85 297.5px,#91ff6e 298.5px,#85ff7a 299.5px,#58ffa7 300.5px,#1effe1 301.5px,#00ebff 302.5px)"></i>
<i style="top:148px;height:1px;background:linear-gradient(90deg,#cfff30 0.5px,#ff0 7.5px,#ff9400 22.5px,#ff4000 33.5px,#ff0300 45.5px,#950000 79.5px,#800000 93.5px,#840000 211.5px,#b40000 221.5px,#f60000 233.5px,#ff0a00 237.5px,#ff5200 248.5px,#ffb100 258.5px,#fbff04 265.5px,#48ffb7 280.5px,#00feff 286.5px,#00cdff 291.5px,#00cbff 292.5px,#00d4ff 293.5px,#0ef 294.5px,#1bffe4 295.5px,#85ff7a 297.5px,#9eff61 298.5px,#91ff6e 299.5px,#63ff9c 300.5px,#26ffd9 301.5px,#00f0ff 302.5px)"></i>
<i style="top:149px;height:1px;background:linear-gradient(90deg,#cfff30 0.5px,#ff0 7.5px,#ff9400 22.5px,#ff4000 33.5px,#ff0300 45.5px,#950000 79.5px,#800000 93.5px,#840000 211.5px,#b40000 221.5px,#f60000 233.5px,#ff0a00 237.5px,#ff5100 248.5px,#ffa500 257.5px,#fbff04 265.5px,#48ffb7 280.5px,#00feff 286.5px,#00cdff 291.5px,#0cf 292.5px,#00d6ff 293.5px,#00f1ff 294.5px,#20ffdf 295.5px,#90ff6f 297.5px,#af5 298.5px,#9dff62 299.5px,#6dff92 300.5px,#2dffd2 301.5px,#00f6ff 302.5px)"></i>
<i style="top:150px;height:1px;background:linear-gradient(90deg,#cfff30 0.5px,#ff0 7.5px,#ff9400 22.5px,#ff4000 33.5px,#ff0300 45.5px,#950000 79.5px,#800000 93.5px,#840000 211.5px,#b40000 221.5px,#f60000 233.5px,#ff0a00 237.5px,#ff5000 248.5px,#ffa400 257.5px,#faff05 265.5px,#48ffb7 280.5px,#00feff 286.5px,#00ceff 291.5px,#0cf 292.5px,#00d7ff 293.5px,#00f4ff 294.5px,#25ffda 295.5px,#9aff65 297.5px,#b7ff48 298.5px,#a9ff56 299.5px,#7f8 300.5px,#35ffca 301.5px,#00fbff 302.5px)"></i>
<i style="top:151px;height:1px;background:linear-gradient(90deg,#cfff30 0.5px,#ff0 7.5px,#ff9400 22.5px,#ff4000 33.5px,#ff0300 45.5px,#950000 79.5px,#800000 93.5px,#840000 211.5px,#b40000 221.5px,#f60000 233.5px,#ff0a00 237.5px,#ff5000 248.5px,#ffa400 257.5px,#faff05 265.5px,#54ffab 279.5px,#00feff 286.5px,#00ceff 291.5px,#00cdff 292.5px,#00d9ff 293.5px,#00f7ff 294.5px,#2affd5 295.5px,#a5ff5a 297.5px,#c2ff3d 298.5px,#b5ff4a 299.5px,#80ff7f 300.5px,#01fffe 302.5px)"></i>
<i style="top:152px;height:1px;background:linear-gradient(90deg,#cfff30 0.5px,#ff0 7.5px,#ff9400 22.5px,#ff4000 33.5px,#ff0300 45.5px,#950000 79.5px,#800000 93.5px,#840000 211.5px,#b40000 221.5px,#f60000 233.5px,#ff0a00 237.5px,#ff4f00 248.5px,#ffa400 257.5px,#fff900 264.5px,#cf3 269.5px,#00feff 286.5px,#00ceff 291.5px,#00ceff 292.5px,#00daff 293.5px,#00f9ff 294.5px,#2fffd0 295.5px,#aeff51 297.5px,#cdff32 298.5px,#bfff40 299.5px,#8aff75 300.5px,#06fff9 302.5px)"></i>
<i style="top:153px;height:1px;background:linear-gradient(90deg,#cfff30 0.5px,#ff0 7.5px,#ff9400 22.5px,#ff4000 33.5px,#ff0300 45.5px,#950000 79.5px,#800000 93.5px,#840000 211.5px,#b40000 221.5px,#f60000 233.5px,#ff0a00 237.5px,#ff4f00 248.5px,#ffa300 257.5px,#fff900 264.5px,#abff54 272.5px,#00feff 286.5px,#00ceff 291.5px,#00ceff 292.5px,#00dbff 293.5px,#00fcff 294.5px,#34ffcb 295.5px,#b7ff48 297.5px,#d8ff27 298.5px,#caff35 299.5px,#92ff6d 300.5px,#49ffb6 301.5px,#0afff5 302.5px)"></i>
<i style="top:154px;height:1px;background:linear-gradient(90deg,#cfff30 0.5px,#ff0 7.5px,#ff9400 22.5px,#ff4000 33.5px,#ff0300 45.5px,#950000 79.5px,#800000 93.5px,#840000 211.5px,#b40000 221.5px,#f60000 233.5px,#ff0a00 237.5px,#ff4e00 248.5px,#ffa300 257.5px,#fffa00 264.5px,#6eff91 277.5px,#00feff 286.5px,#00ceff 291.5px,#00cfff 292.5px,#00dcff 293.5px,#00feff 294.5px,#38ffc7 295.5px,#c0ff3f 297.5px,#e1ff1e 298.5px,#d3ff2c 299.5px,#9aff65 300.5px,#4fffb0 301.5px,#0ffff0 302.5px)"></i>
<i style="top:155px;height:1px;background:linear-gradient(90deg,#cfff30 0.5px,#ff0 7.5px,#ff9400 22.5px,#ff4000 33.5px,#ff0300 45.5px,#950000 79.5px,#800000 93.5px,#840000 211.5px,#b40000 221.5px,#f60000 233.5px,#ff0a00 237.5px,#ff4e00 248.5px,#ffa300 257.5px,#fffa00 264.5px,#6eff91 277.5px,#00feff 286.5px,#00ceff 291.5px,#00cfff 292.5px,#0df 293.5px,#01fffe 294.5px,#3cffc3 295.5px,#c8ff37 297.5px,#eaff15 298.5px,#dcff23 299.5px,#a1ff5e 300.5px,#5fa 301.5px,#12ffed 302.5px)"></i>
<i style="top:156px;height:1px;background:linear-gradient(90deg,#cfff30 0.5px,#ff0 7.5px,#ff9400 22.5px,#ff4000 33.5px,#ff0300 45.5px,#950000 79.5px,#800000 93.5px,#840000 211.5px,#b40000 221.5px,#f60000 233.5px,#ff0a00 237.5px,#ff4d00 248.5px,#ffa200 257.5px,#fffa00 264.5px,#6fff90 277.5px,#00feff 286.5px,#00cfff 291.5px,#00cfff 292.5px,#00deff 293.5px,#03fffc 294.5px,#3fffc0 295.5px,#cfff30 297.5px,#f2ff0d 298.5px,#e3ff1c 299.5px,#a8ff57 300.5px,#59ffa6 301.5px,#16ffe9 302.5px)"></i>
<i style="top:157px;height:1px;background:linear-gradient(90deg,#cfff30 0.5px,#ff0 7.5px,#ff9400 22.5px,#ff4000 33.5px,#ff0300 45.5px,#950000 79.5px,#800000 93.5px,#840000 211.5px,#b40000 221.5px,#f60000 233.5px,#ff0900 237.5px,#ff4d00 248.5px,#ffa100 257.5px,#fff900 264.5px,#95ff6a 274.5px,#00feff 286.5px,#00cfff 291.5px,#00d0ff 292.5px,#00dfff 293.5px,#05fffa 294.5px,#42ffbd 295.5px,#d5ff2a 297.5px,#f9ff06 298.5px,#eaff15 299.5px,#aeff51 300.5px,#5effa1 301.5px,#19ffe6 302.5px)"></i>
<i style="top:158px;height:1px;background:linear-gradient(90deg,#cfff30 0.5px,#ff0 7.5px,#ff9400 22.5px,#ff4000 33.5px,#ff0300 45.5px,#950000 79.5px,#800000 93.5px,#840000 211.5px,#b40000 221.5px,#f60000 233.5px,#ff0900 237.5px,#ff4c00 248.5px,#ffa000 257.5px,#faff05 265.5px,#63ff9c 278.5px,#00feff 286.5px,#00cfff 291.5px,#00d0ff 292.5px,#00e0ff 293.5px,#06fff9 294.5px,#45ffba 295.5px,#daff25 297.5px,#ff0 298.5px,#f0ff0f 299.5px,#b3ff4c 300.5px,#61ff9e 301.5px,#1cffe3 302.5px)"></i>
<i style="top:159px;height:1px;background:linear-gradient(90deg,#cfff30 0.5px,#ff0 7.5px,#ff9400 22.5px,#ff4000 33.5px,#ff0300 45.5px,#950000 79.5px,#800000 93.5px,#840000 211.5px,#b40000 221.5px,#f10000 232.5px,#ff0400 236.5px,#ff4c00 248.5px,#ff9f00 257.5px,#fdff02 265.5px,#64ff9b 278.5px,#00feff 286.5px,#00cfff 291.5px,#00d0ff 292.5px,#00e0ff 293.5px,#08fff7 294.5px,#47ffb8 295.5px,#deff21 297.5px,#fffa00 298.5px,#f5ff0a 299.5px,#b7ff48 300.5px,#64ff9b 301.5px,#1effe1 302.5px)"></i>
<i style="top:160px;height:1px;background:linear-gradient(90deg,#cfff30 0.5px,#ff0 7.5px,#ff9400 22.5px,#ff4000 33.5px,#ff0300 45.5px,#950000 79.5px,#800000 93.5px,#840000 211.5px,#b40000 221.5px,#f10000 232.5px,#ff0300 236.5px,#ff4d00 248.5px,#ff9e00 257.5px,#fffe00 265.5px,#73ff8c 277.5px,#00feff 286.5px,#00cfff 291.5px,#00d0ff 292.5px,#00e1ff 293.5px,#08fff7 294.5px,#48ffb7 295.5px,#e2ff1d 297.5px,#fff600 298.5px,#f8ff07 299.5px,#baff45 300.5px,#67ff98 301.5px,#1fffe0 302.5px)"></i>
<i style="top:161px;height:1px;background:linear-gradient(90deg,#cfff30 0.5px,#ff0 7.5px,#ff9400 22.5px,#ff4000 33.5px,#ff0300 45.5px,#950000 79.5px,#800000 93.5px,#840000 211.5px,#b40000 221.5px,#f10000 232.5px,#ff0800 237.5px,#f50 249.5px,#ff9c00 257.5px,#fffb00 265.5px,#82ff7d 276.5px,#00feff 286.5px,#00cfff 291.5px,#00d0ff 292.5px,#00e1ff 293.5px,#09fff6 294.5px,#4affb5 295.5px,#e4ff1b 297.5px,#fff400 298.5px,#fbff04 299.5px,#bcff43 300.5px,#68ff97 301.5px,#20ffdf 302.5px)"></i>
<i style="top:162px;height:1px;background:linear-gradient(90deg,#cfff30 0.5px,#ff0 7.5px,#ff9400 22.5px,#ff4000 33.5px,#ff0300 45.5px,#950000 79.5px,#800000 93.5px,#840000 211.5px,#b40000 221.5px,#f00000 232.5px,#ff0800 237.5px,#ff5c00 250.5px,#ff9a00 257.5px,#fbff04 266.5px,#76ff89 277.5px,#00feff 286.5px,#00cfff 291.5px,#00d1ff 292.5px,#00e1ff 293.5px,#09fff6 294.5px,#4affb5 295.5px,#e5ff1a 297.5px,#fff300 298.5px,#fcff03 299.5px,#bdff42 300.5px,#69ff96 301.5px,#21ffde 302.5px)"></i>
<i style="top:163px;height:1px;background:linear-gradient(90deg,#cfff30 0.5px,#ff0 7.5px,#ff9400 22.5px,#ff4000 33.5px,#ff0300 45.5px,#950000 79.5px,#800000 93.5px,#840000 211.5px,#b40000 221.5px,#f00000 232.5px,#ff0700 237.5px,#ff6b00 252.5px,#ffaf00 259.5px,#feff01 266.5px,#7f8 277.5px,#00feff 286.5px,#00cfff 291.5px,#00d1ff 292.5px,#00e1ff 293.5px,#09fff6 294.5px,#4affb5 295.5px,#e5ff1a 297.5px,#fff200 298.5px,#fcff03 299.5px,#bdff42 300.5px,#69ff96 301.5px,#21ffde 302.5px)"></i>
<i style="top:164px;height:1px;background:linear-gradient(90deg,#cfff30 0.5px,#ff0 7.5px,#ff9400 22.5px,#ff4000 33.5px,#ff0300 45.5px,#950000 79.5px,#800000 93.5px,#840000 211.5px,#b40000 221.5px,#f00000 232.5px,#ff0700 237.5px,#ff7200 253.5px,#ffdb00 263.5px,#fffd00 266.5px,#87ff78 276.5px,#0bfff4 285.5px,#00feff 286.5px,#00cfff 291.5px,#00d1ff 292.5px,#00e1ff 293.5px,#09fff6 294.5px,#4affb5 295.5px,#e4ff1b 297.5px,#fff400 298.5px,#fbff04 299.5px,#bcff43 300.5px,#69ff96 301.5px,#21ffde 302.5px)"></i>
<i style="top:165px;height:1px;background:linear-gradient(90deg,#cfff30 0.5px,#ff0 7.5px,#ff9400 22.5px,#ff4000 33.5px,#ff0300 45.5px,#950000 79.5px,#800000 93.5px,#840000 211.5px,#b40000 221.5px,#ec0000 231.5px,#ff0600 237.5px,#ff8200 255.5px,#fffa00 266.5px,#a5ff5a 274.5px,#0bfff4 285.5px,#00feff 286.5px,#00cfff 291.5px,#00d0ff 292.5px,#00e1ff 293.5px,#09fff6 294.5px,#49ffb6 295.5px,#e2ff1d 297.5px,#fff600 298.5px,#f9ff06 299.5px,#baff45 300.5px,#67ff98 301.5px,#20ffdf 302.5px)"></i>
<i style="top:166px;height:1px;background:linear-gradient(90deg,#cfff30 0.5px,#ff0 7.5px,#ff9400 22.5px,#ff4000 33.5px,#ff0300 45.5px,#950000 79.5px,#800000 93.5px,#840000 211.5px,#b40000 221.5px,#eb0000 231.5px,#ff0600 237.5px,#ff8a00 256.5px,#fcff03 267.5px,#8bff74 276.5px,#0bfff4 285.5px,#00feff 286.5px,#00cfff 291.5px,#00d0ff 292.5px,#00e0ff 293.5px,#08fff7 294.5px,#47ffb8 295.5px,#dfff20 297.5px,#fff900 298.5px,#f6ff09 299.5px,#b7ff48 300.5px,#65ff9a 301.5px,#1effe1 302.5px)"></i>
<i style="top:167px;height:1px;background:linear-gradient(90deg,#cfff30 0.5px,#ff0 7.5px,#ff9400 22.5px,#ff4000 33.5px,#ff0300 45.5px,#950000 79.5px,#800000 93.5px,#840000 211.5px,#b40000 221.5px,#eb0000 231.5px,#ff0500 237.5px,#f80 256.5px,#ff0 267.5px,#8dff72 276.5px,#0bfff4 285.5px,#00feff 286.5px,#00cfff 291.5px,#00d0ff 292.5px,#00e0ff 293.5px,#07fff8 294.5px,#45ffba 295.5px,#dbff24 297.5px,#fffe00 298.5px,#f1ff0e 299.5px,#b4ff4b 300.5px,#62ff9d 301.5px,#1cffe3 302.5px)"></i>
<i style="top:168px;height:1px;background:linear-gradient(90deg,#cfff30 0.5px,#ff0 7.5px,#ff9400 22.5px,#ff4000 33.5px,#ff0300 45.5px,#950000 79.5px,#800000 93.5px,#840000 211.5px,#b40000 221.5px,#eb0000 231.5px,#ff0500 237.5px,#ff8700 256.5px,#fffc00 267.5px,#9eff61 275.5px,#0bfff4 285.5px,#00feff 286.5px,#00cfff 291.5px,#00d0ff 292.5px,#00dfff 293.5px,#05fffa 294.5px,#43ffbc 295.5px,#d6ff29 297.5px,#faff05 298.5px,#ecff13 299.5px,#afff50 300.5px,#5fffa0 301.5px,#1affe5 302.5px)"></i>
<i style="top:169px;height:1px;background:linear-gradient(90deg,#cfff30 0.5px,#ff0 7.5px,#ff9400 22.5px,#ff4000 33.5px,#ff0300 45.5px,#950000 79.5px,#800000 93.5px,#840000 211.5px,#b40000 221.5px,#eb0000 231.5px,#ff0500 237.5px,#ff8f00 257.5px,#fff800 267.5px,#d5ff2a 271.5px,#62ff9d 279.5px,#0bfff4 285.5px,#00feff 286.5px,#00cfff 291.5px,#00cfff 292.5px,#00deff 293.5px,#04fffb 294.5px,#40ffbf 295.5px,#d0ff2f 297.5px,#f4ff0b 298.5px,#e5ff1a 299.5px,#a9ff56 300.5px,#5affa5 301.5px,#17ffe8 302.5px)"></i>
<i style="top:170px;height:1px;background:linear-gradient(90deg,#cfff30 0.5px,#ff0 7.5px,#ff9400 22.5px,#ff4000 33.5px,#ff0300 45.5px,#950000 79.5px,#800000 93.5px,#840000 211.5px,#b40000 221.5px,#ea0000 231.5px,#ff0400 237.5px,#ff8d00 257.5px,#fcff03 268.5px,#93ff6c 276.5px,#0bfff4 285.5px,#00feff 286.5px,#00ceff 291.5px,#00cfff 292.5px,#0df 293.5px,#02fffd 294.5px,#3cffc3 295.5px,#c9ff36 297.5px,#ecff13 298.5px,#df2 299.5px,#a3ff5c 300.5px,#56ffa9 301.5px,#13ffec 302.5px)"></i>
<i style="top:171px;height:1px;background:linear-gradient(90deg,#cfff30 0.5px,#ff0 7.5px,#ff9400 22.5px,#ff4000 33.5px,#ff0300 45.5px,#950000 79.5px,#800000 93.5px,#840000 211.5px,#b40000 221.5px,#ea0000 231.5px,#ff0400 237.5px,#ff8c00 257.5px,#fff200 267.5px,#fffe00 268.5px,#94ff6b 276.5px,#17ffe8 284.5px,#00feff 286.5px,#00ceff 291.5px,#00cfff 292.5px,#00dcff 293.5px,#0ff 294.5px,#39ffc6 295.5px,#c2ff3d 297.5px,#e3ff1c 298.5px,#d5ff2a 299.5px,#9cff63 300.5px,#50ffaf 301.5px,#0ffff0 302.5px)"></i>
<i style="top:172px;height:1px;background:linear-gradient(90deg,#cfff30 0.5px,#ff0 7.5px,#ff9400 22.5px,#ff4000 33.5px,#ff0300 45.5px,#950000 79.5px,#800000 93.5px,#840000 211.5px,#b40000 221.5px,#ea0000 231.5px,#ff0300 237.5px,#ff8a00 257.5px,#ffef00 267.5px,#f6ff09 269.5px,#96ff69 276.5px,#17ffe8 284.5px,#00feff 286.5px,#00ceff 291.5px,#00ceff 292.5px,#00dbff 293.5px,#00fcff 294.5px,#35ffca 295.5px,#b9ff46 297.5px,#daff25 298.5px,#cf3 299.5px,#94ff6b 300.5px,#4affb5 301.5px,#0bfff4 302.5px)"></i>
<i style="top:173px;height:1px;background:linear-gradient(90deg,#cfff30 0.5px,#ff0 7.5px,#ff9400 22.5px,#ff4000 33.5px,#ff0300 45.5px,#950000 79.5px,#800000 93.5px,#840000 211.5px,#b40000 221.5px,#ea0000 231.5px,#ff0300 237.5px,#ff9100 258.5px,#ffec00 267.5px,#f9ff06 269.5px,#98ff67 276.5px,#17ffe8 284.5px,#00feff 286.5px,#00ceff 291.5px,#00ceff 292.5px,#00daff 293.5px,#00faff 294.5px,#30ffcf 295.5px,#b0ff4f 297.5px,#cfff30 298.5px,#c2ff3d 299.5px,#8bff74 300.5px,#07fff8 302.5px)"></i>
<i style="top:174px;height:1px;background:linear-gradient(90deg,#cfff30 0.5px,#ff0 7.5px,#ff9400 22.5px,#ff4000 33.5px,#ff0300 45.5px,#950000 79.5px,#800000 93.5px,#840000 211.5px,#b40000 221.5px,#e90000 231.5px,#ff0300 237.5px,#ff6500 252.5px,#fa0 261.5px,#fcff03 269.5px,#9aff65 276.5px,#17ffe8 284.5px,#00feff 286.5px,#00ceff 291.5px,#00cdff 292.5px,#00d9ff 293.5px,#00f7ff 294.5px,#2bffd4 295.5px,#a7ff58 297.5px,#c5ff3a 298.5px,#b7ff48 299.5px,#82ff7d 300.5px,#02fffd 302.5px)"></i>
<i style="top:175px;height:1px;background:linear-gradient(90deg,#cfff30 0.5px,#ff0 7.5px,#ff9400 22.5px,#ff4000 33.5px,#ff0300 45.5px,#950000 79.5px,#800000 93.5px,#840000 211.5px,#b40000 221.5px,#e90000 231.5px,#ff0300 237.5px,#ff5e00 251.5px,#ff9600 259.5px,#ffe500 267.5px,#fffe00 269.5px,#9dff62 276.5px,#18ffe7 284.5px,#00feff 286.5px,#00ceff 291.5px,#00cdff 292.5px,#00d7ff 293.5px,#00f4ff 294.5px,#26ffd9 295.5px,#9dff62 297.5px,#b9ff46 298.5px,#acff53 299.5px,#79ff86 300.5px,#36ffc9 301.5px,#00fcff 302.5px)"></i>
<i style="top:176px;height:1px;background:linear-gradient(90deg,#cfff30 0.5px,#ff0 7.5px,#ff9400 22.5px,#ff4000 33.5px,#ff0300 45.5px,#950000 79.5px,#800000 93.5px,#840000 211.5px,#b40000 221.5px,#e90000 231.5px,#ff0300 237.5px,#ff5800 250.5px,#ff8b00 258.5px,#ffd500 266.5px,#fffb00 269.5px,#b1ff4e 275.5px,#18ffe7 284.5px,#00feff 286.5px,#00cdff 291.5px,#0cf 292.5px,#00d6ff 293.5px,#00f1ff 294.5px,#21ffde 295.5px,#92ff6d 297.5px,#adff52 298.5px,#a0ff5f 299.5px,#6fff90 300.5px,#2fffd0 301.5px,#00f7ff 302.5px)"></i>
<i style="top:177px;height:1px;background:linear-gradient(90deg,#cfff30 0.5px,#ff0 7.5px,#ff9400 22.5px,#ff4000 33.5px,#ff0300 45.5px,#950000 79.5px,#800000 93.5px,#840000 211.5px,#b40000 221.5px,#ea0000 231.5px,#ff0300 237.5px,#ff5700 250.5px,#ff8900 258.5px,#ffd200 266.5px,#faff05 270.5px,#a3ff5c 276.5px,#18ffe7 284.5px,#0ff 286.5px,#00cdff 291.5px,#00cbff 292.5px,#00d5ff 293.5px,#0ef 294.5px,#1cffe3 295.5px,#87ff78 297.5px,#a1ff5e 298.5px,#94ff6b 299.5px,#65ff9a 300.5px,#27ffd8 301.5px,#00f2ff 302.5px)"></i>
<i style="top:178px;height:1px;background:linear-gradient(90deg,#cfff30 0.5px,#ff0 7.5px,#ff9400 22.5px,#ff4000 33.5px,#ff0300 45.5px,#950000 79.5px,#800000 93.5px,#840000 211.5px,#b40000 221.5px,#ea0000 231.5px,#ff0300 237.5px,#ff5600 250.5px,#ff8f00 259.5px,#ffce00 266.5px,#ff0 270.5px,#a7ff58 276.5px,#18ffe7 284.5px,#0ff 286.5px,#00cdff 291.5px,#00cbff 292.5px,#00d3ff 293.5px,#00ebff 294.5px,#16ffe9 295.5px,#7cff83 297.5px,#94ff6b 298.5px,#8f7 299.5px,#5bffa4 300.5px,#20ffdf 301.5px,#00ecff 302.5px)"></i>
<i style="top:179px;height:1px;background:linear-gradient(90deg,#cfff30 0.5px,#ff0 7.5px,#ff9400 22.5px,#ff4000 33.5px,#ff0300 45.5px,#950000 79.5px,#800000 93.5px,#840000 211.5px,#b40000 221.5px,#ea0000 231.5px,#ff0400 237.5px,#f50 250.5px,#ff8c00 259.5px,#ffca00 266.5px,#fffb00 270.5px,#cdff32 274.5px,#18ffe7 284.5px,#0ff 286.5px,#00cdff 291.5px,#00caff 292.5px,#00d2ff 293.5px,#00e8ff 294.5px,#1fe 295.5px,#71ff8e 297.5px,#87ff78 298.5px,#7bff84 299.5px,#50ffaf 300.5px,#18ffe7 301.5px,#00e6ff 302.5px)"></i>
<i style="top:180px;height:1px;background:linear-gradient(90deg,#cfff30 0.5px,#ff0 7.5px,#ff9400 22.5px,#ff4000 33.5px,#ff0300 45.5px,#950000 79.5px,#800000 93.5px,#840000 211.5px,#b40000 221.5px,#ea0000 231.5px,#ff0400 237.5px,#ff5400 250.5px,#ff8a00 259.5px,#ffc700 266.5px,#faff05 271.5px,#aeff51 276.5px,#19ffe6 284.5px,#0ff 286.5px,#00cdff 291.5px,#00d0ff 293.5px,#00e5ff 294.5px,#0bfff4 295.5px,#65ff9a 297.5px,#7aff85 298.5px,#6eff91 299.5px,#45ffba 300.5px,#10ffef 301.5px,#00e1ff 302.5px)"></i>
<i style="top:181px;height:1px;background:linear-gradient(90deg,#cfff30 0.5px,#ff0 7.5px,#ff9400 22.5px,#ff4000 33.5px,#ff0300 45.5px,#950000 79.5px,#800000 93.5px,#840000 211.5px,#b40000 221.5px,#eb0000 231.5px,#ff0500 237.5px,#ff5300 250.5px,#ff8700 259.5px,#ffc300 266.5px,#ff0 271.5px,#c5ff3a 275.5px,#19ffe6 284.5px,#0ff 286.5px,#0cf 291.5px,#00cfff 293.5px,#06fff9 295.5px,#5affa5 297.5px,#6dff92 298.5px,#62ff9d 299.5px,#3bffc4 300.5px,#08fff7 301.5px,#00dbff 302.5px)"></i>
<i style="top:182px;height:1px;background:linear-gradient(90deg,#cfff30 0.5px,#ff0 7.5px,#ff9400 22.5px,#ff4000 33.5px,#ff0300 45.5px,#950000 79.5px,#800000 93.5px,#800000 159.5px,#840000 211.5px,#b40000 221.5px,#eb0000 231.5px,#ff0500 237.5px,#ff5200 250.5px,#ff8500 259.5px,#ffbf00 266.5px,#fffb00 271.5px,#daff25 274.5px,#19ffe6 284.5px,#0ff 286.5px,#0cf 291.5px,#00cdff 293.5px,#00dfff 294.5px,#0ff 295.5px,#4fffb0 297.5px,#60ff9f 298.5px,#5fa 299.5px,#30ffcf 300.5px,#0ff 301.5px,#00d6ff 302.5px)"></i>
<i style="top:183px;height:1px;background:linear-gradient(90deg,#cfff30 0.5px,#ff0 7.5px,#ff9400 22.5px,#ff4000 33.5px,#ff0300 45.5px,#950000 79.5px,#800000 93.5px,#820000 157.5px,#840000 211.5px,#b40000 221.5px,#eb0000 231.5px,#ff0600 237.5px,#ff5100 250.5px,#ff8300 259.5px,#ffbc00 266.5px,#fbff04 272.5px,#b9ff46 276.5px,#29ffd6 283.5px,#0ff 286.5px,#0cf 291.5px,#0cf 293.5px,#00dcff 294.5px,#00f9ff 295.5px,#43ffbc 297.5px,#54ffab 298.5px,#49ffb6 299.5px,#00f7ff 301.5px,#00d0ff 302.5px)"></i>
<i style="top:184px;height:1px;background:linear-gradient(90deg,#cfff30 0.5px,#ff0 7.5px,#ff9400 22.5px,#ff4000 33.5px,#ff0300 45.5px,#950000 79.5px,#800000 93.5px,#840000 156.5px,#840000 211.5px,#b40000 221.5px,#eb0000 231.5px,#ff0600 237.5px,#ff4f00 250.5px,#ff8000 259.5px,#ffb800 266.5px,#ff0 272.5px,#bdff42 276.5px,#2affd5 283.5px,#0ff 286.5px,#0cf 291.5px,#00caff 293.5px,#00d9ff 294.5px,#00f4ff 295.5px,#18ffe7 296.5px,#38ffc7 297.5px,#47ffb8 298.5px,#3dffc2 299.5px,#1bffe4 300.5px,#00efff 301.5px,#00cbff 302.5px)"></i>
<i style="top:185px;height:1px;background:linear-gradient(90deg,#cfff30 0.5px,#ff0 7.5px,#ff9400 22.5px,#ff4000 33.5px,#ff0300 45.5px,#950000 79.5px,#800000 93.5px,#860000 129.5px,#820000 160.5px,#840000 211.5px,#b40000 221.5px,#ec0000 231.5px,#ff0600 237.5px,#ff4e00 250.5px,#ff8400 260.5px,#ffb400 266.5px,#fffa00 272.5px,#e7ff18 274.5px,#2affd5 283.5px,#0ff 286.5px,#00cbff 291.5px,#00c9ff 293.5px,#00d6ff 294.5px,#00efff 295.5px,#10ffef 296.5px,#2dffd2 297.5px,#3bffc4 298.5px,#31ffce 299.5px,#1fe 300.5px,#00e8ff 301.5px,#00c5ff 302.5px)"></i>
<i style="top:186px;height:1px;background:linear-gradient(90deg,#cfff30 0.5px,#ff0 7.5px,#ff9400 22.5px,#ff4000 33.5px,#ff0300 45.5px,#950000 79.5px,#800000 93.5px,#860000 128.5px,#830000 159.5px,#840000 211.5px,#b40000 221.5px,#f00000 232.5px,#ff0700 237.5px,#ff4d00 250.5px,#ff8200 260.5px,#ffb100 266.5px,#fbff04 273.5px,#aeff51 277.5px,#2bffd4 283.5px,#0ff 286.5px,#00c6ff 292.5px,#00c7ff 293.5px,#00d3ff 294.5px,#08fff7 296.5px,#23ffdc 297.5px,#2fffd0 298.5px,#25ffda 299.5px,#07fff8 300.5px,#00c0ff 302.5px)"></i>
<i style="top:187px;height:1px;background:linear-gradient(90deg,#cfff30 0.5px,#ff0 7.5px,#ff9400 22.5px,#ff4000 33.5px,#ff0300 45.5px,#950000 79.5px,#800000 93.5px,#860000 127.5px,#850000 158.5px,#800000 210.5px,#b40000 221.5px,#f00000 232.5px,#ff0700 237.5px,#ff4c00 250.5px,#ff7f00 260.5px,#ffad00 266.5px,#ff0 273.5px,#b2ff4d 277.5px,#2bffd4 283.5px,#0ff 286.5px,#00c5ff 292.5px,#00d0ff 294.5px,#0ff 296.5px,#19ffe6 297.5px,#23ffdc 298.5px,#1affe5 299.5px,#00fdff 300.5px,#0bf 302.5px)"></i>
<i style="top:188px;height:1px;background:linear-gradient(90deg,#cfff30 0.5px,#ff0 7.5px,#ff9400 22.5px,#ff4000 33.5px,#ff0300 45.5px,#950000 79.5px,#800000 93.5px,#860000 126.5px,#860000 157.5px,#800000 190.5px,#840000 211.5px,#b40000 221.5px,#f00000 232.5px,#ff0800 237.5px,#ff4b00 250.5px,#ff7c00 260.5px,#ffa900 266.5px,#fffa00 273.5px,#e1ff1e 275.5px,#2cffd3 283.5px,#0ff 286.5px,#00c5ff 292.5px,#00cdff 294.5px,#00f8ff 296.5px,#18ffe7 298.5px,#0ffff0 299.5px,#00f3ff 300.5px,#00b6ff 302.5px)"></i>
<i style="top:189px;height:1px;background:linear-gradient(90deg,#cfff30 0.5px,#ff0 7.5px,#ff9400 22.5px,#ff4000 33.5px,#ff0300 45.5px,#950000 79.5px,#800000 93.5px,#850000 124.5px,#8b0000 152.5px,#800000 176.5px,#840000 211.5px,#b40000 221.5px,#f10000 232.5px,#ff0800 237.5px,#ff4a00 250.5px,#ff7a00 260.5px,#ffa600 266.5px,#fff600 273.5px,#f8ff07 274.5px,#2cffd3 283.5px,#0ff 286.5px,#00c4ff 292.5px,#00cbff 294.5px,#06fff9 297.5px,#0efff1 298.5px,#04fffb 299.5px,#00ebff 300.5px,#00b1ff 302.5px)"></i>
<i style="top:190px;height:1px;background:linear-gradient(90deg,#cfff30 0.5px,#ff0 7.5px,#ff9400 22.5px,#ff4000 33.5px,#ff0300 45.5px,#950000 79.5px,#800000 93.5px,#860000 124.5px,#8c0000 152.5px,#800000 176.5px,#840000 211.5px,#b40000 221.5px,#f10000 232.5px,#ff0400 236.5px,#ff4900 250.5px,#ff7d00 261.5px,#ffad00 267.5px,#fcff03 274.5px,#71ff8e 280.5px,#1bffe4 284.5px,#0ff 286.5px,#00c4ff 292.5px,#00c8ff 294.5px,#00fcff 297.5px,#00f9ff 299.5px,#00adff 302.5px)"></i>
<i style="top:191px;height:1px;background:linear-gradient(90deg,#cfff30 0.5px,#ff0 7.5px,#ff9400 22.5px,#ff4000 33.5px,#ff0300 45.5px,#950000 79.5px,#800000 93.5px,#860000 123.5px,#8e0000 149.5px,#800000 176.5px,#840000 211.5px,#b40000 221.5px,#f60000 233.5px,#ff0900 237.5px,#ff4800 250.5px,#ff7b00 261.5px,#fa0 267.5px,#fffe00 274.5px,#8cff73 279.5px,#2dffd2 283.5px,#0ff 286.5px,#00c3ff 292.5px,#00c6ff 294.5px,#00f3ff 297.5px,#00f9ff 298.5px,#00f0ff 299.5px,#00a9ff 302.5px)"></i>
<i style="top:192px;height:1px;background:linear-gradient(90deg,#cfff30 0.5px,#ff0 7.5px,#ff9400 22.5px,#ff4000 33.5px,#ff0300 45.5px,#950000 79.5px,#800000 93.5px,#850000 122.5px,#8f0000 146.5px,#800000 178.5px,#840000 211.5px,#b40000 221.5px,#f60000 233.5px,#ff0a00 237.5px,#f40 249.5px,#ff7400 260.5px,#ff9d00 266.5px,#ffec00 273.5px,#fffc00 274.5px,#bfff40 277.5px,#2dffd2 283.5px,#0ff 286.5px,#00c3ff 292.5px,#00c4ff 294.5px,#00ebff 297.5px,#00f0ff 298.5px,#00e7ff 299.5px,#00a5ff 302.5px)"></i>
<i style="top:193px;height:1px;background:linear-gradient(90deg,#cfff30 0.5px,#ff0 7.5px,#ff9400 22.5px,#ff4000 33.5px,#ff0300 45.5px,#950000 79.5px,#800000 93.5px,#860000 122.5px,#8f0000 145.5px,#800000 178.5px,#840000 211.5px,#b50000 221.5px,#f60000 233.5px,#ff0a00 237.5px,#f40 249.5px,#ff6e00 259.5px,#ff9d00 266.5px,#ffeb00 273.5px,#fffb00 274.5px,#d8ff27 276.5px,#2dffd2 283.5px,#0ff 286.5px,#00c3ff 292.5px,#00c2ff 294.5px,#00e4ff 297.5px,#00e7ff 298.5px,#00dfff 299.5px,#00a1ff 302.5px)"></i>
<i style="top:194px;height:1px;background:linear-gradient(90deg,#cfff30 0.5px,#ff0 7.5px,#ff9400 22.5px,#ff4000 33.5px,#ff0300 45.5px,#950000 79.5px,#800000 93.5px,#860000 122.5px,#900000 145.5px,#800000 178.5px,#850000 211.5px,#b50000 221.5px,#fb0000 234.5px,#ff4800 250.5px,#ff7400 260.5px,#ff9e00 266.5px,#ffec00 273.5px,#fffc00 274.5px,#bfff40 277.5px,#2dffd2 283.5px,#0ff 286.5px,#00c2ff 292.5px,#00c0ff 294.5px,#00dcff 297.5px,#00dfff 298.5px,#00c5ff 300.5px,#009eff 302.5px)"></i>
<i style="top:195px;height:1px;background:linear-gradient(90deg,#cfff30 0.5px,#ff0 7.5px,#ff9400 22.5px,#ff4000 33.5px,#ff0300 45.5px,#950000 79.5px,#800000 93.5px,#860000 122.5px,#900000 145.5px,#800000 178.5px,#810000 210.5px,#b50000 221.5px,#fc0000 234.5px,#ff4800 250.5px,#ff6f00 259.5px,#ffa000 266.5px,#fe0 273.5px,#fffe00 274.5px,#8cff73 279.5px,#2dffd2 283.5px,#0ff 286.5px,#00c2ff 292.5px,#00beff 294.5px,#00d8ff 298.5px,#00bfff 300.5px,#009aff 302.5px)"></i>
<i style="top:196px;height:1px;background:linear-gradient(90deg,#cfff30 0.5px,#ff0 7.5px,#ff9400 22.5px,#ff4000 33.5px,#ff0300 45.5px,#950000 79.5px,#800000 93.5px,#860000 122.5px,#900000 145.5px,#800000 178.5px,#810000 210.5px,#b60000 221.5px,#fc0000 234.5px,#ff4600 249.5px,#ff6a00 258.5px,#ffa200 266.5px,#fdff02 274.5px,#72ff8d 280.5px,#1bffe4 284.5px,#0ff 286.5px,#00c1ff 292.5px,#00c1ff 295.5px,#00d1ff 298.5px,#00b9ff 300.5px,#0097ff 302.5px)"></i>
<i style="top:197px;height:1px;background:linear-gradient(90deg,#cfff30 0.5px,#ff0 7.5px,#ff9400 22.5px,#ff4000 33.5px,#ff0300 45.5px,#950000 79.5px,#800000 93.5px,#860000 122.5px,#900000 145.5px,#800000 178.5px,#820000 210.5px,#bc0000 222.5px,#fd0000 234.5px,#ff4700 249.5px,#ff6b00 258.5px,#ffa400 266.5px,#fbff04 274.5px,#71ff8e 280.5px,#1affe5 284.5px,#0ff 286.5px,#00c1ff 292.5px,#00beff 295.5px,#00caff 298.5px,#00b4ff 300.5px,#0095ff 302.5px)"></i>
<i style="top:198px;height:1px;background:linear-gradient(90deg,#cfff30 0.5px,#ff0 7.5px,#ff9400 22.5px,#ff4000 33.5px,#ff0300 45.5px,#950000 79.5px,#800000 93.5px,#860000 122.5px,#900000 145.5px,#800000 178.5px,#820000 210.5px,#bd0000 222.5px,#fd0000 234.5px,#ff4800 249.5px,#ff6c00 258.5px,#ffa700 266.5px,#fff600 273.5px,#f8ff07 274.5px,#2cffd3 283.5px,#0ff 286.5px,#0bf 293.5px,#00c4ff 298.5px,#0092ff 302.5px)"></i>
<i style="top:199px;height:1px;background:linear-gradient(90deg,#cfff30 0.5px,#ff0 7.5px,#ff9400 22.5px,#ff4000 33.5px,#ff0300 45.5px,#950000 79.5px,#800000 93.5px,#860000 122.5px,#900000 145.5px,#800000 178.5px,#830000 210.5px,#c30000 223.5px,#ff0300 235.5px,#ff4600 248.5px,#ff6700 257.5px,#ffa900 266.5px,#fff900 273.5px,#e2ff1d 275.5px,#2cffd3 283.5px,#0ff 286.5px,#00baff 293.5px,#00bfff 298.5px,#0090ff 302.5px)"></i>
<i style="top:200px;height:1px;background:linear-gradient(90deg,#cfff30 0.5px,#ff0 7.5px,#ff9400 22.5px,#ff4000 33.5px,#ff0300 45.5px,#950000 79.5px,#800000 93.5px,#860000 122.5px,#900000 145.5px,#800000 178.5px,#830000 210.5px,#c30000 223.5px,#ff0400 235.5px,#ff4700 248.5px,#ff6800 257.5px,#ffab00 266.5px,#fffc00 273.5px,#e0ff1f 275.5px,#2bffd4 283.5px,#0ff 286.5px,#00baff 293.5px,#00baff 298.5px,#008dff 302.5px)"></i>
<i style="top:201px;height:1px;background:linear-gradient(90deg,#cfff30 0.5px,#ff0 7.5px,#ff9400 22.5px,#ff4000 33.5px,#ff0300 45.5px,#950000 79.5px,#800000 93.5px,#860000 122.5px,#900000 145.5px,#800000 178.5px,#840000 210.5px,#c90000 224.5px,#ff0400 235.5px,#ff4800 248.5px,#ff6900 257.5px,#ffae00 266.5px,#ff0 273.5px,#c8ff37 276.5px,#2bffd4 283.5px,#0ff 286.5px,#00b9ff 293.5px,#00b5ff 298.5px,#008bff 302.5px)"></i>
<i style="top:202px;height:1px;background:linear-gradient(90deg,#cfff30 0.5px,#ff0 7.5px,#ff9400 22.5px,#ff4000 33.5px,#ff0300 45.5px,#950000 79.5px,#800000 93.5px,#860000 122.5px,#900000 145.5px,#800000 178.5px,#840000 210.5px,#cf0000 225.5px,#ff0500 235.5px,#ff4900 248.5px,#ff6a00 257.5px,#ffb000 266.5px,#fdff02 273.5px,#b0ff4f 277.5px,#2bffd4 283.5px,#0ff 286.5px,#00b9ff 293.5px,#0af 299.5px,#008aff 302.5px)"></i>
<i style="top:203px;height:1px;background:linear-gradient(90deg,#cfff30 0.5px,#ff0 7.5px,#ff9400 22.5px,#ff4000 33.5px,#ff0300 45.5px,#950000 79.5px,#800000 93.5px,#860000 122.5px,#900000 145.5px,#800000 178.5px,#840000 210.5px,#d50000 226.5px,#ff0500 235.5px,#ff4a00 248.5px,#ff6400 256.5px,#ffb300 266.5px,#faff05 273.5px,#aeff51 277.5px,#2bffd4 283.5px,#0ff 286.5px,#00b8ff 293.5px,#00a6ff 299.5px,#08f 302.5px)"></i>
<i style="top:204px;height:1px;background:linear-gradient(90deg,#cfff30 0.5px,#ff0 7.5px,#ff9400 22.5px,#ff4000 33.5px,#ff0300 45.5px,#950000 79.5px,#800000 93.5px,#860000 122.5px,#900000 145.5px,#800000 178.5px,#810000 209.5px,#cf0000 225.5px,#ff0100 234.5px,#ff4b00 248.5px,#ff6500 256.5px,#ffb500 266.5px,#fffa00 272.5px,#e8ff17 274.5px,#2affd5 283.5px,#0ff 286.5px,#00b8ff 293.5px,#00a3ff 299.5px,#0087ff 302.5px)"></i>
<i style="top:205px;height:1px;background:linear-gradient(90deg,#cfff30 0.5px,#ff0 7.5px,#ff9400 22.5px,#ff4000 33.5px,#ff0300 45.5px,#950000 79.5px,#800000 93.5px,#860000 122.5px,#900000 145.5px,#800000 178.5px,#810000 209.5px,#d50000 226.5px,#ff0100 234.5px,#ff4900 247.5px,#f60 256.5px,#ffb700 266.5px,#fffd00 272.5px,#d3ff2c 275.5px,#2affd5 283.5px,#0ff 286.5px,#00b8ff 293.5px,#00a0ff 299.5px,#0085ff 302.5px)"></i>
<i style="top:206px;height:1px;background:linear-gradient(90deg,#cfff30 0.5px,#ff0 7.5px,#ff9400 22.5px,#ff4000 33.5px,#ff0300 45.5px,#950000 79.5px,#800000 93.5px,#860000 122.5px,#900000 145.5px,#800000 178.5px,#820000 209.5px,#db0000 227.5px,#ff0200 234.5px,#ff4a00 247.5px,#ff6700 256.5px,#ffba00 266.5px,#ff0 272.5px,#bdff42 276.5px,#2affd5 283.5px,#0ff 286.5px,#00b7ff 293.5px,#009eff 299.5px,#0084ff 302.5px)"></i>
<i style="top:207px;height:1px;background:linear-gradient(90deg,#cfff30 0.5px,#ff0 7.5px,#ff9400 22.5px,#ff4000 33.5px,#ff0300 45.5px,#950000 79.5px,#800000 93.5px,#860000 122.5px,#900000 145.5px,#800000 178.5px,#820000 209.5px,#e10000 228.5px,#ff0200 234.5px,#ff4b00 247.5px,#ff6800 256.5px,#ffbc00 266.5px,#fcff03 272.5px,#bf4 276.5px,#29ffd6 283.5px,#0ff 286.5px,#00b7ff 293.5px,#0093ff 300.5px,#0083ff 302.5px)"></i>
<i style="top:208px;height:1px;background:linear-gradient(90deg,#cfff30 0.5px,#ff0 7.5px,#ff9400 22.5px,#ff4000 33.5px,#ff0300 45.5px,#950000 79.5px,#800000 93.5px,#860000 122.5px,#900000 145.5px,#800000 178.5px,#830000 209.5px,#ec0000 230.5px,#ff0800 235.5px,#ff4c00 247.5px,#ff6800 256.5px,#ffbf00 266.5px,#f9ff06 272.5px,#b8ff47 276.5px,#29ffd6 283.5px,#0ff 286.5px,#00b0ff 294.5px,#0091ff 300.5px,#0082ff 302.5px)"></i>
<i style="top:209px;height:1px;background:linear-gradient(90deg,#cfff30 0.5px,#ff0 7.5px,#ff9400 22.5px,#ff4000 33.5px,#ff0300 45.5px,#950000 79.5px,#800000 93.5px,#860000 122.5px,#900000 145.5px,#800000 178.5px,#830000 209.5px,#ff0300 234.5px,#ff4d00 247.5px,#ff6900 256.5px,#ffc100 266.5px,#fffb00 271.5px,#dbff24 274.5px,#19ffe6 284.5px,#0ff 286.5px,#00b0ff 294.5px,#008fff 300.5px,#0081ff 302.5px)"></i>
<i style="top:210px;height:1px;background:linear-gradient(90deg,#cfff30 0.5px,#ff0 7.5px,#ff9400 22.5px,#ff4000 33.5px,#ff0300 45.5px,#950000 79.5px,#800000 93.5px,#860000 122.5px,#900000 145.5px,#800000 178.5px,#840000 209.5px,#ff0300 234.5px,#ff4e00 247.5px,#ff6a00 256.5px,#ffc300 266.5px,#fffd00 271.5px,#c7ff38 275.5px,#19ffe6 284.5px,#0ff 286.5px,#00b0ff 294.5px,#0081ff 302.5px)"></i>
<i style="top:211px;height:1px;background:linear-gradient(90deg,#cfff30 0.5px,#ff0 7.5px,#ff9400 22.5px,#ff4000 33.5px,#ff0300 45.5px,#950000 79.5px,#800000 93.5px,#860000 122.5px,#900000 145.5px,#800000 178.5px,#840000 209.5px,#ff0400 234.5px,#ff4f00 247.5px,#ff6b00 256.5px,#ffc500 266.5px,#ff0 271.5px,#c6ff39 275.5px,#19ffe6 284.5px,#0ff 286.5px,#00afff 294.5px,#0080ff 302.5px)"></i>
<i style="top:212px;height:1px;background:linear-gradient(90deg,#cfff30 0.5px,#ff0 7.5px,#ff9400 22.5px,#ff4000 33.5px,#ff0300 45.5px,#950000 79.5px,#800000 93.5px,#860000 122.5px,#900000 145.5px,#800000 178.5px,#820000 208.5px,#e30000 228.5px,#ff0500 234.5px,#ff4f00 247.5px,#ff6c00 256.5px,#ffd200 267.5px,#fdff02 271.5px,#c5ff3a 275.5px,#19ffe6 284.5px,#0ff 286.5px,#00afff 294.5px,#007fff 302.5px)"></i>
<i style="top:213px;height:1px;background:linear-gradient(90deg,#cfff30 0.5px,#ff0 7.5px,#ff9400 22.5px,#ff4000 33.5px,#ff0300 45.5px,#950000 79.5px,#800000 93.5px,#860000 122.5px,#900000 145.5px,#800000 178.5px,#830000 208.5px,#e40000 228.5px,#ff0500 234.5px,#ff4f00 247.5px,#ff6e00 256.5px,#ffd400 267.5px,#fcff03 271.5px,#c4ff3b 275.5px,#19ffe6 284.5px,#0ff 286.5px,#00afff 294.5px,#007fff 302.5px)"></i>
<i style="top:214px;height:1px;background:linear-gradient(90deg,#cfff30 0.5px,#ff0 7.5px,#ff9400 22.5px,#ff4000 33.5px,#ff0300 45.5px,#950000 79.5px,#800000 93.5px,#860000 122.5px,#900000 145.5px,#800000 178.5px,#840000 208.5px,#de0000 227.5px,#ff0600 234.5px,#ff4f00 247.5px,#ff6f00 256.5px,#ffd500 267.5px,#faff05 271.5px,#c2ff3d 275.5px,#19ffe6 284.5px,#0ff 286.5px,#00aeff 294.5px,#007fff 302.5px)"></i>
<i style="top:215px;height:1px;background:linear-gradient(90deg,#cfff30 0.5px,#ff0 7.5px,#ff9400 22.5px,#ff4000 33.5px,#ff0300 45.5px,#950000 79.5px,#800000 93.5px,#860000 122.5px,#900000 145.5px,#800000 178.5px,#850000 208.5px,#df0000 227.5px,#ff0600 234.5px,#ff5300 248.5px,#ff7000 256.5px,#ffd700 267.5px,#f9ff06 271.5px,#c1ff3e 275.5px,#19ffe6 284.5px,#0ff 286.5px,#00aeff 294.5px,#007eff 302.5px)"></i>
<i style="top:216px;height:1px;background:linear-gradient(90deg,#cfff30 0.5px,#ff0 7.5px,#ff9400 22.5px,#ff4000 33.5px,#ff0300 45.5px,#950000 79.5px,#800000 93.5px,#860000 122.5px,#900000 145.5px,#800000 178.5px,#830000 207.5px,#d50000 225.5px,#ff0100 233.5px,#ff5300 248.5px,#ff7100 256.5px,#ffd800 267.5px,#fffb00 270.5px,#d1ff2e 274.5px,#19ffe6 284.5px,#0ff 286.5px,#00aeff 294.5px,#007eff 302.5px)"></i>
<i style="top:217px;height:1px;background:linear-gradient(90deg,#cfff30 0.5px,#ff0 7.5px,#ff9400 22.5px,#ff4000 33.5px,#ff0300 45.5px,#950000 79.5px,#800000 93.5px,#860000 122.5px,#900000 145.5px,#800000 178.5px,#840000 207.5px,#d50000 225.5px,#ff0200 233.5px,#ff5300 248.5px,#ff7200 256.5px,#ffda00 267.5px,#fffc00 270.5px,#d0ff2f 274.5px,#18ffe7 284.5px,#0ff 286.5px,#00aeff 294.5px,#007eff 302.5px)"></i>
<i style="top:218px;height:1px;background:linear-gradient(90deg,#cfff30 0.5px,#ff0 7.5px,#ff9400 22.5px,#ff4000 33.5px,#ff0300 45.5px,#950000 79.5px,#800000 93.5px,#860000 122.5px,#900000 145.5px,#800000 178.5px,#830000 206.5px,#c60000 222.5px,#ff0300 233.5px,#ff5400 248.5px,#ff7400 256.5px,#ffe700 268.5px,#fffe00 270.5px,#beff41 275.5px,#18ffe7 284.5px,#0ff 286.5px,#00aeff 294.5px,#007dff 302.5px)"></i>
<i style="top:219px;height:1px;background:linear-gradient(90deg,#cfff30 0.5px,#ff0 7.5px,#ff9400 22.5px,#ff4000 33.5px,#ff0300 45.5px,#950000 79.5px,#800000 93.5px,#860000 122.5px,#900000 145.5px,#800000 178.5px,#840000 206.5px,#c70000 222.5px,#ff0300 233.5px,#ff5400 248.5px,#ff7500 256.5px,#ffe800 268.5px,#ff0 270.5px,#bdff42 275.5px,#18ffe7 284.5px,#0ff 286.5px,#00aeff 294.5px,#007dff 302.5px)"></i>
<i style="top:220px;height:1px;background:linear-gradient(90deg,#cfff30 0.5px,#ff0 7.5px,#ff9400 22.5px,#ff4000 33.5px,#ff0300 45.5px,#950000 79.5px,#800000 93.5px,#860000 122.5px,#900000 145.5px,#800000 178.5px,#840000 205.5px,#b30000 218.5px,#ff0400 233.5px,#ff5800 249.5px,#ff7600 256.5px,#ffea00 268.5px,#feff01 270.5px,#bcff43 275.5px,#18ffe7 284.5px,#0ff 286.5px,#00aeff 294.5px,#007dff 302.5px)"></i>
<i style="top:221px;height:1px;background:linear-gradient(90deg,#cfff30 0.5px,#ff0 7.5px,#ff9400 22.5px,#ff4000 33.5px,#ff0300 45.5px,#950000 79.5px,#800000 93.5px,#860000 122.5px,#900000 145.5px,#800000 178.5px,#850000 205.5px,#b40000 218.5px,#ff0400 233.5px,#ff5800 249.5px,#f70 256.5px,#fcff03 270.5px,#bf4 275.5px,#18ffe7 284.5px,#0ff 286.5px,#00aeff 294.5px,#007dff 302.5px)"></i>
<i style="top:222px;height:1px;background:linear-gradient(90deg,#cfff30 0.5px,#ff0 7.5px,#ff9400 22.5px,#ff4000 33.5px,#ff0300 45.5px,#950000 79.5px,#800000 93.5px,#860000 122.5px,#900000 145.5px,#800000 178.5px,#840000 204.5px,#a70000 215.5px,#ff0500 233.5px,#ff5900 249.5px,#ff7800 256.5px,#fbff04 270.5px,#baff45 275.5px,#18ffe7 284.5px,#0ff 286.5px,#00adff 294.5px,#007dff 302.5px)"></i>
<i style="top:223px;height:1px;background:linear-gradient(90deg,#cfff30 0.5px,#ff0 7.5px,#ff9400 22.5px,#ff4000 33.5px,#ff0300 45.5px,#950000 79.5px,#800000 93.5px,#860000 122.5px,#900000 145.5px,#800000 178.5px,#860000 204.5px,#a80000 215.5px,#f00 232.5px,#ff5d00 250.5px,#ff7a00 256.5px,#fffa00 269.5px,#d7ff28 273.5px,#70ff8f 279.5px,#18ffe7 284.5px,#0ff 286.5px,#00adff 294.5px,#007dff 302.5px)"></i>
<i style="top:224px;height:1px;background:linear-gradient(90deg,#cfff30 0.5px,#ff0 7.5px,#ff9400 22.5px,#ff4000 33.5px,#ff0300 45.5px,#950000 79.5px,#800000 93.5px,#860000 122.5px,#900000 145.5px,#800000 178.5px,#850000 203.5px,#a10000 213.5px,#ff0100 232.5px,#ff5d00 250.5px,#ff7b00 256.5px,#fffb00 269.5px,#c8ff37 274.5px,#18ffe7 284.5px,#0ff 286.5px,#00adff 294.5px,#007dff 302.5px)"></i>
<i style="top:225px;height:1px;background:linear-gradient(90deg,#cfff30 0.5px,#ff0 7.5px,#ff9400 22.5px,#ff4000 33.5px,#ff0300 45.5px,#950000 79.5px,#800000 93.5px,#860000 122.5px,#900000 145.5px,#800000 178.5px,#850000 202.5px,#9e0000 212.5px,#ff0100 232.5px,#ff6200 251.5px,#ff8400 257.5px,#fffc00 269.5px,#c7ff38 274.5px,#18ffe7 284.5px,#0ff 286.5px,#00adff 294.5px,#007dff 302.5px)"></i>
<i style="top:226px;height:1px;background:linear-gradient(90deg,#cfff30 0.5px,#ff0 7.5px,#ff9400 22.5px,#ff4000 33.5px,#ff0300 45.5px,#950000 79.5px,#800000 93.5px,#860000 122.5px,#900000 145.5px,#800000 178.5px,#860000 202.5px,#9f0000 212.5px,#ff0200 232.5px,#ff6200 251.5px,#ff8500 257.5px,#fffe00 269.5px,#b6ff49 275.5px,#18ffe7 284.5px,#0ff 286.5px,#00adff 294.5px,#007dff 302.5px)"></i>
<i style="top:227px;height:1px;background:linear-gradient(90deg,#cfff30 0.5px,#ff0 7.5px,#ff9400 22.5px,#ff4000 33.5px,#ff0300 45.5px,#950000 79.5px,#800000 93.5px,#860000 122.5px,#900000 145.5px,#800000 178.5px,#860000 201.5px,#9b0000 211.5px,#f60000 230.5px,#ff0d00 234.5px,#ff7e00 256.5px,#ff0 269.5px,#b6ff49 275.5px,#18ffe7 284.5px,#0ff 286.5px,#00adff 294.5px,#007cff 302.5px)"></i>
</div>
<div class="cb" style="left:546px;top:5px;width:8px;height:227px;background:linear-gradient(180deg,#800000 0px,#800000 2px,#940000 2px,#940000 7px,#a80000 7px,#a80000 11px,#bd0000 11px,#bd0000 16px,#d10000 16px,#d10000 20px,#e50000 20px,#e50000 25px,#fa0000 25px,#fa0000 30px,#ff0f00 30px,#ff0f00 34px,#ff2400 34px,#ff2400 39px,#ff3800 39px,#ff3800 43px,#ff4c00 43px,#ff4c00 48px,#ff6100 48px,#ff6100 52px,#ff7500 52px,#ff7500 57px,#ff8a00 57px,#ff8a00 61px,#ff9e00 61px,#ff9e00 66px,#ffb200 66px,#ffb200 70px,#ffc700 70px,#ffc700 75px,#ffdb00 75px,#ffdb00 79px,#fff000 79px,#fff000 84px,#faff05 84px,#faff05 89px,#e5ff1a 89px,#e5ff1a 93px,#d1ff2e 93px,#d1ff2e 98px,#bdff42 98px,#bdff42 102px,#a8ff57 102px,#a8ff57 107px,#94ff6b 107px,#94ff6b 111px,#80ff80 111px,#80ff80 116px,#6bff94 116px,#6bff94 120px,#57ffa8 120px,#57ffa8 125px,#42ffbd 125px,#42ffbd 129px,#2effd1 129px,#2effd1 134px,#1affe5 134px,#1affe5 138px,#05fffa 138px,#05fffa 143px,#00f0ff 143px,#00f0ff 148px,#00dbff 148px,#00dbff 152px,#00c7ff 152px,#00c7ff 157px,#00b2ff 157px,#00b2ff 161px,#009eff 161px,#009eff 166px,#008aff 166px,#008aff 170px,#0075ff 170px,#0075ff 175px,#0061ff 175px,#0061ff 179px,#004dff 179px,#004dff 184px,#0038ff 184px,#0038ff 188px,#0024ff 188px,#0024ff 193px,#000fff 193px,#000fff 197px,#0000fa 197px,#0000fa 202px,#0000e6 202px,#0000e6 207px,#0000d1 207px,#0000d1 211px,#0000bd 211px,#0000bd 216px,#0000a8 216px,#0000a8 220px,#000094 220px,#000094 225px,#000080 225px,#000080 227px)"></div>
<div class="cb" style="left:719px;top:318px;width:9px;height:227px;background:linear-gradient(180deg,#800000 0px,#800000 2px,#940000 2px,#940000 7px,#a80000 7px,#a80000 11px,#bd0000 11px,#bd0000 16px,#d10000 16px,#d10000 20px,#e50000 20px,#e50000 25px,#fa0000 25px,#fa0000 30px,#ff0f00 30px,#ff0f00 34px,#ff2400 34px,#ff2400 39px,#ff3800 39px,#ff3800 43px,#ff4c00 43px,#ff4c00 48px,#ff6100 48px,#ff6100 52px,#ff7500 52px,#ff7500 57px,#ff8a00 57px,#ff8a00 61px,#ff9e00 61px,#ff9e00 66px,#ffb200 66px,#ffb200 70px,#ffc700 70px,#ffc700 75px,#ffdb00 75px,#ffdb00 79px,#fff000 79px,#fff000 84px,#faff05 84px,#faff05 89px,#e5ff1a 89px,#e5ff1a 93px,#d1ff2e 93px,#d1ff2e 98px,#bdff42 98px,#bdff42 102px,#a8ff57 102px,#a8ff57 107px,#94ff6b 107px,#94ff6b 111px,#80ff80 111px,#80ff80 116px,#6bff94 116px,#6bff94 120px,#57ffa8 120px,#57ffa8 125px,#42ffbd 125px,#42ffbd 129px,#2effd1 129px,#2effd1 134px,#1affe5 134px,#1affe5 138px,#05fffa 138px,#05fffa 143px,#00f0ff 143px,#00f0ff 148px,#00dbff 148px,#00dbff 152px,#00c7ff 152px,#00c7ff 157px,#00b2ff 157px,#00b2ff 161px,#009eff 161px,#009eff 166px,#008aff 166px,#008aff 170px,#0075ff 170px,#0075ff 175px,#0061ff 175px,#0061ff 179px,#004dff 179px,#004dff 184px,#0038ff 184px,#0038ff 188px,#0024ff 188px,#0024ff 193px,#000fff 193px,#000fff 197px,#0000fa 197px,#0000fa 202px,#0000e6 202px,#0000e6 207px,#0000d1 207px,#0000d1 211px,#0000bd 211px,#0000bd 216px,#0000a8 216px,#0000a8 220px,#000094 220px,#000094 225px,#000080 225px,#000080 227px)"></div>
<b class="tk" style="left:552px;top:27.2px"></b>
<b class="tk" style="left:552px;top:49.9px"></b>
<b class="tk" style="left:552px;top:72.6px"></b>
<b class="tk" style="left:552px;top:95.3px"></b>
<b class="tk" style="left:552px;top:118.0px"></b>
<b class="tk" style="left:552px;top:140.7px"></b>
<b class="tk" style="left:552px;top:163.4px"></b>
<b class="tk" style="left:552px;top:186.1px"></b>
<b class="tk" style="left:552px;top:208.8px"></b>
<b class="tk" style="left:726px;top:340.2px"></b>
<b class="tk" style="left:726px;top:362.9px"></b>
<b class="tk" style="left:726px;top:385.6px"></b>
<b class="tk" style="left:726px;top:408.3px"></b>
<b class="tk" style="left:726px;top:431.0px"></b>
<b class="tk" style="left:726px;top:453.7px"></b>
<b class="tk" style="left:726px;top:476.4px"></b>
<b class="tk" style="left:726px;top:499.1px"></b>
<b class="tk" style="left:726px;top:521.8px"></b>
<svg class="ov" width="750" height="621" viewBox="0 0 750 621">
<text class="k" x="231.0" y="10.9" font-size="14.2" text-anchor="end" font-family='"Liberation Serif","Times New Roman",serif' fill="#111">90<tspan class="s" font-size="9.4" dx="0.6" dy="-2.9">0</tspan></text>
<text class="k" x="231.0" y="35.0" font-size="14.2" text-anchor="end" font-family='"Liberation Serif","Times New Roman",serif' fill="#111">80<tspan class="s" font-size="9.4" dx="0.6" dy="-2.9">0</tspan></text>
<text class="k" x="231.0" y="60.7" font-size="14.2" text-anchor="end" font-family='"Liberation Serif","Times New Roman",serif' fill="#111">70<tspan class="s" font-size="9.4" dx="0.6" dy="-2.9">0</tspan></text>
<text class="k" x="231.0" y="86.4" font-size="14.2" text-anchor="end" font-family='"Liberation Serif","Times New Roman",serif' fill="#111">60<tspan class="s" font-size="9.4" dx="0.6" dy="-2.9">0</tspan></text>
<text class="k" x="231.0" y="112.1" font-size="14.2" text-anchor="end" font-family='"Liberation Serif","Times New Roman",serif' fill="#111">50<tspan class="s" font-size="9.4" dx="0.6" dy="-2.9">0</tspan></text>
<text class="k" x="231.0" y="137.3" font-size="14.2" text-anchor="end" font-family='"Liberation Serif","Times New Roman",serif' fill="#111">40<tspan class="s" font-size="9.4" dx="0.6" dy="-2.9">0</tspan></text>
<text class="k" x="231.0" y="163.1" font-size="14.2" text-anchor="end" font-family='"Liberation Serif","Times New Roman",serif' fill="#111">30<tspan class="s" font-size="9.4" dx="0.6" dy="-2.9">0</tspan></text>
<text class="k" x="231.0" y="188.6" font-size="14.2" text-anchor="end" font-family='"Liberation Serif","Times New Roman",serif' fill="#111">20<tspan class="s" font-size="9.4" dx="0.6" dy="-2.9">0</tspan></text>
<text class="k" x="231.0" y="213.2" font-size="14.2" text-anchor="end" font-family='"Liberation Serif","Times New Roman",serif' fill="#111">10<tspan class="s" font-size="9.4" dx="0.6" dy="-2.9">0</tspan></text>
<text class="k" x="231.0" y="235.0" font-size="14.2" text-anchor="end" font-family='"Liberation Serif","Times New Roman",serif' fill="#111">0<tspan class="s" font-size="9.4" dx="0.6" dy="-2.9">0</tspan></text>
<text class="k" x="50.4" y="325.2" font-size="14.2" text-anchor="end" font-family='"Liberation Serif","Times New Roman",serif' fill="#111">65<tspan class="s" font-size="9.4" dx="0.6" dy="-4.5">0</tspan></text>
<text class="k" x="50.4" y="349.3" font-size="14.2" text-anchor="end" font-family='"Liberation Serif","Times New Roman",serif' fill="#111">60<tspan class="s" font-size="9.4" dx="0.6" dy="-4.5">0</tspan></text>
<text class="k" x="50.4" y="375.4" font-size="14.2" text-anchor="end" font-family='"Liberation Serif","Times New Roman",serif' fill="#111">55<tspan class="s" font-size="9.4" dx="0.6" dy="-4.5">0</tspan></text>
<text class="k" x="50.4" y="404.5" font-size="14.2" text-anchor="end" font-family='"Liberation Serif","Times New Roman",serif' fill="#111">50<tspan class="s" font-size="9.4" dx="0.6" dy="-4.5">0</tspan></text>
<text class="k" x="50.4" y="432.9" font-size="14.2" text-anchor="end" font-family='"Liberation Serif","Times New Roman",serif' fill="#111">40<tspan class="s" font-size="9.4" dx="0.6" dy="-4.5">0</tspan></text>
<text class="k" x="50.4" y="463.6" font-size="14.2" text-anchor="end" font-family='"Liberation Serif","Times New Roman",serif' fill="#111">30<tspan class="s" font-size="9.4" dx="0.6" dy="-4.5">0</tspan></text>
<text class="k" x="50.4" y="494.0" font-size="14.2" text-anchor="end" font-family='"Liberation Serif","Times New Roman",serif' fill="#111">20<tspan class="s" font-size="9.4" dx="0.6" dy="-4.5">0</tspan></text>
<text class="k" x="50.4" y="523.8" font-size="14.2" text-anchor="end" font-family='"Liberation Serif","Times New Roman",serif' fill="#111">10<tspan class="s" font-size="9.4" dx="0.6" dy="-4.5">0</tspan></text>
<text class="k" x="50.4" y="550.3" font-size="14.2" text-anchor="end" font-family='"Liberation Serif","Times New Roman",serif' fill="#111">0<tspan class="s" font-size="9.4" dx="0.6" dy="-4.5">0</tspan></text>
<text class="k" x="405.0" y="323.8" font-size="14.2" text-anchor="end" font-family='"Liberation Serif","Times New Roman",serif' fill="#111">65<tspan class="s" font-size="9.4" dx="0.6" dy="-4.5">0</tspan></text>
<text class="k" x="405.0" y="348.2" font-size="14.2" text-anchor="end" font-family='"Liberation Serif","Times New Roman",serif' fill="#111">60<tspan class="s" font-size="9.4" dx="0.6" dy="-4.5">0</tspan></text>
<text class="k" x="405.0" y="375.2" font-size="14.2" text-anchor="end" font-family='"Liberation Serif","Times New Roman",serif' fill="#111">55<tspan class="s" font-size="9.4" dx="0.6" dy="-4.5">0</tspan></text>
<text class="k" x="405.0" y="404.5" font-size="14.2" text-anchor="end" font-family='"Liberation Serif","Times New Roman",serif' fill="#111">50<tspan class="s" font-size="9.4" dx="0.6" dy="-4.5">0</tspan></text>
<text class="k" x="405.0" y="432.9" font-size="14.2" text-anchor="end" font-family='"Liberation Serif","Times New Roman",serif' fill="#111">40<tspan class="s" font-size="9.4" dx="0.6" dy="-4.5">0</tspan></text>
<text class="k" x="405.0" y="463.6" font-size="14.2" text-anchor="end" font-family='"Liberation Serif","Times New Roman",serif' fill="#111">30<tspan class="s" font-size="9.4" dx="0.6" dy="-4.5">0</tspan></text>
<text class="k" x="405.0" y="494.0" font-size="14.2" text-anchor="end" font-family='"Liberation Serif","Times New Roman",serif' fill="#111">20<tspan class="s" font-size="9.4" dx="0.6" dy="-4.5">0</tspan></text>
<text class="k" x="405.0" y="523.8" font-size="14.2" text-anchor="end" font-family='"Liberation Serif","Times New Roman",serif' fill="#111">10<tspan class="s" font-size="9.4" dx="0.6" dy="-4.5">0</tspan></text>
<text class="k" x="405.0" y="550.3" font-size="14.2" text-anchor="end" font-family='"Liberation Serif","Times New Roman",serif' fill="#111">0<tspan class="s" font-size="9.4" dx="0.6" dy="-4.5">0</tspan></text>
<text class="k" x="237.0" y="249.0" font-size="14.2" text-anchor="middle" font-family='"Liberation Serif","Times New Roman",serif' fill="#111">7</text>
<text class="k" x="272.7" y="249.0" font-size="14.2" text-anchor="middle" font-family='"Liberation Serif","Times New Roman",serif' fill="#111">8</text>
<text class="k" x="310.7" y="249.0" font-size="14.2" text-anchor="middle" font-family='"Liberation Serif","Times New Roman",serif' fill="#111">9</text>
<text class="k" x="349.6" y="249.0" font-size="14.2" text-anchor="middle" font-family='"Liberation Serif","Times New Roman",serif' fill="#111">10</text>
<text class="k" x="390.1" y="249.0" font-size="14.2" text-anchor="middle" font-family='"Liberation Serif","Times New Roman",serif' fill="#111">11</text>
<text class="k" x="429.5" y="249.0" font-size="14.2" text-anchor="middle" font-family='"Liberation Serif","Times New Roman",serif' fill="#111">12</text>
<text class="k" x="465.0" y="249.0" font-size="14.2" text-anchor="middle" font-family='"Liberation Serif","Times New Roman",serif' fill="#111">13</text>
<text class="k" x="501.8" y="249.0" font-size="14.2" text-anchor="middle" font-family='"Liberation Serif","Times New Roman",serif' fill="#111">14</text>
<text class="k" x="536.4" y="249.0" font-size="14.2" text-anchor="middle" font-family='"Liberation Serif","Times New Roman",serif' fill="#111">15</text>
<text class="k" x="55.5" y="563.4" font-size="14.2" text-anchor="middle" font-family='"Liberation Serif","Times New Roman",serif' fill="#111">7</text>
<text class="k" x="91.2" y="563.4" font-size="14.2" text-anchor="middle" font-family='"Liberation Serif","Times New Roman",serif' fill="#111">8</text>
<text class="k" x="129.6" y="563.4" font-size="14.2" text-anchor="middle" font-family='"Liberation Serif","Times New Roman",serif' fill="#111">9</text>
<text class="k" x="168.7" y="563.4" font-size="14.2" text-anchor="middle" font-family='"Liberation Serif","Times New Roman",serif' fill="#111">10</text>
<text class="k" x="209.0" y="563.4" font-size="14.2" text-anchor="middle" font-family='"Liberation Serif","Times New Roman",serif' fill="#111">11</text>
<text class="k" x="248.1" y="563.4" font-size="14.2" text-anchor="middle" font-family='"Liberation Serif","Times New Roman",serif' fill="#111">12</text>
<text class="k" x="283.9" y="563.4" font-size="14.2" text-anchor="middle" font-family='"Liberation Serif","Times New Roman",serif' fill="#111">13</text>
<text class="k" x="320.0" y="563.4" font-size="14.2" text-anchor="middle" font-family='"Liberation Serif","Times New Roman",serif' fill="#111">14</text>
<text class="k" x="357.2" y="563.4" font-size="14.2" text-anchor="middle" font-family='"Liberation Serif","Times New Roman",serif' fill="#111">15</text>
<text class="k" x="411.0" y="562.9" font-size="14.2" text-anchor="middle" font-family='"Liberation Serif","Times New Roman",serif' fill="#111">7</text>
<text class="k" x="446.7" y="562.9" font-size="14.2" text-anchor="middle" font-family='"Liberation Serif","Times New Roman",serif' fill="#111">8</text>
<text class="k" x="484.9" y="562.9" font-size="14.2" text-anchor="middle" font-family='"Liberation Serif","Times New Roman",serif' fill="#111">9</text>
<text class="k" x="523.7" y="562.9" font-size="14.2" text-anchor="middle" font-family='"Liberation Serif","Times New Roman",serif' fill="#111">10</text>
<text class="k" x="564.0" y="562.9" font-size="14.2" text-anchor="middle" font-family='"Liberation Serif","Times New Roman",serif' fill="#111">11</text>
<text class="k" x="603.4" y="562.9" font-size="14.2" text-anchor="middle" font-family='"Liberation Serif","Times New Roman",serif' fill="#111">12</text>
<text class="k" x="639.1" y="562.9" font-size="14.2" text-anchor="middle" font-family='"Liberation Serif","Times New Roman",serif' fill="#111">13</text>
<text class="k" x="675.4" y="562.9" font-size="14.2" text-anchor="middle" font-family='"Liberation Serif","Times New Roman",serif' fill="#111">14</text>
<text class="k" x="711.2" y="562.9" font-size="14.2" text-anchor="middle" font-family='"Liberation Serif","Times New Roman",serif' fill="#111">15</text>
<text class="k" x="558.0" y="10.9" font-size="12.50" text-anchor="start" font-weight="normal" font-family='"Liberation Serif","Times New Roman",serif' fill="#111">1.0</text>
<text class="k" x="732.0" y="323.7" font-size="12.50" text-anchor="start" font-weight="normal" font-family='"Liberation Serif","Times New Roman",serif' fill="#111">1.0</text>
<text class="k" x="558.0" y="33.1" font-size="12.50" text-anchor="start" font-weight="normal" font-family='"Liberation Serif","Times New Roman",serif' fill="#111">0.9</text>
<text class="k" x="732.0" y="346.4" font-size="12.50" text-anchor="start" font-weight="normal" font-family='"Liberation Serif","Times New Roman",serif' fill="#111">0.9</text>
<text class="k" x="558.0" y="55.3" font-size="12.50" text-anchor="start" font-weight="normal" font-family='"Liberation Serif","Times New Roman",serif' fill="#111">0.8</text>
<text class="k" x="732.0" y="368.6" font-size="12.50" text-anchor="start" font-weight="normal" font-family='"Liberation Serif","Times New Roman",serif' fill="#111">0.8</text>
<text class="k" x="558.0" y="77.5" font-size="12.50" text-anchor="start" font-weight="normal" font-family='"Liberation Serif","Times New Roman",serif' fill="#111">0.7</text>
<text class="k" x="732.0" y="390.7" font-size="12.50" text-anchor="start" font-weight="normal" font-family='"Liberation Serif","Times New Roman",serif' fill="#111">0.7</text>
<text class="k" x="558.0" y="100.3" font-size="12.50" text-anchor="start" font-weight="normal" font-family='"Liberation Serif","Times New Roman",serif' fill="#111">0.6</text>
<text class="k" x="732.0" y="412.8" font-size="12.50" text-anchor="start" font-weight="normal" font-family='"Liberation Serif","Times New Roman",serif' fill="#111">0.6</text>
<text class="k" x="558.0" y="124.1" font-size="12.50" text-anchor="start" font-weight="normal" font-family='"Liberation Serif","Times New Roman",serif' fill="#111">0.5</text>
<text class="k" x="732.0" y="436.1" font-size="12.50" text-anchor="start" font-weight="normal" font-family='"Liberation Serif","Times New Roman",serif' fill="#111">0.5</text>
<text class="k" x="558.0" y="146.8" font-size="12.50" text-anchor="start" font-weight="normal" font-family='"Liberation Serif","Times New Roman",serif' fill="#111">0.4</text>
<text class="k" x="732.0" y="459.0" font-size="12.50" text-anchor="start" font-weight="normal" font-family='"Liberation Serif","Times New Roman",serif' fill="#111">0.4</text>
<text class="k" x="558.0" y="169.6" font-size="12.50" text-anchor="start" font-weight="normal" font-family='"Liberation Serif","Times New Roman",serif' fill="#111">0.3</text>
<text class="k" x="732.0" y="482.0" font-size="12.50" text-anchor="start" font-weight="normal" font-family='"Liberation Serif","Times New Roman",serif' fill="#111">0.3</text>
<text class="k" x="558.0" y="192.4" font-size="12.50" text-anchor="start" font-weight="normal" font-family='"Liberation Serif","Times New Roman",serif' fill="#111">0.2</text>
<text class="k" x="732.0" y="505.0" font-size="12.50" text-anchor="start" font-weight="normal" font-family='"Liberation Serif","Times New Roman",serif' fill="#111">0.2</text>
<text class="k" x="558.0" y="215.4" font-size="12.50" text-anchor="start" font-weight="normal" font-family='"Liberation Serif","Times New Roman",serif' fill="#111">0.1</text>
<text class="k" x="732.0" y="528.0" font-size="12.50" text-anchor="start" font-weight="normal" font-family='"Liberation Serif","Times New Roman",serif' fill="#111">0.1</text>
<text class="k" x="558.0" y="237.2" font-size="12.50" text-anchor="start" font-weight="normal" font-family='"Liberation Serif","Times New Roman",serif' fill="#111">0.0</text>
<text class="k" x="732.0" y="547.2" font-size="12.50" text-anchor="start" font-weight="normal" font-family='"Liberation Serif","Times New Roman",serif' fill="#111">0.0</text>
<text class="k" x="378.3" y="271.8" font-size="15.90" text-anchor="middle" font-weight="normal" font-family='"Liberation Serif","Times New Roman",serif' fill="#111">Frequency [GHz]</text>
<text class="k" x="196.6" y="585.8" font-size="15.90" text-anchor="middle" font-weight="normal" font-family='"Liberation Serif","Times New Roman",serif' fill="#111">Frequency [GHz]</text>
<text class="k" x="552.2" y="585.4" font-size="15.90" text-anchor="middle" font-weight="normal" font-family='"Liberation Serif","Times New Roman",serif' fill="#111">Frequency [GHz]</text>
<text class="k" x="382.9" y="299.0" font-size="21.00" text-anchor="middle" font-weight="normal" font-family='"Liberation Serif","Times New Roman",serif' fill="#111">(a)</text>
<text class="k" x="195.0" y="614.8" font-size="21.00" text-anchor="middle" font-weight="normal" font-family='"Liberation Serif","Times New Roman",serif' fill="#111">(b)</text>
<text class="k" x="557.6" y="612.8" font-size="21.00" text-anchor="middle" font-weight="normal" font-family='"Liberation Serif","Times New Roman",serif' fill="#111">(c)</text>
<text transform="translate(197,115.9) rotate(-90)" font-size="19" text-anchor="middle" font-family='"Liberation Sans",Arial,sans-serif' fill="#111" textLength="158" lengthAdjust="spacingAndGlyphs">Polarization Angle</text>
<text transform="translate(15.2,428.6) rotate(-90)" font-size="18.6" text-anchor="middle" font-family='"Liberation Sans",Arial,sans-serif' fill="#111" textLength="127" lengthAdjust="spacingAndGlyphs">Incident Angle</text>
<text x="394.6" y="35.8" font-size="17.00" text-anchor="middle" font-weight="bold" font-family='"Liberation Serif","Times New Roman",serif' fill="#fff">Under normal incidence</text>
<text x="199.4" y="356.4" font-size="24.00" text-anchor="middle" font-weight="bold" font-family='"Liberation Serif","Times New Roman",serif' fill="#fff">TE</text>
<text x="564.2" y="359.3" font-size="24.00" text-anchor="middle" font-weight="bold" font-family='"Liberation Serif","Times New Roman",serif' fill="#fff">TM</text>
</svg>
</div>
</body></html>
